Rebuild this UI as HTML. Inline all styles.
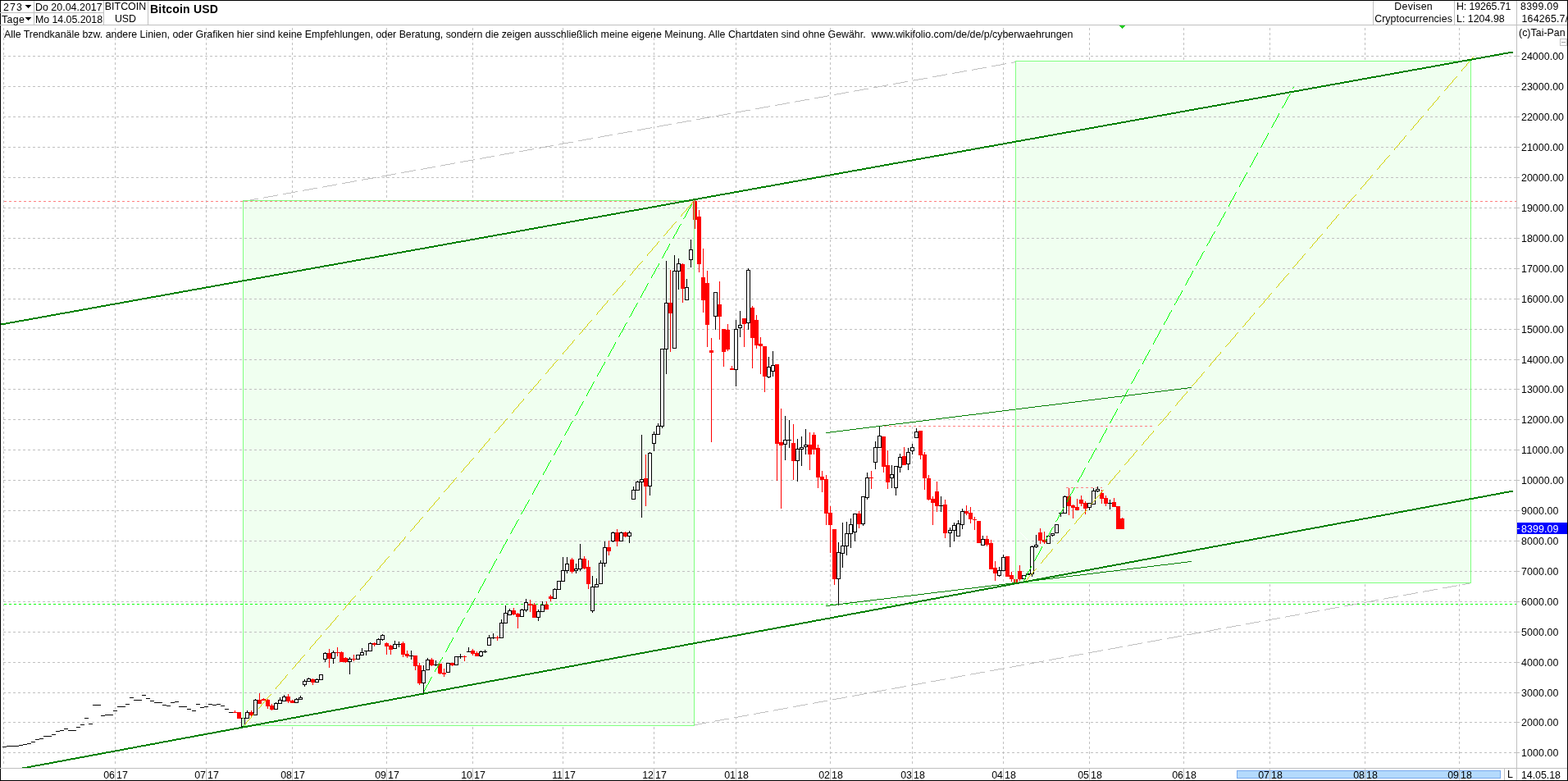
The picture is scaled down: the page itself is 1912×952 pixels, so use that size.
<!DOCTYPE html>
<html><head><meta charset="utf-8"><title>Bitcoin USD</title>
<style>html,body{margin:0;padding:0;background:#fff;overflow:hidden}svg{display:block}
text{white-space:pre}</style></head>
<body>
<svg width="1912" height="952" viewBox="0 0 1912 952" shape-rendering="crispEdges">
<rect x="0" y="0" width="1912" height="952" fill="#ffffff"/>
<defs><clipPath id="ch"><rect x="1" y="31" width="1848" height="905"/></clipPath></defs>
<g clip-path="url(#ch)">
<path d="M4 34h1v3h-1zM4 40h1v3h-1zM4 46h1v3h-1zM4 52h1v3h-1zM4 58h1v3h-1zM4 64h1v3h-1zM4 70h1v3h-1zM4 76h1v3h-1zM4 82h1v3h-1zM4 88h1v3h-1zM4 94h1v3h-1zM4 100h1v3h-1zM4 106h1v3h-1zM4 112h1v3h-1zM4 118h1v3h-1zM4 124h1v3h-1zM4 130h1v3h-1zM4 136h1v3h-1zM4 142h1v3h-1zM4 148h1v3h-1zM4 154h1v3h-1zM4 160h1v3h-1zM4 166h1v3h-1zM4 172h1v3h-1zM4 178h1v3h-1zM4 184h1v3h-1zM4 190h1v3h-1zM4 196h1v3h-1zM4 202h1v3h-1zM4 208h1v3h-1zM4 214h1v3h-1zM4 220h1v3h-1zM4 226h1v3h-1zM4 232h1v3h-1zM4 238h1v3h-1zM4 244h1v3h-1zM4 250h1v3h-1zM4 256h1v3h-1zM4 262h1v3h-1zM4 268h1v3h-1zM4 274h1v3h-1zM4 280h1v3h-1zM4 286h1v3h-1zM4 292h1v3h-1zM4 298h1v3h-1zM4 304h1v3h-1zM4 310h1v3h-1zM4 316h1v3h-1zM4 322h1v3h-1zM4 328h1v3h-1zM4 334h1v3h-1zM4 340h1v3h-1zM4 346h1v3h-1zM4 352h1v3h-1zM4 358h1v3h-1zM4 364h1v3h-1zM4 370h1v3h-1zM4 376h1v3h-1zM4 382h1v3h-1zM4 388h1v3h-1zM4 394h1v3h-1zM4 400h1v3h-1zM4 406h1v3h-1zM4 412h1v3h-1zM4 418h1v3h-1zM4 424h1v3h-1zM4 430h1v3h-1zM4 436h1v3h-1zM4 442h1v3h-1zM4 448h1v3h-1zM4 454h1v3h-1zM4 460h1v3h-1zM4 466h1v3h-1zM4 472h1v3h-1zM4 478h1v3h-1zM4 484h1v3h-1zM4 490h1v3h-1zM4 496h1v3h-1zM4 502h1v3h-1zM4 508h1v3h-1zM4 514h1v3h-1zM4 520h1v3h-1zM4 526h1v3h-1zM4 532h1v3h-1zM4 538h1v3h-1zM4 544h1v3h-1zM4 550h1v3h-1zM4 556h1v3h-1zM4 562h1v3h-1zM4 568h1v3h-1zM4 574h1v3h-1zM4 580h1v3h-1zM4 586h1v3h-1zM4 592h1v3h-1zM4 598h1v3h-1zM4 604h1v3h-1zM4 610h1v3h-1zM4 616h1v3h-1zM4 622h1v3h-1zM4 628h1v3h-1zM4 634h1v3h-1zM4 640h1v3h-1zM4 646h1v3h-1zM4 652h1v3h-1zM4 658h1v3h-1zM4 664h1v3h-1zM4 670h1v3h-1zM4 676h1v3h-1zM4 682h1v3h-1zM4 688h1v3h-1zM4 694h1v3h-1zM4 700h1v3h-1zM4 706h1v3h-1zM4 712h1v3h-1zM4 718h1v3h-1zM4 724h1v3h-1zM4 730h1v3h-1zM4 736h1v3h-1zM4 742h1v3h-1zM4 748h1v3h-1zM4 754h1v3h-1zM4 760h1v3h-1zM4 766h1v3h-1zM4 772h1v3h-1zM4 778h1v3h-1zM4 784h1v3h-1zM4 790h1v3h-1zM4 796h1v3h-1zM4 802h1v3h-1zM4 808h1v3h-1zM4 814h1v3h-1zM4 820h1v3h-1zM4 826h1v3h-1zM4 832h1v3h-1zM4 838h1v3h-1zM4 844h1v3h-1zM4 850h1v3h-1zM4 856h1v3h-1zM4 862h1v3h-1zM4 868h1v3h-1zM4 874h1v3h-1zM4 880h1v3h-1zM4 886h1v3h-1zM4 892h1v3h-1zM4 898h1v3h-1zM4 904h1v3h-1zM4 910h1v3h-1zM4 916h1v3h-1zM4 922h1v3h-1zM4 928h1v3h-1zM140 34h1v3h-1zM140 40h1v3h-1zM140 46h1v3h-1zM140 52h1v3h-1zM140 58h1v3h-1zM140 64h1v3h-1zM140 70h1v3h-1zM140 76h1v3h-1zM140 82h1v3h-1zM140 88h1v3h-1zM140 94h1v3h-1zM140 100h1v3h-1zM140 106h1v3h-1zM140 112h1v3h-1zM140 118h1v3h-1zM140 124h1v3h-1zM140 130h1v3h-1zM140 136h1v3h-1zM140 142h1v3h-1zM140 148h1v3h-1zM140 154h1v3h-1zM140 160h1v3h-1zM140 166h1v3h-1zM140 172h1v3h-1zM140 178h1v3h-1zM140 184h1v3h-1zM140 190h1v3h-1zM140 196h1v3h-1zM140 202h1v3h-1zM140 208h1v3h-1zM140 214h1v3h-1zM140 220h1v3h-1zM140 226h1v3h-1zM140 232h1v3h-1zM140 238h1v3h-1zM140 244h1v3h-1zM140 250h1v3h-1zM140 256h1v3h-1zM140 262h1v3h-1zM140 268h1v3h-1zM140 274h1v3h-1zM140 280h1v3h-1zM140 286h1v3h-1zM140 292h1v3h-1zM140 298h1v3h-1zM140 304h1v3h-1zM140 310h1v3h-1zM140 316h1v3h-1zM140 322h1v3h-1zM140 328h1v3h-1zM140 334h1v3h-1zM140 340h1v3h-1zM140 346h1v3h-1zM140 352h1v3h-1zM140 358h1v3h-1zM140 364h1v3h-1zM140 370h1v3h-1zM140 376h1v3h-1zM140 382h1v3h-1zM140 388h1v3h-1zM140 394h1v3h-1zM140 400h1v3h-1zM140 406h1v3h-1zM140 412h1v3h-1zM140 418h1v3h-1zM140 424h1v3h-1zM140 430h1v3h-1zM140 436h1v3h-1zM140 442h1v3h-1zM140 448h1v3h-1zM140 454h1v3h-1zM140 460h1v3h-1zM140 466h1v3h-1zM140 472h1v3h-1zM140 478h1v3h-1zM140 484h1v3h-1zM140 490h1v3h-1zM140 496h1v3h-1zM140 502h1v3h-1zM140 508h1v3h-1zM140 514h1v3h-1zM140 520h1v3h-1zM140 526h1v3h-1zM140 532h1v3h-1zM140 538h1v3h-1zM140 544h1v3h-1zM140 550h1v3h-1zM140 556h1v3h-1zM140 562h1v3h-1zM140 568h1v3h-1zM140 574h1v3h-1zM140 580h1v3h-1zM140 586h1v3h-1zM140 592h1v3h-1zM140 598h1v3h-1zM140 604h1v3h-1zM140 610h1v3h-1zM140 616h1v3h-1zM140 622h1v3h-1zM140 628h1v3h-1zM140 634h1v3h-1zM140 640h1v3h-1zM140 646h1v3h-1zM140 652h1v3h-1zM140 658h1v3h-1zM140 664h1v3h-1zM140 670h1v3h-1zM140 676h1v3h-1zM140 682h1v3h-1zM140 688h1v3h-1zM140 694h1v3h-1zM140 700h1v3h-1zM140 706h1v3h-1zM140 712h1v3h-1zM140 718h1v3h-1zM140 724h1v3h-1zM140 730h1v3h-1zM140 736h1v3h-1zM140 742h1v3h-1zM140 748h1v3h-1zM140 754h1v3h-1zM140 760h1v3h-1zM140 766h1v3h-1zM140 772h1v3h-1zM140 778h1v3h-1zM140 784h1v3h-1zM140 790h1v3h-1zM140 796h1v3h-1zM140 802h1v3h-1zM140 808h1v3h-1zM140 814h1v3h-1zM140 820h1v3h-1zM140 826h1v3h-1zM140 832h1v3h-1zM140 838h1v3h-1zM140 844h1v3h-1zM140 850h1v3h-1zM140 856h1v3h-1zM140 862h1v3h-1zM140 868h1v3h-1zM140 874h1v3h-1zM140 880h1v3h-1zM140 886h1v3h-1zM140 892h1v3h-1zM140 898h1v3h-1zM140 904h1v3h-1zM140 910h1v3h-1zM140 916h1v3h-1zM140 922h1v3h-1zM140 928h1v3h-1zM251 34h1v3h-1zM251 40h1v3h-1zM251 46h1v3h-1zM251 52h1v3h-1zM251 58h1v3h-1zM251 64h1v3h-1zM251 70h1v3h-1zM251 76h1v3h-1zM251 82h1v3h-1zM251 88h1v3h-1zM251 94h1v3h-1zM251 100h1v3h-1zM251 106h1v3h-1zM251 112h1v3h-1zM251 118h1v3h-1zM251 124h1v3h-1zM251 130h1v3h-1zM251 136h1v3h-1zM251 142h1v3h-1zM251 148h1v3h-1zM251 154h1v3h-1zM251 160h1v3h-1zM251 166h1v3h-1zM251 172h1v3h-1zM251 178h1v3h-1zM251 184h1v3h-1zM251 190h1v3h-1zM251 196h1v3h-1zM251 202h1v3h-1zM251 208h1v3h-1zM251 214h1v3h-1zM251 220h1v3h-1zM251 226h1v3h-1zM251 232h1v3h-1zM251 238h1v3h-1zM251 244h1v3h-1zM251 250h1v3h-1zM251 256h1v3h-1zM251 262h1v3h-1zM251 268h1v3h-1zM251 274h1v3h-1zM251 280h1v3h-1zM251 286h1v3h-1zM251 292h1v3h-1zM251 298h1v3h-1zM251 304h1v3h-1zM251 310h1v3h-1zM251 316h1v3h-1zM251 322h1v3h-1zM251 328h1v3h-1zM251 334h1v3h-1zM251 340h1v3h-1zM251 346h1v3h-1zM251 352h1v3h-1zM251 358h1v3h-1zM251 364h1v3h-1zM251 370h1v3h-1zM251 376h1v3h-1zM251 382h1v3h-1zM251 388h1v3h-1zM251 394h1v3h-1zM251 400h1v3h-1zM251 406h1v3h-1zM251 412h1v3h-1zM251 418h1v3h-1zM251 424h1v3h-1zM251 430h1v3h-1zM251 436h1v3h-1zM251 442h1v3h-1zM251 448h1v3h-1zM251 454h1v3h-1zM251 460h1v3h-1zM251 466h1v3h-1zM251 472h1v3h-1zM251 478h1v3h-1zM251 484h1v3h-1zM251 490h1v3h-1zM251 496h1v3h-1zM251 502h1v3h-1zM251 508h1v3h-1zM251 514h1v3h-1zM251 520h1v3h-1zM251 526h1v3h-1zM251 532h1v3h-1zM251 538h1v3h-1zM251 544h1v3h-1zM251 550h1v3h-1zM251 556h1v3h-1zM251 562h1v3h-1zM251 568h1v3h-1zM251 574h1v3h-1zM251 580h1v3h-1zM251 586h1v3h-1zM251 592h1v3h-1zM251 598h1v3h-1zM251 604h1v3h-1zM251 610h1v3h-1zM251 616h1v3h-1zM251 622h1v3h-1zM251 628h1v3h-1zM251 634h1v3h-1zM251 640h1v3h-1zM251 646h1v3h-1zM251 652h1v3h-1zM251 658h1v3h-1zM251 664h1v3h-1zM251 670h1v3h-1zM251 676h1v3h-1zM251 682h1v3h-1zM251 688h1v3h-1zM251 694h1v3h-1zM251 700h1v3h-1zM251 706h1v3h-1zM251 712h1v3h-1zM251 718h1v3h-1zM251 724h1v3h-1zM251 730h1v3h-1zM251 736h1v3h-1zM251 742h1v3h-1zM251 748h1v3h-1zM251 754h1v3h-1zM251 760h1v3h-1zM251 766h1v3h-1zM251 772h1v3h-1zM251 778h1v3h-1zM251 784h1v3h-1zM251 790h1v3h-1zM251 796h1v3h-1zM251 802h1v3h-1zM251 808h1v3h-1zM251 814h1v3h-1zM251 820h1v3h-1zM251 826h1v3h-1zM251 832h1v3h-1zM251 838h1v3h-1zM251 844h1v3h-1zM251 850h1v3h-1zM251 856h1v3h-1zM251 862h1v3h-1zM251 868h1v3h-1zM251 874h1v3h-1zM251 880h1v3h-1zM251 886h1v3h-1zM251 892h1v3h-1zM251 898h1v3h-1zM251 904h1v3h-1zM251 910h1v3h-1zM251 916h1v3h-1zM251 922h1v3h-1zM251 928h1v3h-1zM356 34h1v3h-1zM356 40h1v3h-1zM356 46h1v3h-1zM356 52h1v3h-1zM356 58h1v3h-1zM356 64h1v3h-1zM356 70h1v3h-1zM356 76h1v3h-1zM356 82h1v3h-1zM356 88h1v3h-1zM356 94h1v3h-1zM356 100h1v3h-1zM356 106h1v3h-1zM356 112h1v3h-1zM356 118h1v3h-1zM356 124h1v3h-1zM356 130h1v3h-1zM356 136h1v3h-1zM356 142h1v3h-1zM356 148h1v3h-1zM356 154h1v3h-1zM356 160h1v3h-1zM356 166h1v3h-1zM356 172h1v3h-1zM356 178h1v3h-1zM356 184h1v3h-1zM356 190h1v3h-1zM356 196h1v3h-1zM356 202h1v3h-1zM356 208h1v3h-1zM356 214h1v3h-1zM356 220h1v3h-1zM356 226h1v3h-1zM356 232h1v3h-1zM356 238h1v3h-1zM356 244h1v3h-1zM356 250h1v3h-1zM356 256h1v3h-1zM356 262h1v3h-1zM356 268h1v3h-1zM356 274h1v3h-1zM356 280h1v3h-1zM356 286h1v3h-1zM356 292h1v3h-1zM356 298h1v3h-1zM356 304h1v3h-1zM356 310h1v3h-1zM356 316h1v3h-1zM356 322h1v3h-1zM356 328h1v3h-1zM356 334h1v3h-1zM356 340h1v3h-1zM356 346h1v3h-1zM356 352h1v3h-1zM356 358h1v3h-1zM356 364h1v3h-1zM356 370h1v3h-1zM356 376h1v3h-1zM356 382h1v3h-1zM356 388h1v3h-1zM356 394h1v3h-1zM356 400h1v3h-1zM356 406h1v3h-1zM356 412h1v3h-1zM356 418h1v3h-1zM356 424h1v3h-1zM356 430h1v3h-1zM356 436h1v3h-1zM356 442h1v3h-1zM356 448h1v3h-1zM356 454h1v3h-1zM356 460h1v3h-1zM356 466h1v3h-1zM356 472h1v3h-1zM356 478h1v3h-1zM356 484h1v3h-1zM356 490h1v3h-1zM356 496h1v3h-1zM356 502h1v3h-1zM356 508h1v3h-1zM356 514h1v3h-1zM356 520h1v3h-1zM356 526h1v3h-1zM356 532h1v3h-1zM356 538h1v3h-1zM356 544h1v3h-1zM356 550h1v3h-1zM356 556h1v3h-1zM356 562h1v3h-1zM356 568h1v3h-1zM356 574h1v3h-1zM356 580h1v3h-1zM356 586h1v3h-1zM356 592h1v3h-1zM356 598h1v3h-1zM356 604h1v3h-1zM356 610h1v3h-1zM356 616h1v3h-1zM356 622h1v3h-1zM356 628h1v3h-1zM356 634h1v3h-1zM356 640h1v3h-1zM356 646h1v3h-1zM356 652h1v3h-1zM356 658h1v3h-1zM356 664h1v3h-1zM356 670h1v3h-1zM356 676h1v3h-1zM356 682h1v3h-1zM356 688h1v3h-1zM356 694h1v3h-1zM356 700h1v3h-1zM356 706h1v3h-1zM356 712h1v3h-1zM356 718h1v3h-1zM356 724h1v3h-1zM356 730h1v3h-1zM356 736h1v3h-1zM356 742h1v3h-1zM356 748h1v3h-1zM356 754h1v3h-1zM356 760h1v3h-1zM356 766h1v3h-1zM356 772h1v3h-1zM356 778h1v3h-1zM356 784h1v3h-1zM356 790h1v3h-1zM356 796h1v3h-1zM356 802h1v3h-1zM356 808h1v3h-1zM356 814h1v3h-1zM356 820h1v3h-1zM356 826h1v3h-1zM356 832h1v3h-1zM356 838h1v3h-1zM356 844h1v3h-1zM356 850h1v3h-1zM356 856h1v3h-1zM356 862h1v3h-1zM356 868h1v3h-1zM356 874h1v3h-1zM356 880h1v3h-1zM356 886h1v3h-1zM356 892h1v3h-1zM356 898h1v3h-1zM356 904h1v3h-1zM356 910h1v3h-1zM356 916h1v3h-1zM356 922h1v3h-1zM356 928h1v3h-1zM471 34h1v3h-1zM471 40h1v3h-1zM471 46h1v3h-1zM471 52h1v3h-1zM471 58h1v3h-1zM471 64h1v3h-1zM471 70h1v3h-1zM471 76h1v3h-1zM471 82h1v3h-1zM471 88h1v3h-1zM471 94h1v3h-1zM471 100h1v3h-1zM471 106h1v3h-1zM471 112h1v3h-1zM471 118h1v3h-1zM471 124h1v3h-1zM471 130h1v3h-1zM471 136h1v3h-1zM471 142h1v3h-1zM471 148h1v3h-1zM471 154h1v3h-1zM471 160h1v3h-1zM471 166h1v3h-1zM471 172h1v3h-1zM471 178h1v3h-1zM471 184h1v3h-1zM471 190h1v3h-1zM471 196h1v3h-1zM471 202h1v3h-1zM471 208h1v3h-1zM471 214h1v3h-1zM471 220h1v3h-1zM471 226h1v3h-1zM471 232h1v3h-1zM471 238h1v3h-1zM471 244h1v3h-1zM471 250h1v3h-1zM471 256h1v3h-1zM471 262h1v3h-1zM471 268h1v3h-1zM471 274h1v3h-1zM471 280h1v3h-1zM471 286h1v3h-1zM471 292h1v3h-1zM471 298h1v3h-1zM471 304h1v3h-1zM471 310h1v3h-1zM471 316h1v3h-1zM471 322h1v3h-1zM471 328h1v3h-1zM471 334h1v3h-1zM471 340h1v3h-1zM471 346h1v3h-1zM471 352h1v3h-1zM471 358h1v3h-1zM471 364h1v3h-1zM471 370h1v3h-1zM471 376h1v3h-1zM471 382h1v3h-1zM471 388h1v3h-1zM471 394h1v3h-1zM471 400h1v3h-1zM471 406h1v3h-1zM471 412h1v3h-1zM471 418h1v3h-1zM471 424h1v3h-1zM471 430h1v3h-1zM471 436h1v3h-1zM471 442h1v3h-1zM471 448h1v3h-1zM471 454h1v3h-1zM471 460h1v3h-1zM471 466h1v3h-1zM471 472h1v3h-1zM471 478h1v3h-1zM471 484h1v3h-1zM471 490h1v3h-1zM471 496h1v3h-1zM471 502h1v3h-1zM471 508h1v3h-1zM471 514h1v3h-1zM471 520h1v3h-1zM471 526h1v3h-1zM471 532h1v3h-1zM471 538h1v3h-1zM471 544h1v3h-1zM471 550h1v3h-1zM471 556h1v3h-1zM471 562h1v3h-1zM471 568h1v3h-1zM471 574h1v3h-1zM471 580h1v3h-1zM471 586h1v3h-1zM471 592h1v3h-1zM471 598h1v3h-1zM471 604h1v3h-1zM471 610h1v3h-1zM471 616h1v3h-1zM471 622h1v3h-1zM471 628h1v3h-1zM471 634h1v3h-1zM471 640h1v3h-1zM471 646h1v3h-1zM471 652h1v3h-1zM471 658h1v3h-1zM471 664h1v3h-1zM471 670h1v3h-1zM471 676h1v3h-1zM471 682h1v3h-1zM471 688h1v3h-1zM471 694h1v3h-1zM471 700h1v3h-1zM471 706h1v3h-1zM471 712h1v3h-1zM471 718h1v3h-1zM471 724h1v3h-1zM471 730h1v3h-1zM471 736h1v3h-1zM471 742h1v3h-1zM471 748h1v3h-1zM471 754h1v3h-1zM471 760h1v3h-1zM471 766h1v3h-1zM471 772h1v3h-1zM471 778h1v3h-1zM471 784h1v3h-1zM471 790h1v3h-1zM471 796h1v3h-1zM471 802h1v3h-1zM471 808h1v3h-1zM471 814h1v3h-1zM471 820h1v3h-1zM471 826h1v3h-1zM471 832h1v3h-1zM471 838h1v3h-1zM471 844h1v3h-1zM471 850h1v3h-1zM471 856h1v3h-1zM471 862h1v3h-1zM471 868h1v3h-1zM471 874h1v3h-1zM471 880h1v3h-1zM471 886h1v3h-1zM471 892h1v3h-1zM471 898h1v3h-1zM471 904h1v3h-1zM471 910h1v3h-1zM471 916h1v3h-1zM471 922h1v3h-1zM471 928h1v3h-1zM576 34h1v3h-1zM576 40h1v3h-1zM576 46h1v3h-1zM576 52h1v3h-1zM576 58h1v3h-1zM576 64h1v3h-1zM576 70h1v3h-1zM576 76h1v3h-1zM576 82h1v3h-1zM576 88h1v3h-1zM576 94h1v3h-1zM576 100h1v3h-1zM576 106h1v3h-1zM576 112h1v3h-1zM576 118h1v3h-1zM576 124h1v3h-1zM576 130h1v3h-1zM576 136h1v3h-1zM576 142h1v3h-1zM576 148h1v3h-1zM576 154h1v3h-1zM576 160h1v3h-1zM576 166h1v3h-1zM576 172h1v3h-1zM576 178h1v3h-1zM576 184h1v3h-1zM576 190h1v3h-1zM576 196h1v3h-1zM576 202h1v3h-1zM576 208h1v3h-1zM576 214h1v3h-1zM576 220h1v3h-1zM576 226h1v3h-1zM576 232h1v3h-1zM576 238h1v3h-1zM576 244h1v3h-1zM576 250h1v3h-1zM576 256h1v3h-1zM576 262h1v3h-1zM576 268h1v3h-1zM576 274h1v3h-1zM576 280h1v3h-1zM576 286h1v3h-1zM576 292h1v3h-1zM576 298h1v3h-1zM576 304h1v3h-1zM576 310h1v3h-1zM576 316h1v3h-1zM576 322h1v3h-1zM576 328h1v3h-1zM576 334h1v3h-1zM576 340h1v3h-1zM576 346h1v3h-1zM576 352h1v3h-1zM576 358h1v3h-1zM576 364h1v3h-1zM576 370h1v3h-1zM576 376h1v3h-1zM576 382h1v3h-1zM576 388h1v3h-1zM576 394h1v3h-1zM576 400h1v3h-1zM576 406h1v3h-1zM576 412h1v3h-1zM576 418h1v3h-1zM576 424h1v3h-1zM576 430h1v3h-1zM576 436h1v3h-1zM576 442h1v3h-1zM576 448h1v3h-1zM576 454h1v3h-1zM576 460h1v3h-1zM576 466h1v3h-1zM576 472h1v3h-1zM576 478h1v3h-1zM576 484h1v3h-1zM576 490h1v3h-1zM576 496h1v3h-1zM576 502h1v3h-1zM576 508h1v3h-1zM576 514h1v3h-1zM576 520h1v3h-1zM576 526h1v3h-1zM576 532h1v3h-1zM576 538h1v3h-1zM576 544h1v3h-1zM576 550h1v3h-1zM576 556h1v3h-1zM576 562h1v3h-1zM576 568h1v3h-1zM576 574h1v3h-1zM576 580h1v3h-1zM576 586h1v3h-1zM576 592h1v3h-1zM576 598h1v3h-1zM576 604h1v3h-1zM576 610h1v3h-1zM576 616h1v3h-1zM576 622h1v3h-1zM576 628h1v3h-1zM576 634h1v3h-1zM576 640h1v3h-1zM576 646h1v3h-1zM576 652h1v3h-1zM576 658h1v3h-1zM576 664h1v3h-1zM576 670h1v3h-1zM576 676h1v3h-1zM576 682h1v3h-1zM576 688h1v3h-1zM576 694h1v3h-1zM576 700h1v3h-1zM576 706h1v3h-1zM576 712h1v3h-1zM576 718h1v3h-1zM576 724h1v3h-1zM576 730h1v3h-1zM576 736h1v3h-1zM576 742h1v3h-1zM576 748h1v3h-1zM576 754h1v3h-1zM576 760h1v3h-1zM576 766h1v3h-1zM576 772h1v3h-1zM576 778h1v3h-1zM576 784h1v3h-1zM576 790h1v3h-1zM576 796h1v3h-1zM576 802h1v3h-1zM576 808h1v3h-1zM576 814h1v3h-1zM576 820h1v3h-1zM576 826h1v3h-1zM576 832h1v3h-1zM576 838h1v3h-1zM576 844h1v3h-1zM576 850h1v3h-1zM576 856h1v3h-1zM576 862h1v3h-1zM576 868h1v3h-1zM576 874h1v3h-1zM576 880h1v3h-1zM576 886h1v3h-1zM576 892h1v3h-1zM576 898h1v3h-1zM576 904h1v3h-1zM576 910h1v3h-1zM576 916h1v3h-1zM576 922h1v3h-1zM576 928h1v3h-1zM686 34h1v3h-1zM686 40h1v3h-1zM686 46h1v3h-1zM686 52h1v3h-1zM686 58h1v3h-1zM686 64h1v3h-1zM686 70h1v3h-1zM686 76h1v3h-1zM686 82h1v3h-1zM686 88h1v3h-1zM686 94h1v3h-1zM686 100h1v3h-1zM686 106h1v3h-1zM686 112h1v3h-1zM686 118h1v3h-1zM686 124h1v3h-1zM686 130h1v3h-1zM686 136h1v3h-1zM686 142h1v3h-1zM686 148h1v3h-1zM686 154h1v3h-1zM686 160h1v3h-1zM686 166h1v3h-1zM686 172h1v3h-1zM686 178h1v3h-1zM686 184h1v3h-1zM686 190h1v3h-1zM686 196h1v3h-1zM686 202h1v3h-1zM686 208h1v3h-1zM686 214h1v3h-1zM686 220h1v3h-1zM686 226h1v3h-1zM686 232h1v3h-1zM686 238h1v3h-1zM686 244h1v3h-1zM686 250h1v3h-1zM686 256h1v3h-1zM686 262h1v3h-1zM686 268h1v3h-1zM686 274h1v3h-1zM686 280h1v3h-1zM686 286h1v3h-1zM686 292h1v3h-1zM686 298h1v3h-1zM686 304h1v3h-1zM686 310h1v3h-1zM686 316h1v3h-1zM686 322h1v3h-1zM686 328h1v3h-1zM686 334h1v3h-1zM686 340h1v3h-1zM686 346h1v3h-1zM686 352h1v3h-1zM686 358h1v3h-1zM686 364h1v3h-1zM686 370h1v3h-1zM686 376h1v3h-1zM686 382h1v3h-1zM686 388h1v3h-1zM686 394h1v3h-1zM686 400h1v3h-1zM686 406h1v3h-1zM686 412h1v3h-1zM686 418h1v3h-1zM686 424h1v3h-1zM686 430h1v3h-1zM686 436h1v3h-1zM686 442h1v3h-1zM686 448h1v3h-1zM686 454h1v3h-1zM686 460h1v3h-1zM686 466h1v3h-1zM686 472h1v3h-1zM686 478h1v3h-1zM686 484h1v3h-1zM686 490h1v3h-1zM686 496h1v3h-1zM686 502h1v3h-1zM686 508h1v3h-1zM686 514h1v3h-1zM686 520h1v3h-1zM686 526h1v3h-1zM686 532h1v3h-1zM686 538h1v3h-1zM686 544h1v3h-1zM686 550h1v3h-1zM686 556h1v3h-1zM686 562h1v3h-1zM686 568h1v3h-1zM686 574h1v3h-1zM686 580h1v3h-1zM686 586h1v3h-1zM686 592h1v3h-1zM686 598h1v3h-1zM686 604h1v3h-1zM686 610h1v3h-1zM686 616h1v3h-1zM686 622h1v3h-1zM686 628h1v3h-1zM686 634h1v3h-1zM686 640h1v3h-1zM686 646h1v3h-1zM686 652h1v3h-1zM686 658h1v3h-1zM686 664h1v3h-1zM686 670h1v3h-1zM686 676h1v3h-1zM686 682h1v3h-1zM686 688h1v3h-1zM686 694h1v3h-1zM686 700h1v3h-1zM686 706h1v3h-1zM686 712h1v3h-1zM686 718h1v3h-1zM686 724h1v3h-1zM686 730h1v3h-1zM686 736h1v3h-1zM686 742h1v3h-1zM686 748h1v3h-1zM686 754h1v3h-1zM686 760h1v3h-1zM686 766h1v3h-1zM686 772h1v3h-1zM686 778h1v3h-1zM686 784h1v3h-1zM686 790h1v3h-1zM686 796h1v3h-1zM686 802h1v3h-1zM686 808h1v3h-1zM686 814h1v3h-1zM686 820h1v3h-1zM686 826h1v3h-1zM686 832h1v3h-1zM686 838h1v3h-1zM686 844h1v3h-1zM686 850h1v3h-1zM686 856h1v3h-1zM686 862h1v3h-1zM686 868h1v3h-1zM686 874h1v3h-1zM686 880h1v3h-1zM686 886h1v3h-1zM686 892h1v3h-1zM686 898h1v3h-1zM686 904h1v3h-1zM686 910h1v3h-1zM686 916h1v3h-1zM686 922h1v3h-1zM686 928h1v3h-1zM797 34h1v3h-1zM797 40h1v3h-1zM797 46h1v3h-1zM797 52h1v3h-1zM797 58h1v3h-1zM797 64h1v3h-1zM797 70h1v3h-1zM797 76h1v3h-1zM797 82h1v3h-1zM797 88h1v3h-1zM797 94h1v3h-1zM797 100h1v3h-1zM797 106h1v3h-1zM797 112h1v3h-1zM797 118h1v3h-1zM797 124h1v3h-1zM797 130h1v3h-1zM797 136h1v3h-1zM797 142h1v3h-1zM797 148h1v3h-1zM797 154h1v3h-1zM797 160h1v3h-1zM797 166h1v3h-1zM797 172h1v3h-1zM797 178h1v3h-1zM797 184h1v3h-1zM797 190h1v3h-1zM797 196h1v3h-1zM797 202h1v3h-1zM797 208h1v3h-1zM797 214h1v3h-1zM797 220h1v3h-1zM797 226h1v3h-1zM797 232h1v3h-1zM797 238h1v3h-1zM797 244h1v3h-1zM797 250h1v3h-1zM797 256h1v3h-1zM797 262h1v3h-1zM797 268h1v3h-1zM797 274h1v3h-1zM797 280h1v3h-1zM797 286h1v3h-1zM797 292h1v3h-1zM797 298h1v3h-1zM797 304h1v3h-1zM797 310h1v3h-1zM797 316h1v3h-1zM797 322h1v3h-1zM797 328h1v3h-1zM797 334h1v3h-1zM797 340h1v3h-1zM797 346h1v3h-1zM797 352h1v3h-1zM797 358h1v3h-1zM797 364h1v3h-1zM797 370h1v3h-1zM797 376h1v3h-1zM797 382h1v3h-1zM797 388h1v3h-1zM797 394h1v3h-1zM797 400h1v3h-1zM797 406h1v3h-1zM797 412h1v3h-1zM797 418h1v3h-1zM797 424h1v3h-1zM797 430h1v3h-1zM797 436h1v3h-1zM797 442h1v3h-1zM797 448h1v3h-1zM797 454h1v3h-1zM797 460h1v3h-1zM797 466h1v3h-1zM797 472h1v3h-1zM797 478h1v3h-1zM797 484h1v3h-1zM797 490h1v3h-1zM797 496h1v3h-1zM797 502h1v3h-1zM797 508h1v3h-1zM797 514h1v3h-1zM797 520h1v3h-1zM797 526h1v3h-1zM797 532h1v3h-1zM797 538h1v3h-1zM797 544h1v3h-1zM797 550h1v3h-1zM797 556h1v3h-1zM797 562h1v3h-1zM797 568h1v3h-1zM797 574h1v3h-1zM797 580h1v3h-1zM797 586h1v3h-1zM797 592h1v3h-1zM797 598h1v3h-1zM797 604h1v3h-1zM797 610h1v3h-1zM797 616h1v3h-1zM797 622h1v3h-1zM797 628h1v3h-1zM797 634h1v3h-1zM797 640h1v3h-1zM797 646h1v3h-1zM797 652h1v3h-1zM797 658h1v3h-1zM797 664h1v3h-1zM797 670h1v3h-1zM797 676h1v3h-1zM797 682h1v3h-1zM797 688h1v3h-1zM797 694h1v3h-1zM797 700h1v3h-1zM797 706h1v3h-1zM797 712h1v3h-1zM797 718h1v3h-1zM797 724h1v3h-1zM797 730h1v3h-1zM797 736h1v3h-1zM797 742h1v3h-1zM797 748h1v3h-1zM797 754h1v3h-1zM797 760h1v3h-1zM797 766h1v3h-1zM797 772h1v3h-1zM797 778h1v3h-1zM797 784h1v3h-1zM797 790h1v3h-1zM797 796h1v3h-1zM797 802h1v3h-1zM797 808h1v3h-1zM797 814h1v3h-1zM797 820h1v3h-1zM797 826h1v3h-1zM797 832h1v3h-1zM797 838h1v3h-1zM797 844h1v3h-1zM797 850h1v3h-1zM797 856h1v3h-1zM797 862h1v3h-1zM797 868h1v3h-1zM797 874h1v3h-1zM797 880h1v3h-1zM797 886h1v3h-1zM797 892h1v3h-1zM797 898h1v3h-1zM797 904h1v3h-1zM797 910h1v3h-1zM797 916h1v3h-1zM797 922h1v3h-1zM797 928h1v3h-1zM897 34h1v3h-1zM897 40h1v3h-1zM897 46h1v3h-1zM897 52h1v3h-1zM897 58h1v3h-1zM897 64h1v3h-1zM897 70h1v3h-1zM897 76h1v3h-1zM897 82h1v3h-1zM897 88h1v3h-1zM897 94h1v3h-1zM897 100h1v3h-1zM897 106h1v3h-1zM897 112h1v3h-1zM897 118h1v3h-1zM897 124h1v3h-1zM897 130h1v3h-1zM897 136h1v3h-1zM897 142h1v3h-1zM897 148h1v3h-1zM897 154h1v3h-1zM897 160h1v3h-1zM897 166h1v3h-1zM897 172h1v3h-1zM897 178h1v3h-1zM897 184h1v3h-1zM897 190h1v3h-1zM897 196h1v3h-1zM897 202h1v3h-1zM897 208h1v3h-1zM897 214h1v3h-1zM897 220h1v3h-1zM897 226h1v3h-1zM897 232h1v3h-1zM897 238h1v3h-1zM897 244h1v3h-1zM897 250h1v3h-1zM897 256h1v3h-1zM897 262h1v3h-1zM897 268h1v3h-1zM897 274h1v3h-1zM897 280h1v3h-1zM897 286h1v3h-1zM897 292h1v3h-1zM897 298h1v3h-1zM897 304h1v3h-1zM897 310h1v3h-1zM897 316h1v3h-1zM897 322h1v3h-1zM897 328h1v3h-1zM897 334h1v3h-1zM897 340h1v3h-1zM897 346h1v3h-1zM897 352h1v3h-1zM897 358h1v3h-1zM897 364h1v3h-1zM897 370h1v3h-1zM897 376h1v3h-1zM897 382h1v3h-1zM897 388h1v3h-1zM897 394h1v3h-1zM897 400h1v3h-1zM897 406h1v3h-1zM897 412h1v3h-1zM897 418h1v3h-1zM897 424h1v3h-1zM897 430h1v3h-1zM897 436h1v3h-1zM897 442h1v3h-1zM897 448h1v3h-1zM897 454h1v3h-1zM897 460h1v3h-1zM897 466h1v3h-1zM897 472h1v3h-1zM897 478h1v3h-1zM897 484h1v3h-1zM897 490h1v3h-1zM897 496h1v3h-1zM897 502h1v3h-1zM897 508h1v3h-1zM897 514h1v3h-1zM897 520h1v3h-1zM897 526h1v3h-1zM897 532h1v3h-1zM897 538h1v3h-1zM897 544h1v3h-1zM897 550h1v3h-1zM897 556h1v3h-1zM897 562h1v3h-1zM897 568h1v3h-1zM897 574h1v3h-1zM897 580h1v3h-1zM897 586h1v3h-1zM897 592h1v3h-1zM897 598h1v3h-1zM897 604h1v3h-1zM897 610h1v3h-1zM897 616h1v3h-1zM897 622h1v3h-1zM897 628h1v3h-1zM897 634h1v3h-1zM897 640h1v3h-1zM897 646h1v3h-1zM897 652h1v3h-1zM897 658h1v3h-1zM897 664h1v3h-1zM897 670h1v3h-1zM897 676h1v3h-1zM897 682h1v3h-1zM897 688h1v3h-1zM897 694h1v3h-1zM897 700h1v3h-1zM897 706h1v3h-1zM897 712h1v3h-1zM897 718h1v3h-1zM897 724h1v3h-1zM897 730h1v3h-1zM897 736h1v3h-1zM897 742h1v3h-1zM897 748h1v3h-1zM897 754h1v3h-1zM897 760h1v3h-1zM897 766h1v3h-1zM897 772h1v3h-1zM897 778h1v3h-1zM897 784h1v3h-1zM897 790h1v3h-1zM897 796h1v3h-1zM897 802h1v3h-1zM897 808h1v3h-1zM897 814h1v3h-1zM897 820h1v3h-1zM897 826h1v3h-1zM897 832h1v3h-1zM897 838h1v3h-1zM897 844h1v3h-1zM897 850h1v3h-1zM897 856h1v3h-1zM897 862h1v3h-1zM897 868h1v3h-1zM897 874h1v3h-1zM897 880h1v3h-1zM897 886h1v3h-1zM897 892h1v3h-1zM897 898h1v3h-1zM897 904h1v3h-1zM897 910h1v3h-1zM897 916h1v3h-1zM897 922h1v3h-1zM897 928h1v3h-1zM1012 34h1v3h-1zM1012 40h1v3h-1zM1012 46h1v3h-1zM1012 52h1v3h-1zM1012 58h1v3h-1zM1012 64h1v3h-1zM1012 70h1v3h-1zM1012 76h1v3h-1zM1012 82h1v3h-1zM1012 88h1v3h-1zM1012 94h1v3h-1zM1012 100h1v3h-1zM1012 106h1v3h-1zM1012 112h1v3h-1zM1012 118h1v3h-1zM1012 124h1v3h-1zM1012 130h1v3h-1zM1012 136h1v3h-1zM1012 142h1v3h-1zM1012 148h1v3h-1zM1012 154h1v3h-1zM1012 160h1v3h-1zM1012 166h1v3h-1zM1012 172h1v3h-1zM1012 178h1v3h-1zM1012 184h1v3h-1zM1012 190h1v3h-1zM1012 196h1v3h-1zM1012 202h1v3h-1zM1012 208h1v3h-1zM1012 214h1v3h-1zM1012 220h1v3h-1zM1012 226h1v3h-1zM1012 232h1v3h-1zM1012 238h1v3h-1zM1012 244h1v3h-1zM1012 250h1v3h-1zM1012 256h1v3h-1zM1012 262h1v3h-1zM1012 268h1v3h-1zM1012 274h1v3h-1zM1012 280h1v3h-1zM1012 286h1v3h-1zM1012 292h1v3h-1zM1012 298h1v3h-1zM1012 304h1v3h-1zM1012 310h1v3h-1zM1012 316h1v3h-1zM1012 322h1v3h-1zM1012 328h1v3h-1zM1012 334h1v3h-1zM1012 340h1v3h-1zM1012 346h1v3h-1zM1012 352h1v3h-1zM1012 358h1v3h-1zM1012 364h1v3h-1zM1012 370h1v3h-1zM1012 376h1v3h-1zM1012 382h1v3h-1zM1012 388h1v3h-1zM1012 394h1v3h-1zM1012 400h1v3h-1zM1012 406h1v3h-1zM1012 412h1v3h-1zM1012 418h1v3h-1zM1012 424h1v3h-1zM1012 430h1v3h-1zM1012 436h1v3h-1zM1012 442h1v3h-1zM1012 448h1v3h-1zM1012 454h1v3h-1zM1012 460h1v3h-1zM1012 466h1v3h-1zM1012 472h1v3h-1zM1012 478h1v3h-1zM1012 484h1v3h-1zM1012 490h1v3h-1zM1012 496h1v3h-1zM1012 502h1v3h-1zM1012 508h1v3h-1zM1012 514h1v3h-1zM1012 520h1v3h-1zM1012 526h1v3h-1zM1012 532h1v3h-1zM1012 538h1v3h-1zM1012 544h1v3h-1zM1012 550h1v3h-1zM1012 556h1v3h-1zM1012 562h1v3h-1zM1012 568h1v3h-1zM1012 574h1v3h-1zM1012 580h1v3h-1zM1012 586h1v3h-1zM1012 592h1v3h-1zM1012 598h1v3h-1zM1012 604h1v3h-1zM1012 610h1v3h-1zM1012 616h1v3h-1zM1012 622h1v3h-1zM1012 628h1v3h-1zM1012 634h1v3h-1zM1012 640h1v3h-1zM1012 646h1v3h-1zM1012 652h1v3h-1zM1012 658h1v3h-1zM1012 664h1v3h-1zM1012 670h1v3h-1zM1012 676h1v3h-1zM1012 682h1v3h-1zM1012 688h1v3h-1zM1012 694h1v3h-1zM1012 700h1v3h-1zM1012 706h1v3h-1zM1012 712h1v3h-1zM1012 718h1v3h-1zM1012 724h1v3h-1zM1012 730h1v3h-1zM1012 736h1v3h-1zM1012 742h1v3h-1zM1012 748h1v3h-1zM1012 754h1v3h-1zM1012 760h1v3h-1zM1012 766h1v3h-1zM1012 772h1v3h-1zM1012 778h1v3h-1zM1012 784h1v3h-1zM1012 790h1v3h-1zM1012 796h1v3h-1zM1012 802h1v3h-1zM1012 808h1v3h-1zM1012 814h1v3h-1zM1012 820h1v3h-1zM1012 826h1v3h-1zM1012 832h1v3h-1zM1012 838h1v3h-1zM1012 844h1v3h-1zM1012 850h1v3h-1zM1012 856h1v3h-1zM1012 862h1v3h-1zM1012 868h1v3h-1zM1012 874h1v3h-1zM1012 880h1v3h-1zM1012 886h1v3h-1zM1012 892h1v3h-1zM1012 898h1v3h-1zM1012 904h1v3h-1zM1012 910h1v3h-1zM1012 916h1v3h-1zM1012 922h1v3h-1zM1012 928h1v3h-1zM1112 34h1v3h-1zM1112 40h1v3h-1zM1112 46h1v3h-1zM1112 52h1v3h-1zM1112 58h1v3h-1zM1112 64h1v3h-1zM1112 70h1v3h-1zM1112 76h1v3h-1zM1112 82h1v3h-1zM1112 88h1v3h-1zM1112 94h1v3h-1zM1112 100h1v3h-1zM1112 106h1v3h-1zM1112 112h1v3h-1zM1112 118h1v3h-1zM1112 124h1v3h-1zM1112 130h1v3h-1zM1112 136h1v3h-1zM1112 142h1v3h-1zM1112 148h1v3h-1zM1112 154h1v3h-1zM1112 160h1v3h-1zM1112 166h1v3h-1zM1112 172h1v3h-1zM1112 178h1v3h-1zM1112 184h1v3h-1zM1112 190h1v3h-1zM1112 196h1v3h-1zM1112 202h1v3h-1zM1112 208h1v3h-1zM1112 214h1v3h-1zM1112 220h1v3h-1zM1112 226h1v3h-1zM1112 232h1v3h-1zM1112 238h1v3h-1zM1112 244h1v3h-1zM1112 250h1v3h-1zM1112 256h1v3h-1zM1112 262h1v3h-1zM1112 268h1v3h-1zM1112 274h1v3h-1zM1112 280h1v3h-1zM1112 286h1v3h-1zM1112 292h1v3h-1zM1112 298h1v3h-1zM1112 304h1v3h-1zM1112 310h1v3h-1zM1112 316h1v3h-1zM1112 322h1v3h-1zM1112 328h1v3h-1zM1112 334h1v3h-1zM1112 340h1v3h-1zM1112 346h1v3h-1zM1112 352h1v3h-1zM1112 358h1v3h-1zM1112 364h1v3h-1zM1112 370h1v3h-1zM1112 376h1v3h-1zM1112 382h1v3h-1zM1112 388h1v3h-1zM1112 394h1v3h-1zM1112 400h1v3h-1zM1112 406h1v3h-1zM1112 412h1v3h-1zM1112 418h1v3h-1zM1112 424h1v3h-1zM1112 430h1v3h-1zM1112 436h1v3h-1zM1112 442h1v3h-1zM1112 448h1v3h-1zM1112 454h1v3h-1zM1112 460h1v3h-1zM1112 466h1v3h-1zM1112 472h1v3h-1zM1112 478h1v3h-1zM1112 484h1v3h-1zM1112 490h1v3h-1zM1112 496h1v3h-1zM1112 502h1v3h-1zM1112 508h1v3h-1zM1112 514h1v3h-1zM1112 520h1v3h-1zM1112 526h1v3h-1zM1112 532h1v3h-1zM1112 538h1v3h-1zM1112 544h1v3h-1zM1112 550h1v3h-1zM1112 556h1v3h-1zM1112 562h1v3h-1zM1112 568h1v3h-1zM1112 574h1v3h-1zM1112 580h1v3h-1zM1112 586h1v3h-1zM1112 592h1v3h-1zM1112 598h1v3h-1zM1112 604h1v3h-1zM1112 610h1v3h-1zM1112 616h1v3h-1zM1112 622h1v3h-1zM1112 628h1v3h-1zM1112 634h1v3h-1zM1112 640h1v3h-1zM1112 646h1v3h-1zM1112 652h1v3h-1zM1112 658h1v3h-1zM1112 664h1v3h-1zM1112 670h1v3h-1zM1112 676h1v3h-1zM1112 682h1v3h-1zM1112 688h1v3h-1zM1112 694h1v3h-1zM1112 700h1v3h-1zM1112 706h1v3h-1zM1112 712h1v3h-1zM1112 718h1v3h-1zM1112 724h1v3h-1zM1112 730h1v3h-1zM1112 736h1v3h-1zM1112 742h1v3h-1zM1112 748h1v3h-1zM1112 754h1v3h-1zM1112 760h1v3h-1zM1112 766h1v3h-1zM1112 772h1v3h-1zM1112 778h1v3h-1zM1112 784h1v3h-1zM1112 790h1v3h-1zM1112 796h1v3h-1zM1112 802h1v3h-1zM1112 808h1v3h-1zM1112 814h1v3h-1zM1112 820h1v3h-1zM1112 826h1v3h-1zM1112 832h1v3h-1zM1112 838h1v3h-1zM1112 844h1v3h-1zM1112 850h1v3h-1zM1112 856h1v3h-1zM1112 862h1v3h-1zM1112 868h1v3h-1zM1112 874h1v3h-1zM1112 880h1v3h-1zM1112 886h1v3h-1zM1112 892h1v3h-1zM1112 898h1v3h-1zM1112 904h1v3h-1zM1112 910h1v3h-1zM1112 916h1v3h-1zM1112 922h1v3h-1zM1112 928h1v3h-1zM1223 34h1v3h-1zM1223 40h1v3h-1zM1223 46h1v3h-1zM1223 52h1v3h-1zM1223 58h1v3h-1zM1223 64h1v3h-1zM1223 70h1v3h-1zM1223 76h1v3h-1zM1223 82h1v3h-1zM1223 88h1v3h-1zM1223 94h1v3h-1zM1223 100h1v3h-1zM1223 106h1v3h-1zM1223 112h1v3h-1zM1223 118h1v3h-1zM1223 124h1v3h-1zM1223 130h1v3h-1zM1223 136h1v3h-1zM1223 142h1v3h-1zM1223 148h1v3h-1zM1223 154h1v3h-1zM1223 160h1v3h-1zM1223 166h1v3h-1zM1223 172h1v3h-1zM1223 178h1v3h-1zM1223 184h1v3h-1zM1223 190h1v3h-1zM1223 196h1v3h-1zM1223 202h1v3h-1zM1223 208h1v3h-1zM1223 214h1v3h-1zM1223 220h1v3h-1zM1223 226h1v3h-1zM1223 232h1v3h-1zM1223 238h1v3h-1zM1223 244h1v3h-1zM1223 250h1v3h-1zM1223 256h1v3h-1zM1223 262h1v3h-1zM1223 268h1v3h-1zM1223 274h1v3h-1zM1223 280h1v3h-1zM1223 286h1v3h-1zM1223 292h1v3h-1zM1223 298h1v3h-1zM1223 304h1v3h-1zM1223 310h1v3h-1zM1223 316h1v3h-1zM1223 322h1v3h-1zM1223 328h1v3h-1zM1223 334h1v3h-1zM1223 340h1v3h-1zM1223 346h1v3h-1zM1223 352h1v3h-1zM1223 358h1v3h-1zM1223 364h1v3h-1zM1223 370h1v3h-1zM1223 376h1v3h-1zM1223 382h1v3h-1zM1223 388h1v3h-1zM1223 394h1v3h-1zM1223 400h1v3h-1zM1223 406h1v3h-1zM1223 412h1v3h-1zM1223 418h1v3h-1zM1223 424h1v3h-1zM1223 430h1v3h-1zM1223 436h1v3h-1zM1223 442h1v3h-1zM1223 448h1v3h-1zM1223 454h1v3h-1zM1223 460h1v3h-1zM1223 466h1v3h-1zM1223 472h1v3h-1zM1223 478h1v3h-1zM1223 484h1v3h-1zM1223 490h1v3h-1zM1223 496h1v3h-1zM1223 502h1v3h-1zM1223 508h1v3h-1zM1223 514h1v3h-1zM1223 520h1v3h-1zM1223 526h1v3h-1zM1223 532h1v3h-1zM1223 538h1v3h-1zM1223 544h1v3h-1zM1223 550h1v3h-1zM1223 556h1v3h-1zM1223 562h1v3h-1zM1223 568h1v3h-1zM1223 574h1v3h-1zM1223 580h1v3h-1zM1223 586h1v3h-1zM1223 592h1v3h-1zM1223 598h1v3h-1zM1223 604h1v3h-1zM1223 610h1v3h-1zM1223 616h1v3h-1zM1223 622h1v3h-1zM1223 628h1v3h-1zM1223 634h1v3h-1zM1223 640h1v3h-1zM1223 646h1v3h-1zM1223 652h1v3h-1zM1223 658h1v3h-1zM1223 664h1v3h-1zM1223 670h1v3h-1zM1223 676h1v3h-1zM1223 682h1v3h-1zM1223 688h1v3h-1zM1223 694h1v3h-1zM1223 700h1v3h-1zM1223 706h1v3h-1zM1223 712h1v3h-1zM1223 718h1v3h-1zM1223 724h1v3h-1zM1223 730h1v3h-1zM1223 736h1v3h-1zM1223 742h1v3h-1zM1223 748h1v3h-1zM1223 754h1v3h-1zM1223 760h1v3h-1zM1223 766h1v3h-1zM1223 772h1v3h-1zM1223 778h1v3h-1zM1223 784h1v3h-1zM1223 790h1v3h-1zM1223 796h1v3h-1zM1223 802h1v3h-1zM1223 808h1v3h-1zM1223 814h1v3h-1zM1223 820h1v3h-1zM1223 826h1v3h-1zM1223 832h1v3h-1zM1223 838h1v3h-1zM1223 844h1v3h-1zM1223 850h1v3h-1zM1223 856h1v3h-1zM1223 862h1v3h-1zM1223 868h1v3h-1zM1223 874h1v3h-1zM1223 880h1v3h-1zM1223 886h1v3h-1zM1223 892h1v3h-1zM1223 898h1v3h-1zM1223 904h1v3h-1zM1223 910h1v3h-1zM1223 916h1v3h-1zM1223 922h1v3h-1zM1223 928h1v3h-1zM1328 34h1v3h-1zM1328 40h1v3h-1zM1328 46h1v3h-1zM1328 52h1v3h-1zM1328 58h1v3h-1zM1328 64h1v3h-1zM1328 70h1v3h-1zM1328 76h1v3h-1zM1328 82h1v3h-1zM1328 88h1v3h-1zM1328 94h1v3h-1zM1328 100h1v3h-1zM1328 106h1v3h-1zM1328 112h1v3h-1zM1328 118h1v3h-1zM1328 124h1v3h-1zM1328 130h1v3h-1zM1328 136h1v3h-1zM1328 142h1v3h-1zM1328 148h1v3h-1zM1328 154h1v3h-1zM1328 160h1v3h-1zM1328 166h1v3h-1zM1328 172h1v3h-1zM1328 178h1v3h-1zM1328 184h1v3h-1zM1328 190h1v3h-1zM1328 196h1v3h-1zM1328 202h1v3h-1zM1328 208h1v3h-1zM1328 214h1v3h-1zM1328 220h1v3h-1zM1328 226h1v3h-1zM1328 232h1v3h-1zM1328 238h1v3h-1zM1328 244h1v3h-1zM1328 250h1v3h-1zM1328 256h1v3h-1zM1328 262h1v3h-1zM1328 268h1v3h-1zM1328 274h1v3h-1zM1328 280h1v3h-1zM1328 286h1v3h-1zM1328 292h1v3h-1zM1328 298h1v3h-1zM1328 304h1v3h-1zM1328 310h1v3h-1zM1328 316h1v3h-1zM1328 322h1v3h-1zM1328 328h1v3h-1zM1328 334h1v3h-1zM1328 340h1v3h-1zM1328 346h1v3h-1zM1328 352h1v3h-1zM1328 358h1v3h-1zM1328 364h1v3h-1zM1328 370h1v3h-1zM1328 376h1v3h-1zM1328 382h1v3h-1zM1328 388h1v3h-1zM1328 394h1v3h-1zM1328 400h1v3h-1zM1328 406h1v3h-1zM1328 412h1v3h-1zM1328 418h1v3h-1zM1328 424h1v3h-1zM1328 430h1v3h-1zM1328 436h1v3h-1zM1328 442h1v3h-1zM1328 448h1v3h-1zM1328 454h1v3h-1zM1328 460h1v3h-1zM1328 466h1v3h-1zM1328 472h1v3h-1zM1328 478h1v3h-1zM1328 484h1v3h-1zM1328 490h1v3h-1zM1328 496h1v3h-1zM1328 502h1v3h-1zM1328 508h1v3h-1zM1328 514h1v3h-1zM1328 520h1v3h-1zM1328 526h1v3h-1zM1328 532h1v3h-1zM1328 538h1v3h-1zM1328 544h1v3h-1zM1328 550h1v3h-1zM1328 556h1v3h-1zM1328 562h1v3h-1zM1328 568h1v3h-1zM1328 574h1v3h-1zM1328 580h1v3h-1zM1328 586h1v3h-1zM1328 592h1v3h-1zM1328 598h1v3h-1zM1328 604h1v3h-1zM1328 610h1v3h-1zM1328 616h1v3h-1zM1328 622h1v3h-1zM1328 628h1v3h-1zM1328 634h1v3h-1zM1328 640h1v3h-1zM1328 646h1v3h-1zM1328 652h1v3h-1zM1328 658h1v3h-1zM1328 664h1v3h-1zM1328 670h1v3h-1zM1328 676h1v3h-1zM1328 682h1v3h-1zM1328 688h1v3h-1zM1328 694h1v3h-1zM1328 700h1v3h-1zM1328 706h1v3h-1zM1328 712h1v3h-1zM1328 718h1v3h-1zM1328 724h1v3h-1zM1328 730h1v3h-1zM1328 736h1v3h-1zM1328 742h1v3h-1zM1328 748h1v3h-1zM1328 754h1v3h-1zM1328 760h1v3h-1zM1328 766h1v3h-1zM1328 772h1v3h-1zM1328 778h1v3h-1zM1328 784h1v3h-1zM1328 790h1v3h-1zM1328 796h1v3h-1zM1328 802h1v3h-1zM1328 808h1v3h-1zM1328 814h1v3h-1zM1328 820h1v3h-1zM1328 826h1v3h-1zM1328 832h1v3h-1zM1328 838h1v3h-1zM1328 844h1v3h-1zM1328 850h1v3h-1zM1328 856h1v3h-1zM1328 862h1v3h-1zM1328 868h1v3h-1zM1328 874h1v3h-1zM1328 880h1v3h-1zM1328 886h1v3h-1zM1328 892h1v3h-1zM1328 898h1v3h-1zM1328 904h1v3h-1zM1328 910h1v3h-1zM1328 916h1v3h-1zM1328 922h1v3h-1zM1328 928h1v3h-1zM1443 34h1v3h-1zM1443 40h1v3h-1zM1443 46h1v3h-1zM1443 52h1v3h-1zM1443 58h1v3h-1zM1443 64h1v3h-1zM1443 70h1v3h-1zM1443 76h1v3h-1zM1443 82h1v3h-1zM1443 88h1v3h-1zM1443 94h1v3h-1zM1443 100h1v3h-1zM1443 106h1v3h-1zM1443 112h1v3h-1zM1443 118h1v3h-1zM1443 124h1v3h-1zM1443 130h1v3h-1zM1443 136h1v3h-1zM1443 142h1v3h-1zM1443 148h1v3h-1zM1443 154h1v3h-1zM1443 160h1v3h-1zM1443 166h1v3h-1zM1443 172h1v3h-1zM1443 178h1v3h-1zM1443 184h1v3h-1zM1443 190h1v3h-1zM1443 196h1v3h-1zM1443 202h1v3h-1zM1443 208h1v3h-1zM1443 214h1v3h-1zM1443 220h1v3h-1zM1443 226h1v3h-1zM1443 232h1v3h-1zM1443 238h1v3h-1zM1443 244h1v3h-1zM1443 250h1v3h-1zM1443 256h1v3h-1zM1443 262h1v3h-1zM1443 268h1v3h-1zM1443 274h1v3h-1zM1443 280h1v3h-1zM1443 286h1v3h-1zM1443 292h1v3h-1zM1443 298h1v3h-1zM1443 304h1v3h-1zM1443 310h1v3h-1zM1443 316h1v3h-1zM1443 322h1v3h-1zM1443 328h1v3h-1zM1443 334h1v3h-1zM1443 340h1v3h-1zM1443 346h1v3h-1zM1443 352h1v3h-1zM1443 358h1v3h-1zM1443 364h1v3h-1zM1443 370h1v3h-1zM1443 376h1v3h-1zM1443 382h1v3h-1zM1443 388h1v3h-1zM1443 394h1v3h-1zM1443 400h1v3h-1zM1443 406h1v3h-1zM1443 412h1v3h-1zM1443 418h1v3h-1zM1443 424h1v3h-1zM1443 430h1v3h-1zM1443 436h1v3h-1zM1443 442h1v3h-1zM1443 448h1v3h-1zM1443 454h1v3h-1zM1443 460h1v3h-1zM1443 466h1v3h-1zM1443 472h1v3h-1zM1443 478h1v3h-1zM1443 484h1v3h-1zM1443 490h1v3h-1zM1443 496h1v3h-1zM1443 502h1v3h-1zM1443 508h1v3h-1zM1443 514h1v3h-1zM1443 520h1v3h-1zM1443 526h1v3h-1zM1443 532h1v3h-1zM1443 538h1v3h-1zM1443 544h1v3h-1zM1443 550h1v3h-1zM1443 556h1v3h-1zM1443 562h1v3h-1zM1443 568h1v3h-1zM1443 574h1v3h-1zM1443 580h1v3h-1zM1443 586h1v3h-1zM1443 592h1v3h-1zM1443 598h1v3h-1zM1443 604h1v3h-1zM1443 610h1v3h-1zM1443 616h1v3h-1zM1443 622h1v3h-1zM1443 628h1v3h-1zM1443 634h1v3h-1zM1443 640h1v3h-1zM1443 646h1v3h-1zM1443 652h1v3h-1zM1443 658h1v3h-1zM1443 664h1v3h-1zM1443 670h1v3h-1zM1443 676h1v3h-1zM1443 682h1v3h-1zM1443 688h1v3h-1zM1443 694h1v3h-1zM1443 700h1v3h-1zM1443 706h1v3h-1zM1443 712h1v3h-1zM1443 718h1v3h-1zM1443 724h1v3h-1zM1443 730h1v3h-1zM1443 736h1v3h-1zM1443 742h1v3h-1zM1443 748h1v3h-1zM1443 754h1v3h-1zM1443 760h1v3h-1zM1443 766h1v3h-1zM1443 772h1v3h-1zM1443 778h1v3h-1zM1443 784h1v3h-1zM1443 790h1v3h-1zM1443 796h1v3h-1zM1443 802h1v3h-1zM1443 808h1v3h-1zM1443 814h1v3h-1zM1443 820h1v3h-1zM1443 826h1v3h-1zM1443 832h1v3h-1zM1443 838h1v3h-1zM1443 844h1v3h-1zM1443 850h1v3h-1zM1443 856h1v3h-1zM1443 862h1v3h-1zM1443 868h1v3h-1zM1443 874h1v3h-1zM1443 880h1v3h-1zM1443 886h1v3h-1zM1443 892h1v3h-1zM1443 898h1v3h-1zM1443 904h1v3h-1zM1443 910h1v3h-1zM1443 916h1v3h-1zM1443 922h1v3h-1zM1443 928h1v3h-1zM1548 34h1v3h-1zM1548 40h1v3h-1zM1548 46h1v3h-1zM1548 52h1v3h-1zM1548 58h1v3h-1zM1548 64h1v3h-1zM1548 70h1v3h-1zM1548 76h1v3h-1zM1548 82h1v3h-1zM1548 88h1v3h-1zM1548 94h1v3h-1zM1548 100h1v3h-1zM1548 106h1v3h-1zM1548 112h1v3h-1zM1548 118h1v3h-1zM1548 124h1v3h-1zM1548 130h1v3h-1zM1548 136h1v3h-1zM1548 142h1v3h-1zM1548 148h1v3h-1zM1548 154h1v3h-1zM1548 160h1v3h-1zM1548 166h1v3h-1zM1548 172h1v3h-1zM1548 178h1v3h-1zM1548 184h1v3h-1zM1548 190h1v3h-1zM1548 196h1v3h-1zM1548 202h1v3h-1zM1548 208h1v3h-1zM1548 214h1v3h-1zM1548 220h1v3h-1zM1548 226h1v3h-1zM1548 232h1v3h-1zM1548 238h1v3h-1zM1548 244h1v3h-1zM1548 250h1v3h-1zM1548 256h1v3h-1zM1548 262h1v3h-1zM1548 268h1v3h-1zM1548 274h1v3h-1zM1548 280h1v3h-1zM1548 286h1v3h-1zM1548 292h1v3h-1zM1548 298h1v3h-1zM1548 304h1v3h-1zM1548 310h1v3h-1zM1548 316h1v3h-1zM1548 322h1v3h-1zM1548 328h1v3h-1zM1548 334h1v3h-1zM1548 340h1v3h-1zM1548 346h1v3h-1zM1548 352h1v3h-1zM1548 358h1v3h-1zM1548 364h1v3h-1zM1548 370h1v3h-1zM1548 376h1v3h-1zM1548 382h1v3h-1zM1548 388h1v3h-1zM1548 394h1v3h-1zM1548 400h1v3h-1zM1548 406h1v3h-1zM1548 412h1v3h-1zM1548 418h1v3h-1zM1548 424h1v3h-1zM1548 430h1v3h-1zM1548 436h1v3h-1zM1548 442h1v3h-1zM1548 448h1v3h-1zM1548 454h1v3h-1zM1548 460h1v3h-1zM1548 466h1v3h-1zM1548 472h1v3h-1zM1548 478h1v3h-1zM1548 484h1v3h-1zM1548 490h1v3h-1zM1548 496h1v3h-1zM1548 502h1v3h-1zM1548 508h1v3h-1zM1548 514h1v3h-1zM1548 520h1v3h-1zM1548 526h1v3h-1zM1548 532h1v3h-1zM1548 538h1v3h-1zM1548 544h1v3h-1zM1548 550h1v3h-1zM1548 556h1v3h-1zM1548 562h1v3h-1zM1548 568h1v3h-1zM1548 574h1v3h-1zM1548 580h1v3h-1zM1548 586h1v3h-1zM1548 592h1v3h-1zM1548 598h1v3h-1zM1548 604h1v3h-1zM1548 610h1v3h-1zM1548 616h1v3h-1zM1548 622h1v3h-1zM1548 628h1v3h-1zM1548 634h1v3h-1zM1548 640h1v3h-1zM1548 646h1v3h-1zM1548 652h1v3h-1zM1548 658h1v3h-1zM1548 664h1v3h-1zM1548 670h1v3h-1zM1548 676h1v3h-1zM1548 682h1v3h-1zM1548 688h1v3h-1zM1548 694h1v3h-1zM1548 700h1v3h-1zM1548 706h1v3h-1zM1548 712h1v3h-1zM1548 718h1v3h-1zM1548 724h1v3h-1zM1548 730h1v3h-1zM1548 736h1v3h-1zM1548 742h1v3h-1zM1548 748h1v3h-1zM1548 754h1v3h-1zM1548 760h1v3h-1zM1548 766h1v3h-1zM1548 772h1v3h-1zM1548 778h1v3h-1zM1548 784h1v3h-1zM1548 790h1v3h-1zM1548 796h1v3h-1zM1548 802h1v3h-1zM1548 808h1v3h-1zM1548 814h1v3h-1zM1548 820h1v3h-1zM1548 826h1v3h-1zM1548 832h1v3h-1zM1548 838h1v3h-1zM1548 844h1v3h-1zM1548 850h1v3h-1zM1548 856h1v3h-1zM1548 862h1v3h-1zM1548 868h1v3h-1zM1548 874h1v3h-1zM1548 880h1v3h-1zM1548 886h1v3h-1zM1548 892h1v3h-1zM1548 898h1v3h-1zM1548 904h1v3h-1zM1548 910h1v3h-1zM1548 916h1v3h-1zM1548 922h1v3h-1zM1548 928h1v3h-1zM1664 34h1v3h-1zM1664 40h1v3h-1zM1664 46h1v3h-1zM1664 52h1v3h-1zM1664 58h1v3h-1zM1664 64h1v3h-1zM1664 70h1v3h-1zM1664 76h1v3h-1zM1664 82h1v3h-1zM1664 88h1v3h-1zM1664 94h1v3h-1zM1664 100h1v3h-1zM1664 106h1v3h-1zM1664 112h1v3h-1zM1664 118h1v3h-1zM1664 124h1v3h-1zM1664 130h1v3h-1zM1664 136h1v3h-1zM1664 142h1v3h-1zM1664 148h1v3h-1zM1664 154h1v3h-1zM1664 160h1v3h-1zM1664 166h1v3h-1zM1664 172h1v3h-1zM1664 178h1v3h-1zM1664 184h1v3h-1zM1664 190h1v3h-1zM1664 196h1v3h-1zM1664 202h1v3h-1zM1664 208h1v3h-1zM1664 214h1v3h-1zM1664 220h1v3h-1zM1664 226h1v3h-1zM1664 232h1v3h-1zM1664 238h1v3h-1zM1664 244h1v3h-1zM1664 250h1v3h-1zM1664 256h1v3h-1zM1664 262h1v3h-1zM1664 268h1v3h-1zM1664 274h1v3h-1zM1664 280h1v3h-1zM1664 286h1v3h-1zM1664 292h1v3h-1zM1664 298h1v3h-1zM1664 304h1v3h-1zM1664 310h1v3h-1zM1664 316h1v3h-1zM1664 322h1v3h-1zM1664 328h1v3h-1zM1664 334h1v3h-1zM1664 340h1v3h-1zM1664 346h1v3h-1zM1664 352h1v3h-1zM1664 358h1v3h-1zM1664 364h1v3h-1zM1664 370h1v3h-1zM1664 376h1v3h-1zM1664 382h1v3h-1zM1664 388h1v3h-1zM1664 394h1v3h-1zM1664 400h1v3h-1zM1664 406h1v3h-1zM1664 412h1v3h-1zM1664 418h1v3h-1zM1664 424h1v3h-1zM1664 430h1v3h-1zM1664 436h1v3h-1zM1664 442h1v3h-1zM1664 448h1v3h-1zM1664 454h1v3h-1zM1664 460h1v3h-1zM1664 466h1v3h-1zM1664 472h1v3h-1zM1664 478h1v3h-1zM1664 484h1v3h-1zM1664 490h1v3h-1zM1664 496h1v3h-1zM1664 502h1v3h-1zM1664 508h1v3h-1zM1664 514h1v3h-1zM1664 520h1v3h-1zM1664 526h1v3h-1zM1664 532h1v3h-1zM1664 538h1v3h-1zM1664 544h1v3h-1zM1664 550h1v3h-1zM1664 556h1v3h-1zM1664 562h1v3h-1zM1664 568h1v3h-1zM1664 574h1v3h-1zM1664 580h1v3h-1zM1664 586h1v3h-1zM1664 592h1v3h-1zM1664 598h1v3h-1zM1664 604h1v3h-1zM1664 610h1v3h-1zM1664 616h1v3h-1zM1664 622h1v3h-1zM1664 628h1v3h-1zM1664 634h1v3h-1zM1664 640h1v3h-1zM1664 646h1v3h-1zM1664 652h1v3h-1zM1664 658h1v3h-1zM1664 664h1v3h-1zM1664 670h1v3h-1zM1664 676h1v3h-1zM1664 682h1v3h-1zM1664 688h1v3h-1zM1664 694h1v3h-1zM1664 700h1v3h-1zM1664 706h1v3h-1zM1664 712h1v3h-1zM1664 718h1v3h-1zM1664 724h1v3h-1zM1664 730h1v3h-1zM1664 736h1v3h-1zM1664 742h1v3h-1zM1664 748h1v3h-1zM1664 754h1v3h-1zM1664 760h1v3h-1zM1664 766h1v3h-1zM1664 772h1v3h-1zM1664 778h1v3h-1zM1664 784h1v3h-1zM1664 790h1v3h-1zM1664 796h1v3h-1zM1664 802h1v3h-1zM1664 808h1v3h-1zM1664 814h1v3h-1zM1664 820h1v3h-1zM1664 826h1v3h-1zM1664 832h1v3h-1zM1664 838h1v3h-1zM1664 844h1v3h-1zM1664 850h1v3h-1zM1664 856h1v3h-1zM1664 862h1v3h-1zM1664 868h1v3h-1zM1664 874h1v3h-1zM1664 880h1v3h-1zM1664 886h1v3h-1zM1664 892h1v3h-1zM1664 898h1v3h-1zM1664 904h1v3h-1zM1664 910h1v3h-1zM1664 916h1v3h-1zM1664 922h1v3h-1zM1664 928h1v3h-1zM1779 34h1v3h-1zM1779 40h1v3h-1zM1779 46h1v3h-1zM1779 52h1v3h-1zM1779 58h1v3h-1zM1779 64h1v3h-1zM1779 70h1v3h-1zM1779 76h1v3h-1zM1779 82h1v3h-1zM1779 88h1v3h-1zM1779 94h1v3h-1zM1779 100h1v3h-1zM1779 106h1v3h-1zM1779 112h1v3h-1zM1779 118h1v3h-1zM1779 124h1v3h-1zM1779 130h1v3h-1zM1779 136h1v3h-1zM1779 142h1v3h-1zM1779 148h1v3h-1zM1779 154h1v3h-1zM1779 160h1v3h-1zM1779 166h1v3h-1zM1779 172h1v3h-1zM1779 178h1v3h-1zM1779 184h1v3h-1zM1779 190h1v3h-1zM1779 196h1v3h-1zM1779 202h1v3h-1zM1779 208h1v3h-1zM1779 214h1v3h-1zM1779 220h1v3h-1zM1779 226h1v3h-1zM1779 232h1v3h-1zM1779 238h1v3h-1zM1779 244h1v3h-1zM1779 250h1v3h-1zM1779 256h1v3h-1zM1779 262h1v3h-1zM1779 268h1v3h-1zM1779 274h1v3h-1zM1779 280h1v3h-1zM1779 286h1v3h-1zM1779 292h1v3h-1zM1779 298h1v3h-1zM1779 304h1v3h-1zM1779 310h1v3h-1zM1779 316h1v3h-1zM1779 322h1v3h-1zM1779 328h1v3h-1zM1779 334h1v3h-1zM1779 340h1v3h-1zM1779 346h1v3h-1zM1779 352h1v3h-1zM1779 358h1v3h-1zM1779 364h1v3h-1zM1779 370h1v3h-1zM1779 376h1v3h-1zM1779 382h1v3h-1zM1779 388h1v3h-1zM1779 394h1v3h-1zM1779 400h1v3h-1zM1779 406h1v3h-1zM1779 412h1v3h-1zM1779 418h1v3h-1zM1779 424h1v3h-1zM1779 430h1v3h-1zM1779 436h1v3h-1zM1779 442h1v3h-1zM1779 448h1v3h-1zM1779 454h1v3h-1zM1779 460h1v3h-1zM1779 466h1v3h-1zM1779 472h1v3h-1zM1779 478h1v3h-1zM1779 484h1v3h-1zM1779 490h1v3h-1zM1779 496h1v3h-1zM1779 502h1v3h-1zM1779 508h1v3h-1zM1779 514h1v3h-1zM1779 520h1v3h-1zM1779 526h1v3h-1zM1779 532h1v3h-1zM1779 538h1v3h-1zM1779 544h1v3h-1zM1779 550h1v3h-1zM1779 556h1v3h-1zM1779 562h1v3h-1zM1779 568h1v3h-1zM1779 574h1v3h-1zM1779 580h1v3h-1zM1779 586h1v3h-1zM1779 592h1v3h-1zM1779 598h1v3h-1zM1779 604h1v3h-1zM1779 610h1v3h-1zM1779 616h1v3h-1zM1779 622h1v3h-1zM1779 628h1v3h-1zM1779 634h1v3h-1zM1779 640h1v3h-1zM1779 646h1v3h-1zM1779 652h1v3h-1zM1779 658h1v3h-1zM1779 664h1v3h-1zM1779 670h1v3h-1zM1779 676h1v3h-1zM1779 682h1v3h-1zM1779 688h1v3h-1zM1779 694h1v3h-1zM1779 700h1v3h-1zM1779 706h1v3h-1zM1779 712h1v3h-1zM1779 718h1v3h-1zM1779 724h1v3h-1zM1779 730h1v3h-1zM1779 736h1v3h-1zM1779 742h1v3h-1zM1779 748h1v3h-1zM1779 754h1v3h-1zM1779 760h1v3h-1zM1779 766h1v3h-1zM1779 772h1v3h-1zM1779 778h1v3h-1zM1779 784h1v3h-1zM1779 790h1v3h-1zM1779 796h1v3h-1zM1779 802h1v3h-1zM1779 808h1v3h-1zM1779 814h1v3h-1zM1779 820h1v3h-1zM1779 826h1v3h-1zM1779 832h1v3h-1zM1779 838h1v3h-1zM1779 844h1v3h-1zM1779 850h1v3h-1zM1779 856h1v3h-1zM1779 862h1v3h-1zM1779 868h1v3h-1zM1779 874h1v3h-1zM1779 880h1v3h-1zM1779 886h1v3h-1zM1779 892h1v3h-1zM1779 898h1v3h-1zM1779 904h1v3h-1zM1779 910h1v3h-1zM1779 916h1v3h-1zM1779 922h1v3h-1zM1779 928h1v3h-1z" fill="#c0c0c0"/>
<rect x="297" y="245" width="549" height="639" fill="#f0fff0"/>
<rect x="1239" y="75" width="554" height="635" fill="#f0fff0"/>
<path d="M4 917h3v1h-3zM10 917h3v1h-3zM16 917h3v1h-3zM22 917h3v1h-3zM28 917h3v1h-3zM34 917h3v1h-3zM40 917h3v1h-3zM46 917h3v1h-3zM52 917h3v1h-3zM58 917h3v1h-3zM64 917h3v1h-3zM70 917h3v1h-3zM76 917h3v1h-3zM82 917h3v1h-3zM88 917h3v1h-3zM94 917h3v1h-3zM100 917h3v1h-3zM106 917h3v1h-3zM112 917h3v1h-3zM118 917h3v1h-3zM124 917h3v1h-3zM130 917h3v1h-3zM136 917h3v1h-3zM142 917h3v1h-3zM148 917h3v1h-3zM154 917h3v1h-3zM160 917h3v1h-3zM166 917h3v1h-3zM172 917h3v1h-3zM178 917h3v1h-3zM184 917h3v1h-3zM190 917h3v1h-3zM196 917h3v1h-3zM202 917h3v1h-3zM208 917h3v1h-3zM214 917h3v1h-3zM220 917h3v1h-3zM226 917h3v1h-3zM232 917h3v1h-3zM238 917h3v1h-3zM244 917h3v1h-3zM250 917h3v1h-3zM256 917h3v1h-3zM262 917h3v1h-3zM268 917h3v1h-3zM274 917h3v1h-3zM280 917h3v1h-3zM286 917h3v1h-3zM292 917h3v1h-3zM298 917h3v1h-3zM304 917h3v1h-3zM310 917h3v1h-3zM316 917h3v1h-3zM322 917h3v1h-3zM328 917h3v1h-3zM334 917h3v1h-3zM340 917h3v1h-3zM346 917h3v1h-3zM352 917h3v1h-3zM358 917h3v1h-3zM364 917h3v1h-3zM370 917h3v1h-3zM376 917h3v1h-3zM382 917h3v1h-3zM388 917h3v1h-3zM394 917h3v1h-3zM400 917h3v1h-3zM406 917h3v1h-3zM412 917h3v1h-3zM418 917h3v1h-3zM424 917h3v1h-3zM430 917h3v1h-3zM436 917h3v1h-3zM442 917h3v1h-3zM448 917h3v1h-3zM454 917h3v1h-3zM460 917h3v1h-3zM466 917h3v1h-3zM472 917h3v1h-3zM478 917h3v1h-3zM484 917h3v1h-3zM490 917h3v1h-3zM496 917h3v1h-3zM502 917h3v1h-3zM508 917h3v1h-3zM514 917h3v1h-3zM520 917h3v1h-3zM526 917h3v1h-3zM532 917h3v1h-3zM538 917h3v1h-3zM544 917h3v1h-3zM550 917h3v1h-3zM556 917h3v1h-3zM562 917h3v1h-3zM568 917h3v1h-3zM574 917h3v1h-3zM580 917h3v1h-3zM586 917h3v1h-3zM592 917h3v1h-3zM598 917h3v1h-3zM604 917h3v1h-3zM610 917h3v1h-3zM616 917h3v1h-3zM622 917h3v1h-3zM628 917h3v1h-3zM634 917h3v1h-3zM640 917h3v1h-3zM646 917h3v1h-3zM652 917h3v1h-3zM658 917h3v1h-3zM664 917h3v1h-3zM670 917h3v1h-3zM676 917h3v1h-3zM682 917h3v1h-3zM688 917h3v1h-3zM694 917h3v1h-3zM700 917h3v1h-3zM706 917h3v1h-3zM712 917h3v1h-3zM718 917h3v1h-3zM724 917h3v1h-3zM730 917h3v1h-3zM736 917h3v1h-3zM742 917h3v1h-3zM748 917h3v1h-3zM754 917h3v1h-3zM760 917h3v1h-3zM766 917h3v1h-3zM772 917h3v1h-3zM778 917h3v1h-3zM784 917h3v1h-3zM790 917h3v1h-3zM796 917h3v1h-3zM802 917h3v1h-3zM808 917h3v1h-3zM814 917h3v1h-3zM820 917h3v1h-3zM826 917h3v1h-3zM832 917h3v1h-3zM838 917h3v1h-3zM844 917h3v1h-3zM850 917h3v1h-3zM856 917h3v1h-3zM862 917h3v1h-3zM868 917h3v1h-3zM874 917h3v1h-3zM880 917h3v1h-3zM886 917h3v1h-3zM892 917h3v1h-3zM898 917h3v1h-3zM904 917h3v1h-3zM910 917h3v1h-3zM916 917h3v1h-3zM922 917h3v1h-3zM928 917h3v1h-3zM934 917h3v1h-3zM940 917h3v1h-3zM946 917h3v1h-3zM952 917h3v1h-3zM958 917h3v1h-3zM964 917h3v1h-3zM970 917h3v1h-3zM976 917h3v1h-3zM982 917h3v1h-3zM988 917h3v1h-3zM994 917h3v1h-3zM1000 917h3v1h-3zM1006 917h3v1h-3zM1012 917h3v1h-3zM1018 917h3v1h-3zM1024 917h3v1h-3zM1030 917h3v1h-3zM1036 917h3v1h-3zM1042 917h3v1h-3zM1048 917h3v1h-3zM1054 917h3v1h-3zM1060 917h3v1h-3zM1066 917h3v1h-3zM1072 917h3v1h-3zM1078 917h3v1h-3zM1084 917h3v1h-3zM1090 917h3v1h-3zM1096 917h3v1h-3zM1102 917h3v1h-3zM1108 917h3v1h-3zM1114 917h3v1h-3zM1120 917h3v1h-3zM1126 917h3v1h-3zM1132 917h3v1h-3zM1138 917h3v1h-3zM1144 917h3v1h-3zM1150 917h3v1h-3zM1156 917h3v1h-3zM1162 917h3v1h-3zM1168 917h3v1h-3zM1174 917h3v1h-3zM1180 917h3v1h-3zM1186 917h3v1h-3zM1192 917h3v1h-3zM1198 917h3v1h-3zM1204 917h3v1h-3zM1210 917h3v1h-3zM1216 917h3v1h-3zM1222 917h3v1h-3zM1228 917h3v1h-3zM1234 917h3v1h-3zM1240 917h3v1h-3zM1246 917h3v1h-3zM1252 917h3v1h-3zM1258 917h3v1h-3zM1264 917h3v1h-3zM1270 917h3v1h-3zM1276 917h3v1h-3zM1282 917h3v1h-3zM1288 917h3v1h-3zM1294 917h3v1h-3zM1300 917h3v1h-3zM1306 917h3v1h-3zM1312 917h3v1h-3zM1318 917h3v1h-3zM1324 917h3v1h-3zM1330 917h3v1h-3zM1336 917h3v1h-3zM1342 917h3v1h-3zM1348 917h3v1h-3zM1354 917h3v1h-3zM1360 917h3v1h-3zM1366 917h3v1h-3zM1372 917h3v1h-3zM1378 917h3v1h-3zM1384 917h3v1h-3zM1390 917h3v1h-3zM1396 917h3v1h-3zM1402 917h3v1h-3zM1408 917h3v1h-3zM1414 917h3v1h-3zM1420 917h3v1h-3zM1426 917h3v1h-3zM1432 917h3v1h-3zM1438 917h3v1h-3zM1444 917h3v1h-3zM1450 917h3v1h-3zM1456 917h3v1h-3zM1462 917h3v1h-3zM1468 917h3v1h-3zM1474 917h3v1h-3zM1480 917h3v1h-3zM1486 917h3v1h-3zM1492 917h3v1h-3zM1498 917h3v1h-3zM1504 917h3v1h-3zM1510 917h3v1h-3zM1516 917h3v1h-3zM1522 917h3v1h-3zM1528 917h3v1h-3zM1534 917h3v1h-3zM1540 917h3v1h-3zM1546 917h3v1h-3zM1552 917h3v1h-3zM1558 917h3v1h-3zM1564 917h3v1h-3zM1570 917h3v1h-3zM1576 917h3v1h-3zM1582 917h3v1h-3zM1588 917h3v1h-3zM1594 917h3v1h-3zM1600 917h3v1h-3zM1606 917h3v1h-3zM1612 917h3v1h-3zM1618 917h3v1h-3zM1624 917h3v1h-3zM1630 917h3v1h-3zM1636 917h3v1h-3zM1642 917h3v1h-3zM1648 917h3v1h-3zM1654 917h3v1h-3zM1660 917h3v1h-3zM1666 917h3v1h-3zM1672 917h3v1h-3zM1678 917h3v1h-3zM1684 917h3v1h-3zM1690 917h3v1h-3zM1696 917h3v1h-3zM1702 917h3v1h-3zM1708 917h3v1h-3zM1714 917h3v1h-3zM1720 917h3v1h-3zM1726 917h3v1h-3zM1732 917h3v1h-3zM1738 917h3v1h-3zM1744 917h3v1h-3zM1750 917h3v1h-3zM1756 917h3v1h-3zM1762 917h3v1h-3zM1768 917h3v1h-3zM1774 917h3v1h-3zM1780 917h3v1h-3zM1786 917h3v1h-3zM1792 917h3v1h-3zM1798 917h3v1h-3zM1804 917h3v1h-3zM1810 917h3v1h-3zM1816 917h3v1h-3zM1822 917h3v1h-3zM1828 917h3v1h-3zM1834 917h3v1h-3zM1840 917h3v1h-3zM4 880h3v1h-3zM10 880h3v1h-3zM16 880h3v1h-3zM22 880h3v1h-3zM28 880h3v1h-3zM34 880h3v1h-3zM40 880h3v1h-3zM46 880h3v1h-3zM52 880h3v1h-3zM58 880h3v1h-3zM64 880h3v1h-3zM70 880h3v1h-3zM76 880h3v1h-3zM82 880h3v1h-3zM88 880h3v1h-3zM94 880h3v1h-3zM100 880h3v1h-3zM106 880h3v1h-3zM112 880h3v1h-3zM118 880h3v1h-3zM124 880h3v1h-3zM130 880h3v1h-3zM136 880h3v1h-3zM142 880h3v1h-3zM148 880h3v1h-3zM154 880h3v1h-3zM160 880h3v1h-3zM166 880h3v1h-3zM172 880h3v1h-3zM178 880h3v1h-3zM184 880h3v1h-3zM190 880h3v1h-3zM196 880h3v1h-3zM202 880h3v1h-3zM208 880h3v1h-3zM214 880h3v1h-3zM220 880h3v1h-3zM226 880h3v1h-3zM232 880h3v1h-3zM238 880h3v1h-3zM244 880h3v1h-3zM250 880h3v1h-3zM256 880h3v1h-3zM262 880h3v1h-3zM268 880h3v1h-3zM274 880h3v1h-3zM280 880h3v1h-3zM286 880h3v1h-3zM292 880h3v1h-3zM298 880h3v1h-3zM304 880h3v1h-3zM310 880h3v1h-3zM316 880h3v1h-3zM322 880h3v1h-3zM328 880h3v1h-3zM334 880h3v1h-3zM340 880h3v1h-3zM346 880h3v1h-3zM352 880h3v1h-3zM358 880h3v1h-3zM364 880h3v1h-3zM370 880h3v1h-3zM376 880h3v1h-3zM382 880h3v1h-3zM388 880h3v1h-3zM394 880h3v1h-3zM400 880h3v1h-3zM406 880h3v1h-3zM412 880h3v1h-3zM418 880h3v1h-3zM424 880h3v1h-3zM430 880h3v1h-3zM436 880h3v1h-3zM442 880h3v1h-3zM448 880h3v1h-3zM454 880h3v1h-3zM460 880h3v1h-3zM466 880h3v1h-3zM472 880h3v1h-3zM478 880h3v1h-3zM484 880h3v1h-3zM490 880h3v1h-3zM496 880h3v1h-3zM502 880h3v1h-3zM508 880h3v1h-3zM514 880h3v1h-3zM520 880h3v1h-3zM526 880h3v1h-3zM532 880h3v1h-3zM538 880h3v1h-3zM544 880h3v1h-3zM550 880h3v1h-3zM556 880h3v1h-3zM562 880h3v1h-3zM568 880h3v1h-3zM574 880h3v1h-3zM580 880h3v1h-3zM586 880h3v1h-3zM592 880h3v1h-3zM598 880h3v1h-3zM604 880h3v1h-3zM610 880h3v1h-3zM616 880h3v1h-3zM622 880h3v1h-3zM628 880h3v1h-3zM634 880h3v1h-3zM640 880h3v1h-3zM646 880h3v1h-3zM652 880h3v1h-3zM658 880h3v1h-3zM664 880h3v1h-3zM670 880h3v1h-3zM676 880h3v1h-3zM682 880h3v1h-3zM688 880h3v1h-3zM694 880h3v1h-3zM700 880h3v1h-3zM706 880h3v1h-3zM712 880h3v1h-3zM718 880h3v1h-3zM724 880h3v1h-3zM730 880h3v1h-3zM736 880h3v1h-3zM742 880h3v1h-3zM748 880h3v1h-3zM754 880h3v1h-3zM760 880h3v1h-3zM766 880h3v1h-3zM772 880h3v1h-3zM778 880h3v1h-3zM784 880h3v1h-3zM790 880h3v1h-3zM796 880h3v1h-3zM802 880h3v1h-3zM808 880h3v1h-3zM814 880h3v1h-3zM820 880h3v1h-3zM826 880h3v1h-3zM832 880h3v1h-3zM838 880h3v1h-3zM844 880h3v1h-3zM850 880h3v1h-3zM856 880h3v1h-3zM862 880h3v1h-3zM868 880h3v1h-3zM874 880h3v1h-3zM880 880h3v1h-3zM886 880h3v1h-3zM892 880h3v1h-3zM898 880h3v1h-3zM904 880h3v1h-3zM910 880h3v1h-3zM916 880h3v1h-3zM922 880h3v1h-3zM928 880h3v1h-3zM934 880h3v1h-3zM940 880h3v1h-3zM946 880h3v1h-3zM952 880h3v1h-3zM958 880h3v1h-3zM964 880h3v1h-3zM970 880h3v1h-3zM976 880h3v1h-3zM982 880h3v1h-3zM988 880h3v1h-3zM994 880h3v1h-3zM1000 880h3v1h-3zM1006 880h3v1h-3zM1012 880h3v1h-3zM1018 880h3v1h-3zM1024 880h3v1h-3zM1030 880h3v1h-3zM1036 880h3v1h-3zM1042 880h3v1h-3zM1048 880h3v1h-3zM1054 880h3v1h-3zM1060 880h3v1h-3zM1066 880h3v1h-3zM1072 880h3v1h-3zM1078 880h3v1h-3zM1084 880h3v1h-3zM1090 880h3v1h-3zM1096 880h3v1h-3zM1102 880h3v1h-3zM1108 880h3v1h-3zM1114 880h3v1h-3zM1120 880h3v1h-3zM1126 880h3v1h-3zM1132 880h3v1h-3zM1138 880h3v1h-3zM1144 880h3v1h-3zM1150 880h3v1h-3zM1156 880h3v1h-3zM1162 880h3v1h-3zM1168 880h3v1h-3zM1174 880h3v1h-3zM1180 880h3v1h-3zM1186 880h3v1h-3zM1192 880h3v1h-3zM1198 880h3v1h-3zM1204 880h3v1h-3zM1210 880h3v1h-3zM1216 880h3v1h-3zM1222 880h3v1h-3zM1228 880h3v1h-3zM1234 880h3v1h-3zM1240 880h3v1h-3zM1246 880h3v1h-3zM1252 880h3v1h-3zM1258 880h3v1h-3zM1264 880h3v1h-3zM1270 880h3v1h-3zM1276 880h3v1h-3zM1282 880h3v1h-3zM1288 880h3v1h-3zM1294 880h3v1h-3zM1300 880h3v1h-3zM1306 880h3v1h-3zM1312 880h3v1h-3zM1318 880h3v1h-3zM1324 880h3v1h-3zM1330 880h3v1h-3zM1336 880h3v1h-3zM1342 880h3v1h-3zM1348 880h3v1h-3zM1354 880h3v1h-3zM1360 880h3v1h-3zM1366 880h3v1h-3zM1372 880h3v1h-3zM1378 880h3v1h-3zM1384 880h3v1h-3zM1390 880h3v1h-3zM1396 880h3v1h-3zM1402 880h3v1h-3zM1408 880h3v1h-3zM1414 880h3v1h-3zM1420 880h3v1h-3zM1426 880h3v1h-3zM1432 880h3v1h-3zM1438 880h3v1h-3zM1444 880h3v1h-3zM1450 880h3v1h-3zM1456 880h3v1h-3zM1462 880h3v1h-3zM1468 880h3v1h-3zM1474 880h3v1h-3zM1480 880h3v1h-3zM1486 880h3v1h-3zM1492 880h3v1h-3zM1498 880h3v1h-3zM1504 880h3v1h-3zM1510 880h3v1h-3zM1516 880h3v1h-3zM1522 880h3v1h-3zM1528 880h3v1h-3zM1534 880h3v1h-3zM1540 880h3v1h-3zM1546 880h3v1h-3zM1552 880h3v1h-3zM1558 880h3v1h-3zM1564 880h3v1h-3zM1570 880h3v1h-3zM1576 880h3v1h-3zM1582 880h3v1h-3zM1588 880h3v1h-3zM1594 880h3v1h-3zM1600 880h3v1h-3zM1606 880h3v1h-3zM1612 880h3v1h-3zM1618 880h3v1h-3zM1624 880h3v1h-3zM1630 880h3v1h-3zM1636 880h3v1h-3zM1642 880h3v1h-3zM1648 880h3v1h-3zM1654 880h3v1h-3zM1660 880h3v1h-3zM1666 880h3v1h-3zM1672 880h3v1h-3zM1678 880h3v1h-3zM1684 880h3v1h-3zM1690 880h3v1h-3zM1696 880h3v1h-3zM1702 880h3v1h-3zM1708 880h3v1h-3zM1714 880h3v1h-3zM1720 880h3v1h-3zM1726 880h3v1h-3zM1732 880h3v1h-3zM1738 880h3v1h-3zM1744 880h3v1h-3zM1750 880h3v1h-3zM1756 880h3v1h-3zM1762 880h3v1h-3zM1768 880h3v1h-3zM1774 880h3v1h-3zM1780 880h3v1h-3zM1786 880h3v1h-3zM1792 880h3v1h-3zM1798 880h3v1h-3zM1804 880h3v1h-3zM1810 880h3v1h-3zM1816 880h3v1h-3zM1822 880h3v1h-3zM1828 880h3v1h-3zM1834 880h3v1h-3zM1840 880h3v1h-3zM4 844h3v1h-3zM10 844h3v1h-3zM16 844h3v1h-3zM22 844h3v1h-3zM28 844h3v1h-3zM34 844h3v1h-3zM40 844h3v1h-3zM46 844h3v1h-3zM52 844h3v1h-3zM58 844h3v1h-3zM64 844h3v1h-3zM70 844h3v1h-3zM76 844h3v1h-3zM82 844h3v1h-3zM88 844h3v1h-3zM94 844h3v1h-3zM100 844h3v1h-3zM106 844h3v1h-3zM112 844h3v1h-3zM118 844h3v1h-3zM124 844h3v1h-3zM130 844h3v1h-3zM136 844h3v1h-3zM142 844h3v1h-3zM148 844h3v1h-3zM154 844h3v1h-3zM160 844h3v1h-3zM166 844h3v1h-3zM172 844h3v1h-3zM178 844h3v1h-3zM184 844h3v1h-3zM190 844h3v1h-3zM196 844h3v1h-3zM202 844h3v1h-3zM208 844h3v1h-3zM214 844h3v1h-3zM220 844h3v1h-3zM226 844h3v1h-3zM232 844h3v1h-3zM238 844h3v1h-3zM244 844h3v1h-3zM250 844h3v1h-3zM256 844h3v1h-3zM262 844h3v1h-3zM268 844h3v1h-3zM274 844h3v1h-3zM280 844h3v1h-3zM286 844h3v1h-3zM292 844h3v1h-3zM298 844h3v1h-3zM304 844h3v1h-3zM310 844h3v1h-3zM316 844h3v1h-3zM322 844h3v1h-3zM328 844h3v1h-3zM334 844h3v1h-3zM340 844h3v1h-3zM346 844h3v1h-3zM352 844h3v1h-3zM358 844h3v1h-3zM364 844h3v1h-3zM370 844h3v1h-3zM376 844h3v1h-3zM382 844h3v1h-3zM388 844h3v1h-3zM394 844h3v1h-3zM400 844h3v1h-3zM406 844h3v1h-3zM412 844h3v1h-3zM418 844h3v1h-3zM424 844h3v1h-3zM430 844h3v1h-3zM436 844h3v1h-3zM442 844h3v1h-3zM448 844h3v1h-3zM454 844h3v1h-3zM460 844h3v1h-3zM466 844h3v1h-3zM472 844h3v1h-3zM478 844h3v1h-3zM484 844h3v1h-3zM490 844h3v1h-3zM496 844h3v1h-3zM502 844h3v1h-3zM508 844h3v1h-3zM514 844h3v1h-3zM520 844h3v1h-3zM526 844h3v1h-3zM532 844h3v1h-3zM538 844h3v1h-3zM544 844h3v1h-3zM550 844h3v1h-3zM556 844h3v1h-3zM562 844h3v1h-3zM568 844h3v1h-3zM574 844h3v1h-3zM580 844h3v1h-3zM586 844h3v1h-3zM592 844h3v1h-3zM598 844h3v1h-3zM604 844h3v1h-3zM610 844h3v1h-3zM616 844h3v1h-3zM622 844h3v1h-3zM628 844h3v1h-3zM634 844h3v1h-3zM640 844h3v1h-3zM646 844h3v1h-3zM652 844h3v1h-3zM658 844h3v1h-3zM664 844h3v1h-3zM670 844h3v1h-3zM676 844h3v1h-3zM682 844h3v1h-3zM688 844h3v1h-3zM694 844h3v1h-3zM700 844h3v1h-3zM706 844h3v1h-3zM712 844h3v1h-3zM718 844h3v1h-3zM724 844h3v1h-3zM730 844h3v1h-3zM736 844h3v1h-3zM742 844h3v1h-3zM748 844h3v1h-3zM754 844h3v1h-3zM760 844h3v1h-3zM766 844h3v1h-3zM772 844h3v1h-3zM778 844h3v1h-3zM784 844h3v1h-3zM790 844h3v1h-3zM796 844h3v1h-3zM802 844h3v1h-3zM808 844h3v1h-3zM814 844h3v1h-3zM820 844h3v1h-3zM826 844h3v1h-3zM832 844h3v1h-3zM838 844h3v1h-3zM844 844h3v1h-3zM850 844h3v1h-3zM856 844h3v1h-3zM862 844h3v1h-3zM868 844h3v1h-3zM874 844h3v1h-3zM880 844h3v1h-3zM886 844h3v1h-3zM892 844h3v1h-3zM898 844h3v1h-3zM904 844h3v1h-3zM910 844h3v1h-3zM916 844h3v1h-3zM922 844h3v1h-3zM928 844h3v1h-3zM934 844h3v1h-3zM940 844h3v1h-3zM946 844h3v1h-3zM952 844h3v1h-3zM958 844h3v1h-3zM964 844h3v1h-3zM970 844h3v1h-3zM976 844h3v1h-3zM982 844h3v1h-3zM988 844h3v1h-3zM994 844h3v1h-3zM1000 844h3v1h-3zM1006 844h3v1h-3zM1012 844h3v1h-3zM1018 844h3v1h-3zM1024 844h3v1h-3zM1030 844h3v1h-3zM1036 844h3v1h-3zM1042 844h3v1h-3zM1048 844h3v1h-3zM1054 844h3v1h-3zM1060 844h3v1h-3zM1066 844h3v1h-3zM1072 844h3v1h-3zM1078 844h3v1h-3zM1084 844h3v1h-3zM1090 844h3v1h-3zM1096 844h3v1h-3zM1102 844h3v1h-3zM1108 844h3v1h-3zM1114 844h3v1h-3zM1120 844h3v1h-3zM1126 844h3v1h-3zM1132 844h3v1h-3zM1138 844h3v1h-3zM1144 844h3v1h-3zM1150 844h3v1h-3zM1156 844h3v1h-3zM1162 844h3v1h-3zM1168 844h3v1h-3zM1174 844h3v1h-3zM1180 844h3v1h-3zM1186 844h3v1h-3zM1192 844h3v1h-3zM1198 844h3v1h-3zM1204 844h3v1h-3zM1210 844h3v1h-3zM1216 844h3v1h-3zM1222 844h3v1h-3zM1228 844h3v1h-3zM1234 844h3v1h-3zM1240 844h3v1h-3zM1246 844h3v1h-3zM1252 844h3v1h-3zM1258 844h3v1h-3zM1264 844h3v1h-3zM1270 844h3v1h-3zM1276 844h3v1h-3zM1282 844h3v1h-3zM1288 844h3v1h-3zM1294 844h3v1h-3zM1300 844h3v1h-3zM1306 844h3v1h-3zM1312 844h3v1h-3zM1318 844h3v1h-3zM1324 844h3v1h-3zM1330 844h3v1h-3zM1336 844h3v1h-3zM1342 844h3v1h-3zM1348 844h3v1h-3zM1354 844h3v1h-3zM1360 844h3v1h-3zM1366 844h3v1h-3zM1372 844h3v1h-3zM1378 844h3v1h-3zM1384 844h3v1h-3zM1390 844h3v1h-3zM1396 844h3v1h-3zM1402 844h3v1h-3zM1408 844h3v1h-3zM1414 844h3v1h-3zM1420 844h3v1h-3zM1426 844h3v1h-3zM1432 844h3v1h-3zM1438 844h3v1h-3zM1444 844h3v1h-3zM1450 844h3v1h-3zM1456 844h3v1h-3zM1462 844h3v1h-3zM1468 844h3v1h-3zM1474 844h3v1h-3zM1480 844h3v1h-3zM1486 844h3v1h-3zM1492 844h3v1h-3zM1498 844h3v1h-3zM1504 844h3v1h-3zM1510 844h3v1h-3zM1516 844h3v1h-3zM1522 844h3v1h-3zM1528 844h3v1h-3zM1534 844h3v1h-3zM1540 844h3v1h-3zM1546 844h3v1h-3zM1552 844h3v1h-3zM1558 844h3v1h-3zM1564 844h3v1h-3zM1570 844h3v1h-3zM1576 844h3v1h-3zM1582 844h3v1h-3zM1588 844h3v1h-3zM1594 844h3v1h-3zM1600 844h3v1h-3zM1606 844h3v1h-3zM1612 844h3v1h-3zM1618 844h3v1h-3zM1624 844h3v1h-3zM1630 844h3v1h-3zM1636 844h3v1h-3zM1642 844h3v1h-3zM1648 844h3v1h-3zM1654 844h3v1h-3zM1660 844h3v1h-3zM1666 844h3v1h-3zM1672 844h3v1h-3zM1678 844h3v1h-3zM1684 844h3v1h-3zM1690 844h3v1h-3zM1696 844h3v1h-3zM1702 844h3v1h-3zM1708 844h3v1h-3zM1714 844h3v1h-3zM1720 844h3v1h-3zM1726 844h3v1h-3zM1732 844h3v1h-3zM1738 844h3v1h-3zM1744 844h3v1h-3zM1750 844h3v1h-3zM1756 844h3v1h-3zM1762 844h3v1h-3zM1768 844h3v1h-3zM1774 844h3v1h-3zM1780 844h3v1h-3zM1786 844h3v1h-3zM1792 844h3v1h-3zM1798 844h3v1h-3zM1804 844h3v1h-3zM1810 844h3v1h-3zM1816 844h3v1h-3zM1822 844h3v1h-3zM1828 844h3v1h-3zM1834 844h3v1h-3zM1840 844h3v1h-3zM4 807h3v1h-3zM10 807h3v1h-3zM16 807h3v1h-3zM22 807h3v1h-3zM28 807h3v1h-3zM34 807h3v1h-3zM40 807h3v1h-3zM46 807h3v1h-3zM52 807h3v1h-3zM58 807h3v1h-3zM64 807h3v1h-3zM70 807h3v1h-3zM76 807h3v1h-3zM82 807h3v1h-3zM88 807h3v1h-3zM94 807h3v1h-3zM100 807h3v1h-3zM106 807h3v1h-3zM112 807h3v1h-3zM118 807h3v1h-3zM124 807h3v1h-3zM130 807h3v1h-3zM136 807h3v1h-3zM142 807h3v1h-3zM148 807h3v1h-3zM154 807h3v1h-3zM160 807h3v1h-3zM166 807h3v1h-3zM172 807h3v1h-3zM178 807h3v1h-3zM184 807h3v1h-3zM190 807h3v1h-3zM196 807h3v1h-3zM202 807h3v1h-3zM208 807h3v1h-3zM214 807h3v1h-3zM220 807h3v1h-3zM226 807h3v1h-3zM232 807h3v1h-3zM238 807h3v1h-3zM244 807h3v1h-3zM250 807h3v1h-3zM256 807h3v1h-3zM262 807h3v1h-3zM268 807h3v1h-3zM274 807h3v1h-3zM280 807h3v1h-3zM286 807h3v1h-3zM292 807h3v1h-3zM298 807h3v1h-3zM304 807h3v1h-3zM310 807h3v1h-3zM316 807h3v1h-3zM322 807h3v1h-3zM328 807h3v1h-3zM334 807h3v1h-3zM340 807h3v1h-3zM346 807h3v1h-3zM352 807h3v1h-3zM358 807h3v1h-3zM364 807h3v1h-3zM370 807h3v1h-3zM376 807h3v1h-3zM382 807h3v1h-3zM388 807h3v1h-3zM394 807h3v1h-3zM400 807h3v1h-3zM406 807h3v1h-3zM412 807h3v1h-3zM418 807h3v1h-3zM424 807h3v1h-3zM430 807h3v1h-3zM436 807h3v1h-3zM442 807h3v1h-3zM448 807h3v1h-3zM454 807h3v1h-3zM460 807h3v1h-3zM466 807h3v1h-3zM472 807h3v1h-3zM478 807h3v1h-3zM484 807h3v1h-3zM490 807h3v1h-3zM496 807h3v1h-3zM502 807h3v1h-3zM508 807h3v1h-3zM514 807h3v1h-3zM520 807h3v1h-3zM526 807h3v1h-3zM532 807h3v1h-3zM538 807h3v1h-3zM544 807h3v1h-3zM550 807h3v1h-3zM556 807h3v1h-3zM562 807h3v1h-3zM568 807h3v1h-3zM574 807h3v1h-3zM580 807h3v1h-3zM586 807h3v1h-3zM592 807h3v1h-3zM598 807h3v1h-3zM604 807h3v1h-3zM610 807h3v1h-3zM616 807h3v1h-3zM622 807h3v1h-3zM628 807h3v1h-3zM634 807h3v1h-3zM640 807h3v1h-3zM646 807h3v1h-3zM652 807h3v1h-3zM658 807h3v1h-3zM664 807h3v1h-3zM670 807h3v1h-3zM676 807h3v1h-3zM682 807h3v1h-3zM688 807h3v1h-3zM694 807h3v1h-3zM700 807h3v1h-3zM706 807h3v1h-3zM712 807h3v1h-3zM718 807h3v1h-3zM724 807h3v1h-3zM730 807h3v1h-3zM736 807h3v1h-3zM742 807h3v1h-3zM748 807h3v1h-3zM754 807h3v1h-3zM760 807h3v1h-3zM766 807h3v1h-3zM772 807h3v1h-3zM778 807h3v1h-3zM784 807h3v1h-3zM790 807h3v1h-3zM796 807h3v1h-3zM802 807h3v1h-3zM808 807h3v1h-3zM814 807h3v1h-3zM820 807h3v1h-3zM826 807h3v1h-3zM832 807h3v1h-3zM838 807h3v1h-3zM844 807h3v1h-3zM850 807h3v1h-3zM856 807h3v1h-3zM862 807h3v1h-3zM868 807h3v1h-3zM874 807h3v1h-3zM880 807h3v1h-3zM886 807h3v1h-3zM892 807h3v1h-3zM898 807h3v1h-3zM904 807h3v1h-3zM910 807h3v1h-3zM916 807h3v1h-3zM922 807h3v1h-3zM928 807h3v1h-3zM934 807h3v1h-3zM940 807h3v1h-3zM946 807h3v1h-3zM952 807h3v1h-3zM958 807h3v1h-3zM964 807h3v1h-3zM970 807h3v1h-3zM976 807h3v1h-3zM982 807h3v1h-3zM988 807h3v1h-3zM994 807h3v1h-3zM1000 807h3v1h-3zM1006 807h3v1h-3zM1012 807h3v1h-3zM1018 807h3v1h-3zM1024 807h3v1h-3zM1030 807h3v1h-3zM1036 807h3v1h-3zM1042 807h3v1h-3zM1048 807h3v1h-3zM1054 807h3v1h-3zM1060 807h3v1h-3zM1066 807h3v1h-3zM1072 807h3v1h-3zM1078 807h3v1h-3zM1084 807h3v1h-3zM1090 807h3v1h-3zM1096 807h3v1h-3zM1102 807h3v1h-3zM1108 807h3v1h-3zM1114 807h3v1h-3zM1120 807h3v1h-3zM1126 807h3v1h-3zM1132 807h3v1h-3zM1138 807h3v1h-3zM1144 807h3v1h-3zM1150 807h3v1h-3zM1156 807h3v1h-3zM1162 807h3v1h-3zM1168 807h3v1h-3zM1174 807h3v1h-3zM1180 807h3v1h-3zM1186 807h3v1h-3zM1192 807h3v1h-3zM1198 807h3v1h-3zM1204 807h3v1h-3zM1210 807h3v1h-3zM1216 807h3v1h-3zM1222 807h3v1h-3zM1228 807h3v1h-3zM1234 807h3v1h-3zM1240 807h3v1h-3zM1246 807h3v1h-3zM1252 807h3v1h-3zM1258 807h3v1h-3zM1264 807h3v1h-3zM1270 807h3v1h-3zM1276 807h3v1h-3zM1282 807h3v1h-3zM1288 807h3v1h-3zM1294 807h3v1h-3zM1300 807h3v1h-3zM1306 807h3v1h-3zM1312 807h3v1h-3zM1318 807h3v1h-3zM1324 807h3v1h-3zM1330 807h3v1h-3zM1336 807h3v1h-3zM1342 807h3v1h-3zM1348 807h3v1h-3zM1354 807h3v1h-3zM1360 807h3v1h-3zM1366 807h3v1h-3zM1372 807h3v1h-3zM1378 807h3v1h-3zM1384 807h3v1h-3zM1390 807h3v1h-3zM1396 807h3v1h-3zM1402 807h3v1h-3zM1408 807h3v1h-3zM1414 807h3v1h-3zM1420 807h3v1h-3zM1426 807h3v1h-3zM1432 807h3v1h-3zM1438 807h3v1h-3zM1444 807h3v1h-3zM1450 807h3v1h-3zM1456 807h3v1h-3zM1462 807h3v1h-3zM1468 807h3v1h-3zM1474 807h3v1h-3zM1480 807h3v1h-3zM1486 807h3v1h-3zM1492 807h3v1h-3zM1498 807h3v1h-3zM1504 807h3v1h-3zM1510 807h3v1h-3zM1516 807h3v1h-3zM1522 807h3v1h-3zM1528 807h3v1h-3zM1534 807h3v1h-3zM1540 807h3v1h-3zM1546 807h3v1h-3zM1552 807h3v1h-3zM1558 807h3v1h-3zM1564 807h3v1h-3zM1570 807h3v1h-3zM1576 807h3v1h-3zM1582 807h3v1h-3zM1588 807h3v1h-3zM1594 807h3v1h-3zM1600 807h3v1h-3zM1606 807h3v1h-3zM1612 807h3v1h-3zM1618 807h3v1h-3zM1624 807h3v1h-3zM1630 807h3v1h-3zM1636 807h3v1h-3zM1642 807h3v1h-3zM1648 807h3v1h-3zM1654 807h3v1h-3zM1660 807h3v1h-3zM1666 807h3v1h-3zM1672 807h3v1h-3zM1678 807h3v1h-3zM1684 807h3v1h-3zM1690 807h3v1h-3zM1696 807h3v1h-3zM1702 807h3v1h-3zM1708 807h3v1h-3zM1714 807h3v1h-3zM1720 807h3v1h-3zM1726 807h3v1h-3zM1732 807h3v1h-3zM1738 807h3v1h-3zM1744 807h3v1h-3zM1750 807h3v1h-3zM1756 807h3v1h-3zM1762 807h3v1h-3zM1768 807h3v1h-3zM1774 807h3v1h-3zM1780 807h3v1h-3zM1786 807h3v1h-3zM1792 807h3v1h-3zM1798 807h3v1h-3zM1804 807h3v1h-3zM1810 807h3v1h-3zM1816 807h3v1h-3zM1822 807h3v1h-3zM1828 807h3v1h-3zM1834 807h3v1h-3zM1840 807h3v1h-3zM4 770h3v1h-3zM10 770h3v1h-3zM16 770h3v1h-3zM22 770h3v1h-3zM28 770h3v1h-3zM34 770h3v1h-3zM40 770h3v1h-3zM46 770h3v1h-3zM52 770h3v1h-3zM58 770h3v1h-3zM64 770h3v1h-3zM70 770h3v1h-3zM76 770h3v1h-3zM82 770h3v1h-3zM88 770h3v1h-3zM94 770h3v1h-3zM100 770h3v1h-3zM106 770h3v1h-3zM112 770h3v1h-3zM118 770h3v1h-3zM124 770h3v1h-3zM130 770h3v1h-3zM136 770h3v1h-3zM142 770h3v1h-3zM148 770h3v1h-3zM154 770h3v1h-3zM160 770h3v1h-3zM166 770h3v1h-3zM172 770h3v1h-3zM178 770h3v1h-3zM184 770h3v1h-3zM190 770h3v1h-3zM196 770h3v1h-3zM202 770h3v1h-3zM208 770h3v1h-3zM214 770h3v1h-3zM220 770h3v1h-3zM226 770h3v1h-3zM232 770h3v1h-3zM238 770h3v1h-3zM244 770h3v1h-3zM250 770h3v1h-3zM256 770h3v1h-3zM262 770h3v1h-3zM268 770h3v1h-3zM274 770h3v1h-3zM280 770h3v1h-3zM286 770h3v1h-3zM292 770h3v1h-3zM298 770h3v1h-3zM304 770h3v1h-3zM310 770h3v1h-3zM316 770h3v1h-3zM322 770h3v1h-3zM328 770h3v1h-3zM334 770h3v1h-3zM340 770h3v1h-3zM346 770h3v1h-3zM352 770h3v1h-3zM358 770h3v1h-3zM364 770h3v1h-3zM370 770h3v1h-3zM376 770h3v1h-3zM382 770h3v1h-3zM388 770h3v1h-3zM394 770h3v1h-3zM400 770h3v1h-3zM406 770h3v1h-3zM412 770h3v1h-3zM418 770h3v1h-3zM424 770h3v1h-3zM430 770h3v1h-3zM436 770h3v1h-3zM442 770h3v1h-3zM448 770h3v1h-3zM454 770h3v1h-3zM460 770h3v1h-3zM466 770h3v1h-3zM472 770h3v1h-3zM478 770h3v1h-3zM484 770h3v1h-3zM490 770h3v1h-3zM496 770h3v1h-3zM502 770h3v1h-3zM508 770h3v1h-3zM514 770h3v1h-3zM520 770h3v1h-3zM526 770h3v1h-3zM532 770h3v1h-3zM538 770h3v1h-3zM544 770h3v1h-3zM550 770h3v1h-3zM556 770h3v1h-3zM562 770h3v1h-3zM568 770h3v1h-3zM574 770h3v1h-3zM580 770h3v1h-3zM586 770h3v1h-3zM592 770h3v1h-3zM598 770h3v1h-3zM604 770h3v1h-3zM610 770h3v1h-3zM616 770h3v1h-3zM622 770h3v1h-3zM628 770h3v1h-3zM634 770h3v1h-3zM640 770h3v1h-3zM646 770h3v1h-3zM652 770h3v1h-3zM658 770h3v1h-3zM664 770h3v1h-3zM670 770h3v1h-3zM676 770h3v1h-3zM682 770h3v1h-3zM688 770h3v1h-3zM694 770h3v1h-3zM700 770h3v1h-3zM706 770h3v1h-3zM712 770h3v1h-3zM718 770h3v1h-3zM724 770h3v1h-3zM730 770h3v1h-3zM736 770h3v1h-3zM742 770h3v1h-3zM748 770h3v1h-3zM754 770h3v1h-3zM760 770h3v1h-3zM766 770h3v1h-3zM772 770h3v1h-3zM778 770h3v1h-3zM784 770h3v1h-3zM790 770h3v1h-3zM796 770h3v1h-3zM802 770h3v1h-3zM808 770h3v1h-3zM814 770h3v1h-3zM820 770h3v1h-3zM826 770h3v1h-3zM832 770h3v1h-3zM838 770h3v1h-3zM844 770h3v1h-3zM850 770h3v1h-3zM856 770h3v1h-3zM862 770h3v1h-3zM868 770h3v1h-3zM874 770h3v1h-3zM880 770h3v1h-3zM886 770h3v1h-3zM892 770h3v1h-3zM898 770h3v1h-3zM904 770h3v1h-3zM910 770h3v1h-3zM916 770h3v1h-3zM922 770h3v1h-3zM928 770h3v1h-3zM934 770h3v1h-3zM940 770h3v1h-3zM946 770h3v1h-3zM952 770h3v1h-3zM958 770h3v1h-3zM964 770h3v1h-3zM970 770h3v1h-3zM976 770h3v1h-3zM982 770h3v1h-3zM988 770h3v1h-3zM994 770h3v1h-3zM1000 770h3v1h-3zM1006 770h3v1h-3zM1012 770h3v1h-3zM1018 770h3v1h-3zM1024 770h3v1h-3zM1030 770h3v1h-3zM1036 770h3v1h-3zM1042 770h3v1h-3zM1048 770h3v1h-3zM1054 770h3v1h-3zM1060 770h3v1h-3zM1066 770h3v1h-3zM1072 770h3v1h-3zM1078 770h3v1h-3zM1084 770h3v1h-3zM1090 770h3v1h-3zM1096 770h3v1h-3zM1102 770h3v1h-3zM1108 770h3v1h-3zM1114 770h3v1h-3zM1120 770h3v1h-3zM1126 770h3v1h-3zM1132 770h3v1h-3zM1138 770h3v1h-3zM1144 770h3v1h-3zM1150 770h3v1h-3zM1156 770h3v1h-3zM1162 770h3v1h-3zM1168 770h3v1h-3zM1174 770h3v1h-3zM1180 770h3v1h-3zM1186 770h3v1h-3zM1192 770h3v1h-3zM1198 770h3v1h-3zM1204 770h3v1h-3zM1210 770h3v1h-3zM1216 770h3v1h-3zM1222 770h3v1h-3zM1228 770h3v1h-3zM1234 770h3v1h-3zM1240 770h3v1h-3zM1246 770h3v1h-3zM1252 770h3v1h-3zM1258 770h3v1h-3zM1264 770h3v1h-3zM1270 770h3v1h-3zM1276 770h3v1h-3zM1282 770h3v1h-3zM1288 770h3v1h-3zM1294 770h3v1h-3zM1300 770h3v1h-3zM1306 770h3v1h-3zM1312 770h3v1h-3zM1318 770h3v1h-3zM1324 770h3v1h-3zM1330 770h3v1h-3zM1336 770h3v1h-3zM1342 770h3v1h-3zM1348 770h3v1h-3zM1354 770h3v1h-3zM1360 770h3v1h-3zM1366 770h3v1h-3zM1372 770h3v1h-3zM1378 770h3v1h-3zM1384 770h3v1h-3zM1390 770h3v1h-3zM1396 770h3v1h-3zM1402 770h3v1h-3zM1408 770h3v1h-3zM1414 770h3v1h-3zM1420 770h3v1h-3zM1426 770h3v1h-3zM1432 770h3v1h-3zM1438 770h3v1h-3zM1444 770h3v1h-3zM1450 770h3v1h-3zM1456 770h3v1h-3zM1462 770h3v1h-3zM1468 770h3v1h-3zM1474 770h3v1h-3zM1480 770h3v1h-3zM1486 770h3v1h-3zM1492 770h3v1h-3zM1498 770h3v1h-3zM1504 770h3v1h-3zM1510 770h3v1h-3zM1516 770h3v1h-3zM1522 770h3v1h-3zM1528 770h3v1h-3zM1534 770h3v1h-3zM1540 770h3v1h-3zM1546 770h3v1h-3zM1552 770h3v1h-3zM1558 770h3v1h-3zM1564 770h3v1h-3zM1570 770h3v1h-3zM1576 770h3v1h-3zM1582 770h3v1h-3zM1588 770h3v1h-3zM1594 770h3v1h-3zM1600 770h3v1h-3zM1606 770h3v1h-3zM1612 770h3v1h-3zM1618 770h3v1h-3zM1624 770h3v1h-3zM1630 770h3v1h-3zM1636 770h3v1h-3zM1642 770h3v1h-3zM1648 770h3v1h-3zM1654 770h3v1h-3zM1660 770h3v1h-3zM1666 770h3v1h-3zM1672 770h3v1h-3zM1678 770h3v1h-3zM1684 770h3v1h-3zM1690 770h3v1h-3zM1696 770h3v1h-3zM1702 770h3v1h-3zM1708 770h3v1h-3zM1714 770h3v1h-3zM1720 770h3v1h-3zM1726 770h3v1h-3zM1732 770h3v1h-3zM1738 770h3v1h-3zM1744 770h3v1h-3zM1750 770h3v1h-3zM1756 770h3v1h-3zM1762 770h3v1h-3zM1768 770h3v1h-3zM1774 770h3v1h-3zM1780 770h3v1h-3zM1786 770h3v1h-3zM1792 770h3v1h-3zM1798 770h3v1h-3zM1804 770h3v1h-3zM1810 770h3v1h-3zM1816 770h3v1h-3zM1822 770h3v1h-3zM1828 770h3v1h-3zM1834 770h3v1h-3zM1840 770h3v1h-3zM4 733h3v1h-3zM10 733h3v1h-3zM16 733h3v1h-3zM22 733h3v1h-3zM28 733h3v1h-3zM34 733h3v1h-3zM40 733h3v1h-3zM46 733h3v1h-3zM52 733h3v1h-3zM58 733h3v1h-3zM64 733h3v1h-3zM70 733h3v1h-3zM76 733h3v1h-3zM82 733h3v1h-3zM88 733h3v1h-3zM94 733h3v1h-3zM100 733h3v1h-3zM106 733h3v1h-3zM112 733h3v1h-3zM118 733h3v1h-3zM124 733h3v1h-3zM130 733h3v1h-3zM136 733h3v1h-3zM142 733h3v1h-3zM148 733h3v1h-3zM154 733h3v1h-3zM160 733h3v1h-3zM166 733h3v1h-3zM172 733h3v1h-3zM178 733h3v1h-3zM184 733h3v1h-3zM190 733h3v1h-3zM196 733h3v1h-3zM202 733h3v1h-3zM208 733h3v1h-3zM214 733h3v1h-3zM220 733h3v1h-3zM226 733h3v1h-3zM232 733h3v1h-3zM238 733h3v1h-3zM244 733h3v1h-3zM250 733h3v1h-3zM256 733h3v1h-3zM262 733h3v1h-3zM268 733h3v1h-3zM274 733h3v1h-3zM280 733h3v1h-3zM286 733h3v1h-3zM292 733h3v1h-3zM298 733h3v1h-3zM304 733h3v1h-3zM310 733h3v1h-3zM316 733h3v1h-3zM322 733h3v1h-3zM328 733h3v1h-3zM334 733h3v1h-3zM340 733h3v1h-3zM346 733h3v1h-3zM352 733h3v1h-3zM358 733h3v1h-3zM364 733h3v1h-3zM370 733h3v1h-3zM376 733h3v1h-3zM382 733h3v1h-3zM388 733h3v1h-3zM394 733h3v1h-3zM400 733h3v1h-3zM406 733h3v1h-3zM412 733h3v1h-3zM418 733h3v1h-3zM424 733h3v1h-3zM430 733h3v1h-3zM436 733h3v1h-3zM442 733h3v1h-3zM448 733h3v1h-3zM454 733h3v1h-3zM460 733h3v1h-3zM466 733h3v1h-3zM472 733h3v1h-3zM478 733h3v1h-3zM484 733h3v1h-3zM490 733h3v1h-3zM496 733h3v1h-3zM502 733h3v1h-3zM508 733h3v1h-3zM514 733h3v1h-3zM520 733h3v1h-3zM526 733h3v1h-3zM532 733h3v1h-3zM538 733h3v1h-3zM544 733h3v1h-3zM550 733h3v1h-3zM556 733h3v1h-3zM562 733h3v1h-3zM568 733h3v1h-3zM574 733h3v1h-3zM580 733h3v1h-3zM586 733h3v1h-3zM592 733h3v1h-3zM598 733h3v1h-3zM604 733h3v1h-3zM610 733h3v1h-3zM616 733h3v1h-3zM622 733h3v1h-3zM628 733h3v1h-3zM634 733h3v1h-3zM640 733h3v1h-3zM646 733h3v1h-3zM652 733h3v1h-3zM658 733h3v1h-3zM664 733h3v1h-3zM670 733h3v1h-3zM676 733h3v1h-3zM682 733h3v1h-3zM688 733h3v1h-3zM694 733h3v1h-3zM700 733h3v1h-3zM706 733h3v1h-3zM712 733h3v1h-3zM718 733h3v1h-3zM724 733h3v1h-3zM730 733h3v1h-3zM736 733h3v1h-3zM742 733h3v1h-3zM748 733h3v1h-3zM754 733h3v1h-3zM760 733h3v1h-3zM766 733h3v1h-3zM772 733h3v1h-3zM778 733h3v1h-3zM784 733h3v1h-3zM790 733h3v1h-3zM796 733h3v1h-3zM802 733h3v1h-3zM808 733h3v1h-3zM814 733h3v1h-3zM820 733h3v1h-3zM826 733h3v1h-3zM832 733h3v1h-3zM838 733h3v1h-3zM844 733h3v1h-3zM850 733h3v1h-3zM856 733h3v1h-3zM862 733h3v1h-3zM868 733h3v1h-3zM874 733h3v1h-3zM880 733h3v1h-3zM886 733h3v1h-3zM892 733h3v1h-3zM898 733h3v1h-3zM904 733h3v1h-3zM910 733h3v1h-3zM916 733h3v1h-3zM922 733h3v1h-3zM928 733h3v1h-3zM934 733h3v1h-3zM940 733h3v1h-3zM946 733h3v1h-3zM952 733h3v1h-3zM958 733h3v1h-3zM964 733h3v1h-3zM970 733h3v1h-3zM976 733h3v1h-3zM982 733h3v1h-3zM988 733h3v1h-3zM994 733h3v1h-3zM1000 733h3v1h-3zM1006 733h3v1h-3zM1012 733h3v1h-3zM1018 733h3v1h-3zM1024 733h3v1h-3zM1030 733h3v1h-3zM1036 733h3v1h-3zM1042 733h3v1h-3zM1048 733h3v1h-3zM1054 733h3v1h-3zM1060 733h3v1h-3zM1066 733h3v1h-3zM1072 733h3v1h-3zM1078 733h3v1h-3zM1084 733h3v1h-3zM1090 733h3v1h-3zM1096 733h3v1h-3zM1102 733h3v1h-3zM1108 733h3v1h-3zM1114 733h3v1h-3zM1120 733h3v1h-3zM1126 733h3v1h-3zM1132 733h3v1h-3zM1138 733h3v1h-3zM1144 733h3v1h-3zM1150 733h3v1h-3zM1156 733h3v1h-3zM1162 733h3v1h-3zM1168 733h3v1h-3zM1174 733h3v1h-3zM1180 733h3v1h-3zM1186 733h3v1h-3zM1192 733h3v1h-3zM1198 733h3v1h-3zM1204 733h3v1h-3zM1210 733h3v1h-3zM1216 733h3v1h-3zM1222 733h3v1h-3zM1228 733h3v1h-3zM1234 733h3v1h-3zM1240 733h3v1h-3zM1246 733h3v1h-3zM1252 733h3v1h-3zM1258 733h3v1h-3zM1264 733h3v1h-3zM1270 733h3v1h-3zM1276 733h3v1h-3zM1282 733h3v1h-3zM1288 733h3v1h-3zM1294 733h3v1h-3zM1300 733h3v1h-3zM1306 733h3v1h-3zM1312 733h3v1h-3zM1318 733h3v1h-3zM1324 733h3v1h-3zM1330 733h3v1h-3zM1336 733h3v1h-3zM1342 733h3v1h-3zM1348 733h3v1h-3zM1354 733h3v1h-3zM1360 733h3v1h-3zM1366 733h3v1h-3zM1372 733h3v1h-3zM1378 733h3v1h-3zM1384 733h3v1h-3zM1390 733h3v1h-3zM1396 733h3v1h-3zM1402 733h3v1h-3zM1408 733h3v1h-3zM1414 733h3v1h-3zM1420 733h3v1h-3zM1426 733h3v1h-3zM1432 733h3v1h-3zM1438 733h3v1h-3zM1444 733h3v1h-3zM1450 733h3v1h-3zM1456 733h3v1h-3zM1462 733h3v1h-3zM1468 733h3v1h-3zM1474 733h3v1h-3zM1480 733h3v1h-3zM1486 733h3v1h-3zM1492 733h3v1h-3zM1498 733h3v1h-3zM1504 733h3v1h-3zM1510 733h3v1h-3zM1516 733h3v1h-3zM1522 733h3v1h-3zM1528 733h3v1h-3zM1534 733h3v1h-3zM1540 733h3v1h-3zM1546 733h3v1h-3zM1552 733h3v1h-3zM1558 733h3v1h-3zM1564 733h3v1h-3zM1570 733h3v1h-3zM1576 733h3v1h-3zM1582 733h3v1h-3zM1588 733h3v1h-3zM1594 733h3v1h-3zM1600 733h3v1h-3zM1606 733h3v1h-3zM1612 733h3v1h-3zM1618 733h3v1h-3zM1624 733h3v1h-3zM1630 733h3v1h-3zM1636 733h3v1h-3zM1642 733h3v1h-3zM1648 733h3v1h-3zM1654 733h3v1h-3zM1660 733h3v1h-3zM1666 733h3v1h-3zM1672 733h3v1h-3zM1678 733h3v1h-3zM1684 733h3v1h-3zM1690 733h3v1h-3zM1696 733h3v1h-3zM1702 733h3v1h-3zM1708 733h3v1h-3zM1714 733h3v1h-3zM1720 733h3v1h-3zM1726 733h3v1h-3zM1732 733h3v1h-3zM1738 733h3v1h-3zM1744 733h3v1h-3zM1750 733h3v1h-3zM1756 733h3v1h-3zM1762 733h3v1h-3zM1768 733h3v1h-3zM1774 733h3v1h-3zM1780 733h3v1h-3zM1786 733h3v1h-3zM1792 733h3v1h-3zM1798 733h3v1h-3zM1804 733h3v1h-3zM1810 733h3v1h-3zM1816 733h3v1h-3zM1822 733h3v1h-3zM1828 733h3v1h-3zM1834 733h3v1h-3zM1840 733h3v1h-3zM4 696h3v1h-3zM10 696h3v1h-3zM16 696h3v1h-3zM22 696h3v1h-3zM28 696h3v1h-3zM34 696h3v1h-3zM40 696h3v1h-3zM46 696h3v1h-3zM52 696h3v1h-3zM58 696h3v1h-3zM64 696h3v1h-3zM70 696h3v1h-3zM76 696h3v1h-3zM82 696h3v1h-3zM88 696h3v1h-3zM94 696h3v1h-3zM100 696h3v1h-3zM106 696h3v1h-3zM112 696h3v1h-3zM118 696h3v1h-3zM124 696h3v1h-3zM130 696h3v1h-3zM136 696h3v1h-3zM142 696h3v1h-3zM148 696h3v1h-3zM154 696h3v1h-3zM160 696h3v1h-3zM166 696h3v1h-3zM172 696h3v1h-3zM178 696h3v1h-3zM184 696h3v1h-3zM190 696h3v1h-3zM196 696h3v1h-3zM202 696h3v1h-3zM208 696h3v1h-3zM214 696h3v1h-3zM220 696h3v1h-3zM226 696h3v1h-3zM232 696h3v1h-3zM238 696h3v1h-3zM244 696h3v1h-3zM250 696h3v1h-3zM256 696h3v1h-3zM262 696h3v1h-3zM268 696h3v1h-3zM274 696h3v1h-3zM280 696h3v1h-3zM286 696h3v1h-3zM292 696h3v1h-3zM298 696h3v1h-3zM304 696h3v1h-3zM310 696h3v1h-3zM316 696h3v1h-3zM322 696h3v1h-3zM328 696h3v1h-3zM334 696h3v1h-3zM340 696h3v1h-3zM346 696h3v1h-3zM352 696h3v1h-3zM358 696h3v1h-3zM364 696h3v1h-3zM370 696h3v1h-3zM376 696h3v1h-3zM382 696h3v1h-3zM388 696h3v1h-3zM394 696h3v1h-3zM400 696h3v1h-3zM406 696h3v1h-3zM412 696h3v1h-3zM418 696h3v1h-3zM424 696h3v1h-3zM430 696h3v1h-3zM436 696h3v1h-3zM442 696h3v1h-3zM448 696h3v1h-3zM454 696h3v1h-3zM460 696h3v1h-3zM466 696h3v1h-3zM472 696h3v1h-3zM478 696h3v1h-3zM484 696h3v1h-3zM490 696h3v1h-3zM496 696h3v1h-3zM502 696h3v1h-3zM508 696h3v1h-3zM514 696h3v1h-3zM520 696h3v1h-3zM526 696h3v1h-3zM532 696h3v1h-3zM538 696h3v1h-3zM544 696h3v1h-3zM550 696h3v1h-3zM556 696h3v1h-3zM562 696h3v1h-3zM568 696h3v1h-3zM574 696h3v1h-3zM580 696h3v1h-3zM586 696h3v1h-3zM592 696h3v1h-3zM598 696h3v1h-3zM604 696h3v1h-3zM610 696h3v1h-3zM616 696h3v1h-3zM622 696h3v1h-3zM628 696h3v1h-3zM634 696h3v1h-3zM640 696h3v1h-3zM646 696h3v1h-3zM652 696h3v1h-3zM658 696h3v1h-3zM664 696h3v1h-3zM670 696h3v1h-3zM676 696h3v1h-3zM682 696h3v1h-3zM688 696h3v1h-3zM694 696h3v1h-3zM700 696h3v1h-3zM706 696h3v1h-3zM712 696h3v1h-3zM718 696h3v1h-3zM724 696h3v1h-3zM730 696h3v1h-3zM736 696h3v1h-3zM742 696h3v1h-3zM748 696h3v1h-3zM754 696h3v1h-3zM760 696h3v1h-3zM766 696h3v1h-3zM772 696h3v1h-3zM778 696h3v1h-3zM784 696h3v1h-3zM790 696h3v1h-3zM796 696h3v1h-3zM802 696h3v1h-3zM808 696h3v1h-3zM814 696h3v1h-3zM820 696h3v1h-3zM826 696h3v1h-3zM832 696h3v1h-3zM838 696h3v1h-3zM844 696h3v1h-3zM850 696h3v1h-3zM856 696h3v1h-3zM862 696h3v1h-3zM868 696h3v1h-3zM874 696h3v1h-3zM880 696h3v1h-3zM886 696h3v1h-3zM892 696h3v1h-3zM898 696h3v1h-3zM904 696h3v1h-3zM910 696h3v1h-3zM916 696h3v1h-3zM922 696h3v1h-3zM928 696h3v1h-3zM934 696h3v1h-3zM940 696h3v1h-3zM946 696h3v1h-3zM952 696h3v1h-3zM958 696h3v1h-3zM964 696h3v1h-3zM970 696h3v1h-3zM976 696h3v1h-3zM982 696h3v1h-3zM988 696h3v1h-3zM994 696h3v1h-3zM1000 696h3v1h-3zM1006 696h3v1h-3zM1012 696h3v1h-3zM1018 696h3v1h-3zM1024 696h3v1h-3zM1030 696h3v1h-3zM1036 696h3v1h-3zM1042 696h3v1h-3zM1048 696h3v1h-3zM1054 696h3v1h-3zM1060 696h3v1h-3zM1066 696h3v1h-3zM1072 696h3v1h-3zM1078 696h3v1h-3zM1084 696h3v1h-3zM1090 696h3v1h-3zM1096 696h3v1h-3zM1102 696h3v1h-3zM1108 696h3v1h-3zM1114 696h3v1h-3zM1120 696h3v1h-3zM1126 696h3v1h-3zM1132 696h3v1h-3zM1138 696h3v1h-3zM1144 696h3v1h-3zM1150 696h3v1h-3zM1156 696h3v1h-3zM1162 696h3v1h-3zM1168 696h3v1h-3zM1174 696h3v1h-3zM1180 696h3v1h-3zM1186 696h3v1h-3zM1192 696h3v1h-3zM1198 696h3v1h-3zM1204 696h3v1h-3zM1210 696h3v1h-3zM1216 696h3v1h-3zM1222 696h3v1h-3zM1228 696h3v1h-3zM1234 696h3v1h-3zM1240 696h3v1h-3zM1246 696h3v1h-3zM1252 696h3v1h-3zM1258 696h3v1h-3zM1264 696h3v1h-3zM1270 696h3v1h-3zM1276 696h3v1h-3zM1282 696h3v1h-3zM1288 696h3v1h-3zM1294 696h3v1h-3zM1300 696h3v1h-3zM1306 696h3v1h-3zM1312 696h3v1h-3zM1318 696h3v1h-3zM1324 696h3v1h-3zM1330 696h3v1h-3zM1336 696h3v1h-3zM1342 696h3v1h-3zM1348 696h3v1h-3zM1354 696h3v1h-3zM1360 696h3v1h-3zM1366 696h3v1h-3zM1372 696h3v1h-3zM1378 696h3v1h-3zM1384 696h3v1h-3zM1390 696h3v1h-3zM1396 696h3v1h-3zM1402 696h3v1h-3zM1408 696h3v1h-3zM1414 696h3v1h-3zM1420 696h3v1h-3zM1426 696h3v1h-3zM1432 696h3v1h-3zM1438 696h3v1h-3zM1444 696h3v1h-3zM1450 696h3v1h-3zM1456 696h3v1h-3zM1462 696h3v1h-3zM1468 696h3v1h-3zM1474 696h3v1h-3zM1480 696h3v1h-3zM1486 696h3v1h-3zM1492 696h3v1h-3zM1498 696h3v1h-3zM1504 696h3v1h-3zM1510 696h3v1h-3zM1516 696h3v1h-3zM1522 696h3v1h-3zM1528 696h3v1h-3zM1534 696h3v1h-3zM1540 696h3v1h-3zM1546 696h3v1h-3zM1552 696h3v1h-3zM1558 696h3v1h-3zM1564 696h3v1h-3zM1570 696h3v1h-3zM1576 696h3v1h-3zM1582 696h3v1h-3zM1588 696h3v1h-3zM1594 696h3v1h-3zM1600 696h3v1h-3zM1606 696h3v1h-3zM1612 696h3v1h-3zM1618 696h3v1h-3zM1624 696h3v1h-3zM1630 696h3v1h-3zM1636 696h3v1h-3zM1642 696h3v1h-3zM1648 696h3v1h-3zM1654 696h3v1h-3zM1660 696h3v1h-3zM1666 696h3v1h-3zM1672 696h3v1h-3zM1678 696h3v1h-3zM1684 696h3v1h-3zM1690 696h3v1h-3zM1696 696h3v1h-3zM1702 696h3v1h-3zM1708 696h3v1h-3zM1714 696h3v1h-3zM1720 696h3v1h-3zM1726 696h3v1h-3zM1732 696h3v1h-3zM1738 696h3v1h-3zM1744 696h3v1h-3zM1750 696h3v1h-3zM1756 696h3v1h-3zM1762 696h3v1h-3zM1768 696h3v1h-3zM1774 696h3v1h-3zM1780 696h3v1h-3zM1786 696h3v1h-3zM1792 696h3v1h-3zM1798 696h3v1h-3zM1804 696h3v1h-3zM1810 696h3v1h-3zM1816 696h3v1h-3zM1822 696h3v1h-3zM1828 696h3v1h-3zM1834 696h3v1h-3zM1840 696h3v1h-3zM4 659h3v1h-3zM10 659h3v1h-3zM16 659h3v1h-3zM22 659h3v1h-3zM28 659h3v1h-3zM34 659h3v1h-3zM40 659h3v1h-3zM46 659h3v1h-3zM52 659h3v1h-3zM58 659h3v1h-3zM64 659h3v1h-3zM70 659h3v1h-3zM76 659h3v1h-3zM82 659h3v1h-3zM88 659h3v1h-3zM94 659h3v1h-3zM100 659h3v1h-3zM106 659h3v1h-3zM112 659h3v1h-3zM118 659h3v1h-3zM124 659h3v1h-3zM130 659h3v1h-3zM136 659h3v1h-3zM142 659h3v1h-3zM148 659h3v1h-3zM154 659h3v1h-3zM160 659h3v1h-3zM166 659h3v1h-3zM172 659h3v1h-3zM178 659h3v1h-3zM184 659h3v1h-3zM190 659h3v1h-3zM196 659h3v1h-3zM202 659h3v1h-3zM208 659h3v1h-3zM214 659h3v1h-3zM220 659h3v1h-3zM226 659h3v1h-3zM232 659h3v1h-3zM238 659h3v1h-3zM244 659h3v1h-3zM250 659h3v1h-3zM256 659h3v1h-3zM262 659h3v1h-3zM268 659h3v1h-3zM274 659h3v1h-3zM280 659h3v1h-3zM286 659h3v1h-3zM292 659h3v1h-3zM298 659h3v1h-3zM304 659h3v1h-3zM310 659h3v1h-3zM316 659h3v1h-3zM322 659h3v1h-3zM328 659h3v1h-3zM334 659h3v1h-3zM340 659h3v1h-3zM346 659h3v1h-3zM352 659h3v1h-3zM358 659h3v1h-3zM364 659h3v1h-3zM370 659h3v1h-3zM376 659h3v1h-3zM382 659h3v1h-3zM388 659h3v1h-3zM394 659h3v1h-3zM400 659h3v1h-3zM406 659h3v1h-3zM412 659h3v1h-3zM418 659h3v1h-3zM424 659h3v1h-3zM430 659h3v1h-3zM436 659h3v1h-3zM442 659h3v1h-3zM448 659h3v1h-3zM454 659h3v1h-3zM460 659h3v1h-3zM466 659h3v1h-3zM472 659h3v1h-3zM478 659h3v1h-3zM484 659h3v1h-3zM490 659h3v1h-3zM496 659h3v1h-3zM502 659h3v1h-3zM508 659h3v1h-3zM514 659h3v1h-3zM520 659h3v1h-3zM526 659h3v1h-3zM532 659h3v1h-3zM538 659h3v1h-3zM544 659h3v1h-3zM550 659h3v1h-3zM556 659h3v1h-3zM562 659h3v1h-3zM568 659h3v1h-3zM574 659h3v1h-3zM580 659h3v1h-3zM586 659h3v1h-3zM592 659h3v1h-3zM598 659h3v1h-3zM604 659h3v1h-3zM610 659h3v1h-3zM616 659h3v1h-3zM622 659h3v1h-3zM628 659h3v1h-3zM634 659h3v1h-3zM640 659h3v1h-3zM646 659h3v1h-3zM652 659h3v1h-3zM658 659h3v1h-3zM664 659h3v1h-3zM670 659h3v1h-3zM676 659h3v1h-3zM682 659h3v1h-3zM688 659h3v1h-3zM694 659h3v1h-3zM700 659h3v1h-3zM706 659h3v1h-3zM712 659h3v1h-3zM718 659h3v1h-3zM724 659h3v1h-3zM730 659h3v1h-3zM736 659h3v1h-3zM742 659h3v1h-3zM748 659h3v1h-3zM754 659h3v1h-3zM760 659h3v1h-3zM766 659h3v1h-3zM772 659h3v1h-3zM778 659h3v1h-3zM784 659h3v1h-3zM790 659h3v1h-3zM796 659h3v1h-3zM802 659h3v1h-3zM808 659h3v1h-3zM814 659h3v1h-3zM820 659h3v1h-3zM826 659h3v1h-3zM832 659h3v1h-3zM838 659h3v1h-3zM844 659h3v1h-3zM850 659h3v1h-3zM856 659h3v1h-3zM862 659h3v1h-3zM868 659h3v1h-3zM874 659h3v1h-3zM880 659h3v1h-3zM886 659h3v1h-3zM892 659h3v1h-3zM898 659h3v1h-3zM904 659h3v1h-3zM910 659h3v1h-3zM916 659h3v1h-3zM922 659h3v1h-3zM928 659h3v1h-3zM934 659h3v1h-3zM940 659h3v1h-3zM946 659h3v1h-3zM952 659h3v1h-3zM958 659h3v1h-3zM964 659h3v1h-3zM970 659h3v1h-3zM976 659h3v1h-3zM982 659h3v1h-3zM988 659h3v1h-3zM994 659h3v1h-3zM1000 659h3v1h-3zM1006 659h3v1h-3zM1012 659h3v1h-3zM1018 659h3v1h-3zM1024 659h3v1h-3zM1030 659h3v1h-3zM1036 659h3v1h-3zM1042 659h3v1h-3zM1048 659h3v1h-3zM1054 659h3v1h-3zM1060 659h3v1h-3zM1066 659h3v1h-3zM1072 659h3v1h-3zM1078 659h3v1h-3zM1084 659h3v1h-3zM1090 659h3v1h-3zM1096 659h3v1h-3zM1102 659h3v1h-3zM1108 659h3v1h-3zM1114 659h3v1h-3zM1120 659h3v1h-3zM1126 659h3v1h-3zM1132 659h3v1h-3zM1138 659h3v1h-3zM1144 659h3v1h-3zM1150 659h3v1h-3zM1156 659h3v1h-3zM1162 659h3v1h-3zM1168 659h3v1h-3zM1174 659h3v1h-3zM1180 659h3v1h-3zM1186 659h3v1h-3zM1192 659h3v1h-3zM1198 659h3v1h-3zM1204 659h3v1h-3zM1210 659h3v1h-3zM1216 659h3v1h-3zM1222 659h3v1h-3zM1228 659h3v1h-3zM1234 659h3v1h-3zM1240 659h3v1h-3zM1246 659h3v1h-3zM1252 659h3v1h-3zM1258 659h3v1h-3zM1264 659h3v1h-3zM1270 659h3v1h-3zM1276 659h3v1h-3zM1282 659h3v1h-3zM1288 659h3v1h-3zM1294 659h3v1h-3zM1300 659h3v1h-3zM1306 659h3v1h-3zM1312 659h3v1h-3zM1318 659h3v1h-3zM1324 659h3v1h-3zM1330 659h3v1h-3zM1336 659h3v1h-3zM1342 659h3v1h-3zM1348 659h3v1h-3zM1354 659h3v1h-3zM1360 659h3v1h-3zM1366 659h3v1h-3zM1372 659h3v1h-3zM1378 659h3v1h-3zM1384 659h3v1h-3zM1390 659h3v1h-3zM1396 659h3v1h-3zM1402 659h3v1h-3zM1408 659h3v1h-3zM1414 659h3v1h-3zM1420 659h3v1h-3zM1426 659h3v1h-3zM1432 659h3v1h-3zM1438 659h3v1h-3zM1444 659h3v1h-3zM1450 659h3v1h-3zM1456 659h3v1h-3zM1462 659h3v1h-3zM1468 659h3v1h-3zM1474 659h3v1h-3zM1480 659h3v1h-3zM1486 659h3v1h-3zM1492 659h3v1h-3zM1498 659h3v1h-3zM1504 659h3v1h-3zM1510 659h3v1h-3zM1516 659h3v1h-3zM1522 659h3v1h-3zM1528 659h3v1h-3zM1534 659h3v1h-3zM1540 659h3v1h-3zM1546 659h3v1h-3zM1552 659h3v1h-3zM1558 659h3v1h-3zM1564 659h3v1h-3zM1570 659h3v1h-3zM1576 659h3v1h-3zM1582 659h3v1h-3zM1588 659h3v1h-3zM1594 659h3v1h-3zM1600 659h3v1h-3zM1606 659h3v1h-3zM1612 659h3v1h-3zM1618 659h3v1h-3zM1624 659h3v1h-3zM1630 659h3v1h-3zM1636 659h3v1h-3zM1642 659h3v1h-3zM1648 659h3v1h-3zM1654 659h3v1h-3zM1660 659h3v1h-3zM1666 659h3v1h-3zM1672 659h3v1h-3zM1678 659h3v1h-3zM1684 659h3v1h-3zM1690 659h3v1h-3zM1696 659h3v1h-3zM1702 659h3v1h-3zM1708 659h3v1h-3zM1714 659h3v1h-3zM1720 659h3v1h-3zM1726 659h3v1h-3zM1732 659h3v1h-3zM1738 659h3v1h-3zM1744 659h3v1h-3zM1750 659h3v1h-3zM1756 659h3v1h-3zM1762 659h3v1h-3zM1768 659h3v1h-3zM1774 659h3v1h-3zM1780 659h3v1h-3zM1786 659h3v1h-3zM1792 659h3v1h-3zM1798 659h3v1h-3zM1804 659h3v1h-3zM1810 659h3v1h-3zM1816 659h3v1h-3zM1822 659h3v1h-3zM1828 659h3v1h-3zM1834 659h3v1h-3zM1840 659h3v1h-3zM4 622h3v1h-3zM10 622h3v1h-3zM16 622h3v1h-3zM22 622h3v1h-3zM28 622h3v1h-3zM34 622h3v1h-3zM40 622h3v1h-3zM46 622h3v1h-3zM52 622h3v1h-3zM58 622h3v1h-3zM64 622h3v1h-3zM70 622h3v1h-3zM76 622h3v1h-3zM82 622h3v1h-3zM88 622h3v1h-3zM94 622h3v1h-3zM100 622h3v1h-3zM106 622h3v1h-3zM112 622h3v1h-3zM118 622h3v1h-3zM124 622h3v1h-3zM130 622h3v1h-3zM136 622h3v1h-3zM142 622h3v1h-3zM148 622h3v1h-3zM154 622h3v1h-3zM160 622h3v1h-3zM166 622h3v1h-3zM172 622h3v1h-3zM178 622h3v1h-3zM184 622h3v1h-3zM190 622h3v1h-3zM196 622h3v1h-3zM202 622h3v1h-3zM208 622h3v1h-3zM214 622h3v1h-3zM220 622h3v1h-3zM226 622h3v1h-3zM232 622h3v1h-3zM238 622h3v1h-3zM244 622h3v1h-3zM250 622h3v1h-3zM256 622h3v1h-3zM262 622h3v1h-3zM268 622h3v1h-3zM274 622h3v1h-3zM280 622h3v1h-3zM286 622h3v1h-3zM292 622h3v1h-3zM298 622h3v1h-3zM304 622h3v1h-3zM310 622h3v1h-3zM316 622h3v1h-3zM322 622h3v1h-3zM328 622h3v1h-3zM334 622h3v1h-3zM340 622h3v1h-3zM346 622h3v1h-3zM352 622h3v1h-3zM358 622h3v1h-3zM364 622h3v1h-3zM370 622h3v1h-3zM376 622h3v1h-3zM382 622h3v1h-3zM388 622h3v1h-3zM394 622h3v1h-3zM400 622h3v1h-3zM406 622h3v1h-3zM412 622h3v1h-3zM418 622h3v1h-3zM424 622h3v1h-3zM430 622h3v1h-3zM436 622h3v1h-3zM442 622h3v1h-3zM448 622h3v1h-3zM454 622h3v1h-3zM460 622h3v1h-3zM466 622h3v1h-3zM472 622h3v1h-3zM478 622h3v1h-3zM484 622h3v1h-3zM490 622h3v1h-3zM496 622h3v1h-3zM502 622h3v1h-3zM508 622h3v1h-3zM514 622h3v1h-3zM520 622h3v1h-3zM526 622h3v1h-3zM532 622h3v1h-3zM538 622h3v1h-3zM544 622h3v1h-3zM550 622h3v1h-3zM556 622h3v1h-3zM562 622h3v1h-3zM568 622h3v1h-3zM574 622h3v1h-3zM580 622h3v1h-3zM586 622h3v1h-3zM592 622h3v1h-3zM598 622h3v1h-3zM604 622h3v1h-3zM610 622h3v1h-3zM616 622h3v1h-3zM622 622h3v1h-3zM628 622h3v1h-3zM634 622h3v1h-3zM640 622h3v1h-3zM646 622h3v1h-3zM652 622h3v1h-3zM658 622h3v1h-3zM664 622h3v1h-3zM670 622h3v1h-3zM676 622h3v1h-3zM682 622h3v1h-3zM688 622h3v1h-3zM694 622h3v1h-3zM700 622h3v1h-3zM706 622h3v1h-3zM712 622h3v1h-3zM718 622h3v1h-3zM724 622h3v1h-3zM730 622h3v1h-3zM736 622h3v1h-3zM742 622h3v1h-3zM748 622h3v1h-3zM754 622h3v1h-3zM760 622h3v1h-3zM766 622h3v1h-3zM772 622h3v1h-3zM778 622h3v1h-3zM784 622h3v1h-3zM790 622h3v1h-3zM796 622h3v1h-3zM802 622h3v1h-3zM808 622h3v1h-3zM814 622h3v1h-3zM820 622h3v1h-3zM826 622h3v1h-3zM832 622h3v1h-3zM838 622h3v1h-3zM844 622h3v1h-3zM850 622h3v1h-3zM856 622h3v1h-3zM862 622h3v1h-3zM868 622h3v1h-3zM874 622h3v1h-3zM880 622h3v1h-3zM886 622h3v1h-3zM892 622h3v1h-3zM898 622h3v1h-3zM904 622h3v1h-3zM910 622h3v1h-3zM916 622h3v1h-3zM922 622h3v1h-3zM928 622h3v1h-3zM934 622h3v1h-3zM940 622h3v1h-3zM946 622h3v1h-3zM952 622h3v1h-3zM958 622h3v1h-3zM964 622h3v1h-3zM970 622h3v1h-3zM976 622h3v1h-3zM982 622h3v1h-3zM988 622h3v1h-3zM994 622h3v1h-3zM1000 622h3v1h-3zM1006 622h3v1h-3zM1012 622h3v1h-3zM1018 622h3v1h-3zM1024 622h3v1h-3zM1030 622h3v1h-3zM1036 622h3v1h-3zM1042 622h3v1h-3zM1048 622h3v1h-3zM1054 622h3v1h-3zM1060 622h3v1h-3zM1066 622h3v1h-3zM1072 622h3v1h-3zM1078 622h3v1h-3zM1084 622h3v1h-3zM1090 622h3v1h-3zM1096 622h3v1h-3zM1102 622h3v1h-3zM1108 622h3v1h-3zM1114 622h3v1h-3zM1120 622h3v1h-3zM1126 622h3v1h-3zM1132 622h3v1h-3zM1138 622h3v1h-3zM1144 622h3v1h-3zM1150 622h3v1h-3zM1156 622h3v1h-3zM1162 622h3v1h-3zM1168 622h3v1h-3zM1174 622h3v1h-3zM1180 622h3v1h-3zM1186 622h3v1h-3zM1192 622h3v1h-3zM1198 622h3v1h-3zM1204 622h3v1h-3zM1210 622h3v1h-3zM1216 622h3v1h-3zM1222 622h3v1h-3zM1228 622h3v1h-3zM1234 622h3v1h-3zM1240 622h3v1h-3zM1246 622h3v1h-3zM1252 622h3v1h-3zM1258 622h3v1h-3zM1264 622h3v1h-3zM1270 622h3v1h-3zM1276 622h3v1h-3zM1282 622h3v1h-3zM1288 622h3v1h-3zM1294 622h3v1h-3zM1300 622h3v1h-3zM1306 622h3v1h-3zM1312 622h3v1h-3zM1318 622h3v1h-3zM1324 622h3v1h-3zM1330 622h3v1h-3zM1336 622h3v1h-3zM1342 622h3v1h-3zM1348 622h3v1h-3zM1354 622h3v1h-3zM1360 622h3v1h-3zM1366 622h3v1h-3zM1372 622h3v1h-3zM1378 622h3v1h-3zM1384 622h3v1h-3zM1390 622h3v1h-3zM1396 622h3v1h-3zM1402 622h3v1h-3zM1408 622h3v1h-3zM1414 622h3v1h-3zM1420 622h3v1h-3zM1426 622h3v1h-3zM1432 622h3v1h-3zM1438 622h3v1h-3zM1444 622h3v1h-3zM1450 622h3v1h-3zM1456 622h3v1h-3zM1462 622h3v1h-3zM1468 622h3v1h-3zM1474 622h3v1h-3zM1480 622h3v1h-3zM1486 622h3v1h-3zM1492 622h3v1h-3zM1498 622h3v1h-3zM1504 622h3v1h-3zM1510 622h3v1h-3zM1516 622h3v1h-3zM1522 622h3v1h-3zM1528 622h3v1h-3zM1534 622h3v1h-3zM1540 622h3v1h-3zM1546 622h3v1h-3zM1552 622h3v1h-3zM1558 622h3v1h-3zM1564 622h3v1h-3zM1570 622h3v1h-3zM1576 622h3v1h-3zM1582 622h3v1h-3zM1588 622h3v1h-3zM1594 622h3v1h-3zM1600 622h3v1h-3zM1606 622h3v1h-3zM1612 622h3v1h-3zM1618 622h3v1h-3zM1624 622h3v1h-3zM1630 622h3v1h-3zM1636 622h3v1h-3zM1642 622h3v1h-3zM1648 622h3v1h-3zM1654 622h3v1h-3zM1660 622h3v1h-3zM1666 622h3v1h-3zM1672 622h3v1h-3zM1678 622h3v1h-3zM1684 622h3v1h-3zM1690 622h3v1h-3zM1696 622h3v1h-3zM1702 622h3v1h-3zM1708 622h3v1h-3zM1714 622h3v1h-3zM1720 622h3v1h-3zM1726 622h3v1h-3zM1732 622h3v1h-3zM1738 622h3v1h-3zM1744 622h3v1h-3zM1750 622h3v1h-3zM1756 622h3v1h-3zM1762 622h3v1h-3zM1768 622h3v1h-3zM1774 622h3v1h-3zM1780 622h3v1h-3zM1786 622h3v1h-3zM1792 622h3v1h-3zM1798 622h3v1h-3zM1804 622h3v1h-3zM1810 622h3v1h-3zM1816 622h3v1h-3zM1822 622h3v1h-3zM1828 622h3v1h-3zM1834 622h3v1h-3zM1840 622h3v1h-3zM4 585h3v1h-3zM10 585h3v1h-3zM16 585h3v1h-3zM22 585h3v1h-3zM28 585h3v1h-3zM34 585h3v1h-3zM40 585h3v1h-3zM46 585h3v1h-3zM52 585h3v1h-3zM58 585h3v1h-3zM64 585h3v1h-3zM70 585h3v1h-3zM76 585h3v1h-3zM82 585h3v1h-3zM88 585h3v1h-3zM94 585h3v1h-3zM100 585h3v1h-3zM106 585h3v1h-3zM112 585h3v1h-3zM118 585h3v1h-3zM124 585h3v1h-3zM130 585h3v1h-3zM136 585h3v1h-3zM142 585h3v1h-3zM148 585h3v1h-3zM154 585h3v1h-3zM160 585h3v1h-3zM166 585h3v1h-3zM172 585h3v1h-3zM178 585h3v1h-3zM184 585h3v1h-3zM190 585h3v1h-3zM196 585h3v1h-3zM202 585h3v1h-3zM208 585h3v1h-3zM214 585h3v1h-3zM220 585h3v1h-3zM226 585h3v1h-3zM232 585h3v1h-3zM238 585h3v1h-3zM244 585h3v1h-3zM250 585h3v1h-3zM256 585h3v1h-3zM262 585h3v1h-3zM268 585h3v1h-3zM274 585h3v1h-3zM280 585h3v1h-3zM286 585h3v1h-3zM292 585h3v1h-3zM298 585h3v1h-3zM304 585h3v1h-3zM310 585h3v1h-3zM316 585h3v1h-3zM322 585h3v1h-3zM328 585h3v1h-3zM334 585h3v1h-3zM340 585h3v1h-3zM346 585h3v1h-3zM352 585h3v1h-3zM358 585h3v1h-3zM364 585h3v1h-3zM370 585h3v1h-3zM376 585h3v1h-3zM382 585h3v1h-3zM388 585h3v1h-3zM394 585h3v1h-3zM400 585h3v1h-3zM406 585h3v1h-3zM412 585h3v1h-3zM418 585h3v1h-3zM424 585h3v1h-3zM430 585h3v1h-3zM436 585h3v1h-3zM442 585h3v1h-3zM448 585h3v1h-3zM454 585h3v1h-3zM460 585h3v1h-3zM466 585h3v1h-3zM472 585h3v1h-3zM478 585h3v1h-3zM484 585h3v1h-3zM490 585h3v1h-3zM496 585h3v1h-3zM502 585h3v1h-3zM508 585h3v1h-3zM514 585h3v1h-3zM520 585h3v1h-3zM526 585h3v1h-3zM532 585h3v1h-3zM538 585h3v1h-3zM544 585h3v1h-3zM550 585h3v1h-3zM556 585h3v1h-3zM562 585h3v1h-3zM568 585h3v1h-3zM574 585h3v1h-3zM580 585h3v1h-3zM586 585h3v1h-3zM592 585h3v1h-3zM598 585h3v1h-3zM604 585h3v1h-3zM610 585h3v1h-3zM616 585h3v1h-3zM622 585h3v1h-3zM628 585h3v1h-3zM634 585h3v1h-3zM640 585h3v1h-3zM646 585h3v1h-3zM652 585h3v1h-3zM658 585h3v1h-3zM664 585h3v1h-3zM670 585h3v1h-3zM676 585h3v1h-3zM682 585h3v1h-3zM688 585h3v1h-3zM694 585h3v1h-3zM700 585h3v1h-3zM706 585h3v1h-3zM712 585h3v1h-3zM718 585h3v1h-3zM724 585h3v1h-3zM730 585h3v1h-3zM736 585h3v1h-3zM742 585h3v1h-3zM748 585h3v1h-3zM754 585h3v1h-3zM760 585h3v1h-3zM766 585h3v1h-3zM772 585h3v1h-3zM778 585h3v1h-3zM784 585h3v1h-3zM790 585h3v1h-3zM796 585h3v1h-3zM802 585h3v1h-3zM808 585h3v1h-3zM814 585h3v1h-3zM820 585h3v1h-3zM826 585h3v1h-3zM832 585h3v1h-3zM838 585h3v1h-3zM844 585h3v1h-3zM850 585h3v1h-3zM856 585h3v1h-3zM862 585h3v1h-3zM868 585h3v1h-3zM874 585h3v1h-3zM880 585h3v1h-3zM886 585h3v1h-3zM892 585h3v1h-3zM898 585h3v1h-3zM904 585h3v1h-3zM910 585h3v1h-3zM916 585h3v1h-3zM922 585h3v1h-3zM928 585h3v1h-3zM934 585h3v1h-3zM940 585h3v1h-3zM946 585h3v1h-3zM952 585h3v1h-3zM958 585h3v1h-3zM964 585h3v1h-3zM970 585h3v1h-3zM976 585h3v1h-3zM982 585h3v1h-3zM988 585h3v1h-3zM994 585h3v1h-3zM1000 585h3v1h-3zM1006 585h3v1h-3zM1012 585h3v1h-3zM1018 585h3v1h-3zM1024 585h3v1h-3zM1030 585h3v1h-3zM1036 585h3v1h-3zM1042 585h3v1h-3zM1048 585h3v1h-3zM1054 585h3v1h-3zM1060 585h3v1h-3zM1066 585h3v1h-3zM1072 585h3v1h-3zM1078 585h3v1h-3zM1084 585h3v1h-3zM1090 585h3v1h-3zM1096 585h3v1h-3zM1102 585h3v1h-3zM1108 585h3v1h-3zM1114 585h3v1h-3zM1120 585h3v1h-3zM1126 585h3v1h-3zM1132 585h3v1h-3zM1138 585h3v1h-3zM1144 585h3v1h-3zM1150 585h3v1h-3zM1156 585h3v1h-3zM1162 585h3v1h-3zM1168 585h3v1h-3zM1174 585h3v1h-3zM1180 585h3v1h-3zM1186 585h3v1h-3zM1192 585h3v1h-3zM1198 585h3v1h-3zM1204 585h3v1h-3zM1210 585h3v1h-3zM1216 585h3v1h-3zM1222 585h3v1h-3zM1228 585h3v1h-3zM1234 585h3v1h-3zM1240 585h3v1h-3zM1246 585h3v1h-3zM1252 585h3v1h-3zM1258 585h3v1h-3zM1264 585h3v1h-3zM1270 585h3v1h-3zM1276 585h3v1h-3zM1282 585h3v1h-3zM1288 585h3v1h-3zM1294 585h3v1h-3zM1300 585h3v1h-3zM1306 585h3v1h-3zM1312 585h3v1h-3zM1318 585h3v1h-3zM1324 585h3v1h-3zM1330 585h3v1h-3zM1336 585h3v1h-3zM1342 585h3v1h-3zM1348 585h3v1h-3zM1354 585h3v1h-3zM1360 585h3v1h-3zM1366 585h3v1h-3zM1372 585h3v1h-3zM1378 585h3v1h-3zM1384 585h3v1h-3zM1390 585h3v1h-3zM1396 585h3v1h-3zM1402 585h3v1h-3zM1408 585h3v1h-3zM1414 585h3v1h-3zM1420 585h3v1h-3zM1426 585h3v1h-3zM1432 585h3v1h-3zM1438 585h3v1h-3zM1444 585h3v1h-3zM1450 585h3v1h-3zM1456 585h3v1h-3zM1462 585h3v1h-3zM1468 585h3v1h-3zM1474 585h3v1h-3zM1480 585h3v1h-3zM1486 585h3v1h-3zM1492 585h3v1h-3zM1498 585h3v1h-3zM1504 585h3v1h-3zM1510 585h3v1h-3zM1516 585h3v1h-3zM1522 585h3v1h-3zM1528 585h3v1h-3zM1534 585h3v1h-3zM1540 585h3v1h-3zM1546 585h3v1h-3zM1552 585h3v1h-3zM1558 585h3v1h-3zM1564 585h3v1h-3zM1570 585h3v1h-3zM1576 585h3v1h-3zM1582 585h3v1h-3zM1588 585h3v1h-3zM1594 585h3v1h-3zM1600 585h3v1h-3zM1606 585h3v1h-3zM1612 585h3v1h-3zM1618 585h3v1h-3zM1624 585h3v1h-3zM1630 585h3v1h-3zM1636 585h3v1h-3zM1642 585h3v1h-3zM1648 585h3v1h-3zM1654 585h3v1h-3zM1660 585h3v1h-3zM1666 585h3v1h-3zM1672 585h3v1h-3zM1678 585h3v1h-3zM1684 585h3v1h-3zM1690 585h3v1h-3zM1696 585h3v1h-3zM1702 585h3v1h-3zM1708 585h3v1h-3zM1714 585h3v1h-3zM1720 585h3v1h-3zM1726 585h3v1h-3zM1732 585h3v1h-3zM1738 585h3v1h-3zM1744 585h3v1h-3zM1750 585h3v1h-3zM1756 585h3v1h-3zM1762 585h3v1h-3zM1768 585h3v1h-3zM1774 585h3v1h-3zM1780 585h3v1h-3zM1786 585h3v1h-3zM1792 585h3v1h-3zM1798 585h3v1h-3zM1804 585h3v1h-3zM1810 585h3v1h-3zM1816 585h3v1h-3zM1822 585h3v1h-3zM1828 585h3v1h-3zM1834 585h3v1h-3zM1840 585h3v1h-3zM4 548h3v1h-3zM10 548h3v1h-3zM16 548h3v1h-3zM22 548h3v1h-3zM28 548h3v1h-3zM34 548h3v1h-3zM40 548h3v1h-3zM46 548h3v1h-3zM52 548h3v1h-3zM58 548h3v1h-3zM64 548h3v1h-3zM70 548h3v1h-3zM76 548h3v1h-3zM82 548h3v1h-3zM88 548h3v1h-3zM94 548h3v1h-3zM100 548h3v1h-3zM106 548h3v1h-3zM112 548h3v1h-3zM118 548h3v1h-3zM124 548h3v1h-3zM130 548h3v1h-3zM136 548h3v1h-3zM142 548h3v1h-3zM148 548h3v1h-3zM154 548h3v1h-3zM160 548h3v1h-3zM166 548h3v1h-3zM172 548h3v1h-3zM178 548h3v1h-3zM184 548h3v1h-3zM190 548h3v1h-3zM196 548h3v1h-3zM202 548h3v1h-3zM208 548h3v1h-3zM214 548h3v1h-3zM220 548h3v1h-3zM226 548h3v1h-3zM232 548h3v1h-3zM238 548h3v1h-3zM244 548h3v1h-3zM250 548h3v1h-3zM256 548h3v1h-3zM262 548h3v1h-3zM268 548h3v1h-3zM274 548h3v1h-3zM280 548h3v1h-3zM286 548h3v1h-3zM292 548h3v1h-3zM298 548h3v1h-3zM304 548h3v1h-3zM310 548h3v1h-3zM316 548h3v1h-3zM322 548h3v1h-3zM328 548h3v1h-3zM334 548h3v1h-3zM340 548h3v1h-3zM346 548h3v1h-3zM352 548h3v1h-3zM358 548h3v1h-3zM364 548h3v1h-3zM370 548h3v1h-3zM376 548h3v1h-3zM382 548h3v1h-3zM388 548h3v1h-3zM394 548h3v1h-3zM400 548h3v1h-3zM406 548h3v1h-3zM412 548h3v1h-3zM418 548h3v1h-3zM424 548h3v1h-3zM430 548h3v1h-3zM436 548h3v1h-3zM442 548h3v1h-3zM448 548h3v1h-3zM454 548h3v1h-3zM460 548h3v1h-3zM466 548h3v1h-3zM472 548h3v1h-3zM478 548h3v1h-3zM484 548h3v1h-3zM490 548h3v1h-3zM496 548h3v1h-3zM502 548h3v1h-3zM508 548h3v1h-3zM514 548h3v1h-3zM520 548h3v1h-3zM526 548h3v1h-3zM532 548h3v1h-3zM538 548h3v1h-3zM544 548h3v1h-3zM550 548h3v1h-3zM556 548h3v1h-3zM562 548h3v1h-3zM568 548h3v1h-3zM574 548h3v1h-3zM580 548h3v1h-3zM586 548h3v1h-3zM592 548h3v1h-3zM598 548h3v1h-3zM604 548h3v1h-3zM610 548h3v1h-3zM616 548h3v1h-3zM622 548h3v1h-3zM628 548h3v1h-3zM634 548h3v1h-3zM640 548h3v1h-3zM646 548h3v1h-3zM652 548h3v1h-3zM658 548h3v1h-3zM664 548h3v1h-3zM670 548h3v1h-3zM676 548h3v1h-3zM682 548h3v1h-3zM688 548h3v1h-3zM694 548h3v1h-3zM700 548h3v1h-3zM706 548h3v1h-3zM712 548h3v1h-3zM718 548h3v1h-3zM724 548h3v1h-3zM730 548h3v1h-3zM736 548h3v1h-3zM742 548h3v1h-3zM748 548h3v1h-3zM754 548h3v1h-3zM760 548h3v1h-3zM766 548h3v1h-3zM772 548h3v1h-3zM778 548h3v1h-3zM784 548h3v1h-3zM790 548h3v1h-3zM796 548h3v1h-3zM802 548h3v1h-3zM808 548h3v1h-3zM814 548h3v1h-3zM820 548h3v1h-3zM826 548h3v1h-3zM832 548h3v1h-3zM838 548h3v1h-3zM844 548h3v1h-3zM850 548h3v1h-3zM856 548h3v1h-3zM862 548h3v1h-3zM868 548h3v1h-3zM874 548h3v1h-3zM880 548h3v1h-3zM886 548h3v1h-3zM892 548h3v1h-3zM898 548h3v1h-3zM904 548h3v1h-3zM910 548h3v1h-3zM916 548h3v1h-3zM922 548h3v1h-3zM928 548h3v1h-3zM934 548h3v1h-3zM940 548h3v1h-3zM946 548h3v1h-3zM952 548h3v1h-3zM958 548h3v1h-3zM964 548h3v1h-3zM970 548h3v1h-3zM976 548h3v1h-3zM982 548h3v1h-3zM988 548h3v1h-3zM994 548h3v1h-3zM1000 548h3v1h-3zM1006 548h3v1h-3zM1012 548h3v1h-3zM1018 548h3v1h-3zM1024 548h3v1h-3zM1030 548h3v1h-3zM1036 548h3v1h-3zM1042 548h3v1h-3zM1048 548h3v1h-3zM1054 548h3v1h-3zM1060 548h3v1h-3zM1066 548h3v1h-3zM1072 548h3v1h-3zM1078 548h3v1h-3zM1084 548h3v1h-3zM1090 548h3v1h-3zM1096 548h3v1h-3zM1102 548h3v1h-3zM1108 548h3v1h-3zM1114 548h3v1h-3zM1120 548h3v1h-3zM1126 548h3v1h-3zM1132 548h3v1h-3zM1138 548h3v1h-3zM1144 548h3v1h-3zM1150 548h3v1h-3zM1156 548h3v1h-3zM1162 548h3v1h-3zM1168 548h3v1h-3zM1174 548h3v1h-3zM1180 548h3v1h-3zM1186 548h3v1h-3zM1192 548h3v1h-3zM1198 548h3v1h-3zM1204 548h3v1h-3zM1210 548h3v1h-3zM1216 548h3v1h-3zM1222 548h3v1h-3zM1228 548h3v1h-3zM1234 548h3v1h-3zM1240 548h3v1h-3zM1246 548h3v1h-3zM1252 548h3v1h-3zM1258 548h3v1h-3zM1264 548h3v1h-3zM1270 548h3v1h-3zM1276 548h3v1h-3zM1282 548h3v1h-3zM1288 548h3v1h-3zM1294 548h3v1h-3zM1300 548h3v1h-3zM1306 548h3v1h-3zM1312 548h3v1h-3zM1318 548h3v1h-3zM1324 548h3v1h-3zM1330 548h3v1h-3zM1336 548h3v1h-3zM1342 548h3v1h-3zM1348 548h3v1h-3zM1354 548h3v1h-3zM1360 548h3v1h-3zM1366 548h3v1h-3zM1372 548h3v1h-3zM1378 548h3v1h-3zM1384 548h3v1h-3zM1390 548h3v1h-3zM1396 548h3v1h-3zM1402 548h3v1h-3zM1408 548h3v1h-3zM1414 548h3v1h-3zM1420 548h3v1h-3zM1426 548h3v1h-3zM1432 548h3v1h-3zM1438 548h3v1h-3zM1444 548h3v1h-3zM1450 548h3v1h-3zM1456 548h3v1h-3zM1462 548h3v1h-3zM1468 548h3v1h-3zM1474 548h3v1h-3zM1480 548h3v1h-3zM1486 548h3v1h-3zM1492 548h3v1h-3zM1498 548h3v1h-3zM1504 548h3v1h-3zM1510 548h3v1h-3zM1516 548h3v1h-3zM1522 548h3v1h-3zM1528 548h3v1h-3zM1534 548h3v1h-3zM1540 548h3v1h-3zM1546 548h3v1h-3zM1552 548h3v1h-3zM1558 548h3v1h-3zM1564 548h3v1h-3zM1570 548h3v1h-3zM1576 548h3v1h-3zM1582 548h3v1h-3zM1588 548h3v1h-3zM1594 548h3v1h-3zM1600 548h3v1h-3zM1606 548h3v1h-3zM1612 548h3v1h-3zM1618 548h3v1h-3zM1624 548h3v1h-3zM1630 548h3v1h-3zM1636 548h3v1h-3zM1642 548h3v1h-3zM1648 548h3v1h-3zM1654 548h3v1h-3zM1660 548h3v1h-3zM1666 548h3v1h-3zM1672 548h3v1h-3zM1678 548h3v1h-3zM1684 548h3v1h-3zM1690 548h3v1h-3zM1696 548h3v1h-3zM1702 548h3v1h-3zM1708 548h3v1h-3zM1714 548h3v1h-3zM1720 548h3v1h-3zM1726 548h3v1h-3zM1732 548h3v1h-3zM1738 548h3v1h-3zM1744 548h3v1h-3zM1750 548h3v1h-3zM1756 548h3v1h-3zM1762 548h3v1h-3zM1768 548h3v1h-3zM1774 548h3v1h-3zM1780 548h3v1h-3zM1786 548h3v1h-3zM1792 548h3v1h-3zM1798 548h3v1h-3zM1804 548h3v1h-3zM1810 548h3v1h-3zM1816 548h3v1h-3zM1822 548h3v1h-3zM1828 548h3v1h-3zM1834 548h3v1h-3zM1840 548h3v1h-3zM4 511h3v1h-3zM10 511h3v1h-3zM16 511h3v1h-3zM22 511h3v1h-3zM28 511h3v1h-3zM34 511h3v1h-3zM40 511h3v1h-3zM46 511h3v1h-3zM52 511h3v1h-3zM58 511h3v1h-3zM64 511h3v1h-3zM70 511h3v1h-3zM76 511h3v1h-3zM82 511h3v1h-3zM88 511h3v1h-3zM94 511h3v1h-3zM100 511h3v1h-3zM106 511h3v1h-3zM112 511h3v1h-3zM118 511h3v1h-3zM124 511h3v1h-3zM130 511h3v1h-3zM136 511h3v1h-3zM142 511h3v1h-3zM148 511h3v1h-3zM154 511h3v1h-3zM160 511h3v1h-3zM166 511h3v1h-3zM172 511h3v1h-3zM178 511h3v1h-3zM184 511h3v1h-3zM190 511h3v1h-3zM196 511h3v1h-3zM202 511h3v1h-3zM208 511h3v1h-3zM214 511h3v1h-3zM220 511h3v1h-3zM226 511h3v1h-3zM232 511h3v1h-3zM238 511h3v1h-3zM244 511h3v1h-3zM250 511h3v1h-3zM256 511h3v1h-3zM262 511h3v1h-3zM268 511h3v1h-3zM274 511h3v1h-3zM280 511h3v1h-3zM286 511h3v1h-3zM292 511h3v1h-3zM298 511h3v1h-3zM304 511h3v1h-3zM310 511h3v1h-3zM316 511h3v1h-3zM322 511h3v1h-3zM328 511h3v1h-3zM334 511h3v1h-3zM340 511h3v1h-3zM346 511h3v1h-3zM352 511h3v1h-3zM358 511h3v1h-3zM364 511h3v1h-3zM370 511h3v1h-3zM376 511h3v1h-3zM382 511h3v1h-3zM388 511h3v1h-3zM394 511h3v1h-3zM400 511h3v1h-3zM406 511h3v1h-3zM412 511h3v1h-3zM418 511h3v1h-3zM424 511h3v1h-3zM430 511h3v1h-3zM436 511h3v1h-3zM442 511h3v1h-3zM448 511h3v1h-3zM454 511h3v1h-3zM460 511h3v1h-3zM466 511h3v1h-3zM472 511h3v1h-3zM478 511h3v1h-3zM484 511h3v1h-3zM490 511h3v1h-3zM496 511h3v1h-3zM502 511h3v1h-3zM508 511h3v1h-3zM514 511h3v1h-3zM520 511h3v1h-3zM526 511h3v1h-3zM532 511h3v1h-3zM538 511h3v1h-3zM544 511h3v1h-3zM550 511h3v1h-3zM556 511h3v1h-3zM562 511h3v1h-3zM568 511h3v1h-3zM574 511h3v1h-3zM580 511h3v1h-3zM586 511h3v1h-3zM592 511h3v1h-3zM598 511h3v1h-3zM604 511h3v1h-3zM610 511h3v1h-3zM616 511h3v1h-3zM622 511h3v1h-3zM628 511h3v1h-3zM634 511h3v1h-3zM640 511h3v1h-3zM646 511h3v1h-3zM652 511h3v1h-3zM658 511h3v1h-3zM664 511h3v1h-3zM670 511h3v1h-3zM676 511h3v1h-3zM682 511h3v1h-3zM688 511h3v1h-3zM694 511h3v1h-3zM700 511h3v1h-3zM706 511h3v1h-3zM712 511h3v1h-3zM718 511h3v1h-3zM724 511h3v1h-3zM730 511h3v1h-3zM736 511h3v1h-3zM742 511h3v1h-3zM748 511h3v1h-3zM754 511h3v1h-3zM760 511h3v1h-3zM766 511h3v1h-3zM772 511h3v1h-3zM778 511h3v1h-3zM784 511h3v1h-3zM790 511h3v1h-3zM796 511h3v1h-3zM802 511h3v1h-3zM808 511h3v1h-3zM814 511h3v1h-3zM820 511h3v1h-3zM826 511h3v1h-3zM832 511h3v1h-3zM838 511h3v1h-3zM844 511h3v1h-3zM850 511h3v1h-3zM856 511h3v1h-3zM862 511h3v1h-3zM868 511h3v1h-3zM874 511h3v1h-3zM880 511h3v1h-3zM886 511h3v1h-3zM892 511h3v1h-3zM898 511h3v1h-3zM904 511h3v1h-3zM910 511h3v1h-3zM916 511h3v1h-3zM922 511h3v1h-3zM928 511h3v1h-3zM934 511h3v1h-3zM940 511h3v1h-3zM946 511h3v1h-3zM952 511h3v1h-3zM958 511h3v1h-3zM964 511h3v1h-3zM970 511h3v1h-3zM976 511h3v1h-3zM982 511h3v1h-3zM988 511h3v1h-3zM994 511h3v1h-3zM1000 511h3v1h-3zM1006 511h3v1h-3zM1012 511h3v1h-3zM1018 511h3v1h-3zM1024 511h3v1h-3zM1030 511h3v1h-3zM1036 511h3v1h-3zM1042 511h3v1h-3zM1048 511h3v1h-3zM1054 511h3v1h-3zM1060 511h3v1h-3zM1066 511h3v1h-3zM1072 511h3v1h-3zM1078 511h3v1h-3zM1084 511h3v1h-3zM1090 511h3v1h-3zM1096 511h3v1h-3zM1102 511h3v1h-3zM1108 511h3v1h-3zM1114 511h3v1h-3zM1120 511h3v1h-3zM1126 511h3v1h-3zM1132 511h3v1h-3zM1138 511h3v1h-3zM1144 511h3v1h-3zM1150 511h3v1h-3zM1156 511h3v1h-3zM1162 511h3v1h-3zM1168 511h3v1h-3zM1174 511h3v1h-3zM1180 511h3v1h-3zM1186 511h3v1h-3zM1192 511h3v1h-3zM1198 511h3v1h-3zM1204 511h3v1h-3zM1210 511h3v1h-3zM1216 511h3v1h-3zM1222 511h3v1h-3zM1228 511h3v1h-3zM1234 511h3v1h-3zM1240 511h3v1h-3zM1246 511h3v1h-3zM1252 511h3v1h-3zM1258 511h3v1h-3zM1264 511h3v1h-3zM1270 511h3v1h-3zM1276 511h3v1h-3zM1282 511h3v1h-3zM1288 511h3v1h-3zM1294 511h3v1h-3zM1300 511h3v1h-3zM1306 511h3v1h-3zM1312 511h3v1h-3zM1318 511h3v1h-3zM1324 511h3v1h-3zM1330 511h3v1h-3zM1336 511h3v1h-3zM1342 511h3v1h-3zM1348 511h3v1h-3zM1354 511h3v1h-3zM1360 511h3v1h-3zM1366 511h3v1h-3zM1372 511h3v1h-3zM1378 511h3v1h-3zM1384 511h3v1h-3zM1390 511h3v1h-3zM1396 511h3v1h-3zM1402 511h3v1h-3zM1408 511h3v1h-3zM1414 511h3v1h-3zM1420 511h3v1h-3zM1426 511h3v1h-3zM1432 511h3v1h-3zM1438 511h3v1h-3zM1444 511h3v1h-3zM1450 511h3v1h-3zM1456 511h3v1h-3zM1462 511h3v1h-3zM1468 511h3v1h-3zM1474 511h3v1h-3zM1480 511h3v1h-3zM1486 511h3v1h-3zM1492 511h3v1h-3zM1498 511h3v1h-3zM1504 511h3v1h-3zM1510 511h3v1h-3zM1516 511h3v1h-3zM1522 511h3v1h-3zM1528 511h3v1h-3zM1534 511h3v1h-3zM1540 511h3v1h-3zM1546 511h3v1h-3zM1552 511h3v1h-3zM1558 511h3v1h-3zM1564 511h3v1h-3zM1570 511h3v1h-3zM1576 511h3v1h-3zM1582 511h3v1h-3zM1588 511h3v1h-3zM1594 511h3v1h-3zM1600 511h3v1h-3zM1606 511h3v1h-3zM1612 511h3v1h-3zM1618 511h3v1h-3zM1624 511h3v1h-3zM1630 511h3v1h-3zM1636 511h3v1h-3zM1642 511h3v1h-3zM1648 511h3v1h-3zM1654 511h3v1h-3zM1660 511h3v1h-3zM1666 511h3v1h-3zM1672 511h3v1h-3zM1678 511h3v1h-3zM1684 511h3v1h-3zM1690 511h3v1h-3zM1696 511h3v1h-3zM1702 511h3v1h-3zM1708 511h3v1h-3zM1714 511h3v1h-3zM1720 511h3v1h-3zM1726 511h3v1h-3zM1732 511h3v1h-3zM1738 511h3v1h-3zM1744 511h3v1h-3zM1750 511h3v1h-3zM1756 511h3v1h-3zM1762 511h3v1h-3zM1768 511h3v1h-3zM1774 511h3v1h-3zM1780 511h3v1h-3zM1786 511h3v1h-3zM1792 511h3v1h-3zM1798 511h3v1h-3zM1804 511h3v1h-3zM1810 511h3v1h-3zM1816 511h3v1h-3zM1822 511h3v1h-3zM1828 511h3v1h-3zM1834 511h3v1h-3zM1840 511h3v1h-3zM4 474h3v1h-3zM10 474h3v1h-3zM16 474h3v1h-3zM22 474h3v1h-3zM28 474h3v1h-3zM34 474h3v1h-3zM40 474h3v1h-3zM46 474h3v1h-3zM52 474h3v1h-3zM58 474h3v1h-3zM64 474h3v1h-3zM70 474h3v1h-3zM76 474h3v1h-3zM82 474h3v1h-3zM88 474h3v1h-3zM94 474h3v1h-3zM100 474h3v1h-3zM106 474h3v1h-3zM112 474h3v1h-3zM118 474h3v1h-3zM124 474h3v1h-3zM130 474h3v1h-3zM136 474h3v1h-3zM142 474h3v1h-3zM148 474h3v1h-3zM154 474h3v1h-3zM160 474h3v1h-3zM166 474h3v1h-3zM172 474h3v1h-3zM178 474h3v1h-3zM184 474h3v1h-3zM190 474h3v1h-3zM196 474h3v1h-3zM202 474h3v1h-3zM208 474h3v1h-3zM214 474h3v1h-3zM220 474h3v1h-3zM226 474h3v1h-3zM232 474h3v1h-3zM238 474h3v1h-3zM244 474h3v1h-3zM250 474h3v1h-3zM256 474h3v1h-3zM262 474h3v1h-3zM268 474h3v1h-3zM274 474h3v1h-3zM280 474h3v1h-3zM286 474h3v1h-3zM292 474h3v1h-3zM298 474h3v1h-3zM304 474h3v1h-3zM310 474h3v1h-3zM316 474h3v1h-3zM322 474h3v1h-3zM328 474h3v1h-3zM334 474h3v1h-3zM340 474h3v1h-3zM346 474h3v1h-3zM352 474h3v1h-3zM358 474h3v1h-3zM364 474h3v1h-3zM370 474h3v1h-3zM376 474h3v1h-3zM382 474h3v1h-3zM388 474h3v1h-3zM394 474h3v1h-3zM400 474h3v1h-3zM406 474h3v1h-3zM412 474h3v1h-3zM418 474h3v1h-3zM424 474h3v1h-3zM430 474h3v1h-3zM436 474h3v1h-3zM442 474h3v1h-3zM448 474h3v1h-3zM454 474h3v1h-3zM460 474h3v1h-3zM466 474h3v1h-3zM472 474h3v1h-3zM478 474h3v1h-3zM484 474h3v1h-3zM490 474h3v1h-3zM496 474h3v1h-3zM502 474h3v1h-3zM508 474h3v1h-3zM514 474h3v1h-3zM520 474h3v1h-3zM526 474h3v1h-3zM532 474h3v1h-3zM538 474h3v1h-3zM544 474h3v1h-3zM550 474h3v1h-3zM556 474h3v1h-3zM562 474h3v1h-3zM568 474h3v1h-3zM574 474h3v1h-3zM580 474h3v1h-3zM586 474h3v1h-3zM592 474h3v1h-3zM598 474h3v1h-3zM604 474h3v1h-3zM610 474h3v1h-3zM616 474h3v1h-3zM622 474h3v1h-3zM628 474h3v1h-3zM634 474h3v1h-3zM640 474h3v1h-3zM646 474h3v1h-3zM652 474h3v1h-3zM658 474h3v1h-3zM664 474h3v1h-3zM670 474h3v1h-3zM676 474h3v1h-3zM682 474h3v1h-3zM688 474h3v1h-3zM694 474h3v1h-3zM700 474h3v1h-3zM706 474h3v1h-3zM712 474h3v1h-3zM718 474h3v1h-3zM724 474h3v1h-3zM730 474h3v1h-3zM736 474h3v1h-3zM742 474h3v1h-3zM748 474h3v1h-3zM754 474h3v1h-3zM760 474h3v1h-3zM766 474h3v1h-3zM772 474h3v1h-3zM778 474h3v1h-3zM784 474h3v1h-3zM790 474h3v1h-3zM796 474h3v1h-3zM802 474h3v1h-3zM808 474h3v1h-3zM814 474h3v1h-3zM820 474h3v1h-3zM826 474h3v1h-3zM832 474h3v1h-3zM838 474h3v1h-3zM844 474h3v1h-3zM850 474h3v1h-3zM856 474h3v1h-3zM862 474h3v1h-3zM868 474h3v1h-3zM874 474h3v1h-3zM880 474h3v1h-3zM886 474h3v1h-3zM892 474h3v1h-3zM898 474h3v1h-3zM904 474h3v1h-3zM910 474h3v1h-3zM916 474h3v1h-3zM922 474h3v1h-3zM928 474h3v1h-3zM934 474h3v1h-3zM940 474h3v1h-3zM946 474h3v1h-3zM952 474h3v1h-3zM958 474h3v1h-3zM964 474h3v1h-3zM970 474h3v1h-3zM976 474h3v1h-3zM982 474h3v1h-3zM988 474h3v1h-3zM994 474h3v1h-3zM1000 474h3v1h-3zM1006 474h3v1h-3zM1012 474h3v1h-3zM1018 474h3v1h-3zM1024 474h3v1h-3zM1030 474h3v1h-3zM1036 474h3v1h-3zM1042 474h3v1h-3zM1048 474h3v1h-3zM1054 474h3v1h-3zM1060 474h3v1h-3zM1066 474h3v1h-3zM1072 474h3v1h-3zM1078 474h3v1h-3zM1084 474h3v1h-3zM1090 474h3v1h-3zM1096 474h3v1h-3zM1102 474h3v1h-3zM1108 474h3v1h-3zM1114 474h3v1h-3zM1120 474h3v1h-3zM1126 474h3v1h-3zM1132 474h3v1h-3zM1138 474h3v1h-3zM1144 474h3v1h-3zM1150 474h3v1h-3zM1156 474h3v1h-3zM1162 474h3v1h-3zM1168 474h3v1h-3zM1174 474h3v1h-3zM1180 474h3v1h-3zM1186 474h3v1h-3zM1192 474h3v1h-3zM1198 474h3v1h-3zM1204 474h3v1h-3zM1210 474h3v1h-3zM1216 474h3v1h-3zM1222 474h3v1h-3zM1228 474h3v1h-3zM1234 474h3v1h-3zM1240 474h3v1h-3zM1246 474h3v1h-3zM1252 474h3v1h-3zM1258 474h3v1h-3zM1264 474h3v1h-3zM1270 474h3v1h-3zM1276 474h3v1h-3zM1282 474h3v1h-3zM1288 474h3v1h-3zM1294 474h3v1h-3zM1300 474h3v1h-3zM1306 474h3v1h-3zM1312 474h3v1h-3zM1318 474h3v1h-3zM1324 474h3v1h-3zM1330 474h3v1h-3zM1336 474h3v1h-3zM1342 474h3v1h-3zM1348 474h3v1h-3zM1354 474h3v1h-3zM1360 474h3v1h-3zM1366 474h3v1h-3zM1372 474h3v1h-3zM1378 474h3v1h-3zM1384 474h3v1h-3zM1390 474h3v1h-3zM1396 474h3v1h-3zM1402 474h3v1h-3zM1408 474h3v1h-3zM1414 474h3v1h-3zM1420 474h3v1h-3zM1426 474h3v1h-3zM1432 474h3v1h-3zM1438 474h3v1h-3zM1444 474h3v1h-3zM1450 474h3v1h-3zM1456 474h3v1h-3zM1462 474h3v1h-3zM1468 474h3v1h-3zM1474 474h3v1h-3zM1480 474h3v1h-3zM1486 474h3v1h-3zM1492 474h3v1h-3zM1498 474h3v1h-3zM1504 474h3v1h-3zM1510 474h3v1h-3zM1516 474h3v1h-3zM1522 474h3v1h-3zM1528 474h3v1h-3zM1534 474h3v1h-3zM1540 474h3v1h-3zM1546 474h3v1h-3zM1552 474h3v1h-3zM1558 474h3v1h-3zM1564 474h3v1h-3zM1570 474h3v1h-3zM1576 474h3v1h-3zM1582 474h3v1h-3zM1588 474h3v1h-3zM1594 474h3v1h-3zM1600 474h3v1h-3zM1606 474h3v1h-3zM1612 474h3v1h-3zM1618 474h3v1h-3zM1624 474h3v1h-3zM1630 474h3v1h-3zM1636 474h3v1h-3zM1642 474h3v1h-3zM1648 474h3v1h-3zM1654 474h3v1h-3zM1660 474h3v1h-3zM1666 474h3v1h-3zM1672 474h3v1h-3zM1678 474h3v1h-3zM1684 474h3v1h-3zM1690 474h3v1h-3zM1696 474h3v1h-3zM1702 474h3v1h-3zM1708 474h3v1h-3zM1714 474h3v1h-3zM1720 474h3v1h-3zM1726 474h3v1h-3zM1732 474h3v1h-3zM1738 474h3v1h-3zM1744 474h3v1h-3zM1750 474h3v1h-3zM1756 474h3v1h-3zM1762 474h3v1h-3zM1768 474h3v1h-3zM1774 474h3v1h-3zM1780 474h3v1h-3zM1786 474h3v1h-3zM1792 474h3v1h-3zM1798 474h3v1h-3zM1804 474h3v1h-3zM1810 474h3v1h-3zM1816 474h3v1h-3zM1822 474h3v1h-3zM1828 474h3v1h-3zM1834 474h3v1h-3zM1840 474h3v1h-3zM4 438h3v1h-3zM10 438h3v1h-3zM16 438h3v1h-3zM22 438h3v1h-3zM28 438h3v1h-3zM34 438h3v1h-3zM40 438h3v1h-3zM46 438h3v1h-3zM52 438h3v1h-3zM58 438h3v1h-3zM64 438h3v1h-3zM70 438h3v1h-3zM76 438h3v1h-3zM82 438h3v1h-3zM88 438h3v1h-3zM94 438h3v1h-3zM100 438h3v1h-3zM106 438h3v1h-3zM112 438h3v1h-3zM118 438h3v1h-3zM124 438h3v1h-3zM130 438h3v1h-3zM136 438h3v1h-3zM142 438h3v1h-3zM148 438h3v1h-3zM154 438h3v1h-3zM160 438h3v1h-3zM166 438h3v1h-3zM172 438h3v1h-3zM178 438h3v1h-3zM184 438h3v1h-3zM190 438h3v1h-3zM196 438h3v1h-3zM202 438h3v1h-3zM208 438h3v1h-3zM214 438h3v1h-3zM220 438h3v1h-3zM226 438h3v1h-3zM232 438h3v1h-3zM238 438h3v1h-3zM244 438h3v1h-3zM250 438h3v1h-3zM256 438h3v1h-3zM262 438h3v1h-3zM268 438h3v1h-3zM274 438h3v1h-3zM280 438h3v1h-3zM286 438h3v1h-3zM292 438h3v1h-3zM298 438h3v1h-3zM304 438h3v1h-3zM310 438h3v1h-3zM316 438h3v1h-3zM322 438h3v1h-3zM328 438h3v1h-3zM334 438h3v1h-3zM340 438h3v1h-3zM346 438h3v1h-3zM352 438h3v1h-3zM358 438h3v1h-3zM364 438h3v1h-3zM370 438h3v1h-3zM376 438h3v1h-3zM382 438h3v1h-3zM388 438h3v1h-3zM394 438h3v1h-3zM400 438h3v1h-3zM406 438h3v1h-3zM412 438h3v1h-3zM418 438h3v1h-3zM424 438h3v1h-3zM430 438h3v1h-3zM436 438h3v1h-3zM442 438h3v1h-3zM448 438h3v1h-3zM454 438h3v1h-3zM460 438h3v1h-3zM466 438h3v1h-3zM472 438h3v1h-3zM478 438h3v1h-3zM484 438h3v1h-3zM490 438h3v1h-3zM496 438h3v1h-3zM502 438h3v1h-3zM508 438h3v1h-3zM514 438h3v1h-3zM520 438h3v1h-3zM526 438h3v1h-3zM532 438h3v1h-3zM538 438h3v1h-3zM544 438h3v1h-3zM550 438h3v1h-3zM556 438h3v1h-3zM562 438h3v1h-3zM568 438h3v1h-3zM574 438h3v1h-3zM580 438h3v1h-3zM586 438h3v1h-3zM592 438h3v1h-3zM598 438h3v1h-3zM604 438h3v1h-3zM610 438h3v1h-3zM616 438h3v1h-3zM622 438h3v1h-3zM628 438h3v1h-3zM634 438h3v1h-3zM640 438h3v1h-3zM646 438h3v1h-3zM652 438h3v1h-3zM658 438h3v1h-3zM664 438h3v1h-3zM670 438h3v1h-3zM676 438h3v1h-3zM682 438h3v1h-3zM688 438h3v1h-3zM694 438h3v1h-3zM700 438h3v1h-3zM706 438h3v1h-3zM712 438h3v1h-3zM718 438h3v1h-3zM724 438h3v1h-3zM730 438h3v1h-3zM736 438h3v1h-3zM742 438h3v1h-3zM748 438h3v1h-3zM754 438h3v1h-3zM760 438h3v1h-3zM766 438h3v1h-3zM772 438h3v1h-3zM778 438h3v1h-3zM784 438h3v1h-3zM790 438h3v1h-3zM796 438h3v1h-3zM802 438h3v1h-3zM808 438h3v1h-3zM814 438h3v1h-3zM820 438h3v1h-3zM826 438h3v1h-3zM832 438h3v1h-3zM838 438h3v1h-3zM844 438h3v1h-3zM850 438h3v1h-3zM856 438h3v1h-3zM862 438h3v1h-3zM868 438h3v1h-3zM874 438h3v1h-3zM880 438h3v1h-3zM886 438h3v1h-3zM892 438h3v1h-3zM898 438h3v1h-3zM904 438h3v1h-3zM910 438h3v1h-3zM916 438h3v1h-3zM922 438h3v1h-3zM928 438h3v1h-3zM934 438h3v1h-3zM940 438h3v1h-3zM946 438h3v1h-3zM952 438h3v1h-3zM958 438h3v1h-3zM964 438h3v1h-3zM970 438h3v1h-3zM976 438h3v1h-3zM982 438h3v1h-3zM988 438h3v1h-3zM994 438h3v1h-3zM1000 438h3v1h-3zM1006 438h3v1h-3zM1012 438h3v1h-3zM1018 438h3v1h-3zM1024 438h3v1h-3zM1030 438h3v1h-3zM1036 438h3v1h-3zM1042 438h3v1h-3zM1048 438h3v1h-3zM1054 438h3v1h-3zM1060 438h3v1h-3zM1066 438h3v1h-3zM1072 438h3v1h-3zM1078 438h3v1h-3zM1084 438h3v1h-3zM1090 438h3v1h-3zM1096 438h3v1h-3zM1102 438h3v1h-3zM1108 438h3v1h-3zM1114 438h3v1h-3zM1120 438h3v1h-3zM1126 438h3v1h-3zM1132 438h3v1h-3zM1138 438h3v1h-3zM1144 438h3v1h-3zM1150 438h3v1h-3zM1156 438h3v1h-3zM1162 438h3v1h-3zM1168 438h3v1h-3zM1174 438h3v1h-3zM1180 438h3v1h-3zM1186 438h3v1h-3zM1192 438h3v1h-3zM1198 438h3v1h-3zM1204 438h3v1h-3zM1210 438h3v1h-3zM1216 438h3v1h-3zM1222 438h3v1h-3zM1228 438h3v1h-3zM1234 438h3v1h-3zM1240 438h3v1h-3zM1246 438h3v1h-3zM1252 438h3v1h-3zM1258 438h3v1h-3zM1264 438h3v1h-3zM1270 438h3v1h-3zM1276 438h3v1h-3zM1282 438h3v1h-3zM1288 438h3v1h-3zM1294 438h3v1h-3zM1300 438h3v1h-3zM1306 438h3v1h-3zM1312 438h3v1h-3zM1318 438h3v1h-3zM1324 438h3v1h-3zM1330 438h3v1h-3zM1336 438h3v1h-3zM1342 438h3v1h-3zM1348 438h3v1h-3zM1354 438h3v1h-3zM1360 438h3v1h-3zM1366 438h3v1h-3zM1372 438h3v1h-3zM1378 438h3v1h-3zM1384 438h3v1h-3zM1390 438h3v1h-3zM1396 438h3v1h-3zM1402 438h3v1h-3zM1408 438h3v1h-3zM1414 438h3v1h-3zM1420 438h3v1h-3zM1426 438h3v1h-3zM1432 438h3v1h-3zM1438 438h3v1h-3zM1444 438h3v1h-3zM1450 438h3v1h-3zM1456 438h3v1h-3zM1462 438h3v1h-3zM1468 438h3v1h-3zM1474 438h3v1h-3zM1480 438h3v1h-3zM1486 438h3v1h-3zM1492 438h3v1h-3zM1498 438h3v1h-3zM1504 438h3v1h-3zM1510 438h3v1h-3zM1516 438h3v1h-3zM1522 438h3v1h-3zM1528 438h3v1h-3zM1534 438h3v1h-3zM1540 438h3v1h-3zM1546 438h3v1h-3zM1552 438h3v1h-3zM1558 438h3v1h-3zM1564 438h3v1h-3zM1570 438h3v1h-3zM1576 438h3v1h-3zM1582 438h3v1h-3zM1588 438h3v1h-3zM1594 438h3v1h-3zM1600 438h3v1h-3zM1606 438h3v1h-3zM1612 438h3v1h-3zM1618 438h3v1h-3zM1624 438h3v1h-3zM1630 438h3v1h-3zM1636 438h3v1h-3zM1642 438h3v1h-3zM1648 438h3v1h-3zM1654 438h3v1h-3zM1660 438h3v1h-3zM1666 438h3v1h-3zM1672 438h3v1h-3zM1678 438h3v1h-3zM1684 438h3v1h-3zM1690 438h3v1h-3zM1696 438h3v1h-3zM1702 438h3v1h-3zM1708 438h3v1h-3zM1714 438h3v1h-3zM1720 438h3v1h-3zM1726 438h3v1h-3zM1732 438h3v1h-3zM1738 438h3v1h-3zM1744 438h3v1h-3zM1750 438h3v1h-3zM1756 438h3v1h-3zM1762 438h3v1h-3zM1768 438h3v1h-3zM1774 438h3v1h-3zM1780 438h3v1h-3zM1786 438h3v1h-3zM1792 438h3v1h-3zM1798 438h3v1h-3zM1804 438h3v1h-3zM1810 438h3v1h-3zM1816 438h3v1h-3zM1822 438h3v1h-3zM1828 438h3v1h-3zM1834 438h3v1h-3zM1840 438h3v1h-3zM4 401h3v1h-3zM10 401h3v1h-3zM16 401h3v1h-3zM22 401h3v1h-3zM28 401h3v1h-3zM34 401h3v1h-3zM40 401h3v1h-3zM46 401h3v1h-3zM52 401h3v1h-3zM58 401h3v1h-3zM64 401h3v1h-3zM70 401h3v1h-3zM76 401h3v1h-3zM82 401h3v1h-3zM88 401h3v1h-3zM94 401h3v1h-3zM100 401h3v1h-3zM106 401h3v1h-3zM112 401h3v1h-3zM118 401h3v1h-3zM124 401h3v1h-3zM130 401h3v1h-3zM136 401h3v1h-3zM142 401h3v1h-3zM148 401h3v1h-3zM154 401h3v1h-3zM160 401h3v1h-3zM166 401h3v1h-3zM172 401h3v1h-3zM178 401h3v1h-3zM184 401h3v1h-3zM190 401h3v1h-3zM196 401h3v1h-3zM202 401h3v1h-3zM208 401h3v1h-3zM214 401h3v1h-3zM220 401h3v1h-3zM226 401h3v1h-3zM232 401h3v1h-3zM238 401h3v1h-3zM244 401h3v1h-3zM250 401h3v1h-3zM256 401h3v1h-3zM262 401h3v1h-3zM268 401h3v1h-3zM274 401h3v1h-3zM280 401h3v1h-3zM286 401h3v1h-3zM292 401h3v1h-3zM298 401h3v1h-3zM304 401h3v1h-3zM310 401h3v1h-3zM316 401h3v1h-3zM322 401h3v1h-3zM328 401h3v1h-3zM334 401h3v1h-3zM340 401h3v1h-3zM346 401h3v1h-3zM352 401h3v1h-3zM358 401h3v1h-3zM364 401h3v1h-3zM370 401h3v1h-3zM376 401h3v1h-3zM382 401h3v1h-3zM388 401h3v1h-3zM394 401h3v1h-3zM400 401h3v1h-3zM406 401h3v1h-3zM412 401h3v1h-3zM418 401h3v1h-3zM424 401h3v1h-3zM430 401h3v1h-3zM436 401h3v1h-3zM442 401h3v1h-3zM448 401h3v1h-3zM454 401h3v1h-3zM460 401h3v1h-3zM466 401h3v1h-3zM472 401h3v1h-3zM478 401h3v1h-3zM484 401h3v1h-3zM490 401h3v1h-3zM496 401h3v1h-3zM502 401h3v1h-3zM508 401h3v1h-3zM514 401h3v1h-3zM520 401h3v1h-3zM526 401h3v1h-3zM532 401h3v1h-3zM538 401h3v1h-3zM544 401h3v1h-3zM550 401h3v1h-3zM556 401h3v1h-3zM562 401h3v1h-3zM568 401h3v1h-3zM574 401h3v1h-3zM580 401h3v1h-3zM586 401h3v1h-3zM592 401h3v1h-3zM598 401h3v1h-3zM604 401h3v1h-3zM610 401h3v1h-3zM616 401h3v1h-3zM622 401h3v1h-3zM628 401h3v1h-3zM634 401h3v1h-3zM640 401h3v1h-3zM646 401h3v1h-3zM652 401h3v1h-3zM658 401h3v1h-3zM664 401h3v1h-3zM670 401h3v1h-3zM676 401h3v1h-3zM682 401h3v1h-3zM688 401h3v1h-3zM694 401h3v1h-3zM700 401h3v1h-3zM706 401h3v1h-3zM712 401h3v1h-3zM718 401h3v1h-3zM724 401h3v1h-3zM730 401h3v1h-3zM736 401h3v1h-3zM742 401h3v1h-3zM748 401h3v1h-3zM754 401h3v1h-3zM760 401h3v1h-3zM766 401h3v1h-3zM772 401h3v1h-3zM778 401h3v1h-3zM784 401h3v1h-3zM790 401h3v1h-3zM796 401h3v1h-3zM802 401h3v1h-3zM808 401h3v1h-3zM814 401h3v1h-3zM820 401h3v1h-3zM826 401h3v1h-3zM832 401h3v1h-3zM838 401h3v1h-3zM844 401h3v1h-3zM850 401h3v1h-3zM856 401h3v1h-3zM862 401h3v1h-3zM868 401h3v1h-3zM874 401h3v1h-3zM880 401h3v1h-3zM886 401h3v1h-3zM892 401h3v1h-3zM898 401h3v1h-3zM904 401h3v1h-3zM910 401h3v1h-3zM916 401h3v1h-3zM922 401h3v1h-3zM928 401h3v1h-3zM934 401h3v1h-3zM940 401h3v1h-3zM946 401h3v1h-3zM952 401h3v1h-3zM958 401h3v1h-3zM964 401h3v1h-3zM970 401h3v1h-3zM976 401h3v1h-3zM982 401h3v1h-3zM988 401h3v1h-3zM994 401h3v1h-3zM1000 401h3v1h-3zM1006 401h3v1h-3zM1012 401h3v1h-3zM1018 401h3v1h-3zM1024 401h3v1h-3zM1030 401h3v1h-3zM1036 401h3v1h-3zM1042 401h3v1h-3zM1048 401h3v1h-3zM1054 401h3v1h-3zM1060 401h3v1h-3zM1066 401h3v1h-3zM1072 401h3v1h-3zM1078 401h3v1h-3zM1084 401h3v1h-3zM1090 401h3v1h-3zM1096 401h3v1h-3zM1102 401h3v1h-3zM1108 401h3v1h-3zM1114 401h3v1h-3zM1120 401h3v1h-3zM1126 401h3v1h-3zM1132 401h3v1h-3zM1138 401h3v1h-3zM1144 401h3v1h-3zM1150 401h3v1h-3zM1156 401h3v1h-3zM1162 401h3v1h-3zM1168 401h3v1h-3zM1174 401h3v1h-3zM1180 401h3v1h-3zM1186 401h3v1h-3zM1192 401h3v1h-3zM1198 401h3v1h-3zM1204 401h3v1h-3zM1210 401h3v1h-3zM1216 401h3v1h-3zM1222 401h3v1h-3zM1228 401h3v1h-3zM1234 401h3v1h-3zM1240 401h3v1h-3zM1246 401h3v1h-3zM1252 401h3v1h-3zM1258 401h3v1h-3zM1264 401h3v1h-3zM1270 401h3v1h-3zM1276 401h3v1h-3zM1282 401h3v1h-3zM1288 401h3v1h-3zM1294 401h3v1h-3zM1300 401h3v1h-3zM1306 401h3v1h-3zM1312 401h3v1h-3zM1318 401h3v1h-3zM1324 401h3v1h-3zM1330 401h3v1h-3zM1336 401h3v1h-3zM1342 401h3v1h-3zM1348 401h3v1h-3zM1354 401h3v1h-3zM1360 401h3v1h-3zM1366 401h3v1h-3zM1372 401h3v1h-3zM1378 401h3v1h-3zM1384 401h3v1h-3zM1390 401h3v1h-3zM1396 401h3v1h-3zM1402 401h3v1h-3zM1408 401h3v1h-3zM1414 401h3v1h-3zM1420 401h3v1h-3zM1426 401h3v1h-3zM1432 401h3v1h-3zM1438 401h3v1h-3zM1444 401h3v1h-3zM1450 401h3v1h-3zM1456 401h3v1h-3zM1462 401h3v1h-3zM1468 401h3v1h-3zM1474 401h3v1h-3zM1480 401h3v1h-3zM1486 401h3v1h-3zM1492 401h3v1h-3zM1498 401h3v1h-3zM1504 401h3v1h-3zM1510 401h3v1h-3zM1516 401h3v1h-3zM1522 401h3v1h-3zM1528 401h3v1h-3zM1534 401h3v1h-3zM1540 401h3v1h-3zM1546 401h3v1h-3zM1552 401h3v1h-3zM1558 401h3v1h-3zM1564 401h3v1h-3zM1570 401h3v1h-3zM1576 401h3v1h-3zM1582 401h3v1h-3zM1588 401h3v1h-3zM1594 401h3v1h-3zM1600 401h3v1h-3zM1606 401h3v1h-3zM1612 401h3v1h-3zM1618 401h3v1h-3zM1624 401h3v1h-3zM1630 401h3v1h-3zM1636 401h3v1h-3zM1642 401h3v1h-3zM1648 401h3v1h-3zM1654 401h3v1h-3zM1660 401h3v1h-3zM1666 401h3v1h-3zM1672 401h3v1h-3zM1678 401h3v1h-3zM1684 401h3v1h-3zM1690 401h3v1h-3zM1696 401h3v1h-3zM1702 401h3v1h-3zM1708 401h3v1h-3zM1714 401h3v1h-3zM1720 401h3v1h-3zM1726 401h3v1h-3zM1732 401h3v1h-3zM1738 401h3v1h-3zM1744 401h3v1h-3zM1750 401h3v1h-3zM1756 401h3v1h-3zM1762 401h3v1h-3zM1768 401h3v1h-3zM1774 401h3v1h-3zM1780 401h3v1h-3zM1786 401h3v1h-3zM1792 401h3v1h-3zM1798 401h3v1h-3zM1804 401h3v1h-3zM1810 401h3v1h-3zM1816 401h3v1h-3zM1822 401h3v1h-3zM1828 401h3v1h-3zM1834 401h3v1h-3zM1840 401h3v1h-3zM4 364h3v1h-3zM10 364h3v1h-3zM16 364h3v1h-3zM22 364h3v1h-3zM28 364h3v1h-3zM34 364h3v1h-3zM40 364h3v1h-3zM46 364h3v1h-3zM52 364h3v1h-3zM58 364h3v1h-3zM64 364h3v1h-3zM70 364h3v1h-3zM76 364h3v1h-3zM82 364h3v1h-3zM88 364h3v1h-3zM94 364h3v1h-3zM100 364h3v1h-3zM106 364h3v1h-3zM112 364h3v1h-3zM118 364h3v1h-3zM124 364h3v1h-3zM130 364h3v1h-3zM136 364h3v1h-3zM142 364h3v1h-3zM148 364h3v1h-3zM154 364h3v1h-3zM160 364h3v1h-3zM166 364h3v1h-3zM172 364h3v1h-3zM178 364h3v1h-3zM184 364h3v1h-3zM190 364h3v1h-3zM196 364h3v1h-3zM202 364h3v1h-3zM208 364h3v1h-3zM214 364h3v1h-3zM220 364h3v1h-3zM226 364h3v1h-3zM232 364h3v1h-3zM238 364h3v1h-3zM244 364h3v1h-3zM250 364h3v1h-3zM256 364h3v1h-3zM262 364h3v1h-3zM268 364h3v1h-3zM274 364h3v1h-3zM280 364h3v1h-3zM286 364h3v1h-3zM292 364h3v1h-3zM298 364h3v1h-3zM304 364h3v1h-3zM310 364h3v1h-3zM316 364h3v1h-3zM322 364h3v1h-3zM328 364h3v1h-3zM334 364h3v1h-3zM340 364h3v1h-3zM346 364h3v1h-3zM352 364h3v1h-3zM358 364h3v1h-3zM364 364h3v1h-3zM370 364h3v1h-3zM376 364h3v1h-3zM382 364h3v1h-3zM388 364h3v1h-3zM394 364h3v1h-3zM400 364h3v1h-3zM406 364h3v1h-3zM412 364h3v1h-3zM418 364h3v1h-3zM424 364h3v1h-3zM430 364h3v1h-3zM436 364h3v1h-3zM442 364h3v1h-3zM448 364h3v1h-3zM454 364h3v1h-3zM460 364h3v1h-3zM466 364h3v1h-3zM472 364h3v1h-3zM478 364h3v1h-3zM484 364h3v1h-3zM490 364h3v1h-3zM496 364h3v1h-3zM502 364h3v1h-3zM508 364h3v1h-3zM514 364h3v1h-3zM520 364h3v1h-3zM526 364h3v1h-3zM532 364h3v1h-3zM538 364h3v1h-3zM544 364h3v1h-3zM550 364h3v1h-3zM556 364h3v1h-3zM562 364h3v1h-3zM568 364h3v1h-3zM574 364h3v1h-3zM580 364h3v1h-3zM586 364h3v1h-3zM592 364h3v1h-3zM598 364h3v1h-3zM604 364h3v1h-3zM610 364h3v1h-3zM616 364h3v1h-3zM622 364h3v1h-3zM628 364h3v1h-3zM634 364h3v1h-3zM640 364h3v1h-3zM646 364h3v1h-3zM652 364h3v1h-3zM658 364h3v1h-3zM664 364h3v1h-3zM670 364h3v1h-3zM676 364h3v1h-3zM682 364h3v1h-3zM688 364h3v1h-3zM694 364h3v1h-3zM700 364h3v1h-3zM706 364h3v1h-3zM712 364h3v1h-3zM718 364h3v1h-3zM724 364h3v1h-3zM730 364h3v1h-3zM736 364h3v1h-3zM742 364h3v1h-3zM748 364h3v1h-3zM754 364h3v1h-3zM760 364h3v1h-3zM766 364h3v1h-3zM772 364h3v1h-3zM778 364h3v1h-3zM784 364h3v1h-3zM790 364h3v1h-3zM796 364h3v1h-3zM802 364h3v1h-3zM808 364h3v1h-3zM814 364h3v1h-3zM820 364h3v1h-3zM826 364h3v1h-3zM832 364h3v1h-3zM838 364h3v1h-3zM844 364h3v1h-3zM850 364h3v1h-3zM856 364h3v1h-3zM862 364h3v1h-3zM868 364h3v1h-3zM874 364h3v1h-3zM880 364h3v1h-3zM886 364h3v1h-3zM892 364h3v1h-3zM898 364h3v1h-3zM904 364h3v1h-3zM910 364h3v1h-3zM916 364h3v1h-3zM922 364h3v1h-3zM928 364h3v1h-3zM934 364h3v1h-3zM940 364h3v1h-3zM946 364h3v1h-3zM952 364h3v1h-3zM958 364h3v1h-3zM964 364h3v1h-3zM970 364h3v1h-3zM976 364h3v1h-3zM982 364h3v1h-3zM988 364h3v1h-3zM994 364h3v1h-3zM1000 364h3v1h-3zM1006 364h3v1h-3zM1012 364h3v1h-3zM1018 364h3v1h-3zM1024 364h3v1h-3zM1030 364h3v1h-3zM1036 364h3v1h-3zM1042 364h3v1h-3zM1048 364h3v1h-3zM1054 364h3v1h-3zM1060 364h3v1h-3zM1066 364h3v1h-3zM1072 364h3v1h-3zM1078 364h3v1h-3zM1084 364h3v1h-3zM1090 364h3v1h-3zM1096 364h3v1h-3zM1102 364h3v1h-3zM1108 364h3v1h-3zM1114 364h3v1h-3zM1120 364h3v1h-3zM1126 364h3v1h-3zM1132 364h3v1h-3zM1138 364h3v1h-3zM1144 364h3v1h-3zM1150 364h3v1h-3zM1156 364h3v1h-3zM1162 364h3v1h-3zM1168 364h3v1h-3zM1174 364h3v1h-3zM1180 364h3v1h-3zM1186 364h3v1h-3zM1192 364h3v1h-3zM1198 364h3v1h-3zM1204 364h3v1h-3zM1210 364h3v1h-3zM1216 364h3v1h-3zM1222 364h3v1h-3zM1228 364h3v1h-3zM1234 364h3v1h-3zM1240 364h3v1h-3zM1246 364h3v1h-3zM1252 364h3v1h-3zM1258 364h3v1h-3zM1264 364h3v1h-3zM1270 364h3v1h-3zM1276 364h3v1h-3zM1282 364h3v1h-3zM1288 364h3v1h-3zM1294 364h3v1h-3zM1300 364h3v1h-3zM1306 364h3v1h-3zM1312 364h3v1h-3zM1318 364h3v1h-3zM1324 364h3v1h-3zM1330 364h3v1h-3zM1336 364h3v1h-3zM1342 364h3v1h-3zM1348 364h3v1h-3zM1354 364h3v1h-3zM1360 364h3v1h-3zM1366 364h3v1h-3zM1372 364h3v1h-3zM1378 364h3v1h-3zM1384 364h3v1h-3zM1390 364h3v1h-3zM1396 364h3v1h-3zM1402 364h3v1h-3zM1408 364h3v1h-3zM1414 364h3v1h-3zM1420 364h3v1h-3zM1426 364h3v1h-3zM1432 364h3v1h-3zM1438 364h3v1h-3zM1444 364h3v1h-3zM1450 364h3v1h-3zM1456 364h3v1h-3zM1462 364h3v1h-3zM1468 364h3v1h-3zM1474 364h3v1h-3zM1480 364h3v1h-3zM1486 364h3v1h-3zM1492 364h3v1h-3zM1498 364h3v1h-3zM1504 364h3v1h-3zM1510 364h3v1h-3zM1516 364h3v1h-3zM1522 364h3v1h-3zM1528 364h3v1h-3zM1534 364h3v1h-3zM1540 364h3v1h-3zM1546 364h3v1h-3zM1552 364h3v1h-3zM1558 364h3v1h-3zM1564 364h3v1h-3zM1570 364h3v1h-3zM1576 364h3v1h-3zM1582 364h3v1h-3zM1588 364h3v1h-3zM1594 364h3v1h-3zM1600 364h3v1h-3zM1606 364h3v1h-3zM1612 364h3v1h-3zM1618 364h3v1h-3zM1624 364h3v1h-3zM1630 364h3v1h-3zM1636 364h3v1h-3zM1642 364h3v1h-3zM1648 364h3v1h-3zM1654 364h3v1h-3zM1660 364h3v1h-3zM1666 364h3v1h-3zM1672 364h3v1h-3zM1678 364h3v1h-3zM1684 364h3v1h-3zM1690 364h3v1h-3zM1696 364h3v1h-3zM1702 364h3v1h-3zM1708 364h3v1h-3zM1714 364h3v1h-3zM1720 364h3v1h-3zM1726 364h3v1h-3zM1732 364h3v1h-3zM1738 364h3v1h-3zM1744 364h3v1h-3zM1750 364h3v1h-3zM1756 364h3v1h-3zM1762 364h3v1h-3zM1768 364h3v1h-3zM1774 364h3v1h-3zM1780 364h3v1h-3zM1786 364h3v1h-3zM1792 364h3v1h-3zM1798 364h3v1h-3zM1804 364h3v1h-3zM1810 364h3v1h-3zM1816 364h3v1h-3zM1822 364h3v1h-3zM1828 364h3v1h-3zM1834 364h3v1h-3zM1840 364h3v1h-3zM4 327h3v1h-3zM10 327h3v1h-3zM16 327h3v1h-3zM22 327h3v1h-3zM28 327h3v1h-3zM34 327h3v1h-3zM40 327h3v1h-3zM46 327h3v1h-3zM52 327h3v1h-3zM58 327h3v1h-3zM64 327h3v1h-3zM70 327h3v1h-3zM76 327h3v1h-3zM82 327h3v1h-3zM88 327h3v1h-3zM94 327h3v1h-3zM100 327h3v1h-3zM106 327h3v1h-3zM112 327h3v1h-3zM118 327h3v1h-3zM124 327h3v1h-3zM130 327h3v1h-3zM136 327h3v1h-3zM142 327h3v1h-3zM148 327h3v1h-3zM154 327h3v1h-3zM160 327h3v1h-3zM166 327h3v1h-3zM172 327h3v1h-3zM178 327h3v1h-3zM184 327h3v1h-3zM190 327h3v1h-3zM196 327h3v1h-3zM202 327h3v1h-3zM208 327h3v1h-3zM214 327h3v1h-3zM220 327h3v1h-3zM226 327h3v1h-3zM232 327h3v1h-3zM238 327h3v1h-3zM244 327h3v1h-3zM250 327h3v1h-3zM256 327h3v1h-3zM262 327h3v1h-3zM268 327h3v1h-3zM274 327h3v1h-3zM280 327h3v1h-3zM286 327h3v1h-3zM292 327h3v1h-3zM298 327h3v1h-3zM304 327h3v1h-3zM310 327h3v1h-3zM316 327h3v1h-3zM322 327h3v1h-3zM328 327h3v1h-3zM334 327h3v1h-3zM340 327h3v1h-3zM346 327h3v1h-3zM352 327h3v1h-3zM358 327h3v1h-3zM364 327h3v1h-3zM370 327h3v1h-3zM376 327h3v1h-3zM382 327h3v1h-3zM388 327h3v1h-3zM394 327h3v1h-3zM400 327h3v1h-3zM406 327h3v1h-3zM412 327h3v1h-3zM418 327h3v1h-3zM424 327h3v1h-3zM430 327h3v1h-3zM436 327h3v1h-3zM442 327h3v1h-3zM448 327h3v1h-3zM454 327h3v1h-3zM460 327h3v1h-3zM466 327h3v1h-3zM472 327h3v1h-3zM478 327h3v1h-3zM484 327h3v1h-3zM490 327h3v1h-3zM496 327h3v1h-3zM502 327h3v1h-3zM508 327h3v1h-3zM514 327h3v1h-3zM520 327h3v1h-3zM526 327h3v1h-3zM532 327h3v1h-3zM538 327h3v1h-3zM544 327h3v1h-3zM550 327h3v1h-3zM556 327h3v1h-3zM562 327h3v1h-3zM568 327h3v1h-3zM574 327h3v1h-3zM580 327h3v1h-3zM586 327h3v1h-3zM592 327h3v1h-3zM598 327h3v1h-3zM604 327h3v1h-3zM610 327h3v1h-3zM616 327h3v1h-3zM622 327h3v1h-3zM628 327h3v1h-3zM634 327h3v1h-3zM640 327h3v1h-3zM646 327h3v1h-3zM652 327h3v1h-3zM658 327h3v1h-3zM664 327h3v1h-3zM670 327h3v1h-3zM676 327h3v1h-3zM682 327h3v1h-3zM688 327h3v1h-3zM694 327h3v1h-3zM700 327h3v1h-3zM706 327h3v1h-3zM712 327h3v1h-3zM718 327h3v1h-3zM724 327h3v1h-3zM730 327h3v1h-3zM736 327h3v1h-3zM742 327h3v1h-3zM748 327h3v1h-3zM754 327h3v1h-3zM760 327h3v1h-3zM766 327h3v1h-3zM772 327h3v1h-3zM778 327h3v1h-3zM784 327h3v1h-3zM790 327h3v1h-3zM796 327h3v1h-3zM802 327h3v1h-3zM808 327h3v1h-3zM814 327h3v1h-3zM820 327h3v1h-3zM826 327h3v1h-3zM832 327h3v1h-3zM838 327h3v1h-3zM844 327h3v1h-3zM850 327h3v1h-3zM856 327h3v1h-3zM862 327h3v1h-3zM868 327h3v1h-3zM874 327h3v1h-3zM880 327h3v1h-3zM886 327h3v1h-3zM892 327h3v1h-3zM898 327h3v1h-3zM904 327h3v1h-3zM910 327h3v1h-3zM916 327h3v1h-3zM922 327h3v1h-3zM928 327h3v1h-3zM934 327h3v1h-3zM940 327h3v1h-3zM946 327h3v1h-3zM952 327h3v1h-3zM958 327h3v1h-3zM964 327h3v1h-3zM970 327h3v1h-3zM976 327h3v1h-3zM982 327h3v1h-3zM988 327h3v1h-3zM994 327h3v1h-3zM1000 327h3v1h-3zM1006 327h3v1h-3zM1012 327h3v1h-3zM1018 327h3v1h-3zM1024 327h3v1h-3zM1030 327h3v1h-3zM1036 327h3v1h-3zM1042 327h3v1h-3zM1048 327h3v1h-3zM1054 327h3v1h-3zM1060 327h3v1h-3zM1066 327h3v1h-3zM1072 327h3v1h-3zM1078 327h3v1h-3zM1084 327h3v1h-3zM1090 327h3v1h-3zM1096 327h3v1h-3zM1102 327h3v1h-3zM1108 327h3v1h-3zM1114 327h3v1h-3zM1120 327h3v1h-3zM1126 327h3v1h-3zM1132 327h3v1h-3zM1138 327h3v1h-3zM1144 327h3v1h-3zM1150 327h3v1h-3zM1156 327h3v1h-3zM1162 327h3v1h-3zM1168 327h3v1h-3zM1174 327h3v1h-3zM1180 327h3v1h-3zM1186 327h3v1h-3zM1192 327h3v1h-3zM1198 327h3v1h-3zM1204 327h3v1h-3zM1210 327h3v1h-3zM1216 327h3v1h-3zM1222 327h3v1h-3zM1228 327h3v1h-3zM1234 327h3v1h-3zM1240 327h3v1h-3zM1246 327h3v1h-3zM1252 327h3v1h-3zM1258 327h3v1h-3zM1264 327h3v1h-3zM1270 327h3v1h-3zM1276 327h3v1h-3zM1282 327h3v1h-3zM1288 327h3v1h-3zM1294 327h3v1h-3zM1300 327h3v1h-3zM1306 327h3v1h-3zM1312 327h3v1h-3zM1318 327h3v1h-3zM1324 327h3v1h-3zM1330 327h3v1h-3zM1336 327h3v1h-3zM1342 327h3v1h-3zM1348 327h3v1h-3zM1354 327h3v1h-3zM1360 327h3v1h-3zM1366 327h3v1h-3zM1372 327h3v1h-3zM1378 327h3v1h-3zM1384 327h3v1h-3zM1390 327h3v1h-3zM1396 327h3v1h-3zM1402 327h3v1h-3zM1408 327h3v1h-3zM1414 327h3v1h-3zM1420 327h3v1h-3zM1426 327h3v1h-3zM1432 327h3v1h-3zM1438 327h3v1h-3zM1444 327h3v1h-3zM1450 327h3v1h-3zM1456 327h3v1h-3zM1462 327h3v1h-3zM1468 327h3v1h-3zM1474 327h3v1h-3zM1480 327h3v1h-3zM1486 327h3v1h-3zM1492 327h3v1h-3zM1498 327h3v1h-3zM1504 327h3v1h-3zM1510 327h3v1h-3zM1516 327h3v1h-3zM1522 327h3v1h-3zM1528 327h3v1h-3zM1534 327h3v1h-3zM1540 327h3v1h-3zM1546 327h3v1h-3zM1552 327h3v1h-3zM1558 327h3v1h-3zM1564 327h3v1h-3zM1570 327h3v1h-3zM1576 327h3v1h-3zM1582 327h3v1h-3zM1588 327h3v1h-3zM1594 327h3v1h-3zM1600 327h3v1h-3zM1606 327h3v1h-3zM1612 327h3v1h-3zM1618 327h3v1h-3zM1624 327h3v1h-3zM1630 327h3v1h-3zM1636 327h3v1h-3zM1642 327h3v1h-3zM1648 327h3v1h-3zM1654 327h3v1h-3zM1660 327h3v1h-3zM1666 327h3v1h-3zM1672 327h3v1h-3zM1678 327h3v1h-3zM1684 327h3v1h-3zM1690 327h3v1h-3zM1696 327h3v1h-3zM1702 327h3v1h-3zM1708 327h3v1h-3zM1714 327h3v1h-3zM1720 327h3v1h-3zM1726 327h3v1h-3zM1732 327h3v1h-3zM1738 327h3v1h-3zM1744 327h3v1h-3zM1750 327h3v1h-3zM1756 327h3v1h-3zM1762 327h3v1h-3zM1768 327h3v1h-3zM1774 327h3v1h-3zM1780 327h3v1h-3zM1786 327h3v1h-3zM1792 327h3v1h-3zM1798 327h3v1h-3zM1804 327h3v1h-3zM1810 327h3v1h-3zM1816 327h3v1h-3zM1822 327h3v1h-3zM1828 327h3v1h-3zM1834 327h3v1h-3zM1840 327h3v1h-3zM4 290h3v1h-3zM10 290h3v1h-3zM16 290h3v1h-3zM22 290h3v1h-3zM28 290h3v1h-3zM34 290h3v1h-3zM40 290h3v1h-3zM46 290h3v1h-3zM52 290h3v1h-3zM58 290h3v1h-3zM64 290h3v1h-3zM70 290h3v1h-3zM76 290h3v1h-3zM82 290h3v1h-3zM88 290h3v1h-3zM94 290h3v1h-3zM100 290h3v1h-3zM106 290h3v1h-3zM112 290h3v1h-3zM118 290h3v1h-3zM124 290h3v1h-3zM130 290h3v1h-3zM136 290h3v1h-3zM142 290h3v1h-3zM148 290h3v1h-3zM154 290h3v1h-3zM160 290h3v1h-3zM166 290h3v1h-3zM172 290h3v1h-3zM178 290h3v1h-3zM184 290h3v1h-3zM190 290h3v1h-3zM196 290h3v1h-3zM202 290h3v1h-3zM208 290h3v1h-3zM214 290h3v1h-3zM220 290h3v1h-3zM226 290h3v1h-3zM232 290h3v1h-3zM238 290h3v1h-3zM244 290h3v1h-3zM250 290h3v1h-3zM256 290h3v1h-3zM262 290h3v1h-3zM268 290h3v1h-3zM274 290h3v1h-3zM280 290h3v1h-3zM286 290h3v1h-3zM292 290h3v1h-3zM298 290h3v1h-3zM304 290h3v1h-3zM310 290h3v1h-3zM316 290h3v1h-3zM322 290h3v1h-3zM328 290h3v1h-3zM334 290h3v1h-3zM340 290h3v1h-3zM346 290h3v1h-3zM352 290h3v1h-3zM358 290h3v1h-3zM364 290h3v1h-3zM370 290h3v1h-3zM376 290h3v1h-3zM382 290h3v1h-3zM388 290h3v1h-3zM394 290h3v1h-3zM400 290h3v1h-3zM406 290h3v1h-3zM412 290h3v1h-3zM418 290h3v1h-3zM424 290h3v1h-3zM430 290h3v1h-3zM436 290h3v1h-3zM442 290h3v1h-3zM448 290h3v1h-3zM454 290h3v1h-3zM460 290h3v1h-3zM466 290h3v1h-3zM472 290h3v1h-3zM478 290h3v1h-3zM484 290h3v1h-3zM490 290h3v1h-3zM496 290h3v1h-3zM502 290h3v1h-3zM508 290h3v1h-3zM514 290h3v1h-3zM520 290h3v1h-3zM526 290h3v1h-3zM532 290h3v1h-3zM538 290h3v1h-3zM544 290h3v1h-3zM550 290h3v1h-3zM556 290h3v1h-3zM562 290h3v1h-3zM568 290h3v1h-3zM574 290h3v1h-3zM580 290h3v1h-3zM586 290h3v1h-3zM592 290h3v1h-3zM598 290h3v1h-3zM604 290h3v1h-3zM610 290h3v1h-3zM616 290h3v1h-3zM622 290h3v1h-3zM628 290h3v1h-3zM634 290h3v1h-3zM640 290h3v1h-3zM646 290h3v1h-3zM652 290h3v1h-3zM658 290h3v1h-3zM664 290h3v1h-3zM670 290h3v1h-3zM676 290h3v1h-3zM682 290h3v1h-3zM688 290h3v1h-3zM694 290h3v1h-3zM700 290h3v1h-3zM706 290h3v1h-3zM712 290h3v1h-3zM718 290h3v1h-3zM724 290h3v1h-3zM730 290h3v1h-3zM736 290h3v1h-3zM742 290h3v1h-3zM748 290h3v1h-3zM754 290h3v1h-3zM760 290h3v1h-3zM766 290h3v1h-3zM772 290h3v1h-3zM778 290h3v1h-3zM784 290h3v1h-3zM790 290h3v1h-3zM796 290h3v1h-3zM802 290h3v1h-3zM808 290h3v1h-3zM814 290h3v1h-3zM820 290h3v1h-3zM826 290h3v1h-3zM832 290h3v1h-3zM838 290h3v1h-3zM844 290h3v1h-3zM850 290h3v1h-3zM856 290h3v1h-3zM862 290h3v1h-3zM868 290h3v1h-3zM874 290h3v1h-3zM880 290h3v1h-3zM886 290h3v1h-3zM892 290h3v1h-3zM898 290h3v1h-3zM904 290h3v1h-3zM910 290h3v1h-3zM916 290h3v1h-3zM922 290h3v1h-3zM928 290h3v1h-3zM934 290h3v1h-3zM940 290h3v1h-3zM946 290h3v1h-3zM952 290h3v1h-3zM958 290h3v1h-3zM964 290h3v1h-3zM970 290h3v1h-3zM976 290h3v1h-3zM982 290h3v1h-3zM988 290h3v1h-3zM994 290h3v1h-3zM1000 290h3v1h-3zM1006 290h3v1h-3zM1012 290h3v1h-3zM1018 290h3v1h-3zM1024 290h3v1h-3zM1030 290h3v1h-3zM1036 290h3v1h-3zM1042 290h3v1h-3zM1048 290h3v1h-3zM1054 290h3v1h-3zM1060 290h3v1h-3zM1066 290h3v1h-3zM1072 290h3v1h-3zM1078 290h3v1h-3zM1084 290h3v1h-3zM1090 290h3v1h-3zM1096 290h3v1h-3zM1102 290h3v1h-3zM1108 290h3v1h-3zM1114 290h3v1h-3zM1120 290h3v1h-3zM1126 290h3v1h-3zM1132 290h3v1h-3zM1138 290h3v1h-3zM1144 290h3v1h-3zM1150 290h3v1h-3zM1156 290h3v1h-3zM1162 290h3v1h-3zM1168 290h3v1h-3zM1174 290h3v1h-3zM1180 290h3v1h-3zM1186 290h3v1h-3zM1192 290h3v1h-3zM1198 290h3v1h-3zM1204 290h3v1h-3zM1210 290h3v1h-3zM1216 290h3v1h-3zM1222 290h3v1h-3zM1228 290h3v1h-3zM1234 290h3v1h-3zM1240 290h3v1h-3zM1246 290h3v1h-3zM1252 290h3v1h-3zM1258 290h3v1h-3zM1264 290h3v1h-3zM1270 290h3v1h-3zM1276 290h3v1h-3zM1282 290h3v1h-3zM1288 290h3v1h-3zM1294 290h3v1h-3zM1300 290h3v1h-3zM1306 290h3v1h-3zM1312 290h3v1h-3zM1318 290h3v1h-3zM1324 290h3v1h-3zM1330 290h3v1h-3zM1336 290h3v1h-3zM1342 290h3v1h-3zM1348 290h3v1h-3zM1354 290h3v1h-3zM1360 290h3v1h-3zM1366 290h3v1h-3zM1372 290h3v1h-3zM1378 290h3v1h-3zM1384 290h3v1h-3zM1390 290h3v1h-3zM1396 290h3v1h-3zM1402 290h3v1h-3zM1408 290h3v1h-3zM1414 290h3v1h-3zM1420 290h3v1h-3zM1426 290h3v1h-3zM1432 290h3v1h-3zM1438 290h3v1h-3zM1444 290h3v1h-3zM1450 290h3v1h-3zM1456 290h3v1h-3zM1462 290h3v1h-3zM1468 290h3v1h-3zM1474 290h3v1h-3zM1480 290h3v1h-3zM1486 290h3v1h-3zM1492 290h3v1h-3zM1498 290h3v1h-3zM1504 290h3v1h-3zM1510 290h3v1h-3zM1516 290h3v1h-3zM1522 290h3v1h-3zM1528 290h3v1h-3zM1534 290h3v1h-3zM1540 290h3v1h-3zM1546 290h3v1h-3zM1552 290h3v1h-3zM1558 290h3v1h-3zM1564 290h3v1h-3zM1570 290h3v1h-3zM1576 290h3v1h-3zM1582 290h3v1h-3zM1588 290h3v1h-3zM1594 290h3v1h-3zM1600 290h3v1h-3zM1606 290h3v1h-3zM1612 290h3v1h-3zM1618 290h3v1h-3zM1624 290h3v1h-3zM1630 290h3v1h-3zM1636 290h3v1h-3zM1642 290h3v1h-3zM1648 290h3v1h-3zM1654 290h3v1h-3zM1660 290h3v1h-3zM1666 290h3v1h-3zM1672 290h3v1h-3zM1678 290h3v1h-3zM1684 290h3v1h-3zM1690 290h3v1h-3zM1696 290h3v1h-3zM1702 290h3v1h-3zM1708 290h3v1h-3zM1714 290h3v1h-3zM1720 290h3v1h-3zM1726 290h3v1h-3zM1732 290h3v1h-3zM1738 290h3v1h-3zM1744 290h3v1h-3zM1750 290h3v1h-3zM1756 290h3v1h-3zM1762 290h3v1h-3zM1768 290h3v1h-3zM1774 290h3v1h-3zM1780 290h3v1h-3zM1786 290h3v1h-3zM1792 290h3v1h-3zM1798 290h3v1h-3zM1804 290h3v1h-3zM1810 290h3v1h-3zM1816 290h3v1h-3zM1822 290h3v1h-3zM1828 290h3v1h-3zM1834 290h3v1h-3zM1840 290h3v1h-3zM4 253h3v1h-3zM10 253h3v1h-3zM16 253h3v1h-3zM22 253h3v1h-3zM28 253h3v1h-3zM34 253h3v1h-3zM40 253h3v1h-3zM46 253h3v1h-3zM52 253h3v1h-3zM58 253h3v1h-3zM64 253h3v1h-3zM70 253h3v1h-3zM76 253h3v1h-3zM82 253h3v1h-3zM88 253h3v1h-3zM94 253h3v1h-3zM100 253h3v1h-3zM106 253h3v1h-3zM112 253h3v1h-3zM118 253h3v1h-3zM124 253h3v1h-3zM130 253h3v1h-3zM136 253h3v1h-3zM142 253h3v1h-3zM148 253h3v1h-3zM154 253h3v1h-3zM160 253h3v1h-3zM166 253h3v1h-3zM172 253h3v1h-3zM178 253h3v1h-3zM184 253h3v1h-3zM190 253h3v1h-3zM196 253h3v1h-3zM202 253h3v1h-3zM208 253h3v1h-3zM214 253h3v1h-3zM220 253h3v1h-3zM226 253h3v1h-3zM232 253h3v1h-3zM238 253h3v1h-3zM244 253h3v1h-3zM250 253h3v1h-3zM256 253h3v1h-3zM262 253h3v1h-3zM268 253h3v1h-3zM274 253h3v1h-3zM280 253h3v1h-3zM286 253h3v1h-3zM292 253h3v1h-3zM298 253h3v1h-3zM304 253h3v1h-3zM310 253h3v1h-3zM316 253h3v1h-3zM322 253h3v1h-3zM328 253h3v1h-3zM334 253h3v1h-3zM340 253h3v1h-3zM346 253h3v1h-3zM352 253h3v1h-3zM358 253h3v1h-3zM364 253h3v1h-3zM370 253h3v1h-3zM376 253h3v1h-3zM382 253h3v1h-3zM388 253h3v1h-3zM394 253h3v1h-3zM400 253h3v1h-3zM406 253h3v1h-3zM412 253h3v1h-3zM418 253h3v1h-3zM424 253h3v1h-3zM430 253h3v1h-3zM436 253h3v1h-3zM442 253h3v1h-3zM448 253h3v1h-3zM454 253h3v1h-3zM460 253h3v1h-3zM466 253h3v1h-3zM472 253h3v1h-3zM478 253h3v1h-3zM484 253h3v1h-3zM490 253h3v1h-3zM496 253h3v1h-3zM502 253h3v1h-3zM508 253h3v1h-3zM514 253h3v1h-3zM520 253h3v1h-3zM526 253h3v1h-3zM532 253h3v1h-3zM538 253h3v1h-3zM544 253h3v1h-3zM550 253h3v1h-3zM556 253h3v1h-3zM562 253h3v1h-3zM568 253h3v1h-3zM574 253h3v1h-3zM580 253h3v1h-3zM586 253h3v1h-3zM592 253h3v1h-3zM598 253h3v1h-3zM604 253h3v1h-3zM610 253h3v1h-3zM616 253h3v1h-3zM622 253h3v1h-3zM628 253h3v1h-3zM634 253h3v1h-3zM640 253h3v1h-3zM646 253h3v1h-3zM652 253h3v1h-3zM658 253h3v1h-3zM664 253h3v1h-3zM670 253h3v1h-3zM676 253h3v1h-3zM682 253h3v1h-3zM688 253h3v1h-3zM694 253h3v1h-3zM700 253h3v1h-3zM706 253h3v1h-3zM712 253h3v1h-3zM718 253h3v1h-3zM724 253h3v1h-3zM730 253h3v1h-3zM736 253h3v1h-3zM742 253h3v1h-3zM748 253h3v1h-3zM754 253h3v1h-3zM760 253h3v1h-3zM766 253h3v1h-3zM772 253h3v1h-3zM778 253h3v1h-3zM784 253h3v1h-3zM790 253h3v1h-3zM796 253h3v1h-3zM802 253h3v1h-3zM808 253h3v1h-3zM814 253h3v1h-3zM820 253h3v1h-3zM826 253h3v1h-3zM832 253h3v1h-3zM838 253h3v1h-3zM844 253h3v1h-3zM850 253h3v1h-3zM856 253h3v1h-3zM862 253h3v1h-3zM868 253h3v1h-3zM874 253h3v1h-3zM880 253h3v1h-3zM886 253h3v1h-3zM892 253h3v1h-3zM898 253h3v1h-3zM904 253h3v1h-3zM910 253h3v1h-3zM916 253h3v1h-3zM922 253h3v1h-3zM928 253h3v1h-3zM934 253h3v1h-3zM940 253h3v1h-3zM946 253h3v1h-3zM952 253h3v1h-3zM958 253h3v1h-3zM964 253h3v1h-3zM970 253h3v1h-3zM976 253h3v1h-3zM982 253h3v1h-3zM988 253h3v1h-3zM994 253h3v1h-3zM1000 253h3v1h-3zM1006 253h3v1h-3zM1012 253h3v1h-3zM1018 253h3v1h-3zM1024 253h3v1h-3zM1030 253h3v1h-3zM1036 253h3v1h-3zM1042 253h3v1h-3zM1048 253h3v1h-3zM1054 253h3v1h-3zM1060 253h3v1h-3zM1066 253h3v1h-3zM1072 253h3v1h-3zM1078 253h3v1h-3zM1084 253h3v1h-3zM1090 253h3v1h-3zM1096 253h3v1h-3zM1102 253h3v1h-3zM1108 253h3v1h-3zM1114 253h3v1h-3zM1120 253h3v1h-3zM1126 253h3v1h-3zM1132 253h3v1h-3zM1138 253h3v1h-3zM1144 253h3v1h-3zM1150 253h3v1h-3zM1156 253h3v1h-3zM1162 253h3v1h-3zM1168 253h3v1h-3zM1174 253h3v1h-3zM1180 253h3v1h-3zM1186 253h3v1h-3zM1192 253h3v1h-3zM1198 253h3v1h-3zM1204 253h3v1h-3zM1210 253h3v1h-3zM1216 253h3v1h-3zM1222 253h3v1h-3zM1228 253h3v1h-3zM1234 253h3v1h-3zM1240 253h3v1h-3zM1246 253h3v1h-3zM1252 253h3v1h-3zM1258 253h3v1h-3zM1264 253h3v1h-3zM1270 253h3v1h-3zM1276 253h3v1h-3zM1282 253h3v1h-3zM1288 253h3v1h-3zM1294 253h3v1h-3zM1300 253h3v1h-3zM1306 253h3v1h-3zM1312 253h3v1h-3zM1318 253h3v1h-3zM1324 253h3v1h-3zM1330 253h3v1h-3zM1336 253h3v1h-3zM1342 253h3v1h-3zM1348 253h3v1h-3zM1354 253h3v1h-3zM1360 253h3v1h-3zM1366 253h3v1h-3zM1372 253h3v1h-3zM1378 253h3v1h-3zM1384 253h3v1h-3zM1390 253h3v1h-3zM1396 253h3v1h-3zM1402 253h3v1h-3zM1408 253h3v1h-3zM1414 253h3v1h-3zM1420 253h3v1h-3zM1426 253h3v1h-3zM1432 253h3v1h-3zM1438 253h3v1h-3zM1444 253h3v1h-3zM1450 253h3v1h-3zM1456 253h3v1h-3zM1462 253h3v1h-3zM1468 253h3v1h-3zM1474 253h3v1h-3zM1480 253h3v1h-3zM1486 253h3v1h-3zM1492 253h3v1h-3zM1498 253h3v1h-3zM1504 253h3v1h-3zM1510 253h3v1h-3zM1516 253h3v1h-3zM1522 253h3v1h-3zM1528 253h3v1h-3zM1534 253h3v1h-3zM1540 253h3v1h-3zM1546 253h3v1h-3zM1552 253h3v1h-3zM1558 253h3v1h-3zM1564 253h3v1h-3zM1570 253h3v1h-3zM1576 253h3v1h-3zM1582 253h3v1h-3zM1588 253h3v1h-3zM1594 253h3v1h-3zM1600 253h3v1h-3zM1606 253h3v1h-3zM1612 253h3v1h-3zM1618 253h3v1h-3zM1624 253h3v1h-3zM1630 253h3v1h-3zM1636 253h3v1h-3zM1642 253h3v1h-3zM1648 253h3v1h-3zM1654 253h3v1h-3zM1660 253h3v1h-3zM1666 253h3v1h-3zM1672 253h3v1h-3zM1678 253h3v1h-3zM1684 253h3v1h-3zM1690 253h3v1h-3zM1696 253h3v1h-3zM1702 253h3v1h-3zM1708 253h3v1h-3zM1714 253h3v1h-3zM1720 253h3v1h-3zM1726 253h3v1h-3zM1732 253h3v1h-3zM1738 253h3v1h-3zM1744 253h3v1h-3zM1750 253h3v1h-3zM1756 253h3v1h-3zM1762 253h3v1h-3zM1768 253h3v1h-3zM1774 253h3v1h-3zM1780 253h3v1h-3zM1786 253h3v1h-3zM1792 253h3v1h-3zM1798 253h3v1h-3zM1804 253h3v1h-3zM1810 253h3v1h-3zM1816 253h3v1h-3zM1822 253h3v1h-3zM1828 253h3v1h-3zM1834 253h3v1h-3zM1840 253h3v1h-3zM4 216h3v1h-3zM10 216h3v1h-3zM16 216h3v1h-3zM22 216h3v1h-3zM28 216h3v1h-3zM34 216h3v1h-3zM40 216h3v1h-3zM46 216h3v1h-3zM52 216h3v1h-3zM58 216h3v1h-3zM64 216h3v1h-3zM70 216h3v1h-3zM76 216h3v1h-3zM82 216h3v1h-3zM88 216h3v1h-3zM94 216h3v1h-3zM100 216h3v1h-3zM106 216h3v1h-3zM112 216h3v1h-3zM118 216h3v1h-3zM124 216h3v1h-3zM130 216h3v1h-3zM136 216h3v1h-3zM142 216h3v1h-3zM148 216h3v1h-3zM154 216h3v1h-3zM160 216h3v1h-3zM166 216h3v1h-3zM172 216h3v1h-3zM178 216h3v1h-3zM184 216h3v1h-3zM190 216h3v1h-3zM196 216h3v1h-3zM202 216h3v1h-3zM208 216h3v1h-3zM214 216h3v1h-3zM220 216h3v1h-3zM226 216h3v1h-3zM232 216h3v1h-3zM238 216h3v1h-3zM244 216h3v1h-3zM250 216h3v1h-3zM256 216h3v1h-3zM262 216h3v1h-3zM268 216h3v1h-3zM274 216h3v1h-3zM280 216h3v1h-3zM286 216h3v1h-3zM292 216h3v1h-3zM298 216h3v1h-3zM304 216h3v1h-3zM310 216h3v1h-3zM316 216h3v1h-3zM322 216h3v1h-3zM328 216h3v1h-3zM334 216h3v1h-3zM340 216h3v1h-3zM346 216h3v1h-3zM352 216h3v1h-3zM358 216h3v1h-3zM364 216h3v1h-3zM370 216h3v1h-3zM376 216h3v1h-3zM382 216h3v1h-3zM388 216h3v1h-3zM394 216h3v1h-3zM400 216h3v1h-3zM406 216h3v1h-3zM412 216h3v1h-3zM418 216h3v1h-3zM424 216h3v1h-3zM430 216h3v1h-3zM436 216h3v1h-3zM442 216h3v1h-3zM448 216h3v1h-3zM454 216h3v1h-3zM460 216h3v1h-3zM466 216h3v1h-3zM472 216h3v1h-3zM478 216h3v1h-3zM484 216h3v1h-3zM490 216h3v1h-3zM496 216h3v1h-3zM502 216h3v1h-3zM508 216h3v1h-3zM514 216h3v1h-3zM520 216h3v1h-3zM526 216h3v1h-3zM532 216h3v1h-3zM538 216h3v1h-3zM544 216h3v1h-3zM550 216h3v1h-3zM556 216h3v1h-3zM562 216h3v1h-3zM568 216h3v1h-3zM574 216h3v1h-3zM580 216h3v1h-3zM586 216h3v1h-3zM592 216h3v1h-3zM598 216h3v1h-3zM604 216h3v1h-3zM610 216h3v1h-3zM616 216h3v1h-3zM622 216h3v1h-3zM628 216h3v1h-3zM634 216h3v1h-3zM640 216h3v1h-3zM646 216h3v1h-3zM652 216h3v1h-3zM658 216h3v1h-3zM664 216h3v1h-3zM670 216h3v1h-3zM676 216h3v1h-3zM682 216h3v1h-3zM688 216h3v1h-3zM694 216h3v1h-3zM700 216h3v1h-3zM706 216h3v1h-3zM712 216h3v1h-3zM718 216h3v1h-3zM724 216h3v1h-3zM730 216h3v1h-3zM736 216h3v1h-3zM742 216h3v1h-3zM748 216h3v1h-3zM754 216h3v1h-3zM760 216h3v1h-3zM766 216h3v1h-3zM772 216h3v1h-3zM778 216h3v1h-3zM784 216h3v1h-3zM790 216h3v1h-3zM796 216h3v1h-3zM802 216h3v1h-3zM808 216h3v1h-3zM814 216h3v1h-3zM820 216h3v1h-3zM826 216h3v1h-3zM832 216h3v1h-3zM838 216h3v1h-3zM844 216h3v1h-3zM850 216h3v1h-3zM856 216h3v1h-3zM862 216h3v1h-3zM868 216h3v1h-3zM874 216h3v1h-3zM880 216h3v1h-3zM886 216h3v1h-3zM892 216h3v1h-3zM898 216h3v1h-3zM904 216h3v1h-3zM910 216h3v1h-3zM916 216h3v1h-3zM922 216h3v1h-3zM928 216h3v1h-3zM934 216h3v1h-3zM940 216h3v1h-3zM946 216h3v1h-3zM952 216h3v1h-3zM958 216h3v1h-3zM964 216h3v1h-3zM970 216h3v1h-3zM976 216h3v1h-3zM982 216h3v1h-3zM988 216h3v1h-3zM994 216h3v1h-3zM1000 216h3v1h-3zM1006 216h3v1h-3zM1012 216h3v1h-3zM1018 216h3v1h-3zM1024 216h3v1h-3zM1030 216h3v1h-3zM1036 216h3v1h-3zM1042 216h3v1h-3zM1048 216h3v1h-3zM1054 216h3v1h-3zM1060 216h3v1h-3zM1066 216h3v1h-3zM1072 216h3v1h-3zM1078 216h3v1h-3zM1084 216h3v1h-3zM1090 216h3v1h-3zM1096 216h3v1h-3zM1102 216h3v1h-3zM1108 216h3v1h-3zM1114 216h3v1h-3zM1120 216h3v1h-3zM1126 216h3v1h-3zM1132 216h3v1h-3zM1138 216h3v1h-3zM1144 216h3v1h-3zM1150 216h3v1h-3zM1156 216h3v1h-3zM1162 216h3v1h-3zM1168 216h3v1h-3zM1174 216h3v1h-3zM1180 216h3v1h-3zM1186 216h3v1h-3zM1192 216h3v1h-3zM1198 216h3v1h-3zM1204 216h3v1h-3zM1210 216h3v1h-3zM1216 216h3v1h-3zM1222 216h3v1h-3zM1228 216h3v1h-3zM1234 216h3v1h-3zM1240 216h3v1h-3zM1246 216h3v1h-3zM1252 216h3v1h-3zM1258 216h3v1h-3zM1264 216h3v1h-3zM1270 216h3v1h-3zM1276 216h3v1h-3zM1282 216h3v1h-3zM1288 216h3v1h-3zM1294 216h3v1h-3zM1300 216h3v1h-3zM1306 216h3v1h-3zM1312 216h3v1h-3zM1318 216h3v1h-3zM1324 216h3v1h-3zM1330 216h3v1h-3zM1336 216h3v1h-3zM1342 216h3v1h-3zM1348 216h3v1h-3zM1354 216h3v1h-3zM1360 216h3v1h-3zM1366 216h3v1h-3zM1372 216h3v1h-3zM1378 216h3v1h-3zM1384 216h3v1h-3zM1390 216h3v1h-3zM1396 216h3v1h-3zM1402 216h3v1h-3zM1408 216h3v1h-3zM1414 216h3v1h-3zM1420 216h3v1h-3zM1426 216h3v1h-3zM1432 216h3v1h-3zM1438 216h3v1h-3zM1444 216h3v1h-3zM1450 216h3v1h-3zM1456 216h3v1h-3zM1462 216h3v1h-3zM1468 216h3v1h-3zM1474 216h3v1h-3zM1480 216h3v1h-3zM1486 216h3v1h-3zM1492 216h3v1h-3zM1498 216h3v1h-3zM1504 216h3v1h-3zM1510 216h3v1h-3zM1516 216h3v1h-3zM1522 216h3v1h-3zM1528 216h3v1h-3zM1534 216h3v1h-3zM1540 216h3v1h-3zM1546 216h3v1h-3zM1552 216h3v1h-3zM1558 216h3v1h-3zM1564 216h3v1h-3zM1570 216h3v1h-3zM1576 216h3v1h-3zM1582 216h3v1h-3zM1588 216h3v1h-3zM1594 216h3v1h-3zM1600 216h3v1h-3zM1606 216h3v1h-3zM1612 216h3v1h-3zM1618 216h3v1h-3zM1624 216h3v1h-3zM1630 216h3v1h-3zM1636 216h3v1h-3zM1642 216h3v1h-3zM1648 216h3v1h-3zM1654 216h3v1h-3zM1660 216h3v1h-3zM1666 216h3v1h-3zM1672 216h3v1h-3zM1678 216h3v1h-3zM1684 216h3v1h-3zM1690 216h3v1h-3zM1696 216h3v1h-3zM1702 216h3v1h-3zM1708 216h3v1h-3zM1714 216h3v1h-3zM1720 216h3v1h-3zM1726 216h3v1h-3zM1732 216h3v1h-3zM1738 216h3v1h-3zM1744 216h3v1h-3zM1750 216h3v1h-3zM1756 216h3v1h-3zM1762 216h3v1h-3zM1768 216h3v1h-3zM1774 216h3v1h-3zM1780 216h3v1h-3zM1786 216h3v1h-3zM1792 216h3v1h-3zM1798 216h3v1h-3zM1804 216h3v1h-3zM1810 216h3v1h-3zM1816 216h3v1h-3zM1822 216h3v1h-3zM1828 216h3v1h-3zM1834 216h3v1h-3zM1840 216h3v1h-3zM4 179h3v1h-3zM10 179h3v1h-3zM16 179h3v1h-3zM22 179h3v1h-3zM28 179h3v1h-3zM34 179h3v1h-3zM40 179h3v1h-3zM46 179h3v1h-3zM52 179h3v1h-3zM58 179h3v1h-3zM64 179h3v1h-3zM70 179h3v1h-3zM76 179h3v1h-3zM82 179h3v1h-3zM88 179h3v1h-3zM94 179h3v1h-3zM100 179h3v1h-3zM106 179h3v1h-3zM112 179h3v1h-3zM118 179h3v1h-3zM124 179h3v1h-3zM130 179h3v1h-3zM136 179h3v1h-3zM142 179h3v1h-3zM148 179h3v1h-3zM154 179h3v1h-3zM160 179h3v1h-3zM166 179h3v1h-3zM172 179h3v1h-3zM178 179h3v1h-3zM184 179h3v1h-3zM190 179h3v1h-3zM196 179h3v1h-3zM202 179h3v1h-3zM208 179h3v1h-3zM214 179h3v1h-3zM220 179h3v1h-3zM226 179h3v1h-3zM232 179h3v1h-3zM238 179h3v1h-3zM244 179h3v1h-3zM250 179h3v1h-3zM256 179h3v1h-3zM262 179h3v1h-3zM268 179h3v1h-3zM274 179h3v1h-3zM280 179h3v1h-3zM286 179h3v1h-3zM292 179h3v1h-3zM298 179h3v1h-3zM304 179h3v1h-3zM310 179h3v1h-3zM316 179h3v1h-3zM322 179h3v1h-3zM328 179h3v1h-3zM334 179h3v1h-3zM340 179h3v1h-3zM346 179h3v1h-3zM352 179h3v1h-3zM358 179h3v1h-3zM364 179h3v1h-3zM370 179h3v1h-3zM376 179h3v1h-3zM382 179h3v1h-3zM388 179h3v1h-3zM394 179h3v1h-3zM400 179h3v1h-3zM406 179h3v1h-3zM412 179h3v1h-3zM418 179h3v1h-3zM424 179h3v1h-3zM430 179h3v1h-3zM436 179h3v1h-3zM442 179h3v1h-3zM448 179h3v1h-3zM454 179h3v1h-3zM460 179h3v1h-3zM466 179h3v1h-3zM472 179h3v1h-3zM478 179h3v1h-3zM484 179h3v1h-3zM490 179h3v1h-3zM496 179h3v1h-3zM502 179h3v1h-3zM508 179h3v1h-3zM514 179h3v1h-3zM520 179h3v1h-3zM526 179h3v1h-3zM532 179h3v1h-3zM538 179h3v1h-3zM544 179h3v1h-3zM550 179h3v1h-3zM556 179h3v1h-3zM562 179h3v1h-3zM568 179h3v1h-3zM574 179h3v1h-3zM580 179h3v1h-3zM586 179h3v1h-3zM592 179h3v1h-3zM598 179h3v1h-3zM604 179h3v1h-3zM610 179h3v1h-3zM616 179h3v1h-3zM622 179h3v1h-3zM628 179h3v1h-3zM634 179h3v1h-3zM640 179h3v1h-3zM646 179h3v1h-3zM652 179h3v1h-3zM658 179h3v1h-3zM664 179h3v1h-3zM670 179h3v1h-3zM676 179h3v1h-3zM682 179h3v1h-3zM688 179h3v1h-3zM694 179h3v1h-3zM700 179h3v1h-3zM706 179h3v1h-3zM712 179h3v1h-3zM718 179h3v1h-3zM724 179h3v1h-3zM730 179h3v1h-3zM736 179h3v1h-3zM742 179h3v1h-3zM748 179h3v1h-3zM754 179h3v1h-3zM760 179h3v1h-3zM766 179h3v1h-3zM772 179h3v1h-3zM778 179h3v1h-3zM784 179h3v1h-3zM790 179h3v1h-3zM796 179h3v1h-3zM802 179h3v1h-3zM808 179h3v1h-3zM814 179h3v1h-3zM820 179h3v1h-3zM826 179h3v1h-3zM832 179h3v1h-3zM838 179h3v1h-3zM844 179h3v1h-3zM850 179h3v1h-3zM856 179h3v1h-3zM862 179h3v1h-3zM868 179h3v1h-3zM874 179h3v1h-3zM880 179h3v1h-3zM886 179h3v1h-3zM892 179h3v1h-3zM898 179h3v1h-3zM904 179h3v1h-3zM910 179h3v1h-3zM916 179h3v1h-3zM922 179h3v1h-3zM928 179h3v1h-3zM934 179h3v1h-3zM940 179h3v1h-3zM946 179h3v1h-3zM952 179h3v1h-3zM958 179h3v1h-3zM964 179h3v1h-3zM970 179h3v1h-3zM976 179h3v1h-3zM982 179h3v1h-3zM988 179h3v1h-3zM994 179h3v1h-3zM1000 179h3v1h-3zM1006 179h3v1h-3zM1012 179h3v1h-3zM1018 179h3v1h-3zM1024 179h3v1h-3zM1030 179h3v1h-3zM1036 179h3v1h-3zM1042 179h3v1h-3zM1048 179h3v1h-3zM1054 179h3v1h-3zM1060 179h3v1h-3zM1066 179h3v1h-3zM1072 179h3v1h-3zM1078 179h3v1h-3zM1084 179h3v1h-3zM1090 179h3v1h-3zM1096 179h3v1h-3zM1102 179h3v1h-3zM1108 179h3v1h-3zM1114 179h3v1h-3zM1120 179h3v1h-3zM1126 179h3v1h-3zM1132 179h3v1h-3zM1138 179h3v1h-3zM1144 179h3v1h-3zM1150 179h3v1h-3zM1156 179h3v1h-3zM1162 179h3v1h-3zM1168 179h3v1h-3zM1174 179h3v1h-3zM1180 179h3v1h-3zM1186 179h3v1h-3zM1192 179h3v1h-3zM1198 179h3v1h-3zM1204 179h3v1h-3zM1210 179h3v1h-3zM1216 179h3v1h-3zM1222 179h3v1h-3zM1228 179h3v1h-3zM1234 179h3v1h-3zM1240 179h3v1h-3zM1246 179h3v1h-3zM1252 179h3v1h-3zM1258 179h3v1h-3zM1264 179h3v1h-3zM1270 179h3v1h-3zM1276 179h3v1h-3zM1282 179h3v1h-3zM1288 179h3v1h-3zM1294 179h3v1h-3zM1300 179h3v1h-3zM1306 179h3v1h-3zM1312 179h3v1h-3zM1318 179h3v1h-3zM1324 179h3v1h-3zM1330 179h3v1h-3zM1336 179h3v1h-3zM1342 179h3v1h-3zM1348 179h3v1h-3zM1354 179h3v1h-3zM1360 179h3v1h-3zM1366 179h3v1h-3zM1372 179h3v1h-3zM1378 179h3v1h-3zM1384 179h3v1h-3zM1390 179h3v1h-3zM1396 179h3v1h-3zM1402 179h3v1h-3zM1408 179h3v1h-3zM1414 179h3v1h-3zM1420 179h3v1h-3zM1426 179h3v1h-3zM1432 179h3v1h-3zM1438 179h3v1h-3zM1444 179h3v1h-3zM1450 179h3v1h-3zM1456 179h3v1h-3zM1462 179h3v1h-3zM1468 179h3v1h-3zM1474 179h3v1h-3zM1480 179h3v1h-3zM1486 179h3v1h-3zM1492 179h3v1h-3zM1498 179h3v1h-3zM1504 179h3v1h-3zM1510 179h3v1h-3zM1516 179h3v1h-3zM1522 179h3v1h-3zM1528 179h3v1h-3zM1534 179h3v1h-3zM1540 179h3v1h-3zM1546 179h3v1h-3zM1552 179h3v1h-3zM1558 179h3v1h-3zM1564 179h3v1h-3zM1570 179h3v1h-3zM1576 179h3v1h-3zM1582 179h3v1h-3zM1588 179h3v1h-3zM1594 179h3v1h-3zM1600 179h3v1h-3zM1606 179h3v1h-3zM1612 179h3v1h-3zM1618 179h3v1h-3zM1624 179h3v1h-3zM1630 179h3v1h-3zM1636 179h3v1h-3zM1642 179h3v1h-3zM1648 179h3v1h-3zM1654 179h3v1h-3zM1660 179h3v1h-3zM1666 179h3v1h-3zM1672 179h3v1h-3zM1678 179h3v1h-3zM1684 179h3v1h-3zM1690 179h3v1h-3zM1696 179h3v1h-3zM1702 179h3v1h-3zM1708 179h3v1h-3zM1714 179h3v1h-3zM1720 179h3v1h-3zM1726 179h3v1h-3zM1732 179h3v1h-3zM1738 179h3v1h-3zM1744 179h3v1h-3zM1750 179h3v1h-3zM1756 179h3v1h-3zM1762 179h3v1h-3zM1768 179h3v1h-3zM1774 179h3v1h-3zM1780 179h3v1h-3zM1786 179h3v1h-3zM1792 179h3v1h-3zM1798 179h3v1h-3zM1804 179h3v1h-3zM1810 179h3v1h-3zM1816 179h3v1h-3zM1822 179h3v1h-3zM1828 179h3v1h-3zM1834 179h3v1h-3zM1840 179h3v1h-3zM4 142h3v1h-3zM10 142h3v1h-3zM16 142h3v1h-3zM22 142h3v1h-3zM28 142h3v1h-3zM34 142h3v1h-3zM40 142h3v1h-3zM46 142h3v1h-3zM52 142h3v1h-3zM58 142h3v1h-3zM64 142h3v1h-3zM70 142h3v1h-3zM76 142h3v1h-3zM82 142h3v1h-3zM88 142h3v1h-3zM94 142h3v1h-3zM100 142h3v1h-3zM106 142h3v1h-3zM112 142h3v1h-3zM118 142h3v1h-3zM124 142h3v1h-3zM130 142h3v1h-3zM136 142h3v1h-3zM142 142h3v1h-3zM148 142h3v1h-3zM154 142h3v1h-3zM160 142h3v1h-3zM166 142h3v1h-3zM172 142h3v1h-3zM178 142h3v1h-3zM184 142h3v1h-3zM190 142h3v1h-3zM196 142h3v1h-3zM202 142h3v1h-3zM208 142h3v1h-3zM214 142h3v1h-3zM220 142h3v1h-3zM226 142h3v1h-3zM232 142h3v1h-3zM238 142h3v1h-3zM244 142h3v1h-3zM250 142h3v1h-3zM256 142h3v1h-3zM262 142h3v1h-3zM268 142h3v1h-3zM274 142h3v1h-3zM280 142h3v1h-3zM286 142h3v1h-3zM292 142h3v1h-3zM298 142h3v1h-3zM304 142h3v1h-3zM310 142h3v1h-3zM316 142h3v1h-3zM322 142h3v1h-3zM328 142h3v1h-3zM334 142h3v1h-3zM340 142h3v1h-3zM346 142h3v1h-3zM352 142h3v1h-3zM358 142h3v1h-3zM364 142h3v1h-3zM370 142h3v1h-3zM376 142h3v1h-3zM382 142h3v1h-3zM388 142h3v1h-3zM394 142h3v1h-3zM400 142h3v1h-3zM406 142h3v1h-3zM412 142h3v1h-3zM418 142h3v1h-3zM424 142h3v1h-3zM430 142h3v1h-3zM436 142h3v1h-3zM442 142h3v1h-3zM448 142h3v1h-3zM454 142h3v1h-3zM460 142h3v1h-3zM466 142h3v1h-3zM472 142h3v1h-3zM478 142h3v1h-3zM484 142h3v1h-3zM490 142h3v1h-3zM496 142h3v1h-3zM502 142h3v1h-3zM508 142h3v1h-3zM514 142h3v1h-3zM520 142h3v1h-3zM526 142h3v1h-3zM532 142h3v1h-3zM538 142h3v1h-3zM544 142h3v1h-3zM550 142h3v1h-3zM556 142h3v1h-3zM562 142h3v1h-3zM568 142h3v1h-3zM574 142h3v1h-3zM580 142h3v1h-3zM586 142h3v1h-3zM592 142h3v1h-3zM598 142h3v1h-3zM604 142h3v1h-3zM610 142h3v1h-3zM616 142h3v1h-3zM622 142h3v1h-3zM628 142h3v1h-3zM634 142h3v1h-3zM640 142h3v1h-3zM646 142h3v1h-3zM652 142h3v1h-3zM658 142h3v1h-3zM664 142h3v1h-3zM670 142h3v1h-3zM676 142h3v1h-3zM682 142h3v1h-3zM688 142h3v1h-3zM694 142h3v1h-3zM700 142h3v1h-3zM706 142h3v1h-3zM712 142h3v1h-3zM718 142h3v1h-3zM724 142h3v1h-3zM730 142h3v1h-3zM736 142h3v1h-3zM742 142h3v1h-3zM748 142h3v1h-3zM754 142h3v1h-3zM760 142h3v1h-3zM766 142h3v1h-3zM772 142h3v1h-3zM778 142h3v1h-3zM784 142h3v1h-3zM790 142h3v1h-3zM796 142h3v1h-3zM802 142h3v1h-3zM808 142h3v1h-3zM814 142h3v1h-3zM820 142h3v1h-3zM826 142h3v1h-3zM832 142h3v1h-3zM838 142h3v1h-3zM844 142h3v1h-3zM850 142h3v1h-3zM856 142h3v1h-3zM862 142h3v1h-3zM868 142h3v1h-3zM874 142h3v1h-3zM880 142h3v1h-3zM886 142h3v1h-3zM892 142h3v1h-3zM898 142h3v1h-3zM904 142h3v1h-3zM910 142h3v1h-3zM916 142h3v1h-3zM922 142h3v1h-3zM928 142h3v1h-3zM934 142h3v1h-3zM940 142h3v1h-3zM946 142h3v1h-3zM952 142h3v1h-3zM958 142h3v1h-3zM964 142h3v1h-3zM970 142h3v1h-3zM976 142h3v1h-3zM982 142h3v1h-3zM988 142h3v1h-3zM994 142h3v1h-3zM1000 142h3v1h-3zM1006 142h3v1h-3zM1012 142h3v1h-3zM1018 142h3v1h-3zM1024 142h3v1h-3zM1030 142h3v1h-3zM1036 142h3v1h-3zM1042 142h3v1h-3zM1048 142h3v1h-3zM1054 142h3v1h-3zM1060 142h3v1h-3zM1066 142h3v1h-3zM1072 142h3v1h-3zM1078 142h3v1h-3zM1084 142h3v1h-3zM1090 142h3v1h-3zM1096 142h3v1h-3zM1102 142h3v1h-3zM1108 142h3v1h-3zM1114 142h3v1h-3zM1120 142h3v1h-3zM1126 142h3v1h-3zM1132 142h3v1h-3zM1138 142h3v1h-3zM1144 142h3v1h-3zM1150 142h3v1h-3zM1156 142h3v1h-3zM1162 142h3v1h-3zM1168 142h3v1h-3zM1174 142h3v1h-3zM1180 142h3v1h-3zM1186 142h3v1h-3zM1192 142h3v1h-3zM1198 142h3v1h-3zM1204 142h3v1h-3zM1210 142h3v1h-3zM1216 142h3v1h-3zM1222 142h3v1h-3zM1228 142h3v1h-3zM1234 142h3v1h-3zM1240 142h3v1h-3zM1246 142h3v1h-3zM1252 142h3v1h-3zM1258 142h3v1h-3zM1264 142h3v1h-3zM1270 142h3v1h-3zM1276 142h3v1h-3zM1282 142h3v1h-3zM1288 142h3v1h-3zM1294 142h3v1h-3zM1300 142h3v1h-3zM1306 142h3v1h-3zM1312 142h3v1h-3zM1318 142h3v1h-3zM1324 142h3v1h-3zM1330 142h3v1h-3zM1336 142h3v1h-3zM1342 142h3v1h-3zM1348 142h3v1h-3zM1354 142h3v1h-3zM1360 142h3v1h-3zM1366 142h3v1h-3zM1372 142h3v1h-3zM1378 142h3v1h-3zM1384 142h3v1h-3zM1390 142h3v1h-3zM1396 142h3v1h-3zM1402 142h3v1h-3zM1408 142h3v1h-3zM1414 142h3v1h-3zM1420 142h3v1h-3zM1426 142h3v1h-3zM1432 142h3v1h-3zM1438 142h3v1h-3zM1444 142h3v1h-3zM1450 142h3v1h-3zM1456 142h3v1h-3zM1462 142h3v1h-3zM1468 142h3v1h-3zM1474 142h3v1h-3zM1480 142h3v1h-3zM1486 142h3v1h-3zM1492 142h3v1h-3zM1498 142h3v1h-3zM1504 142h3v1h-3zM1510 142h3v1h-3zM1516 142h3v1h-3zM1522 142h3v1h-3zM1528 142h3v1h-3zM1534 142h3v1h-3zM1540 142h3v1h-3zM1546 142h3v1h-3zM1552 142h3v1h-3zM1558 142h3v1h-3zM1564 142h3v1h-3zM1570 142h3v1h-3zM1576 142h3v1h-3zM1582 142h3v1h-3zM1588 142h3v1h-3zM1594 142h3v1h-3zM1600 142h3v1h-3zM1606 142h3v1h-3zM1612 142h3v1h-3zM1618 142h3v1h-3zM1624 142h3v1h-3zM1630 142h3v1h-3zM1636 142h3v1h-3zM1642 142h3v1h-3zM1648 142h3v1h-3zM1654 142h3v1h-3zM1660 142h3v1h-3zM1666 142h3v1h-3zM1672 142h3v1h-3zM1678 142h3v1h-3zM1684 142h3v1h-3zM1690 142h3v1h-3zM1696 142h3v1h-3zM1702 142h3v1h-3zM1708 142h3v1h-3zM1714 142h3v1h-3zM1720 142h3v1h-3zM1726 142h3v1h-3zM1732 142h3v1h-3zM1738 142h3v1h-3zM1744 142h3v1h-3zM1750 142h3v1h-3zM1756 142h3v1h-3zM1762 142h3v1h-3zM1768 142h3v1h-3zM1774 142h3v1h-3zM1780 142h3v1h-3zM1786 142h3v1h-3zM1792 142h3v1h-3zM1798 142h3v1h-3zM1804 142h3v1h-3zM1810 142h3v1h-3zM1816 142h3v1h-3zM1822 142h3v1h-3zM1828 142h3v1h-3zM1834 142h3v1h-3zM1840 142h3v1h-3zM4 105h3v1h-3zM10 105h3v1h-3zM16 105h3v1h-3zM22 105h3v1h-3zM28 105h3v1h-3zM34 105h3v1h-3zM40 105h3v1h-3zM46 105h3v1h-3zM52 105h3v1h-3zM58 105h3v1h-3zM64 105h3v1h-3zM70 105h3v1h-3zM76 105h3v1h-3zM82 105h3v1h-3zM88 105h3v1h-3zM94 105h3v1h-3zM100 105h3v1h-3zM106 105h3v1h-3zM112 105h3v1h-3zM118 105h3v1h-3zM124 105h3v1h-3zM130 105h3v1h-3zM136 105h3v1h-3zM142 105h3v1h-3zM148 105h3v1h-3zM154 105h3v1h-3zM160 105h3v1h-3zM166 105h3v1h-3zM172 105h3v1h-3zM178 105h3v1h-3zM184 105h3v1h-3zM190 105h3v1h-3zM196 105h3v1h-3zM202 105h3v1h-3zM208 105h3v1h-3zM214 105h3v1h-3zM220 105h3v1h-3zM226 105h3v1h-3zM232 105h3v1h-3zM238 105h3v1h-3zM244 105h3v1h-3zM250 105h3v1h-3zM256 105h3v1h-3zM262 105h3v1h-3zM268 105h3v1h-3zM274 105h3v1h-3zM280 105h3v1h-3zM286 105h3v1h-3zM292 105h3v1h-3zM298 105h3v1h-3zM304 105h3v1h-3zM310 105h3v1h-3zM316 105h3v1h-3zM322 105h3v1h-3zM328 105h3v1h-3zM334 105h3v1h-3zM340 105h3v1h-3zM346 105h3v1h-3zM352 105h3v1h-3zM358 105h3v1h-3zM364 105h3v1h-3zM370 105h3v1h-3zM376 105h3v1h-3zM382 105h3v1h-3zM388 105h3v1h-3zM394 105h3v1h-3zM400 105h3v1h-3zM406 105h3v1h-3zM412 105h3v1h-3zM418 105h3v1h-3zM424 105h3v1h-3zM430 105h3v1h-3zM436 105h3v1h-3zM442 105h3v1h-3zM448 105h3v1h-3zM454 105h3v1h-3zM460 105h3v1h-3zM466 105h3v1h-3zM472 105h3v1h-3zM478 105h3v1h-3zM484 105h3v1h-3zM490 105h3v1h-3zM496 105h3v1h-3zM502 105h3v1h-3zM508 105h3v1h-3zM514 105h3v1h-3zM520 105h3v1h-3zM526 105h3v1h-3zM532 105h3v1h-3zM538 105h3v1h-3zM544 105h3v1h-3zM550 105h3v1h-3zM556 105h3v1h-3zM562 105h3v1h-3zM568 105h3v1h-3zM574 105h3v1h-3zM580 105h3v1h-3zM586 105h3v1h-3zM592 105h3v1h-3zM598 105h3v1h-3zM604 105h3v1h-3zM610 105h3v1h-3zM616 105h3v1h-3zM622 105h3v1h-3zM628 105h3v1h-3zM634 105h3v1h-3zM640 105h3v1h-3zM646 105h3v1h-3zM652 105h3v1h-3zM658 105h3v1h-3zM664 105h3v1h-3zM670 105h3v1h-3zM676 105h3v1h-3zM682 105h3v1h-3zM688 105h3v1h-3zM694 105h3v1h-3zM700 105h3v1h-3zM706 105h3v1h-3zM712 105h3v1h-3zM718 105h3v1h-3zM724 105h3v1h-3zM730 105h3v1h-3zM736 105h3v1h-3zM742 105h3v1h-3zM748 105h3v1h-3zM754 105h3v1h-3zM760 105h3v1h-3zM766 105h3v1h-3zM772 105h3v1h-3zM778 105h3v1h-3zM784 105h3v1h-3zM790 105h3v1h-3zM796 105h3v1h-3zM802 105h3v1h-3zM808 105h3v1h-3zM814 105h3v1h-3zM820 105h3v1h-3zM826 105h3v1h-3zM832 105h3v1h-3zM838 105h3v1h-3zM844 105h3v1h-3zM850 105h3v1h-3zM856 105h3v1h-3zM862 105h3v1h-3zM868 105h3v1h-3zM874 105h3v1h-3zM880 105h3v1h-3zM886 105h3v1h-3zM892 105h3v1h-3zM898 105h3v1h-3zM904 105h3v1h-3zM910 105h3v1h-3zM916 105h3v1h-3zM922 105h3v1h-3zM928 105h3v1h-3zM934 105h3v1h-3zM940 105h3v1h-3zM946 105h3v1h-3zM952 105h3v1h-3zM958 105h3v1h-3zM964 105h3v1h-3zM970 105h3v1h-3zM976 105h3v1h-3zM982 105h3v1h-3zM988 105h3v1h-3zM994 105h3v1h-3zM1000 105h3v1h-3zM1006 105h3v1h-3zM1012 105h3v1h-3zM1018 105h3v1h-3zM1024 105h3v1h-3zM1030 105h3v1h-3zM1036 105h3v1h-3zM1042 105h3v1h-3zM1048 105h3v1h-3zM1054 105h3v1h-3zM1060 105h3v1h-3zM1066 105h3v1h-3zM1072 105h3v1h-3zM1078 105h3v1h-3zM1084 105h3v1h-3zM1090 105h3v1h-3zM1096 105h3v1h-3zM1102 105h3v1h-3zM1108 105h3v1h-3zM1114 105h3v1h-3zM1120 105h3v1h-3zM1126 105h3v1h-3zM1132 105h3v1h-3zM1138 105h3v1h-3zM1144 105h3v1h-3zM1150 105h3v1h-3zM1156 105h3v1h-3zM1162 105h3v1h-3zM1168 105h3v1h-3zM1174 105h3v1h-3zM1180 105h3v1h-3zM1186 105h3v1h-3zM1192 105h3v1h-3zM1198 105h3v1h-3zM1204 105h3v1h-3zM1210 105h3v1h-3zM1216 105h3v1h-3zM1222 105h3v1h-3zM1228 105h3v1h-3zM1234 105h3v1h-3zM1240 105h3v1h-3zM1246 105h3v1h-3zM1252 105h3v1h-3zM1258 105h3v1h-3zM1264 105h3v1h-3zM1270 105h3v1h-3zM1276 105h3v1h-3zM1282 105h3v1h-3zM1288 105h3v1h-3zM1294 105h3v1h-3zM1300 105h3v1h-3zM1306 105h3v1h-3zM1312 105h3v1h-3zM1318 105h3v1h-3zM1324 105h3v1h-3zM1330 105h3v1h-3zM1336 105h3v1h-3zM1342 105h3v1h-3zM1348 105h3v1h-3zM1354 105h3v1h-3zM1360 105h3v1h-3zM1366 105h3v1h-3zM1372 105h3v1h-3zM1378 105h3v1h-3zM1384 105h3v1h-3zM1390 105h3v1h-3zM1396 105h3v1h-3zM1402 105h3v1h-3zM1408 105h3v1h-3zM1414 105h3v1h-3zM1420 105h3v1h-3zM1426 105h3v1h-3zM1432 105h3v1h-3zM1438 105h3v1h-3zM1444 105h3v1h-3zM1450 105h3v1h-3zM1456 105h3v1h-3zM1462 105h3v1h-3zM1468 105h3v1h-3zM1474 105h3v1h-3zM1480 105h3v1h-3zM1486 105h3v1h-3zM1492 105h3v1h-3zM1498 105h3v1h-3zM1504 105h3v1h-3zM1510 105h3v1h-3zM1516 105h3v1h-3zM1522 105h3v1h-3zM1528 105h3v1h-3zM1534 105h3v1h-3zM1540 105h3v1h-3zM1546 105h3v1h-3zM1552 105h3v1h-3zM1558 105h3v1h-3zM1564 105h3v1h-3zM1570 105h3v1h-3zM1576 105h3v1h-3zM1582 105h3v1h-3zM1588 105h3v1h-3zM1594 105h3v1h-3zM1600 105h3v1h-3zM1606 105h3v1h-3zM1612 105h3v1h-3zM1618 105h3v1h-3zM1624 105h3v1h-3zM1630 105h3v1h-3zM1636 105h3v1h-3zM1642 105h3v1h-3zM1648 105h3v1h-3zM1654 105h3v1h-3zM1660 105h3v1h-3zM1666 105h3v1h-3zM1672 105h3v1h-3zM1678 105h3v1h-3zM1684 105h3v1h-3zM1690 105h3v1h-3zM1696 105h3v1h-3zM1702 105h3v1h-3zM1708 105h3v1h-3zM1714 105h3v1h-3zM1720 105h3v1h-3zM1726 105h3v1h-3zM1732 105h3v1h-3zM1738 105h3v1h-3zM1744 105h3v1h-3zM1750 105h3v1h-3zM1756 105h3v1h-3zM1762 105h3v1h-3zM1768 105h3v1h-3zM1774 105h3v1h-3zM1780 105h3v1h-3zM1786 105h3v1h-3zM1792 105h3v1h-3zM1798 105h3v1h-3zM1804 105h3v1h-3zM1810 105h3v1h-3zM1816 105h3v1h-3zM1822 105h3v1h-3zM1828 105h3v1h-3zM1834 105h3v1h-3zM1840 105h3v1h-3zM4 68h3v1h-3zM10 68h3v1h-3zM16 68h3v1h-3zM22 68h3v1h-3zM28 68h3v1h-3zM34 68h3v1h-3zM40 68h3v1h-3zM46 68h3v1h-3zM52 68h3v1h-3zM58 68h3v1h-3zM64 68h3v1h-3zM70 68h3v1h-3zM76 68h3v1h-3zM82 68h3v1h-3zM88 68h3v1h-3zM94 68h3v1h-3zM100 68h3v1h-3zM106 68h3v1h-3zM112 68h3v1h-3zM118 68h3v1h-3zM124 68h3v1h-3zM130 68h3v1h-3zM136 68h3v1h-3zM142 68h3v1h-3zM148 68h3v1h-3zM154 68h3v1h-3zM160 68h3v1h-3zM166 68h3v1h-3zM172 68h3v1h-3zM178 68h3v1h-3zM184 68h3v1h-3zM190 68h3v1h-3zM196 68h3v1h-3zM202 68h3v1h-3zM208 68h3v1h-3zM214 68h3v1h-3zM220 68h3v1h-3zM226 68h3v1h-3zM232 68h3v1h-3zM238 68h3v1h-3zM244 68h3v1h-3zM250 68h3v1h-3zM256 68h3v1h-3zM262 68h3v1h-3zM268 68h3v1h-3zM274 68h3v1h-3zM280 68h3v1h-3zM286 68h3v1h-3zM292 68h3v1h-3zM298 68h3v1h-3zM304 68h3v1h-3zM310 68h3v1h-3zM316 68h3v1h-3zM322 68h3v1h-3zM328 68h3v1h-3zM334 68h3v1h-3zM340 68h3v1h-3zM346 68h3v1h-3zM352 68h3v1h-3zM358 68h3v1h-3zM364 68h3v1h-3zM370 68h3v1h-3zM376 68h3v1h-3zM382 68h3v1h-3zM388 68h3v1h-3zM394 68h3v1h-3zM400 68h3v1h-3zM406 68h3v1h-3zM412 68h3v1h-3zM418 68h3v1h-3zM424 68h3v1h-3zM430 68h3v1h-3zM436 68h3v1h-3zM442 68h3v1h-3zM448 68h3v1h-3zM454 68h3v1h-3zM460 68h3v1h-3zM466 68h3v1h-3zM472 68h3v1h-3zM478 68h3v1h-3zM484 68h3v1h-3zM490 68h3v1h-3zM496 68h3v1h-3zM502 68h3v1h-3zM508 68h3v1h-3zM514 68h3v1h-3zM520 68h3v1h-3zM526 68h3v1h-3zM532 68h3v1h-3zM538 68h3v1h-3zM544 68h3v1h-3zM550 68h3v1h-3zM556 68h3v1h-3zM562 68h3v1h-3zM568 68h3v1h-3zM574 68h3v1h-3zM580 68h3v1h-3zM586 68h3v1h-3zM592 68h3v1h-3zM598 68h3v1h-3zM604 68h3v1h-3zM610 68h3v1h-3zM616 68h3v1h-3zM622 68h3v1h-3zM628 68h3v1h-3zM634 68h3v1h-3zM640 68h3v1h-3zM646 68h3v1h-3zM652 68h3v1h-3zM658 68h3v1h-3zM664 68h3v1h-3zM670 68h3v1h-3zM676 68h3v1h-3zM682 68h3v1h-3zM688 68h3v1h-3zM694 68h3v1h-3zM700 68h3v1h-3zM706 68h3v1h-3zM712 68h3v1h-3zM718 68h3v1h-3zM724 68h3v1h-3zM730 68h3v1h-3zM736 68h3v1h-3zM742 68h3v1h-3zM748 68h3v1h-3zM754 68h3v1h-3zM760 68h3v1h-3zM766 68h3v1h-3zM772 68h3v1h-3zM778 68h3v1h-3zM784 68h3v1h-3zM790 68h3v1h-3zM796 68h3v1h-3zM802 68h3v1h-3zM808 68h3v1h-3zM814 68h3v1h-3zM820 68h3v1h-3zM826 68h3v1h-3zM832 68h3v1h-3zM838 68h3v1h-3zM844 68h3v1h-3zM850 68h3v1h-3zM856 68h3v1h-3zM862 68h3v1h-3zM868 68h3v1h-3zM874 68h3v1h-3zM880 68h3v1h-3zM886 68h3v1h-3zM892 68h3v1h-3zM898 68h3v1h-3zM904 68h3v1h-3zM910 68h3v1h-3zM916 68h3v1h-3zM922 68h3v1h-3zM928 68h3v1h-3zM934 68h3v1h-3zM940 68h3v1h-3zM946 68h3v1h-3zM952 68h3v1h-3zM958 68h3v1h-3zM964 68h3v1h-3zM970 68h3v1h-3zM976 68h3v1h-3zM982 68h3v1h-3zM988 68h3v1h-3zM994 68h3v1h-3zM1000 68h3v1h-3zM1006 68h3v1h-3zM1012 68h3v1h-3zM1018 68h3v1h-3zM1024 68h3v1h-3zM1030 68h3v1h-3zM1036 68h3v1h-3zM1042 68h3v1h-3zM1048 68h3v1h-3zM1054 68h3v1h-3zM1060 68h3v1h-3zM1066 68h3v1h-3zM1072 68h3v1h-3zM1078 68h3v1h-3zM1084 68h3v1h-3zM1090 68h3v1h-3zM1096 68h3v1h-3zM1102 68h3v1h-3zM1108 68h3v1h-3zM1114 68h3v1h-3zM1120 68h3v1h-3zM1126 68h3v1h-3zM1132 68h3v1h-3zM1138 68h3v1h-3zM1144 68h3v1h-3zM1150 68h3v1h-3zM1156 68h3v1h-3zM1162 68h3v1h-3zM1168 68h3v1h-3zM1174 68h3v1h-3zM1180 68h3v1h-3zM1186 68h3v1h-3zM1192 68h3v1h-3zM1198 68h3v1h-3zM1204 68h3v1h-3zM1210 68h3v1h-3zM1216 68h3v1h-3zM1222 68h3v1h-3zM1228 68h3v1h-3zM1234 68h3v1h-3zM1240 68h3v1h-3zM1246 68h3v1h-3zM1252 68h3v1h-3zM1258 68h3v1h-3zM1264 68h3v1h-3zM1270 68h3v1h-3zM1276 68h3v1h-3zM1282 68h3v1h-3zM1288 68h3v1h-3zM1294 68h3v1h-3zM1300 68h3v1h-3zM1306 68h3v1h-3zM1312 68h3v1h-3zM1318 68h3v1h-3zM1324 68h3v1h-3zM1330 68h3v1h-3zM1336 68h3v1h-3zM1342 68h3v1h-3zM1348 68h3v1h-3zM1354 68h3v1h-3zM1360 68h3v1h-3zM1366 68h3v1h-3zM1372 68h3v1h-3zM1378 68h3v1h-3zM1384 68h3v1h-3zM1390 68h3v1h-3zM1396 68h3v1h-3zM1402 68h3v1h-3zM1408 68h3v1h-3zM1414 68h3v1h-3zM1420 68h3v1h-3zM1426 68h3v1h-3zM1432 68h3v1h-3zM1438 68h3v1h-3zM1444 68h3v1h-3zM1450 68h3v1h-3zM1456 68h3v1h-3zM1462 68h3v1h-3zM1468 68h3v1h-3zM1474 68h3v1h-3zM1480 68h3v1h-3zM1486 68h3v1h-3zM1492 68h3v1h-3zM1498 68h3v1h-3zM1504 68h3v1h-3zM1510 68h3v1h-3zM1516 68h3v1h-3zM1522 68h3v1h-3zM1528 68h3v1h-3zM1534 68h3v1h-3zM1540 68h3v1h-3zM1546 68h3v1h-3zM1552 68h3v1h-3zM1558 68h3v1h-3zM1564 68h3v1h-3zM1570 68h3v1h-3zM1576 68h3v1h-3zM1582 68h3v1h-3zM1588 68h3v1h-3zM1594 68h3v1h-3zM1600 68h3v1h-3zM1606 68h3v1h-3zM1612 68h3v1h-3zM1618 68h3v1h-3zM1624 68h3v1h-3zM1630 68h3v1h-3zM1636 68h3v1h-3zM1642 68h3v1h-3zM1648 68h3v1h-3zM1654 68h3v1h-3zM1660 68h3v1h-3zM1666 68h3v1h-3zM1672 68h3v1h-3zM1678 68h3v1h-3zM1684 68h3v1h-3zM1690 68h3v1h-3zM1696 68h3v1h-3zM1702 68h3v1h-3zM1708 68h3v1h-3zM1714 68h3v1h-3zM1720 68h3v1h-3zM1726 68h3v1h-3zM1732 68h3v1h-3zM1738 68h3v1h-3zM1744 68h3v1h-3zM1750 68h3v1h-3zM1756 68h3v1h-3zM1762 68h3v1h-3zM1768 68h3v1h-3zM1774 68h3v1h-3zM1780 68h3v1h-3zM1786 68h3v1h-3zM1792 68h3v1h-3zM1798 68h3v1h-3zM1804 68h3v1h-3zM1810 68h3v1h-3zM1816 68h3v1h-3zM1822 68h3v1h-3zM1828 68h3v1h-3zM1834 68h3v1h-3zM1840 68h3v1h-3z" fill="#c0c0c0"/>
<path d="M5 245h3v1h-3zM11 245h3v1h-3zM17 245h3v1h-3zM23 245h3v1h-3zM29 245h3v1h-3zM35 245h3v1h-3zM41 245h3v1h-3zM47 245h3v1h-3zM53 245h3v1h-3zM59 245h3v1h-3zM65 245h3v1h-3zM71 245h3v1h-3zM77 245h3v1h-3zM83 245h3v1h-3zM89 245h3v1h-3zM95 245h3v1h-3zM101 245h3v1h-3zM107 245h3v1h-3zM113 245h3v1h-3zM119 245h3v1h-3zM125 245h3v1h-3zM131 245h3v1h-3zM137 245h3v1h-3zM143 245h3v1h-3zM149 245h3v1h-3zM155 245h3v1h-3zM161 245h3v1h-3zM167 245h3v1h-3zM173 245h3v1h-3zM179 245h3v1h-3zM185 245h3v1h-3zM191 245h3v1h-3zM197 245h3v1h-3zM203 245h3v1h-3zM209 245h3v1h-3zM215 245h3v1h-3zM221 245h3v1h-3zM227 245h3v1h-3zM233 245h3v1h-3zM239 245h3v1h-3zM245 245h3v1h-3zM251 245h3v1h-3zM257 245h3v1h-3zM263 245h3v1h-3zM269 245h3v1h-3zM275 245h3v1h-3zM281 245h3v1h-3zM287 245h3v1h-3zM293 245h3v1h-3zM299 245h3v1h-3zM305 245h3v1h-3zM311 245h3v1h-3zM317 245h3v1h-3zM323 245h3v1h-3zM329 245h3v1h-3zM335 245h3v1h-3zM341 245h3v1h-3zM347 245h3v1h-3zM353 245h3v1h-3zM359 245h3v1h-3zM365 245h3v1h-3zM371 245h3v1h-3zM377 245h3v1h-3zM383 245h3v1h-3zM389 245h3v1h-3zM395 245h3v1h-3zM401 245h3v1h-3zM407 245h3v1h-3zM413 245h3v1h-3zM419 245h3v1h-3zM425 245h3v1h-3zM431 245h3v1h-3zM437 245h3v1h-3zM443 245h3v1h-3zM449 245h3v1h-3zM455 245h3v1h-3zM461 245h3v1h-3zM467 245h3v1h-3zM473 245h3v1h-3zM479 245h3v1h-3zM485 245h3v1h-3zM491 245h3v1h-3zM497 245h3v1h-3zM503 245h3v1h-3zM509 245h3v1h-3zM515 245h3v1h-3zM521 245h3v1h-3zM527 245h3v1h-3zM533 245h3v1h-3zM539 245h3v1h-3zM545 245h3v1h-3zM551 245h3v1h-3zM557 245h3v1h-3zM563 245h3v1h-3zM569 245h3v1h-3zM575 245h3v1h-3zM581 245h3v1h-3zM587 245h3v1h-3zM593 245h3v1h-3zM599 245h3v1h-3zM605 245h3v1h-3zM611 245h3v1h-3zM617 245h3v1h-3zM623 245h3v1h-3zM629 245h3v1h-3zM635 245h3v1h-3zM641 245h3v1h-3zM647 245h3v1h-3zM653 245h3v1h-3zM659 245h3v1h-3zM665 245h3v1h-3zM671 245h3v1h-3zM677 245h3v1h-3zM683 245h3v1h-3zM689 245h3v1h-3zM695 245h3v1h-3zM701 245h3v1h-3zM707 245h3v1h-3zM713 245h3v1h-3zM719 245h3v1h-3zM725 245h3v1h-3zM731 245h3v1h-3zM737 245h3v1h-3zM743 245h3v1h-3zM749 245h3v1h-3zM755 245h3v1h-3zM761 245h3v1h-3zM767 245h3v1h-3zM773 245h3v1h-3zM779 245h3v1h-3zM785 245h3v1h-3zM791 245h3v1h-3zM797 245h3v1h-3zM803 245h3v1h-3zM809 245h3v1h-3zM815 245h3v1h-3zM821 245h3v1h-3zM827 245h3v1h-3zM833 245h3v1h-3zM839 245h3v1h-3zM845 245h3v1h-3zM851 245h3v1h-3zM857 245h3v1h-3zM863 245h3v1h-3zM869 245h3v1h-3zM875 245h3v1h-3zM881 245h3v1h-3zM887 245h3v1h-3zM893 245h3v1h-3zM899 245h3v1h-3zM905 245h3v1h-3zM911 245h3v1h-3zM917 245h3v1h-3zM923 245h3v1h-3zM929 245h3v1h-3zM935 245h3v1h-3zM941 245h3v1h-3zM947 245h3v1h-3zM953 245h3v1h-3zM959 245h3v1h-3zM965 245h3v1h-3zM971 245h3v1h-3zM977 245h3v1h-3zM983 245h3v1h-3zM989 245h3v1h-3zM995 245h3v1h-3zM1001 245h3v1h-3zM1007 245h3v1h-3zM1013 245h3v1h-3zM1019 245h3v1h-3zM1025 245h3v1h-3zM1031 245h3v1h-3zM1037 245h3v1h-3zM1043 245h3v1h-3zM1049 245h3v1h-3zM1055 245h3v1h-3zM1061 245h3v1h-3zM1067 245h3v1h-3zM1073 245h3v1h-3zM1079 245h3v1h-3zM1085 245h3v1h-3zM1091 245h3v1h-3zM1097 245h3v1h-3zM1103 245h3v1h-3zM1109 245h3v1h-3zM1115 245h3v1h-3zM1121 245h3v1h-3zM1127 245h3v1h-3zM1133 245h3v1h-3zM1139 245h3v1h-3zM1145 245h3v1h-3zM1151 245h3v1h-3zM1157 245h3v1h-3zM1163 245h3v1h-3zM1169 245h3v1h-3zM1175 245h3v1h-3zM1181 245h3v1h-3zM1187 245h3v1h-3zM1193 245h3v1h-3zM1199 245h3v1h-3zM1205 245h3v1h-3zM1211 245h3v1h-3zM1217 245h3v1h-3zM1223 245h3v1h-3zM1229 245h3v1h-3zM1235 245h3v1h-3zM1241 245h3v1h-3zM1247 245h3v1h-3zM1253 245h3v1h-3zM1259 245h3v1h-3zM1265 245h3v1h-3zM1271 245h3v1h-3zM1277 245h3v1h-3zM1283 245h3v1h-3zM1289 245h3v1h-3zM1295 245h3v1h-3zM1301 245h3v1h-3zM1307 245h3v1h-3zM1313 245h3v1h-3zM1319 245h3v1h-3zM1325 245h3v1h-3zM1331 245h3v1h-3zM1337 245h3v1h-3zM1343 245h3v1h-3zM1349 245h3v1h-3zM1355 245h3v1h-3zM1361 245h3v1h-3zM1367 245h3v1h-3zM1373 245h3v1h-3zM1379 245h3v1h-3zM1385 245h3v1h-3zM1391 245h3v1h-3zM1397 245h3v1h-3zM1403 245h3v1h-3zM1409 245h3v1h-3zM1415 245h3v1h-3zM1421 245h3v1h-3zM1427 245h3v1h-3zM1433 245h3v1h-3zM1439 245h3v1h-3zM1445 245h3v1h-3zM1451 245h3v1h-3zM1457 245h3v1h-3zM1463 245h3v1h-3zM1469 245h3v1h-3zM1475 245h3v1h-3zM1481 245h3v1h-3zM1487 245h3v1h-3zM1493 245h3v1h-3zM1499 245h3v1h-3zM1505 245h3v1h-3zM1511 245h3v1h-3zM1517 245h3v1h-3zM1523 245h3v1h-3zM1529 245h3v1h-3zM1535 245h3v1h-3zM1541 245h3v1h-3zM1547 245h3v1h-3zM1553 245h3v1h-3zM1559 245h3v1h-3zM1565 245h3v1h-3zM1571 245h3v1h-3zM1577 245h3v1h-3zM1583 245h3v1h-3zM1589 245h3v1h-3zM1595 245h3v1h-3zM1601 245h3v1h-3zM1607 245h3v1h-3zM1613 245h3v1h-3zM1619 245h3v1h-3zM1625 245h3v1h-3zM1631 245h3v1h-3zM1637 245h3v1h-3zM1643 245h3v1h-3zM1649 245h3v1h-3zM1655 245h3v1h-3zM1661 245h3v1h-3zM1667 245h3v1h-3zM1673 245h3v1h-3zM1679 245h3v1h-3zM1685 245h3v1h-3zM1691 245h3v1h-3zM1697 245h3v1h-3zM1703 245h3v1h-3zM1709 245h3v1h-3zM1715 245h3v1h-3zM1721 245h3v1h-3zM1727 245h3v1h-3zM1733 245h3v1h-3zM1739 245h3v1h-3zM1745 245h3v1h-3zM1751 245h3v1h-3zM1757 245h3v1h-3zM1763 245h3v1h-3zM1769 245h3v1h-3zM1775 245h3v1h-3zM1781 245h3v1h-3zM1787 245h3v1h-3zM1793 245h3v1h-3zM1799 245h3v1h-3zM1805 245h3v1h-3zM1811 245h3v1h-3zM1817 245h3v1h-3zM1823 245h3v1h-3zM1829 245h3v1h-3zM1835 245h3v1h-3zM1841 245h3v1h-3zM1847 245h2v1h-2z" fill="#ff8080"/>
<path d="M1078 519h3v1h-3zM1084 519h3v1h-3zM1090 519h3v1h-3zM1096 519h3v1h-3zM1102 519h3v1h-3zM1108 519h3v1h-3zM1114 519h3v1h-3zM1120 519h3v1h-3zM1126 519h3v1h-3zM1132 519h3v1h-3zM1138 519h3v1h-3zM1144 519h3v1h-3zM1150 519h3v1h-3zM1156 519h3v1h-3zM1162 519h3v1h-3zM1168 519h3v1h-3zM1174 519h3v1h-3zM1180 519h3v1h-3zM1186 519h3v1h-3zM1192 519h3v1h-3zM1198 519h3v1h-3zM1204 519h3v1h-3zM1210 519h3v1h-3zM1216 519h3v1h-3zM1222 519h3v1h-3zM1228 519h3v1h-3zM1234 519h3v1h-3zM1240 519h3v1h-3zM1246 519h3v1h-3zM1252 519h3v1h-3zM1258 519h3v1h-3zM1264 519h3v1h-3zM1270 519h3v1h-3zM1276 519h3v1h-3zM1282 519h3v1h-3zM1288 519h3v1h-3zM1294 519h3v1h-3zM1300 519h3v1h-3zM1306 519h3v1h-3zM1312 519h3v1h-3zM1318 519h3v1h-3zM1324 519h3v1h-3zM1330 519h3v1h-3zM1336 519h3v1h-3zM1342 519h3v1h-3zM1348 519h3v1h-3zM1354 519h3v1h-3zM1360 519h3v1h-3zM1366 519h3v1h-3zM1372 519h3v1h-3zM1378 519h3v1h-3zM1384 519h3v1h-3zM1390 519h3v1h-3zM1396 519h3v1h-3zM1402 519h3v1h-3z" fill="#ff8080"/>
<path d="M1300 594h3v1h-3zM1306 594h3v1h-3zM1312 594h3v1h-3zM1318 594h3v1h-3zM1324 594h3v1h-3zM1330 594h3v1h-3zM1336 594h3v1h-3zM1342 594h2v1h-2z" fill="#ff8080"/>
<path d="M5 736h3v1h-3zM11 736h3v1h-3zM17 736h3v1h-3zM23 736h3v1h-3zM29 736h3v1h-3zM35 736h3v1h-3zM41 736h3v1h-3zM47 736h3v1h-3zM53 736h3v1h-3zM59 736h3v1h-3zM65 736h3v1h-3zM71 736h3v1h-3zM77 736h3v1h-3zM83 736h3v1h-3zM89 736h3v1h-3zM95 736h3v1h-3zM101 736h3v1h-3zM107 736h3v1h-3zM113 736h3v1h-3zM119 736h3v1h-3zM125 736h3v1h-3zM131 736h3v1h-3zM137 736h3v1h-3zM143 736h3v1h-3zM149 736h3v1h-3zM155 736h3v1h-3zM161 736h3v1h-3zM167 736h3v1h-3zM173 736h3v1h-3zM179 736h3v1h-3zM185 736h3v1h-3zM191 736h3v1h-3zM197 736h3v1h-3zM203 736h3v1h-3zM209 736h3v1h-3zM215 736h3v1h-3zM221 736h3v1h-3zM227 736h3v1h-3zM233 736h3v1h-3zM239 736h3v1h-3zM245 736h3v1h-3zM251 736h3v1h-3zM257 736h3v1h-3zM263 736h3v1h-3zM269 736h3v1h-3zM275 736h3v1h-3zM281 736h3v1h-3zM287 736h3v1h-3zM293 736h3v1h-3zM299 736h3v1h-3zM305 736h3v1h-3zM311 736h3v1h-3zM317 736h3v1h-3zM323 736h3v1h-3zM329 736h3v1h-3zM335 736h3v1h-3zM341 736h3v1h-3zM347 736h3v1h-3zM353 736h3v1h-3zM359 736h3v1h-3zM365 736h3v1h-3zM371 736h3v1h-3zM377 736h3v1h-3zM383 736h3v1h-3zM389 736h3v1h-3zM395 736h3v1h-3zM401 736h3v1h-3zM407 736h3v1h-3zM413 736h3v1h-3zM419 736h3v1h-3zM425 736h3v1h-3zM431 736h3v1h-3zM437 736h3v1h-3zM443 736h3v1h-3zM449 736h3v1h-3zM455 736h3v1h-3zM461 736h3v1h-3zM467 736h3v1h-3zM473 736h3v1h-3zM479 736h3v1h-3zM485 736h3v1h-3zM491 736h3v1h-3zM497 736h3v1h-3zM503 736h3v1h-3zM509 736h3v1h-3zM515 736h3v1h-3zM521 736h3v1h-3zM527 736h3v1h-3zM533 736h3v1h-3zM539 736h3v1h-3zM545 736h3v1h-3zM551 736h3v1h-3zM557 736h3v1h-3zM563 736h3v1h-3zM569 736h3v1h-3zM575 736h3v1h-3zM581 736h3v1h-3zM587 736h3v1h-3zM593 736h3v1h-3zM599 736h3v1h-3zM605 736h3v1h-3zM611 736h3v1h-3zM617 736h3v1h-3zM623 736h3v1h-3zM629 736h3v1h-3zM635 736h3v1h-3zM641 736h3v1h-3zM647 736h3v1h-3zM653 736h3v1h-3zM659 736h3v1h-3zM665 736h3v1h-3zM671 736h3v1h-3zM677 736h3v1h-3zM683 736h3v1h-3zM689 736h3v1h-3zM695 736h3v1h-3zM701 736h3v1h-3zM707 736h3v1h-3zM713 736h3v1h-3zM719 736h3v1h-3zM725 736h3v1h-3zM731 736h3v1h-3zM737 736h3v1h-3zM743 736h3v1h-3zM749 736h3v1h-3zM755 736h3v1h-3zM761 736h3v1h-3zM767 736h3v1h-3zM773 736h3v1h-3zM779 736h3v1h-3zM785 736h3v1h-3zM791 736h3v1h-3zM797 736h3v1h-3zM803 736h3v1h-3zM809 736h3v1h-3zM815 736h3v1h-3zM821 736h3v1h-3zM827 736h3v1h-3zM833 736h3v1h-3zM839 736h3v1h-3zM845 736h3v1h-3zM851 736h3v1h-3zM857 736h3v1h-3zM863 736h3v1h-3zM869 736h3v1h-3zM875 736h3v1h-3zM881 736h3v1h-3zM887 736h3v1h-3zM893 736h3v1h-3zM899 736h3v1h-3zM905 736h3v1h-3zM911 736h3v1h-3zM917 736h3v1h-3zM923 736h3v1h-3zM929 736h3v1h-3zM935 736h3v1h-3zM941 736h3v1h-3zM947 736h3v1h-3zM953 736h3v1h-3zM959 736h3v1h-3zM965 736h3v1h-3zM971 736h3v1h-3zM977 736h3v1h-3zM983 736h3v1h-3zM989 736h3v1h-3zM995 736h3v1h-3zM1001 736h3v1h-3zM1007 736h3v1h-3zM1013 736h3v1h-3zM1019 736h3v1h-3zM1025 736h3v1h-3zM1031 736h3v1h-3zM1037 736h3v1h-3zM1043 736h3v1h-3zM1049 736h3v1h-3zM1055 736h3v1h-3zM1061 736h3v1h-3zM1067 736h3v1h-3zM1073 736h3v1h-3zM1079 736h3v1h-3zM1085 736h3v1h-3zM1091 736h3v1h-3zM1097 736h3v1h-3zM1103 736h3v1h-3zM1109 736h3v1h-3zM1115 736h3v1h-3zM1121 736h3v1h-3zM1127 736h3v1h-3zM1133 736h3v1h-3zM1139 736h3v1h-3zM1145 736h3v1h-3zM1151 736h3v1h-3zM1157 736h3v1h-3zM1163 736h3v1h-3zM1169 736h3v1h-3zM1175 736h3v1h-3zM1181 736h3v1h-3zM1187 736h3v1h-3zM1193 736h3v1h-3zM1199 736h3v1h-3zM1205 736h3v1h-3zM1211 736h3v1h-3zM1217 736h3v1h-3zM1223 736h3v1h-3zM1229 736h3v1h-3zM1235 736h3v1h-3zM1241 736h3v1h-3zM1247 736h3v1h-3zM1253 736h3v1h-3zM1259 736h3v1h-3zM1265 736h3v1h-3zM1271 736h3v1h-3zM1277 736h3v1h-3zM1283 736h3v1h-3zM1289 736h3v1h-3zM1295 736h3v1h-3zM1301 736h3v1h-3zM1307 736h3v1h-3zM1313 736h3v1h-3zM1319 736h3v1h-3zM1325 736h3v1h-3zM1331 736h3v1h-3zM1337 736h3v1h-3zM1343 736h3v1h-3zM1349 736h3v1h-3zM1355 736h3v1h-3zM1361 736h3v1h-3zM1367 736h3v1h-3zM1373 736h3v1h-3zM1379 736h3v1h-3zM1385 736h3v1h-3zM1391 736h3v1h-3zM1397 736h3v1h-3zM1403 736h3v1h-3zM1409 736h3v1h-3zM1415 736h3v1h-3zM1421 736h3v1h-3zM1427 736h3v1h-3zM1433 736h3v1h-3zM1439 736h3v1h-3zM1445 736h3v1h-3zM1451 736h3v1h-3zM1457 736h3v1h-3zM1463 736h3v1h-3zM1469 736h3v1h-3zM1475 736h3v1h-3zM1481 736h3v1h-3zM1487 736h3v1h-3zM1493 736h3v1h-3zM1499 736h3v1h-3zM1505 736h3v1h-3zM1511 736h3v1h-3zM1517 736h3v1h-3zM1523 736h3v1h-3zM1529 736h3v1h-3zM1535 736h3v1h-3zM1541 736h3v1h-3zM1547 736h3v1h-3zM1553 736h3v1h-3zM1559 736h3v1h-3zM1565 736h3v1h-3zM1571 736h3v1h-3zM1577 736h3v1h-3zM1583 736h3v1h-3zM1589 736h3v1h-3zM1595 736h3v1h-3zM1601 736h3v1h-3zM1607 736h3v1h-3zM1613 736h3v1h-3zM1619 736h3v1h-3zM1625 736h3v1h-3zM1631 736h3v1h-3zM1637 736h3v1h-3zM1643 736h3v1h-3zM1649 736h3v1h-3zM1655 736h3v1h-3zM1661 736h3v1h-3zM1667 736h3v1h-3zM1673 736h3v1h-3zM1679 736h3v1h-3zM1685 736h3v1h-3zM1691 736h3v1h-3zM1697 736h3v1h-3zM1703 736h3v1h-3zM1709 736h3v1h-3zM1715 736h3v1h-3zM1721 736h3v1h-3zM1727 736h3v1h-3zM1733 736h3v1h-3zM1739 736h3v1h-3zM1745 736h3v1h-3zM1751 736h3v1h-3zM1757 736h3v1h-3zM1763 736h3v1h-3zM1769 736h3v1h-3zM1775 736h3v1h-3zM1781 736h3v1h-3zM1787 736h3v1h-3zM1793 736h3v1h-3zM1799 736h3v1h-3zM1805 736h3v1h-3zM1811 736h3v1h-3zM1817 736h3v1h-3zM1823 736h3v1h-3zM1829 736h3v1h-3zM1835 736h3v1h-3zM1841 736h3v1h-3zM1847 736h2v1h-2z" fill="#00ff00"/>
<path d="M284 868h5v1h-5zM286 866h1v2h-1zM289 868h5v8h-5zM304 868h5v4h-5zM306 866h1v2h-1zM306 872h1v1h-1zM314 853h5v5h-5zM316 845h1v8h-1zM319 852h5v2h-5zM321 851h1v1h-1zM324 853h5v8h-5zM326 852h1v1h-1zM326 861h1v3h-1zM329 860h5v5h-5zM331 858h1v2h-1zM331 865h1v1h-1zM349 849h5v6h-5zM351 846h1v3h-1zM351 855h1v2h-1zM354 854h5v3h-5zM356 853h1v1h-1zM379 828h5v4h-5zM381 827h1v1h-1zM381 832h1v3h-1zM399 796h5v7h-5zM401 791h1v5h-1zM401 803h1v11h-1zM409 795h5v1h-5zM411 789h1v6h-1zM411 796h1v4h-1zM414 795h5v12h-5zM416 794h1v1h-1zM419 802h5v5h-5zM421 801h1v1h-1zM421 807h1v1h-1zM429 803h5v1h-5zM431 798h1v5h-1zM431 804h1v2h-1zM454 784h5v2h-5zM456 783h1v1h-1zM456 786h1v2h-1zM469 784h5v4h-5zM471 783h1v1h-1zM471 788h1v10h-1zM474 787h5v5h-5zM476 786h1v1h-1zM476 792h1v6h-1zM489 784h5v14h-5zM491 782h1v2h-1zM491 798h1v3h-1zM494 797h5v3h-5zM496 793h1v4h-1zM496 800h1v2h-1zM504 799h5v13h-5zM506 812h1v5h-1zM509 811h5v22h-5zM511 808h1v3h-1zM511 833h1v2h-1zM524 804h5v7h-5zM526 802h1v2h-1zM526 811h1v1h-1zM534 809h5v12h-5zM536 821h1v1h-1zM539 820h5v2h-5zM541 815h1v5h-1zM541 822h1v3h-1zM549 808h5v3h-5zM551 811h1v1h-1zM564 800h5v1h-5zM566 799h1v1h-1zM566 801h1v5h-1zM574 793h5v4h-5zM576 791h1v2h-1zM576 797h1v2h-1zM579 796h5v4h-5zM581 794h1v2h-1zM604 777h5v1h-5zM606 775h1v2h-1zM606 778h1v3h-1zM624 744h5v5h-5zM626 741h1v3h-1zM626 749h1v1h-1zM629 748h5v4h-5zM631 747h1v1h-1zM631 752h1v14h-1zM644 736h5v2h-5zM646 731h1v5h-1zM646 738h1v8h-1zM649 737h5v16h-5zM651 735h1v2h-1zM664 737h5v6h-5zM666 733h1v4h-1zM669 727h5v3h-5zM671 725h1v2h-1zM671 730h1v3h-1zM695 682h5v15h-5zM697 680h1v2h-1zM697 697h1v2h-1zM710 681h5v12h-5zM712 678h1v3h-1zM712 693h1v1h-1zM715 691h5v21h-5zM717 683h1v8h-1zM717 712h1v6h-1zM740 667h5v5h-5zM742 659h1v8h-1zM742 672h1v5h-1zM750 649h5v11h-5zM752 645h1v4h-1zM752 660h1v6h-1zM760 649h5v5h-5zM762 648h1v1h-1zM762 654h1v1h-1zM785 583h5v10h-5zM787 554h1v29h-1zM787 593h1v24h-1zM815 369h5v13h-5zM817 329h1v40h-1zM817 382h1v47h-1zM830 322h5v30h-5zM832 321h1v1h-1zM832 352h1v17h-1zM845 245h5v23h-5zM847 244h1v1h-1zM847 268h1v11h-1zM850 264h5v58h-5zM852 256h1v8h-1zM852 322h1v10h-1zM855 338h5v28h-5zM857 303h1v35h-1zM857 366h1v15h-1zM860 345h5v51h-5zM862 330h1v15h-1zM862 396h1v27h-1zM865 427h5v3h-5zM867 412h1v15h-1zM867 430h1v109h-1zM875 371h5v15h-5zM877 343h1v28h-1zM877 386h1v28h-1zM880 401h5v28h-5zM882 429h1v18h-1zM885 402h5v24h-5zM887 395h1v7h-1zM887 426h1v2h-1zM890 449h5v2h-5zM892 446h1v3h-1zM905 388h5v7h-5zM907 395h1v28h-1zM915 375h5v37h-5zM917 373h1v2h-1zM917 412h1v37h-1zM920 390h5v31h-5zM922 384h1v6h-1zM922 421h1v4h-1zM925 419h5v3h-5zM927 411h1v8h-1zM927 422h1v34h-1zM930 422h5v37h-5zM932 459h1v19h-1zM945 444h5v97h-5zM947 541h1v45h-1zM950 539h5v4h-5zM952 498h1v41h-1zM952 543h1v77h-1zM965 540h5v22h-5zM967 517h1v23h-1zM967 562h1v23h-1zM985 542h5v12h-5zM987 527h1v15h-1zM987 554h1v19h-1zM990 530h5v18h-5zM992 527h1v3h-1zM992 548h1v6h-1zM995 546h5v36h-5zM997 542h1v4h-1zM997 582h1v13h-1zM1000 581h5v4h-5zM1002 574h1v7h-1zM1002 585h1v15h-1zM1005 584h5v42h-5zM1007 579h1v5h-1zM1007 626h1v14h-1zM1010 625h5v15h-5zM1012 617h1v8h-1zM1012 640h1v34h-1zM1015 645h5v61h-5zM1017 706h1v7h-1zM1045 626h5v13h-5zM1047 623h1v3h-1zM1047 639h1v5h-1zM1060 582h5v1h-5zM1062 574h1v8h-1zM1062 583h1v13h-1zM1075 532h5v37h-5zM1077 569h1v7h-1zM1080 567h5v21h-5zM1082 549h1v18h-1zM1082 588h1v8h-1zM1100 556h5v11h-5zM1102 545h1v11h-1zM1120 525h5v30h-5zM1122 555h1v5h-1zM1125 554h5v29h-5zM1127 551h1v3h-1zM1127 583h1v14h-1zM1130 583h5v26h-5zM1132 579h1v4h-1zM1132 609h1v1h-1zM1135 608h5v5h-5zM1137 605h1v3h-1zM1137 613h1v27h-1zM1140 599h5v18h-5zM1142 587h1v12h-1zM1142 617h1v7h-1zM1150 615h5v35h-5zM1152 609h1v6h-1zM1152 650h1v6h-1zM1176 623h5v3h-5zM1178 616h1v7h-1zM1178 626h1v2h-1zM1181 625h5v8h-5zM1183 618h1v7h-1zM1183 633h1v5h-1zM1186 633h5v1h-5zM1188 630h1v3h-1zM1188 634h1v12h-1zM1191 635h5v27h-5zM1201 657h5v7h-5zM1203 653h1v4h-1zM1203 664h1v2h-1zM1206 662h5v32h-5zM1208 658h1v4h-1zM1211 692h5v7h-5zM1213 684h1v8h-1zM1213 699h1v9h-1zM1226 678h5v25h-5zM1231 701h5v5h-5zM1233 697h1v4h-1zM1233 706h1v3h-1zM1236 706h5v4h-5zM1241 696h5v10h-5zM1243 689h1v7h-1zM1243 706h1v2h-1zM1266 649h5v10h-5zM1268 644h1v5h-1zM1268 659h1v4h-1zM1271 658h5v3h-5zM1273 648h1v10h-1zM1273 661h1v2h-1zM1301 605h5v12h-5zM1303 595h1v10h-1zM1303 617h1v11h-1zM1306 616h5v3h-5zM1308 615h1v1h-1zM1308 619h1v13h-1zM1311 618h5v4h-5zM1313 608h1v10h-1zM1316 609h5v5h-5zM1318 604h1v5h-1zM1318 614h1v3h-1zM1321 613h5v7h-5zM1323 611h1v2h-1zM1323 620h1v7h-1zM1341 601h5v7h-5zM1343 597h1v4h-1zM1343 608h1v6h-1zM1346 607h5v7h-5zM1348 604h1v3h-1zM1348 614h1v3h-1zM1356 612h5v6h-5zM1358 607h1v5h-1zM1361 617h5v28h-5zM1366 632h5v13h-5zM1368 631h1v1h-1z" fill="#ff0000"/>
<path d="M3 910h5v1h-5zM8 909h5v1h-5zM13 909h5v1h-5zM18 909h5v1h-5zM23 908h5v1h-5zM28 907h5v1h-5zM33 906h5v1h-5zM38 904h5v1h-5zM43 901h5v1h-5zM48 900h5v1h-5zM53 897h5v1h-5zM58 897h5v1h-5zM63 895h5v1h-5zM68 891h5v1h-5zM73 890h5v1h-5zM78 888h5v1h-5zM83 890h5v1h-5zM88 890h5v1h-5zM93 886h5v1h-5zM98 883h5v1h-5zM103 875h5v1h-5zM108 882h5v1h-5zM113 859h5v1h-5zM118 859h5v1h-5zM123 872h5v1h-5zM128 871h5v1h-5zM133 871h5v1h-5zM138 866h5v1h-5zM143 861h5v1h-5zM148 861h5v1h-5zM153 858h5v1h-5zM158 850h5v1h-5zM163 853h5v1h-5zM168 853h5v1h-5zM173 847h5v1h-5zM178 851h5v1h-5zM183 854h5v1h-5zM188 856h5v1h-5zM193 856h5v1h-5zM198 859h5v1h-5zM203 860h5v1h-5zM208 856h5v1h-5zM213 855h5v1h-5zM218 861h5v1h-5zM223 861h5v1h-5zM228 864h5v1h-5zM234 866h5v1h-5zM239 858h5v1h-5zM244 862h5v1h-5zM249 861h5v1h-5zM254 858h5v1h-5zM259 859h5v1h-5zM264 858h5v1h-5zM269 860h5v1h-5zM274 864h5v1h-5zM279 868h5v1h-5zM294 875h5v11h-5zM299 868h5v8h-5zM301 866h1v2h-1zM309 853h5v19h-5zM311 852h1v1h-1zM334 857h5v8h-5zM336 856h1v1h-1zM339 853h5v5h-5zM341 850h1v3h-1zM344 849h5v6h-5zM346 847h1v2h-1zM359 852h5v5h-5zM361 851h1v1h-1zM364 850h5v3h-5zM366 848h1v2h-1zM369 830h5v5h-5zM371 828h1v2h-1zM371 835h1v2h-1zM374 827h5v4h-5zM376 826h1v1h-1zM384 828h5v4h-5zM386 827h1v1h-1zM389 822h5v7h-5zM394 796h5v8h-5zM396 795h1v1h-1zM396 804h1v3h-1zM404 795h5v8h-5zM406 793h1v2h-1zM406 803h1v6h-1zM424 803h5v4h-5zM426 801h1v2h-1zM426 807h1v15h-1zM434 798h5v6h-5zM439 795h5v4h-5zM441 790h1v5h-1zM444 793h5v1h-5zM446 794h1v5h-1zM449 784h5v10h-5zM451 783h1v1h-1zM459 779h5v7h-5zM461 778h1v1h-1zM464 774h5v6h-5zM466 773h1v1h-1zM466 780h1v1h-1zM479 785h5v6h-5zM481 781h1v4h-1zM484 785h5v1h-5zM486 782h1v3h-1zM486 786h1v3h-1zM499 799h5v1h-5zM501 793h1v6h-1zM501 800h1v4h-1zM514 817h5v16h-5zM516 811h1v6h-1zM516 833h1v12h-1zM519 804h5v13h-5zM521 802h1v2h-1zM529 810h5v1h-5zM531 805h1v5h-1zM531 811h1v1h-1zM544 808h5v12h-5zM554 800h5v11h-5zM559 800h5v1h-5zM561 797h1v3h-1zM561 801h1v2h-1zM569 794h5v1h-5zM571 789h1v5h-1zM584 794h5v6h-5zM586 793h1v1h-1zM586 800h1v1h-1zM589 794h5v1h-5zM591 792h1v2h-1zM591 795h1v1h-1zM594 777h5v10h-5zM596 774h1v3h-1zM599 777h5v1h-5zM601 772h1v5h-1zM601 778h1v1h-1zM609 759h5v19h-5zM611 755h1v4h-1zM614 747h5v13h-5zM616 738h1v9h-1zM619 744h5v6h-5zM621 742h1v2h-1zM634 743h5v9h-5zM636 742h1v1h-1zM639 734h5v10h-5zM641 730h1v4h-1zM641 744h1v2h-1zM654 745h5v8h-5zM656 743h1v2h-1zM656 753h1v4h-1zM659 737h5v9h-5zM661 733h1v4h-1zM674 718h5v12h-5zM676 717h1v1h-1zM679 708h5v11h-5zM684 695h5v14h-5zM686 679h1v16h-1zM689 687h5v9h-5zM691 679h1v8h-1zM691 696h1v3h-1zM700 693h5v3h-5zM702 687h1v6h-1zM702 696h1v3h-1zM705 681h5v13h-5zM707 663h1v18h-1zM707 694h1v2h-1zM720 715h5v30h-5zM722 702h1v13h-1zM722 745h1v2h-1zM725 712h5v4h-5zM727 705h1v7h-1zM730 686h5v26h-5zM732 683h1v3h-1zM735 667h5v20h-5zM737 660h1v7h-1zM737 687h1v4h-1zM745 649h5v11h-5zM747 648h1v1h-1zM747 660h1v1h-1zM755 649h5v11h-5zM757 648h1v1h-1zM765 649h5v5h-5zM767 647h1v2h-1zM767 654h1v8h-1zM770 597h5v12h-5zM772 593h1v4h-1zM775 587h5v11h-5zM777 586h1v1h-1zM780 584h5v4h-5zM782 530h1v54h-1zM782 588h1v43h-1zM790 552h5v41h-5zM792 551h1v1h-1zM792 593h1v11h-1zM795 529h5v12h-5zM797 526h1v3h-1zM797 541h1v9h-1zM800 519h5v11h-5zM802 516h1v3h-1zM805 425h5v95h-5zM807 520h1v2h-1zM810 369h5v57h-5zM812 318h1v51h-1zM812 426h1v30h-1zM820 330h5v95h-5zM822 311h1v19h-1zM825 321h5v10h-5zM827 315h1v6h-1zM827 331h1v22h-1zM835 350h5v16h-5zM837 340h1v10h-1zM840 304h5v13h-5zM842 292h1v12h-1zM842 317h1v9h-1zM870 356h5v30h-5zM872 386h1v16h-1zM895 401h5v50h-5zM897 390h1v11h-1zM897 451h1v20h-1zM900 396h5v4h-5zM902 379h1v17h-1zM902 400h1v11h-1zM910 329h5v65h-5zM912 327h1v2h-1zM912 394h1v8h-1zM935 447h5v13h-5zM937 435h1v12h-1zM937 460h1v1h-1zM940 445h5v8h-5zM942 428h1v17h-1zM942 453h1v6h-1zM955 536h5v6h-5zM957 507h1v29h-1zM957 542h1v19h-1zM960 536h5v1h-5zM962 512h1v24h-1zM962 537h1v9h-1zM970 547h5v15h-5zM972 535h1v12h-1zM972 562h1v25h-1zM975 545h5v3h-5zM977 532h1v13h-1zM977 548h1v20h-1zM980 542h5v3h-5zM982 523h1v19h-1zM982 545h1v9h-1zM1020 673h5v33h-5zM1022 661h1v12h-1zM1022 706h1v32h-1zM1025 665h5v10h-5zM1027 637h1v28h-1zM1027 675h1v17h-1zM1030 650h5v16h-5zM1032 636h1v14h-1zM1032 666h1v11h-1zM1035 639h5v12h-5zM1037 632h1v7h-1zM1037 651h1v17h-1zM1040 626h5v23h-5zM1042 649h1v11h-1zM1050 605h5v34h-5zM1052 639h1v2h-1zM1055 582h5v25h-5zM1057 576h1v6h-1zM1057 607h1v2h-1zM1065 545h5v19h-5zM1067 538h1v7h-1zM1067 564h1v8h-1zM1070 531h5v15h-5zM1072 519h1v12h-1zM1085 578h5v5h-5zM1087 567h1v11h-1zM1087 583h1v12h-1zM1090 568h5v27h-5zM1092 595h1v9h-1zM1095 557h5v13h-5zM1097 553h1v4h-1zM1097 570h1v6h-1zM1105 551h5v15h-5zM1107 546h1v5h-1zM1107 566h1v7h-1zM1110 545h5v5h-5zM1112 541h1v4h-1zM1112 550h1v4h-1zM1115 526h5v8h-5zM1117 522h1v4h-1zM1145 616h5v1h-5zM1147 605h1v11h-1zM1147 617h1v7h-1zM1156 646h5v4h-5zM1158 643h1v3h-1zM1158 650h1v17h-1zM1161 640h5v7h-5zM1163 637h1v3h-1zM1163 647h1v13h-1zM1166 638h5v16h-5zM1168 634h1v4h-1zM1171 623h5v17h-5zM1173 620h1v3h-1zM1173 640h1v5h-1zM1196 657h5v8h-5zM1198 653h1v4h-1zM1216 695h5v7h-5zM1218 691h1v4h-1zM1218 702h1v1h-1zM1221 679h5v17h-5zM1223 676h1v3h-1zM1246 701h5v5h-5zM1251 699h5v2h-5zM1256 666h5v34h-5zM1258 665h1v1h-1zM1258 700h1v3h-1zM1261 664h5v3h-5zM1263 652h1v12h-1zM1263 667h1v1h-1zM1276 653h5v10h-5zM1281 650h5v3h-5zM1283 653h1v1h-1zM1286 639h5v11h-5zM1291 625h5v1h-5zM1293 626h1v4h-1zM1296 605h5v21h-5zM1298 604h1v1h-1zM1326 613h5v6h-5zM1328 619h1v3h-1zM1331 598h5v17h-5zM1333 595h1v3h-1zM1336 596h5v3h-5zM1338 593h1v3h-1zM1338 599h1v1h-1zM1351 613h5v1h-5zM1353 609h1v4h-1zM1353 614h1v7h-1z" fill="#000000"/>
<path d="M295 876h3v9h-3zM300 869h3v6h-3zM310 854h3v17h-3zM335 858h3v6h-3zM340 854h3v3h-3zM345 850h3v4h-3zM360 853h3v3h-3zM365 851h3v1h-3zM370 831h3v3h-3zM375 828h3v2h-3zM385 829h3v2h-3zM390 823h3v5h-3zM395 797h3v6h-3zM405 796h3v6h-3zM425 804h3v2h-3zM435 799h3v4h-3zM440 796h3v2h-3zM450 785h3v8h-3zM460 780h3v5h-3zM465 775h3v4h-3zM480 786h3v4h-3zM515 818h3v14h-3zM520 805h3v11h-3zM545 809h3v10h-3zM555 801h3v9h-3zM585 795h3v4h-3zM595 778h3v8h-3zM610 760h3v17h-3zM615 748h3v11h-3zM620 745h3v4h-3zM635 744h3v7h-3zM640 735h3v8h-3zM655 746h3v6h-3zM660 738h3v7h-3zM675 719h3v10h-3zM680 709h3v9h-3zM685 696h3v12h-3zM690 688h3v7h-3zM701 694h3v1h-3zM706 682h3v11h-3zM721 716h3v28h-3zM726 713h3v2h-3zM731 687h3v24h-3zM736 668h3v18h-3zM746 650h3v9h-3zM756 650h3v9h-3zM766 650h3v3h-3zM771 598h3v10h-3zM776 588h3v9h-3zM781 585h3v2h-3zM791 553h3v39h-3zM796 530h3v10h-3zM801 520h3v9h-3zM806 426h3v93h-3zM811 370h3v55h-3zM821 331h3v93h-3zM826 322h3v8h-3zM836 351h3v14h-3zM841 305h3v11h-3zM871 357h3v28h-3zM896 402h3v48h-3zM901 397h3v2h-3zM911 330h3v63h-3zM936 448h3v11h-3zM941 446h3v6h-3zM956 537h3v4h-3zM971 548h3v13h-3zM976 546h3v1h-3zM981 543h3v1h-3zM1021 674h3v31h-3zM1026 666h3v8h-3zM1031 651h3v14h-3zM1036 640h3v10h-3zM1041 627h3v21h-3zM1051 606h3v32h-3zM1056 583h3v23h-3zM1066 546h3v17h-3zM1071 532h3v13h-3zM1086 579h3v3h-3zM1091 569h3v25h-3zM1096 558h3v11h-3zM1106 552h3v13h-3zM1111 546h3v3h-3zM1116 527h3v6h-3zM1157 647h3v2h-3zM1162 641h3v5h-3zM1167 639h3v14h-3zM1172 624h3v15h-3zM1197 658h3v6h-3zM1217 696h3v5h-3zM1222 680h3v15h-3zM1247 702h3v3h-3zM1257 667h3v32h-3zM1262 665h3v1h-3zM1277 654h3v8h-3zM1282 651h3v1h-3zM1287 640h3v9h-3zM1297 606h3v19h-3zM1327 614h3v4h-3zM1332 599h3v15h-3zM1337 597h3v1h-3z" fill="#ffffff"/>
<path d="M297 884h1v1h-1zM298 883h1v1h-1zM299 882h1v1h-1zM300 880h1v2h-1zM301 879h1v1h-1zM302 878h1v1h-1zM303 877h1v1h-1zM304 876h1v1h-1zM305 875h1v1h-1zM306 873h1v2h-1zM307 872h1v1h-1zM308 871h1v1h-1zM309 870h1v1h-1zM315 863h1v1h-1zM316 862h1v1h-1zM317 861h1v1h-1zM318 859h1v2h-1zM319 858h1v1h-1zM320 857h1v1h-1zM321 856h1v1h-1zM322 855h1v1h-1zM323 854h1v1h-1zM324 852h1v2h-1zM325 851h1v1h-1zM326 850h1v1h-1zM327 849h1v1h-1zM328 848h1v1h-1zM329 847h1v1h-1zM330 846h1v1h-1zM336 838h1v2h-1zM337 837h1v1h-1zM338 836h1v1h-1zM339 835h1v1h-1zM340 834h1v1h-1zM341 833h1v1h-1zM342 831h1v2h-1zM343 830h1v1h-1zM344 829h1v1h-1zM345 828h1v1h-1zM346 827h1v1h-1zM347 826h1v1h-1zM348 824h1v2h-1zM349 823h1v1h-1zM350 822h1v1h-1zM356 815h1v1h-1zM357 814h1v1h-1zM358 813h1v1h-1zM359 812h1v1h-1zM360 810h1v2h-1zM361 809h1v1h-1zM362 808h1v1h-1zM363 807h1v1h-1zM364 806h1v1h-1zM365 805h1v1h-1zM366 803h1v2h-1zM367 802h1v1h-1zM368 801h1v1h-1zM369 800h1v1h-1zM370 799h1v1h-1zM371 798h1v1h-1zM377 791h1v1h-1zM378 789h1v2h-1zM379 788h1v1h-1zM380 787h1v1h-1zM381 786h1v1h-1zM382 785h1v1h-1zM383 784h1v1h-1zM384 782h1v2h-1zM385 781h1v1h-1zM386 780h1v1h-1zM387 779h1v1h-1zM388 778h1v1h-1zM389 777h1v1h-1zM390 776h1v1h-1zM391 774h1v2h-1zM397 767h1v1h-1zM398 766h1v1h-1zM399 765h1v1h-1zM400 764h1v1h-1zM401 763h1v1h-1zM402 762h1v1h-1zM403 760h1v2h-1zM404 759h1v1h-1zM405 758h1v1h-1zM406 757h1v1h-1zM407 756h1v1h-1zM408 755h1v1h-1zM409 753h1v2h-1zM410 752h1v1h-1zM411 751h1v1h-1zM412 750h1v1h-1zM418 743h1v1h-1zM419 742h1v1h-1zM420 741h1v1h-1zM421 739h1v2h-1zM422 738h1v1h-1zM423 737h1v1h-1zM424 736h1v1h-1zM425 735h1v1h-1zM426 734h1v1h-1zM427 732h1v2h-1zM428 731h1v1h-1zM429 730h1v1h-1zM430 729h1v1h-1zM431 728h1v1h-1zM432 727h1v1h-1zM433 726h1v1h-1zM439 718h1v2h-1zM440 717h1v1h-1zM441 716h1v1h-1zM442 715h1v1h-1zM443 714h1v1h-1zM444 713h1v1h-1zM445 711h1v2h-1zM446 710h1v1h-1zM447 709h1v1h-1zM448 708h1v1h-1zM449 707h1v1h-1zM450 706h1v1h-1zM451 704h1v2h-1zM452 703h1v1h-1zM453 702h1v1h-1zM459 695h1v1h-1zM460 694h1v1h-1zM461 693h1v1h-1zM462 692h1v1h-1zM463 690h1v2h-1zM464 689h1v1h-1zM465 688h1v1h-1zM466 687h1v1h-1zM467 686h1v1h-1zM468 685h1v1h-1zM469 683h1v2h-1zM470 682h1v1h-1zM471 681h1v1h-1zM472 680h1v1h-1zM473 679h1v1h-1zM474 678h1v1h-1zM480 671h1v1h-1zM481 669h1v2h-1zM482 668h1v1h-1zM483 667h1v1h-1zM484 666h1v1h-1zM485 665h1v1h-1zM486 664h1v1h-1zM487 662h1v2h-1zM488 661h1v1h-1zM489 660h1v1h-1zM490 659h1v1h-1zM491 658h1v1h-1zM492 657h1v1h-1zM493 655h1v2h-1zM494 654h1v1h-1zM500 647h1v1h-1zM501 646h1v1h-1zM502 645h1v1h-1zM503 644h1v1h-1zM504 643h1v1h-1zM505 641h1v2h-1zM506 640h1v1h-1zM507 639h1v1h-1zM508 638h1v1h-1zM509 637h1v1h-1zM510 636h1v1h-1zM511 634h1v2h-1zM512 633h1v1h-1zM513 632h1v1h-1zM514 631h1v1h-1zM515 630h1v1h-1zM521 623h1v1h-1zM522 622h1v1h-1zM523 620h1v2h-1zM524 619h1v1h-1zM525 618h1v1h-1zM526 617h1v1h-1zM527 616h1v1h-1zM528 615h1v1h-1zM529 613h1v2h-1zM530 612h1v1h-1zM531 611h1v1h-1zM532 610h1v1h-1zM533 609h1v1h-1zM534 608h1v1h-1zM535 606h1v2h-1zM541 599h1v1h-1zM542 598h1v1h-1zM543 597h1v1h-1zM544 596h1v1h-1zM545 595h1v1h-1zM546 594h1v1h-1zM547 592h1v2h-1zM548 591h1v1h-1zM549 590h1v1h-1zM550 589h1v1h-1zM551 588h1v1h-1zM552 587h1v1h-1zM553 585h1v2h-1zM554 584h1v1h-1zM555 583h1v1h-1zM556 582h1v1h-1zM562 575h1v1h-1zM563 574h1v1h-1zM564 573h1v1h-1zM565 571h1v2h-1zM566 570h1v1h-1zM567 569h1v1h-1zM568 568h1v1h-1zM569 567h1v1h-1zM570 566h1v1h-1zM571 565h1v1h-1zM572 563h1v2h-1zM573 562h1v1h-1zM574 561h1v1h-1zM575 560h1v1h-1zM576 559h1v1h-1zM577 558h1v1h-1zM583 551h1v1h-1zM584 549h1v2h-1zM585 548h1v1h-1zM586 547h1v1h-1zM587 546h1v1h-1zM588 545h1v1h-1zM589 544h1v1h-1zM590 542h1v2h-1zM591 541h1v1h-1zM592 540h1v1h-1zM593 539h1v1h-1zM594 538h1v1h-1zM595 537h1v1h-1zM596 535h1v2h-1zM597 534h1v1h-1zM603 527h1v1h-1zM604 526h1v1h-1zM605 525h1v1h-1zM606 524h1v1h-1zM607 523h1v1h-1zM608 521h1v2h-1zM609 520h1v1h-1zM610 519h1v1h-1zM611 518h1v1h-1zM612 517h1v1h-1zM613 516h1v1h-1zM614 514h1v2h-1zM615 513h1v1h-1zM616 512h1v1h-1zM617 511h1v1h-1zM618 510h1v1h-1zM624 503h1v1h-1zM625 502h1v1h-1zM626 500h1v2h-1zM627 499h1v1h-1zM628 498h1v1h-1zM629 497h1v1h-1zM630 496h1v1h-1zM631 495h1v1h-1zM632 493h1v2h-1zM633 492h1v1h-1zM634 491h1v1h-1zM635 490h1v1h-1zM636 489h1v1h-1zM637 488h1v1h-1zM638 486h1v2h-1zM644 479h1v1h-1zM645 478h1v1h-1zM646 477h1v1h-1zM647 476h1v1h-1zM648 475h1v1h-1zM649 474h1v1h-1zM650 472h1v2h-1zM651 471h1v1h-1zM652 470h1v1h-1zM653 469h1v1h-1zM654 468h1v1h-1zM655 467h1v1h-1zM656 465h1v2h-1zM657 464h1v1h-1zM658 463h1v1h-1zM659 462h1v1h-1zM665 455h1v1h-1zM666 454h1v1h-1zM667 453h1v1h-1zM668 451h1v2h-1zM669 450h1v1h-1zM670 449h1v1h-1zM671 448h1v1h-1zM672 447h1v1h-1zM673 446h1v1h-1zM674 444h1v2h-1zM675 443h1v1h-1zM676 442h1v1h-1zM677 441h1v1h-1zM678 440h1v1h-1zM679 439h1v1h-1zM680 438h1v1h-1zM686 430h1v2h-1zM687 429h1v1h-1zM688 428h1v1h-1zM689 427h1v1h-1zM690 426h1v1h-1zM691 425h1v1h-1zM692 423h1v2h-1zM693 422h1v1h-1zM694 421h1v1h-1zM695 420h1v1h-1zM696 419h1v1h-1zM697 418h1v1h-1zM698 416h1v2h-1zM699 415h1v1h-1zM700 414h1v1h-1zM706 407h1v1h-1zM707 406h1v1h-1zM708 405h1v1h-1zM709 404h1v1h-1zM710 402h1v2h-1zM711 401h1v1h-1zM712 400h1v1h-1zM713 399h1v1h-1zM714 398h1v1h-1zM715 397h1v1h-1zM716 395h1v2h-1zM717 394h1v1h-1zM718 393h1v1h-1zM719 392h1v1h-1zM720 391h1v1h-1zM721 390h1v1h-1zM727 383h1v1h-1zM728 381h1v2h-1zM729 380h1v1h-1zM730 379h1v1h-1zM731 378h1v1h-1zM732 377h1v1h-1zM733 376h1v1h-1zM734 374h1v2h-1zM735 373h1v1h-1zM736 372h1v1h-1zM737 371h1v1h-1zM738 370h1v1h-1zM739 369h1v1h-1zM740 367h1v2h-1zM741 366h1v1h-1zM747 359h1v1h-1zM748 358h1v1h-1zM749 357h1v1h-1zM750 356h1v1h-1zM751 355h1v1h-1zM752 353h1v2h-1zM753 352h1v1h-1zM754 351h1v1h-1zM755 350h1v1h-1zM756 349h1v1h-1zM757 348h1v1h-1zM758 347h1v1h-1zM759 345h1v2h-1zM760 344h1v1h-1zM761 343h1v1h-1zM762 342h1v1h-1zM768 335h1v1h-1zM769 334h1v1h-1zM770 333h1v1h-1zM771 331h1v2h-1zM772 330h1v1h-1zM773 329h1v1h-1zM774 328h1v1h-1zM775 327h1v1h-1zM776 326h1v1h-1zM777 324h1v2h-1zM778 323h1v1h-1zM779 322h1v1h-1zM780 321h1v1h-1zM781 320h1v1h-1zM782 319h1v1h-1zM783 318h1v1h-1zM789 310h1v2h-1zM790 309h1v1h-1zM791 308h1v1h-1zM792 307h1v1h-1zM793 306h1v1h-1zM794 305h1v1h-1zM795 303h1v2h-1zM796 302h1v1h-1zM797 301h1v1h-1zM798 300h1v1h-1zM799 299h1v1h-1zM800 298h1v1h-1zM801 296h1v2h-1zM802 295h1v1h-1zM803 294h1v1h-1zM809 287h1v1h-1zM810 286h1v1h-1zM811 285h1v1h-1zM812 284h1v1h-1zM813 282h1v2h-1zM814 281h1v1h-1zM815 280h1v1h-1zM816 279h1v1h-1zM817 278h1v1h-1zM818 277h1v1h-1zM819 275h1v2h-1zM820 274h1v1h-1zM821 273h1v1h-1zM822 272h1v1h-1zM823 271h1v1h-1zM824 270h1v1h-1zM830 263h1v1h-1zM831 261h1v2h-1zM832 260h1v1h-1zM833 259h1v1h-1zM834 258h1v1h-1zM835 257h1v1h-1zM836 256h1v1h-1zM837 254h1v2h-1zM838 253h1v1h-1zM839 252h1v1h-1zM840 251h1v1h-1zM841 250h1v1h-1zM842 249h1v1h-1zM843 247h1v2h-1zM844 246h1v1h-1z" fill="#d0d000"/>
<path d="M1250 708h1v1h-1zM1251 707h1v1h-1zM1252 706h1v1h-1zM1253 704h1v2h-1zM1254 703h1v1h-1zM1255 702h1v1h-1zM1256 701h1v1h-1zM1257 700h1v1h-1zM1258 699h1v1h-1zM1259 697h1v2h-1zM1260 696h1v1h-1zM1261 695h1v1h-1zM1262 694h1v1h-1zM1263 693h1v1h-1zM1269 686h1v1h-1zM1270 685h1v1h-1zM1271 683h1v2h-1zM1272 682h1v1h-1zM1273 681h1v1h-1zM1274 680h1v1h-1zM1275 679h1v1h-1zM1276 677h1v2h-1zM1277 676h1v1h-1zM1278 675h1v1h-1zM1279 674h1v1h-1zM1280 673h1v1h-1zM1281 672h1v1h-1zM1282 670h1v2h-1zM1283 669h1v1h-1zM1289 662h1v1h-1zM1290 661h1v1h-1zM1291 660h1v1h-1zM1292 659h1v1h-1zM1293 658h1v1h-1zM1294 656h1v2h-1zM1295 655h1v1h-1zM1296 654h1v1h-1zM1297 653h1v1h-1zM1298 652h1v1h-1zM1299 651h1v1h-1zM1300 649h1v2h-1zM1301 648h1v1h-1zM1302 647h1v1h-1zM1303 646h1v1h-1zM1304 645h1v1h-1zM1310 638h1v1h-1zM1311 637h1v1h-1zM1312 635h1v2h-1zM1313 634h1v1h-1zM1314 633h1v1h-1zM1315 632h1v1h-1zM1316 631h1v1h-1zM1317 630h1v1h-1zM1318 628h1v2h-1zM1319 627h1v1h-1zM1320 626h1v1h-1zM1321 625h1v1h-1zM1322 624h1v1h-1zM1323 623h1v1h-1zM1324 621h1v2h-1zM1330 614h1v1h-1zM1331 613h1v1h-1zM1332 612h1v1h-1zM1333 611h1v1h-1zM1334 610h1v1h-1zM1335 608h1v2h-1zM1336 607h1v1h-1zM1337 606h1v1h-1zM1338 605h1v1h-1zM1339 604h1v1h-1zM1340 603h1v1h-1zM1341 601h1v2h-1zM1342 600h1v1h-1zM1343 599h1v1h-1zM1344 598h1v1h-1zM1345 597h1v1h-1zM1351 590h1v1h-1zM1352 589h1v1h-1zM1353 587h1v2h-1zM1354 586h1v1h-1zM1355 585h1v1h-1zM1356 584h1v1h-1zM1357 583h1v1h-1zM1358 582h1v1h-1zM1359 580h1v2h-1zM1360 579h1v1h-1zM1361 578h1v1h-1zM1362 577h1v1h-1zM1363 576h1v1h-1zM1364 575h1v1h-1zM1365 573h1v2h-1zM1371 566h1v1h-1zM1372 565h1v1h-1zM1373 564h1v1h-1zM1374 563h1v1h-1zM1375 562h1v1h-1zM1376 560h1v2h-1zM1377 559h1v1h-1zM1378 558h1v1h-1zM1379 557h1v1h-1zM1380 556h1v1h-1zM1381 555h1v1h-1zM1382 553h1v2h-1zM1383 552h1v1h-1zM1384 551h1v1h-1zM1385 550h1v1h-1zM1386 549h1v1h-1zM1392 542h1v1h-1zM1393 541h1v1h-1zM1394 539h1v2h-1zM1395 538h1v1h-1zM1396 537h1v1h-1zM1397 536h1v1h-1zM1398 535h1v1h-1zM1399 534h1v1h-1zM1400 532h1v2h-1zM1401 531h1v1h-1zM1402 530h1v1h-1zM1403 529h1v1h-1zM1404 528h1v1h-1zM1405 527h1v1h-1zM1406 525h1v2h-1zM1412 518h1v1h-1zM1413 517h1v1h-1zM1414 516h1v1h-1zM1415 515h1v1h-1zM1416 514h1v1h-1zM1417 513h1v1h-1zM1418 511h1v2h-1zM1419 510h1v1h-1zM1420 509h1v1h-1zM1421 508h1v1h-1zM1422 507h1v1h-1zM1423 506h1v1h-1zM1424 504h1v2h-1zM1425 503h1v1h-1zM1426 502h1v1h-1zM1427 501h1v1h-1zM1433 494h1v1h-1zM1434 493h1v1h-1zM1435 491h1v2h-1zM1436 490h1v1h-1zM1437 489h1v1h-1zM1438 488h1v1h-1zM1439 487h1v1h-1zM1440 486h1v1h-1zM1441 484h1v2h-1zM1442 483h1v1h-1zM1443 482h1v1h-1zM1444 481h1v1h-1zM1445 480h1v1h-1zM1446 479h1v1h-1zM1447 477h1v2h-1zM1453 470h1v1h-1zM1454 469h1v1h-1zM1455 468h1v1h-1zM1456 467h1v1h-1zM1457 466h1v1h-1zM1458 465h1v1h-1zM1459 463h1v2h-1zM1460 462h1v1h-1zM1461 461h1v1h-1zM1462 460h1v1h-1zM1463 459h1v1h-1zM1464 458h1v1h-1zM1465 456h1v2h-1zM1466 455h1v1h-1zM1467 454h1v1h-1zM1468 453h1v1h-1zM1474 446h1v1h-1zM1475 445h1v1h-1zM1476 443h1v2h-1zM1477 442h1v1h-1zM1478 441h1v1h-1zM1479 440h1v1h-1zM1480 439h1v1h-1zM1481 438h1v1h-1zM1482 436h1v2h-1zM1483 435h1v1h-1zM1484 434h1v1h-1zM1485 433h1v1h-1zM1486 432h1v1h-1zM1487 431h1v1h-1zM1488 429h1v2h-1zM1494 422h1v1h-1zM1495 421h1v1h-1zM1496 420h1v1h-1zM1497 419h1v1h-1zM1498 418h1v1h-1zM1499 417h1v1h-1zM1500 415h1v2h-1zM1501 414h1v1h-1zM1502 413h1v1h-1zM1503 412h1v1h-1zM1504 411h1v1h-1zM1505 410h1v1h-1zM1506 408h1v2h-1zM1507 407h1v1h-1zM1508 406h1v1h-1zM1509 405h1v1h-1zM1515 398h1v1h-1zM1516 397h1v1h-1zM1517 396h1v1h-1zM1518 394h1v2h-1zM1519 393h1v1h-1zM1520 392h1v1h-1zM1521 391h1v1h-1zM1522 390h1v1h-1zM1523 389h1v1h-1zM1524 387h1v2h-1zM1525 386h1v1h-1zM1526 385h1v1h-1zM1527 384h1v1h-1zM1528 383h1v1h-1zM1529 381h1v2h-1zM1535 374h1v1h-1zM1536 373h1v1h-1zM1537 372h1v1h-1zM1538 371h1v1h-1zM1539 370h1v1h-1zM1540 369h1v1h-1zM1541 367h1v2h-1zM1542 366h1v1h-1zM1543 365h1v1h-1zM1544 364h1v1h-1zM1545 363h1v1h-1zM1546 362h1v1h-1zM1547 360h1v2h-1zM1548 359h1v1h-1zM1549 358h1v1h-1zM1550 357h1v1h-1zM1556 350h1v1h-1zM1557 349h1v1h-1zM1558 348h1v1h-1zM1559 346h1v2h-1zM1560 345h1v1h-1zM1561 344h1v1h-1zM1562 343h1v1h-1zM1563 342h1v1h-1zM1564 341h1v1h-1zM1565 339h1v2h-1zM1566 338h1v1h-1zM1567 337h1v1h-1zM1568 336h1v1h-1zM1569 335h1v1h-1zM1570 334h1v1h-1zM1571 333h1v1h-1zM1576 326h1v1h-1zM1577 325h1v1h-1zM1578 324h1v1h-1zM1579 323h1v1h-1zM1580 322h1v1h-1zM1581 321h1v1h-1zM1582 319h1v2h-1zM1583 318h1v1h-1zM1584 317h1v1h-1zM1585 316h1v1h-1zM1586 315h1v1h-1zM1587 314h1v1h-1zM1588 312h1v2h-1zM1589 311h1v1h-1zM1590 310h1v1h-1zM1591 309h1v1h-1zM1597 302h1v1h-1zM1598 301h1v1h-1zM1599 300h1v1h-1zM1600 298h1v2h-1zM1601 297h1v1h-1zM1602 296h1v1h-1zM1603 295h1v1h-1zM1604 294h1v1h-1zM1605 293h1v1h-1zM1606 291h1v2h-1zM1607 290h1v1h-1zM1608 289h1v1h-1zM1609 288h1v1h-1zM1610 287h1v1h-1zM1611 286h1v1h-1zM1612 285h1v1h-1zM1618 277h1v2h-1zM1619 276h1v1h-1zM1620 275h1v1h-1zM1621 274h1v1h-1zM1622 273h1v1h-1zM1623 271h1v2h-1zM1624 270h1v1h-1zM1625 269h1v1h-1zM1626 268h1v1h-1zM1627 267h1v1h-1zM1628 266h1v1h-1zM1629 264h1v2h-1zM1630 263h1v1h-1zM1631 262h1v1h-1zM1632 261h1v1h-1zM1638 254h1v1h-1zM1639 253h1v1h-1zM1640 252h1v1h-1zM1641 250h1v2h-1zM1642 249h1v1h-1zM1643 248h1v1h-1zM1644 247h1v1h-1zM1645 246h1v1h-1zM1646 245h1v1h-1zM1647 243h1v2h-1zM1648 242h1v1h-1zM1649 241h1v1h-1zM1650 240h1v1h-1zM1651 239h1v1h-1zM1652 238h1v1h-1zM1653 237h1v1h-1zM1659 229h1v2h-1zM1660 228h1v1h-1zM1661 227h1v1h-1zM1662 226h1v1h-1zM1663 225h1v1h-1zM1664 224h1v1h-1zM1665 222h1v2h-1zM1666 221h1v1h-1zM1667 220h1v1h-1zM1668 219h1v1h-1zM1669 218h1v1h-1zM1670 217h1v1h-1zM1671 215h1v2h-1zM1672 214h1v1h-1zM1673 213h1v1h-1zM1679 206h1v1h-1zM1680 205h1v1h-1zM1681 204h1v1h-1zM1682 202h1v2h-1zM1683 201h1v1h-1zM1684 200h1v1h-1zM1685 199h1v1h-1zM1686 198h1v1h-1zM1687 197h1v1h-1zM1688 195h1v2h-1zM1689 194h1v1h-1zM1690 193h1v1h-1zM1691 192h1v1h-1zM1692 191h1v1h-1zM1693 190h1v1h-1zM1694 189h1v1h-1zM1700 181h1v2h-1zM1701 180h1v1h-1zM1702 179h1v1h-1zM1703 178h1v1h-1zM1704 177h1v1h-1zM1705 176h1v1h-1zM1706 174h1v2h-1zM1707 173h1v1h-1zM1708 172h1v1h-1zM1709 171h1v1h-1zM1710 170h1v1h-1zM1711 169h1v1h-1zM1712 167h1v2h-1zM1713 166h1v1h-1zM1714 165h1v1h-1zM1720 158h1v1h-1zM1721 157h1v1h-1zM1722 156h1v1h-1zM1723 154h1v2h-1zM1724 153h1v1h-1zM1725 152h1v1h-1zM1726 151h1v1h-1zM1727 150h1v1h-1zM1728 149h1v1h-1zM1729 147h1v2h-1zM1730 146h1v1h-1zM1731 145h1v1h-1zM1732 144h1v1h-1zM1733 143h1v1h-1zM1734 142h1v1h-1zM1735 141h1v1h-1zM1741 133h1v2h-1zM1742 132h1v1h-1zM1743 131h1v1h-1zM1744 130h1v1h-1zM1745 129h1v1h-1zM1746 128h1v1h-1zM1747 126h1v2h-1zM1748 125h1v1h-1zM1749 124h1v1h-1zM1750 123h1v1h-1zM1751 122h1v1h-1zM1752 121h1v1h-1zM1753 119h1v2h-1zM1754 118h1v1h-1zM1755 117h1v1h-1zM1761 110h1v1h-1zM1762 109h1v1h-1zM1763 108h1v1h-1zM1764 107h1v1h-1zM1765 105h1v2h-1zM1766 104h1v1h-1zM1767 103h1v1h-1zM1768 102h1v1h-1zM1769 101h1v1h-1zM1770 100h1v1h-1zM1771 98h1v2h-1zM1772 97h1v1h-1zM1773 96h1v1h-1zM1774 95h1v1h-1zM1775 94h1v1h-1zM1776 93h1v1h-1zM1782 85h1v2h-1zM1783 84h1v1h-1zM1784 83h1v1h-1zM1785 82h1v1h-1zM1786 81h1v1h-1zM1787 80h1v1h-1zM1788 78h1v2h-1zM1789 77h1v1h-1zM1790 76h1v1h-1zM1791 75h1v1h-1zM1792 74h1v1h-1zM1793 73h1v1h-1zM1794 71h1v2h-1zM1795 70h1v1h-1zM1796 69h1v1h-1z" fill="#d0d000"/>
<path d="M517 841h1v2h-1zM518 839h1v2h-1zM519 837h1v2h-1zM520 835h1v2h-1zM521 834h1v1h-1zM522 832h1v2h-1zM523 830h1v2h-1zM524 828h1v2h-1zM525 826h1v2h-1zM526 825h1v1h-1zM530 817h1v2h-1zM531 815h1v2h-1zM532 814h1v1h-1zM533 812h1v2h-1zM534 810h1v2h-1zM535 808h1v2h-1zM536 806h1v2h-1zM537 804h1v2h-1zM538 803h1v1h-1zM539 801h1v2h-1zM543 794h1v1h-1zM544 792h1v2h-1zM545 790h1v2h-1zM546 788h1v2h-1zM547 786h1v2h-1zM548 784h1v2h-1zM549 783h1v1h-1zM550 781h1v2h-1zM551 779h1v2h-1zM552 777h1v2h-1zM556 770h1v1h-1zM557 768h1v2h-1zM558 766h1v2h-1zM559 764h1v2h-1zM560 763h1v1h-1zM561 761h1v2h-1zM562 759h1v2h-1zM563 757h1v2h-1zM564 755h1v2h-1zM565 754h1v1h-1zM566 753h1v1h-1zM569 746h1v1h-1zM570 744h1v2h-1zM571 743h1v1h-1zM572 741h1v2h-1zM573 739h1v2h-1zM574 737h1v2h-1zM575 735h1v2h-1zM576 734h1v1h-1zM577 732h1v2h-1zM578 730h1v2h-1zM579 729h1v1h-1zM583 721h1v2h-1zM584 719h1v2h-1zM585 717h1v2h-1zM586 715h1v2h-1zM587 714h1v1h-1zM588 712h1v2h-1zM589 710h1v2h-1zM590 708h1v2h-1zM591 706h1v2h-1zM592 705h1v1h-1zM596 697h1v2h-1zM597 695h1v2h-1zM598 694h1v1h-1zM599 692h1v2h-1zM600 690h1v2h-1zM601 688h1v2h-1zM602 686h1v2h-1zM603 684h1v2h-1zM604 683h1v1h-1zM605 681h1v2h-1zM609 674h1v1h-1zM610 672h1v2h-1zM611 670h1v2h-1zM612 668h1v2h-1zM613 666h1v2h-1zM614 664h1v2h-1zM615 663h1v1h-1zM616 661h1v2h-1zM617 659h1v2h-1zM618 657h1v2h-1zM622 650h1v1h-1zM623 648h1v2h-1zM624 646h1v2h-1zM625 644h1v2h-1zM626 643h1v1h-1zM627 641h1v2h-1zM628 639h1v2h-1zM629 637h1v2h-1zM630 635h1v2h-1zM631 634h1v1h-1zM632 633h1v1h-1zM635 626h1v1h-1zM636 624h1v2h-1zM637 623h1v1h-1zM638 621h1v2h-1zM639 619h1v2h-1zM640 617h1v2h-1zM641 615h1v2h-1zM642 614h1v1h-1zM643 612h1v2h-1zM644 610h1v2h-1zM645 609h1v1h-1zM649 601h1v2h-1zM650 599h1v2h-1zM651 597h1v2h-1zM652 595h1v2h-1zM653 594h1v1h-1zM654 592h1v2h-1zM655 590h1v2h-1zM656 588h1v2h-1zM657 586h1v2h-1zM658 585h1v1h-1zM662 577h1v2h-1zM663 575h1v2h-1zM664 574h1v1h-1zM665 572h1v2h-1zM666 570h1v2h-1zM667 568h1v2h-1zM668 566h1v2h-1zM669 564h1v2h-1zM670 563h1v1h-1zM671 561h1v2h-1zM675 554h1v1h-1zM676 552h1v2h-1zM677 550h1v2h-1zM678 548h1v2h-1zM679 546h1v2h-1zM680 545h1v1h-1zM681 543h1v2h-1zM682 541h1v2h-1zM683 539h1v2h-1zM684 537h1v2h-1zM688 530h1v1h-1zM689 528h1v2h-1zM690 526h1v2h-1zM691 525h1v1h-1zM692 523h1v2h-1zM693 521h1v2h-1zM694 519h1v2h-1zM695 517h1v2h-1zM696 515h1v2h-1zM697 514h1v1h-1zM698 513h1v1h-1zM701 506h1v1h-1zM702 505h1v1h-1zM703 503h1v2h-1zM704 501h1v2h-1zM705 499h1v2h-1zM706 497h1v2h-1zM707 495h1v2h-1zM708 494h1v1h-1zM709 492h1v2h-1zM710 490h1v2h-1zM711 489h1v1h-1zM715 481h1v2h-1zM716 479h1v2h-1zM717 477h1v2h-1zM718 475h1v2h-1zM719 474h1v1h-1zM720 472h1v2h-1zM721 470h1v2h-1zM722 468h1v2h-1zM723 466h1v2h-1zM724 465h1v1h-1zM728 457h1v2h-1zM729 455h1v2h-1zM730 454h1v1h-1zM731 452h1v2h-1zM732 450h1v2h-1zM733 448h1v2h-1zM734 446h1v2h-1zM735 445h1v1h-1zM736 443h1v2h-1zM737 441h1v2h-1zM741 434h1v1h-1zM742 432h1v2h-1zM743 430h1v2h-1zM744 428h1v2h-1zM745 426h1v2h-1zM746 425h1v1h-1zM747 423h1v2h-1zM748 421h1v2h-1zM749 419h1v2h-1zM750 417h1v2h-1zM754 410h1v1h-1zM755 408h1v2h-1zM756 406h1v2h-1zM757 405h1v1h-1zM758 403h1v2h-1zM759 401h1v2h-1zM760 399h1v2h-1zM761 397h1v2h-1zM762 395h1v2h-1zM763 394h1v1h-1zM764 393h1v1h-1zM767 386h1v1h-1zM768 385h1v1h-1zM769 383h1v2h-1zM770 381h1v2h-1zM771 379h1v2h-1zM772 377h1v2h-1zM773 375h1v2h-1zM774 374h1v1h-1zM775 372h1v2h-1zM776 370h1v2h-1zM777 369h1v1h-1zM781 361h1v2h-1zM782 359h1v2h-1zM783 357h1v2h-1zM784 355h1v2h-1zM785 354h1v1h-1zM786 352h1v2h-1zM787 350h1v2h-1zM788 348h1v2h-1zM789 346h1v2h-1zM790 345h1v1h-1zM794 337h1v2h-1zM795 335h1v2h-1zM796 334h1v1h-1zM797 332h1v2h-1zM798 330h1v2h-1zM799 328h1v2h-1zM800 326h1v2h-1zM801 325h1v1h-1zM802 323h1v2h-1zM803 321h1v2h-1zM807 314h1v1h-1zM808 312h1v2h-1zM809 310h1v2h-1zM810 308h1v2h-1zM811 306h1v2h-1zM812 305h1v1h-1zM813 303h1v2h-1zM814 301h1v2h-1zM815 299h1v2h-1zM816 297h1v2h-1zM820 290h1v1h-1zM821 288h1v2h-1zM822 286h1v2h-1zM823 285h1v1h-1zM824 283h1v2h-1zM825 281h1v2h-1zM826 279h1v2h-1zM827 277h1v2h-1zM828 275h1v2h-1zM829 274h1v1h-1zM830 273h1v1h-1zM833 266h1v1h-1zM834 265h1v1h-1zM835 263h1v2h-1zM836 261h1v2h-1zM837 259h1v2h-1zM838 257h1v2h-1zM839 255h1v2h-1zM840 254h1v1h-1zM841 252h1v2h-1zM842 250h1v2h-1zM843 249h1v1h-1z" fill="#00ff00"/>
<path d="M1248 707h1v1h-1zM1249 705h1v2h-1zM1250 703h1v2h-1zM1251 701h1v2h-1zM1252 699h1v2h-1zM1253 697h1v2h-1zM1254 696h1v1h-1zM1255 694h1v2h-1zM1256 692h1v2h-1zM1257 690h1v2h-1zM1261 683h1v1h-1zM1262 681h1v2h-1zM1263 679h1v2h-1zM1264 677h1v2h-1zM1265 676h1v1h-1zM1266 674h1v2h-1zM1267 672h1v2h-1zM1268 670h1v2h-1zM1269 668h1v2h-1zM1270 666h1v2h-1zM1274 659h1v1h-1zM1275 657h1v2h-1zM1276 655h1v2h-1zM1277 654h1v1h-1zM1278 652h1v2h-1zM1279 650h1v2h-1zM1280 648h1v2h-1zM1281 646h1v2h-1zM1282 644h1v2h-1zM1283 643h1v1h-1zM1284 642h1v1h-1zM1287 635h1v1h-1zM1288 634h1v1h-1zM1289 632h1v2h-1zM1290 630h1v2h-1zM1291 628h1v2h-1zM1292 626h1v2h-1zM1293 624h1v2h-1zM1294 623h1v1h-1zM1295 621h1v2h-1zM1296 619h1v2h-1zM1297 618h1v1h-1zM1301 610h1v2h-1zM1302 608h1v2h-1zM1303 606h1v2h-1zM1304 604h1v2h-1zM1305 602h1v2h-1zM1306 601h1v1h-1zM1307 599h1v2h-1zM1308 597h1v2h-1zM1309 595h1v2h-1zM1310 594h1v1h-1zM1314 586h1v2h-1zM1315 584h1v2h-1zM1316 582h1v2h-1zM1317 581h1v1h-1zM1318 579h1v2h-1zM1319 577h1v2h-1zM1320 575h1v2h-1zM1321 573h1v2h-1zM1322 571h1v2h-1zM1323 570h1v1h-1zM1327 562h1v2h-1zM1328 560h1v2h-1zM1329 559h1v1h-1zM1330 557h1v2h-1zM1331 555h1v2h-1zM1332 553h1v2h-1zM1333 551h1v2h-1zM1334 549h1v2h-1zM1335 548h1v1h-1zM1336 546h1v2h-1zM1340 539h1v1h-1zM1341 537h1v2h-1zM1342 535h1v2h-1zM1343 533h1v2h-1zM1344 531h1v2h-1zM1345 529h1v2h-1zM1346 528h1v1h-1zM1347 526h1v2h-1zM1348 524h1v2h-1zM1349 522h1v2h-1zM1353 515h1v1h-1zM1354 513h1v2h-1zM1355 511h1v2h-1zM1356 509h1v2h-1zM1357 507h1v2h-1zM1358 506h1v1h-1zM1359 504h1v2h-1zM1360 502h1v2h-1zM1361 500h1v2h-1zM1362 498h1v2h-1zM1366 491h1v1h-1zM1367 489h1v2h-1zM1368 487h1v2h-1zM1369 486h1v1h-1zM1370 484h1v2h-1zM1371 482h1v2h-1zM1372 480h1v2h-1zM1373 478h1v2h-1zM1374 476h1v2h-1zM1375 475h1v1h-1zM1376 474h1v1h-1zM1379 467h1v1h-1zM1380 465h1v2h-1zM1381 464h1v1h-1zM1382 462h1v2h-1zM1383 460h1v2h-1zM1384 458h1v2h-1zM1385 456h1v2h-1zM1386 454h1v2h-1zM1387 453h1v1h-1zM1388 451h1v2h-1zM1389 450h1v1h-1zM1393 442h1v2h-1zM1394 440h1v2h-1zM1395 438h1v2h-1zM1396 436h1v2h-1zM1397 434h1v2h-1zM1398 433h1v1h-1zM1399 431h1v2h-1zM1400 429h1v2h-1zM1401 427h1v2h-1zM1402 426h1v1h-1zM1406 418h1v2h-1zM1407 416h1v2h-1zM1408 414h1v2h-1zM1409 412h1v2h-1zM1410 411h1v1h-1zM1411 409h1v2h-1zM1412 407h1v2h-1zM1413 405h1v2h-1zM1414 403h1v2h-1zM1415 402h1v1h-1zM1419 394h1v2h-1zM1420 392h1v2h-1zM1421 391h1v1h-1zM1422 389h1v2h-1zM1423 387h1v2h-1zM1424 385h1v2h-1zM1425 383h1v2h-1zM1426 381h1v2h-1zM1427 380h1v1h-1zM1428 378h1v2h-1zM1432 370h1v2h-1zM1433 369h1v1h-1zM1434 367h1v2h-1zM1435 365h1v2h-1zM1436 363h1v2h-1zM1437 361h1v2h-1zM1438 360h1v1h-1zM1439 358h1v2h-1zM1440 356h1v2h-1zM1441 354h1v2h-1zM1445 347h1v1h-1zM1446 345h1v2h-1zM1447 343h1v2h-1zM1448 341h1v2h-1zM1449 339h1v2h-1zM1450 338h1v1h-1zM1451 336h1v2h-1zM1452 334h1v2h-1zM1453 332h1v2h-1zM1454 330h1v2h-1zM1458 323h1v1h-1zM1459 321h1v2h-1zM1460 319h1v2h-1zM1461 317h1v2h-1zM1462 316h1v1h-1zM1463 314h1v2h-1zM1464 312h1v2h-1zM1465 310h1v2h-1zM1466 308h1v2h-1zM1467 307h1v1h-1zM1468 306h1v1h-1zM1471 299h1v1h-1zM1472 297h1v2h-1zM1473 296h1v1h-1zM1474 294h1v2h-1zM1475 292h1v2h-1zM1476 290h1v2h-1zM1477 288h1v2h-1zM1478 286h1v2h-1zM1479 285h1v1h-1zM1480 283h1v2h-1zM1481 282h1v1h-1zM1484 275h1v1h-1zM1485 274h1v1h-1zM1486 272h1v2h-1zM1487 270h1v2h-1zM1488 268h1v2h-1zM1489 266h1v2h-1zM1490 265h1v1h-1zM1491 263h1v2h-1zM1492 261h1v2h-1zM1493 259h1v2h-1zM1494 258h1v1h-1zM1498 250h1v2h-1zM1499 248h1v2h-1zM1500 246h1v2h-1zM1501 244h1v2h-1zM1502 243h1v1h-1zM1503 241h1v2h-1zM1504 239h1v2h-1zM1505 237h1v2h-1zM1506 235h1v2h-1zM1507 234h1v1h-1zM1511 226h1v2h-1zM1512 224h1v2h-1zM1513 222h1v2h-1zM1514 221h1v1h-1zM1515 219h1v2h-1zM1516 217h1v2h-1zM1517 215h1v2h-1zM1518 213h1v2h-1zM1519 212h1v1h-1zM1520 210h1v2h-1zM1524 202h1v2h-1zM1525 201h1v1h-1zM1526 199h1v2h-1zM1527 197h1v2h-1zM1528 195h1v2h-1zM1529 193h1v2h-1zM1530 191h1v2h-1zM1531 190h1v1h-1zM1532 188h1v2h-1zM1533 186h1v2h-1zM1537 179h1v1h-1zM1538 177h1v2h-1zM1539 175h1v2h-1zM1540 173h1v2h-1zM1541 171h1v2h-1zM1542 170h1v1h-1zM1543 168h1v2h-1zM1544 166h1v2h-1zM1545 164h1v2h-1zM1546 162h1v2h-1zM1550 155h1v1h-1zM1551 153h1v2h-1zM1552 151h1v2h-1zM1553 149h1v2h-1zM1554 148h1v1h-1zM1555 146h1v2h-1zM1556 144h1v2h-1zM1557 142h1v2h-1zM1558 140h1v2h-1zM1559 138h1v2h-1zM1563 131h1v1h-1zM1564 129h1v2h-1zM1565 128h1v1h-1zM1566 126h1v2h-1zM1567 124h1v2h-1zM1568 122h1v2h-1zM1569 120h1v2h-1zM1570 118h1v2h-1zM1571 117h1v1h-1zM1572 115h1v2h-1zM1573 114h1v1h-1zM1576 107h1v1h-1zM1577 106h1v1h-1z" fill="#00ff00"/>
<path d="M297 245h2v1h-2zM299 244h6v1h-6zM305 243h5v1h-5zM310 242h5v1h-5zM321 241h1v1h-1zM322 240h5v1h-5zM327 239h6v1h-6zM333 238h5v1h-5zM338 237h1v1h-1zM345 236h4v1h-4zM349 235h6v1h-6zM355 234h5v1h-5zM360 233h3v1h-3zM369 232h2v1h-2zM371 231h6v1h-6zM377 230h5v1h-5zM382 229h5v1h-5zM393 228h1v1h-1zM394 227h5v1h-5zM399 226h6v1h-6zM405 225h5v1h-5zM410 224h1v1h-1zM417 223h4v1h-4zM421 222h6v1h-6zM427 221h5v1h-5zM432 220h3v1h-3zM441 219h2v1h-2zM443 218h6v1h-6zM449 217h6v1h-6zM455 216h4v1h-4zM465 215h1v1h-1zM466 214h5v1h-5zM471 213h6v1h-6zM477 212h5v1h-5zM482 211h1v1h-1zM489 210h4v1h-4zM493 209h6v1h-6zM499 208h5v1h-5zM504 207h3v1h-3zM513 206h3v1h-3zM516 205h5v1h-5zM521 204h6v1h-6zM527 203h4v1h-4zM537 202h1v1h-1zM538 201h5v1h-5zM543 200h6v1h-6zM549 199h5v1h-5zM554 198h1v1h-1zM561 197h4v1h-4zM565 196h6v1h-6zM571 195h6v1h-6zM577 194h2v1h-2zM585 193h3v1h-3zM588 192h5v1h-5zM593 191h6v1h-6zM599 190h4v1h-4zM609 189h1v1h-1zM610 188h5v1h-5zM615 187h6v1h-6zM621 186h5v1h-5zM626 185h1v1h-1zM633 184h5v1h-5zM638 183h5v1h-5zM643 182h6v1h-6zM649 181h2v1h-2zM657 180h3v1h-3zM660 179h5v1h-5zM665 178h6v1h-6zM671 177h4v1h-4zM681 176h1v1h-1zM682 175h5v1h-5zM687 174h6v1h-6zM693 173h6v1h-6zM705 171h5v1h-5zM710 170h5v1h-5zM715 169h6v1h-6zM721 168h2v1h-2zM729 167h3v1h-3zM732 166h5v1h-5zM737 165h6v1h-6zM743 164h4v1h-4zM753 163h1v1h-1zM754 162h6v1h-6zM760 161h5v1h-5zM765 160h6v1h-6zM777 158h5v1h-5zM782 157h5v1h-5zM787 156h6v1h-6zM793 155h2v1h-2zM801 154h3v1h-3zM804 153h5v1h-5zM809 152h6v1h-6zM815 151h4v1h-4zM825 150h1v1h-1zM826 149h6v1h-6zM832 148h5v1h-5zM837 147h6v1h-6zM849 145h5v1h-5zM854 144h5v1h-5zM859 143h6v1h-6zM865 142h2v1h-2zM873 141h3v1h-3zM876 140h6v1h-6zM882 139h5v1h-5zM887 138h4v1h-4zM897 137h1v1h-1zM898 136h6v1h-6zM904 135h5v1h-5zM909 134h6v1h-6zM921 132h5v1h-5zM926 131h5v1h-5zM931 130h6v1h-6zM937 129h2v1h-2zM945 128h3v1h-3zM948 127h6v1h-6zM954 126h5v1h-5zM959 125h4v1h-4zM969 124h1v1h-1zM970 123h6v1h-6zM976 122h5v1h-5zM981 121h6v1h-6zM993 119h5v1h-5zM998 118h6v1h-6zM1004 117h5v1h-5zM1009 116h2v1h-2zM1017 115h3v1h-3zM1020 114h6v1h-6zM1026 113h5v1h-5zM1031 112h4v1h-4zM1041 111h1v1h-1zM1042 110h6v1h-6zM1048 109h5v1h-5zM1053 108h6v1h-6zM1065 106h5v1h-5zM1070 105h6v1h-6zM1076 104h5v1h-5zM1081 103h2v1h-2zM1089 102h3v1h-3zM1092 101h6v1h-6zM1098 100h5v1h-5zM1103 99h4v1h-4zM1113 98h1v1h-1zM1114 97h6v1h-6zM1120 96h6v1h-6zM1126 95h5v1h-5zM1137 93h5v1h-5zM1142 92h6v1h-6zM1148 91h5v1h-5zM1153 90h2v1h-2zM1161 89h3v1h-3zM1164 88h6v1h-6zM1170 87h5v1h-5zM1175 86h4v1h-4zM1185 85h2v1h-2zM1187 84h5v1h-5zM1192 83h6v1h-6zM1198 82h5v1h-5zM1209 80h5v1h-5zM1214 79h6v1h-6zM1220 78h5v1h-5zM1225 77h2v1h-2zM1233 76h3v1h-3zM1236 75h2v1h-2z" fill="#c0c0c0"/>
<path d="M847 883h4v1h-4zM851 882h5v1h-5zM856 881h5v1h-5zM861 880h4v1h-4zM871 879h1v1h-1zM872 878h6v1h-6zM878 877h5v1h-5zM883 876h6v1h-6zM895 874h5v1h-5zM900 873h5v1h-5zM905 872h6v1h-6zM911 871h2v1h-2zM919 870h3v1h-3zM922 869h5v1h-5zM927 868h6v1h-6zM933 867h4v1h-4zM943 866h1v1h-1zM944 865h5v1h-5zM949 864h6v1h-6zM955 863h5v1h-5zM960 862h1v1h-1zM967 861h4v1h-4zM971 860h5v1h-5zM976 859h6v1h-6zM982 858h3v1h-3zM991 857h2v1h-2zM993 856h5v1h-5zM998 855h6v1h-6zM1004 854h5v1h-5zM1015 852h5v1h-5zM1020 851h6v1h-6zM1026 850h5v1h-5zM1031 849h2v1h-2zM1039 848h3v1h-3zM1042 847h6v1h-6zM1048 846h5v1h-5zM1053 845h4v1h-4zM1063 844h1v1h-1zM1064 843h5v1h-5zM1069 842h6v1h-6zM1075 841h5v1h-5zM1080 840h1v1h-1zM1087 839h4v1h-4zM1091 838h6v1h-6zM1097 837h5v1h-5zM1102 836h3v1h-3zM1111 835h2v1h-2zM1113 834h6v1h-6zM1119 833h5v1h-5zM1124 832h5v1h-5zM1135 830h6v1h-6zM1141 829h5v1h-5zM1146 828h6v1h-6zM1152 827h1v1h-1zM1159 826h4v1h-4zM1163 825h5v1h-5zM1168 824h5v1h-5zM1173 823h4v1h-4zM1183 822h1v1h-1zM1184 821h6v1h-6zM1190 820h5v1h-5zM1195 819h6v1h-6zM1207 817h5v1h-5zM1212 816h5v1h-5zM1217 815h6v1h-6zM1223 814h2v1h-2zM1231 813h3v1h-3zM1234 812h5v1h-5zM1239 811h6v1h-6zM1245 810h4v1h-4zM1255 809h1v1h-1zM1256 808h5v1h-5zM1261 807h6v1h-6zM1267 806h5v1h-5zM1272 805h1v1h-1zM1279 804h4v1h-4zM1283 803h5v1h-5zM1288 802h6v1h-6zM1294 801h3v1h-3zM1303 800h2v1h-2zM1305 799h5v1h-5zM1310 798h6v1h-6zM1316 797h5v1h-5zM1327 795h5v1h-5zM1332 794h6v1h-6zM1338 793h5v1h-5zM1343 792h2v1h-2zM1351 791h3v1h-3zM1354 790h6v1h-6zM1360 789h5v1h-5zM1365 788h4v1h-4zM1375 787h1v1h-1zM1376 786h5v1h-5zM1381 785h6v1h-6zM1387 784h5v1h-5zM1392 783h1v1h-1zM1399 782h4v1h-4zM1403 781h6v1h-6zM1409 780h5v1h-5zM1414 779h3v1h-3zM1423 778h2v1h-2zM1425 777h6v1h-6zM1431 776h5v1h-5zM1436 775h5v1h-5zM1447 773h6v1h-6zM1453 772h5v1h-5zM1458 771h6v1h-6zM1464 770h1v1h-1zM1471 769h4v1h-4zM1475 768h5v1h-5zM1480 767h5v1h-5zM1485 766h4v1h-4zM1495 765h1v1h-1zM1496 764h6v1h-6zM1502 763h5v1h-5zM1507 762h6v1h-6zM1519 760h5v1h-5zM1524 759h5v1h-5zM1529 758h6v1h-6zM1535 757h2v1h-2zM1543 756h3v1h-3zM1546 755h5v1h-5zM1551 754h6v1h-6zM1557 753h4v1h-4zM1567 752h1v1h-1zM1568 751h5v1h-5zM1573 750h6v1h-6zM1579 749h5v1h-5zM1584 748h1v1h-1zM1591 747h4v1h-4zM1595 746h5v1h-5zM1600 745h6v1h-6zM1606 744h3v1h-3zM1615 743h2v1h-2zM1617 742h5v1h-5zM1622 741h6v1h-6zM1628 740h5v1h-5zM1639 738h5v1h-5zM1644 737h6v1h-6zM1650 736h5v1h-5zM1655 735h2v1h-2zM1663 734h3v1h-3zM1666 733h6v1h-6zM1672 732h5v1h-5zM1677 731h4v1h-4zM1687 730h1v1h-1zM1688 729h5v1h-5zM1693 728h6v1h-6zM1699 727h5v1h-5zM1704 726h1v1h-1zM1711 725h4v1h-4zM1715 724h6v1h-6zM1721 723h5v1h-5zM1726 722h3v1h-3zM1735 721h2v1h-2zM1737 720h6v1h-6zM1743 719h5v1h-5zM1748 718h5v1h-5zM1759 716h6v1h-6zM1765 715h5v1h-5zM1770 714h6v1h-6zM1776 713h1v1h-1zM1783 712h4v1h-4zM1787 711h5v1h-5z" fill="#c0c0c0"/>
<path d="M1244 649h1v1h-1zM1245 650h1v1h-1zM1246 651h1v1h-1zM1247 652h1v1h-1zM1248 653h1v1h-1zM1249 654h1v1h-1zM1250 655h1v1h-1zM1251 656h1v1h-1zM1252 657h1v2h-1zM1253 659h1v1h-1zM1254 660h1v1h-1zM1255 661h1v1h-1zM1256 662h1v1h-1zM1257 663h1v1h-1zM1258 664h1v1h-1zM1259 665h1v1h-1z" fill="#ffffff"/>
<path d="M1007 738h5v1h-5zM1012 737h8v1h-8zM1020 736h8v1h-8zM1028 735h8v1h-8zM1036 734h9v1h-9zM1045 733h8v1h-8zM1053 732h8v1h-8zM1061 731h8v1h-8zM1069 730h9v1h-9zM1078 729h8v1h-8zM1086 728h8v1h-8zM1094 727h8v1h-8zM1102 726h9v1h-9zM1111 725h8v1h-8zM1119 724h8v1h-8zM1127 723h8v1h-8zM1135 722h8v1h-8zM1143 721h9v1h-9zM1152 720h8v1h-8zM1160 719h8v1h-8zM1168 718h8v1h-8zM1176 717h9v1h-9zM1185 716h8v1h-8zM1193 715h8v1h-8zM1201 714h8v1h-8zM1209 713h9v1h-9zM1218 712h8v1h-8zM1226 711h8v1h-8zM1234 710h8v1h-8zM1242 709h9v1h-9zM1251 708h8v1h-8zM1259 707h8v1h-8zM1267 706h8v1h-8zM1275 705h9v1h-9zM1284 704h8v1h-8zM1292 703h8v1h-8zM1300 702h8v1h-8zM1308 701h9v1h-9zM1317 700h8v1h-8zM1325 699h8v1h-8zM1333 698h8v1h-8zM1341 697h8v1h-8zM1349 696h9v1h-9zM1358 695h8v1h-8zM1366 694h8v1h-8zM1374 693h8v1h-8zM1382 692h9v1h-9zM1391 691h8v1h-8zM1399 690h8v1h-8zM1407 689h8v1h-8zM1415 688h9v1h-9zM1424 687h8v1h-8zM1432 686h8v1h-8zM1440 685h8v1h-8zM1448 684h5v1h-5z" fill="#008000"/>
<path d="M1007 527h5v1h-5zM1012 526h8v1h-8zM1020 525h8v1h-8zM1028 524h8v1h-8zM1036 523h8v1h-8zM1044 522h8v1h-8zM1052 521h8v1h-8zM1060 520h8v1h-8zM1068 519h8v1h-8zM1076 518h8v1h-8zM1084 517h8v1h-8zM1092 516h9v1h-9zM1101 515h8v1h-8zM1109 514h8v1h-8zM1117 513h8v1h-8zM1125 512h8v1h-8zM1133 511h8v1h-8zM1141 510h8v1h-8zM1149 509h8v1h-8zM1157 508h8v1h-8zM1165 507h8v1h-8zM1173 506h8v1h-8zM1181 505h9v1h-9zM1190 504h8v1h-8zM1198 503h8v1h-8zM1206 502h8v1h-8zM1214 501h8v1h-8zM1222 500h8v1h-8zM1230 499h8v1h-8zM1238 498h8v1h-8zM1246 497h8v1h-8zM1254 496h8v1h-8zM1262 495h8v1h-8zM1270 494h9v1h-9zM1279 493h8v1h-8zM1287 492h8v1h-8zM1295 491h8v1h-8zM1303 490h8v1h-8zM1311 489h8v1h-8zM1319 488h8v1h-8zM1327 487h8v1h-8zM1335 486h8v1h-8zM1343 485h8v1h-8zM1351 484h8v1h-8zM1359 483h9v1h-9zM1368 482h8v1h-8zM1376 481h8v1h-8zM1384 480h8v1h-8zM1392 479h8v1h-8zM1400 478h8v1h-8zM1408 477h8v1h-8zM1416 476h8v1h-8zM1424 475h8v1h-8zM1432 474h8v1h-8zM1440 473h8v1h-8zM1448 472h5v1h-5z" fill="#008000"/>
<path d="M296 244h551v1h-551zM296 884h551v1h-551zM296 244h1v641h-1zM846 244h1v641h-1z" fill="#80ff80"/>
<path d="M1238 74h556v1h-556zM1238 710h556v1h-556zM1238 74h1v637h-1zM1793 74h1v637h-1z" fill="#80ff80"/>
<path d="M1 394h6v2h-6zM7 393h5v2h-5zM12 392h6v2h-6zM18 391h5v2h-5zM23 390h6v2h-6zM29 389h6v2h-6zM35 388h5v2h-5zM40 387h6v2h-6zM46 386h5v2h-5zM51 385h6v2h-6zM57 384h5v2h-5zM62 383h6v2h-6zM68 382h5v2h-5zM73 381h6v2h-6zM79 380h6v2h-6zM85 379h5v2h-5zM90 378h6v2h-6zM96 377h5v2h-5zM101 376h6v2h-6zM107 375h5v2h-5zM112 374h6v2h-6zM118 373h5v2h-5zM123 372h6v2h-6zM129 371h5v2h-5zM134 370h6v2h-6zM140 369h6v2h-6zM146 368h5v2h-5zM151 367h6v2h-6zM157 366h5v2h-5zM162 365h6v2h-6zM168 364h5v2h-5zM173 363h6v2h-6zM179 362h5v2h-5zM184 361h6v2h-6zM190 360h6v2h-6zM196 359h5v2h-5zM201 358h6v2h-6zM207 357h5v2h-5zM212 356h6v2h-6zM218 355h5v2h-5zM223 354h6v2h-6zM229 353h5v2h-5zM234 352h6v2h-6zM240 351h6v2h-6zM246 350h5v2h-5zM251 349h6v2h-6zM257 348h5v2h-5zM262 347h6v2h-6zM268 346h5v2h-5zM273 345h6v2h-6zM279 344h5v2h-5zM284 343h6v2h-6zM290 342h5v2h-5zM295 341h6v2h-6zM301 340h6v2h-6zM307 339h5v2h-5zM312 338h6v2h-6zM318 337h5v2h-5zM323 336h6v2h-6zM329 335h5v2h-5zM334 334h6v2h-6zM340 333h5v2h-5zM345 332h6v2h-6zM351 331h6v2h-6zM357 330h5v2h-5zM362 329h6v2h-6zM368 328h5v2h-5zM373 327h6v2h-6zM379 326h5v2h-5zM384 325h6v2h-6zM390 324h5v2h-5zM395 323h6v2h-6zM401 322h6v2h-6zM407 321h5v2h-5zM412 320h6v2h-6zM418 319h5v2h-5zM423 318h6v2h-6zM429 317h5v2h-5zM434 316h6v2h-6zM440 315h5v2h-5zM445 314h6v2h-6zM451 313h6v2h-6zM457 312h5v2h-5zM462 311h6v2h-6zM468 310h5v2h-5zM473 309h6v2h-6zM479 308h5v2h-5zM484 307h6v2h-6zM490 306h5v2h-5zM495 305h6v2h-6zM501 304h5v2h-5zM506 303h6v2h-6zM512 302h6v2h-6zM518 301h5v2h-5zM523 300h6v2h-6zM529 299h5v2h-5zM534 298h6v2h-6zM540 297h5v2h-5zM545 296h6v2h-6zM551 295h5v2h-5zM556 294h6v2h-6zM562 293h6v2h-6zM568 292h5v2h-5zM573 291h6v2h-6zM579 290h5v2h-5zM584 289h6v2h-6zM590 288h5v2h-5zM595 287h6v2h-6zM601 286h5v2h-5zM606 285h6v2h-6zM612 284h6v2h-6zM618 283h5v2h-5zM623 282h6v2h-6zM629 281h5v2h-5zM634 280h6v2h-6zM640 279h5v2h-5zM645 278h6v2h-6zM651 277h5v2h-5zM656 276h6v2h-6zM662 275h5v2h-5zM667 274h6v2h-6zM673 273h6v2h-6zM679 272h5v2h-5zM684 271h6v2h-6zM690 270h5v2h-5zM695 269h6v2h-6zM701 268h5v2h-5zM706 267h6v2h-6zM712 266h5v2h-5zM717 265h6v2h-6zM723 264h6v2h-6zM729 263h5v2h-5zM734 262h6v2h-6zM740 261h5v2h-5zM745 260h6v2h-6zM751 259h5v2h-5zM756 258h6v2h-6zM762 257h5v2h-5zM767 256h6v2h-6zM773 255h6v2h-6zM779 254h5v2h-5zM784 253h6v2h-6zM790 252h5v2h-5zM795 251h6v2h-6zM801 250h5v2h-5zM806 249h6v2h-6zM812 248h5v2h-5zM817 247h6v2h-6zM823 246h5v2h-5zM828 245h6v2h-6zM834 244h6v2h-6zM840 243h5v2h-5zM845 242h6v2h-6zM851 241h5v2h-5zM856 240h6v2h-6zM862 239h5v2h-5zM867 238h6v2h-6zM873 237h5v2h-5zM878 236h6v2h-6zM884 235h6v2h-6zM890 234h5v2h-5zM895 233h6v2h-6zM901 232h5v2h-5zM906 231h6v2h-6zM912 230h5v2h-5zM917 229h6v2h-6zM923 228h5v2h-5zM928 227h6v2h-6zM934 226h6v2h-6zM940 225h5v2h-5zM945 224h6v2h-6zM951 223h5v2h-5zM956 222h6v2h-6zM962 221h5v2h-5zM967 220h6v2h-6zM973 219h5v2h-5zM978 218h6v2h-6zM984 217h6v2h-6zM990 216h5v2h-5zM995 215h6v2h-6zM1001 214h5v2h-5zM1006 213h6v2h-6zM1012 212h5v2h-5zM1017 211h6v2h-6zM1023 210h5v2h-5zM1028 209h6v2h-6zM1034 208h5v2h-5zM1039 207h6v2h-6zM1045 206h6v2h-6zM1051 205h5v2h-5zM1056 204h6v2h-6zM1062 203h5v2h-5zM1067 202h6v2h-6zM1073 201h5v2h-5zM1078 200h6v2h-6zM1084 199h5v2h-5zM1089 198h6v2h-6zM1095 197h6v2h-6zM1101 196h5v2h-5zM1106 195h6v2h-6zM1112 194h5v2h-5zM1117 193h6v2h-6zM1123 192h5v2h-5zM1128 191h6v2h-6zM1134 190h5v2h-5zM1139 189h6v2h-6zM1145 188h6v2h-6zM1151 187h5v2h-5zM1156 186h6v2h-6zM1162 185h5v2h-5zM1167 184h6v2h-6zM1173 183h5v2h-5zM1178 182h6v2h-6zM1184 181h5v2h-5zM1189 180h6v2h-6zM1195 179h5v2h-5zM1200 178h6v2h-6zM1206 177h6v2h-6zM1212 176h5v2h-5zM1217 175h6v2h-6zM1223 174h5v2h-5zM1228 173h6v2h-6zM1234 172h5v2h-5zM1239 171h6v2h-6zM1245 170h5v2h-5zM1250 169h6v2h-6zM1256 168h6v2h-6zM1262 167h5v2h-5zM1267 166h6v2h-6zM1273 165h5v2h-5zM1278 164h6v2h-6zM1284 163h5v2h-5zM1289 162h6v2h-6zM1295 161h5v2h-5zM1300 160h6v2h-6zM1306 159h6v2h-6zM1312 158h5v2h-5zM1317 157h6v2h-6zM1323 156h5v2h-5zM1328 155h6v2h-6zM1334 154h5v2h-5zM1339 153h6v2h-6zM1345 152h5v2h-5zM1350 151h6v2h-6zM1356 150h6v2h-6zM1362 149h5v2h-5zM1367 148h6v2h-6zM1373 147h5v2h-5zM1378 146h6v2h-6zM1384 145h5v2h-5zM1389 144h6v2h-6zM1395 143h5v2h-5zM1400 142h6v2h-6zM1406 141h5v2h-5zM1411 140h6v2h-6zM1417 139h6v2h-6zM1423 138h5v2h-5zM1428 137h6v2h-6zM1434 136h5v2h-5zM1439 135h6v2h-6zM1445 134h5v2h-5zM1450 133h6v2h-6zM1456 132h5v2h-5zM1461 131h6v2h-6zM1467 130h6v2h-6zM1473 129h5v2h-5zM1478 128h6v2h-6zM1484 127h5v2h-5zM1489 126h6v2h-6zM1495 125h5v2h-5zM1500 124h6v2h-6zM1506 123h5v2h-5zM1511 122h6v2h-6zM1517 121h6v2h-6zM1523 120h5v2h-5zM1528 119h6v2h-6zM1534 118h5v2h-5zM1539 117h6v2h-6zM1545 116h5v2h-5zM1550 115h6v2h-6zM1556 114h5v2h-5zM1561 113h6v2h-6zM1567 112h5v2h-5zM1572 111h6v2h-6zM1578 110h6v2h-6zM1584 109h5v2h-5zM1589 108h6v2h-6zM1595 107h5v2h-5zM1600 106h6v2h-6zM1606 105h5v2h-5zM1611 104h6v2h-6zM1617 103h5v2h-5zM1622 102h6v2h-6zM1628 101h6v2h-6zM1634 100h5v2h-5zM1639 99h6v2h-6zM1645 98h5v2h-5zM1650 97h6v2h-6zM1656 96h5v2h-5zM1661 95h6v2h-6zM1667 94h5v2h-5zM1672 93h6v2h-6zM1678 92h6v2h-6zM1684 91h5v2h-5zM1689 90h6v2h-6zM1695 89h5v2h-5zM1700 88h6v2h-6zM1706 87h5v2h-5zM1711 86h6v2h-6zM1717 85h5v2h-5zM1722 84h6v2h-6zM1728 83h6v2h-6zM1734 82h5v2h-5zM1739 81h6v2h-6zM1745 80h5v2h-5zM1750 79h6v2h-6zM1756 78h5v2h-5zM1761 77h6v2h-6zM1767 76h5v2h-5zM1772 75h6v2h-6zM1778 74h5v2h-5zM1783 73h6v2h-6zM1789 72h6v2h-6zM1795 71h5v2h-5zM1800 70h6v2h-6zM1806 69h5v2h-5zM1811 68h6v2h-6zM1817 67h5v2h-5zM1822 66h6v2h-6zM1828 65h5v2h-5zM1833 64h6v2h-6zM1839 63h6v2h-6z" fill="#008000"/>
<path d="M26 936h1v2h-1zM27 935h6v2h-6zM33 934h5v2h-5zM38 933h5v2h-5zM43 932h6v2h-6zM49 931h5v2h-5zM54 930h6v2h-6zM60 929h5v2h-5zM65 928h5v2h-5zM70 927h6v2h-6zM76 926h5v2h-5zM81 925h5v2h-5zM86 924h6v2h-6zM92 923h5v2h-5zM97 922h6v2h-6zM103 921h5v2h-5zM108 920h5v2h-5zM113 919h6v2h-6zM119 918h5v2h-5zM124 917h5v2h-5zM129 916h6v2h-6zM135 915h5v2h-5zM140 914h6v2h-6zM146 913h5v2h-5zM151 912h5v2h-5zM156 911h6v2h-6zM162 910h5v2h-5zM167 909h5v2h-5zM172 908h6v2h-6zM178 907h5v2h-5zM183 906h6v2h-6zM189 905h5v2h-5zM194 904h5v2h-5zM199 903h6v2h-6zM205 902h5v2h-5zM210 901h5v2h-5zM215 900h6v2h-6zM221 899h5v2h-5zM226 898h6v2h-6zM232 897h5v2h-5zM237 896h5v2h-5zM242 895h6v2h-6zM248 894h5v2h-5zM253 893h6v2h-6zM259 892h5v2h-5zM264 891h5v2h-5zM269 890h6v2h-6zM275 889h5v2h-5zM280 888h5v2h-5zM285 887h6v2h-6zM291 886h5v2h-5zM296 885h6v2h-6zM302 884h5v2h-5zM307 883h5v2h-5zM312 882h6v2h-6zM318 881h5v2h-5zM323 880h5v2h-5zM328 879h6v2h-6zM334 878h5v2h-5zM339 877h6v2h-6zM345 876h5v2h-5zM350 875h5v2h-5zM355 874h6v2h-6zM361 873h5v2h-5zM366 872h5v2h-5zM371 871h6v2h-6zM377 870h5v2h-5zM382 869h6v2h-6zM388 868h5v2h-5zM393 867h5v2h-5zM398 866h6v2h-6zM404 865h5v2h-5zM409 864h6v2h-6zM415 863h5v2h-5zM420 862h5v2h-5zM425 861h6v2h-6zM431 860h5v2h-5zM436 859h5v2h-5zM441 858h6v2h-6zM447 857h5v2h-5zM452 856h6v2h-6zM458 855h5v2h-5zM463 854h5v2h-5zM468 853h6v2h-6zM474 852h5v2h-5zM479 851h5v2h-5zM484 850h6v2h-6zM490 849h5v2h-5zM495 848h6v2h-6zM501 847h5v2h-5zM506 846h5v2h-5zM511 845h6v2h-6zM517 844h5v2h-5zM522 843h5v2h-5zM527 842h6v2h-6zM533 841h5v2h-5zM538 840h6v2h-6zM544 839h5v2h-5zM549 838h5v2h-5zM554 837h6v2h-6zM560 836h5v2h-5zM565 835h5v2h-5zM570 834h6v2h-6zM576 833h5v2h-5zM581 832h6v2h-6zM587 831h5v2h-5zM592 830h5v2h-5zM597 829h6v2h-6zM603 828h5v2h-5zM608 827h6v2h-6zM614 826h5v2h-5zM619 825h5v2h-5zM624 824h6v2h-6zM630 823h5v2h-5zM635 822h5v2h-5zM640 821h6v2h-6zM646 820h5v2h-5zM651 819h6v2h-6zM657 818h5v2h-5zM662 817h5v2h-5zM667 816h6v2h-6zM673 815h5v2h-5zM678 814h5v2h-5zM683 813h6v2h-6zM689 812h5v2h-5zM694 811h6v2h-6zM700 810h5v2h-5zM705 809h5v2h-5zM710 808h6v2h-6zM716 807h5v2h-5zM721 806h5v2h-5zM726 805h6v2h-6zM732 804h5v2h-5zM737 803h6v2h-6zM743 802h5v2h-5zM748 801h5v2h-5zM753 800h6v2h-6zM759 799h5v2h-5zM764 798h5v2h-5zM769 797h6v2h-6zM775 796h5v2h-5zM780 795h6v2h-6zM786 794h5v2h-5zM791 793h5v2h-5zM796 792h6v2h-6zM802 791h5v2h-5zM807 790h6v2h-6zM813 789h5v2h-5zM818 788h5v2h-5zM823 787h6v2h-6zM829 786h5v2h-5zM834 785h5v2h-5zM839 784h6v2h-6zM845 783h5v2h-5zM850 782h6v2h-6zM856 781h5v2h-5zM861 780h5v2h-5zM866 779h6v2h-6zM872 778h5v2h-5zM877 777h5v2h-5zM882 776h6v2h-6zM888 775h5v2h-5zM893 774h6v2h-6zM899 773h5v2h-5zM904 772h5v2h-5zM909 771h6v2h-6zM915 770h5v2h-5zM920 769h5v2h-5zM925 768h6v2h-6zM931 767h5v2h-5zM936 766h6v2h-6zM942 765h5v2h-5zM947 764h5v2h-5zM952 763h6v2h-6zM958 762h5v2h-5zM963 761h6v2h-6zM969 760h5v2h-5zM974 759h5v2h-5zM979 758h6v2h-6zM985 757h5v2h-5zM990 756h5v2h-5zM995 755h6v2h-6zM1001 754h5v2h-5zM1006 753h6v2h-6zM1012 752h5v2h-5zM1017 751h5v2h-5zM1022 750h6v2h-6zM1028 749h5v2h-5zM1033 748h5v2h-5zM1038 747h6v2h-6zM1044 746h5v2h-5zM1049 745h6v2h-6zM1055 744h5v2h-5zM1060 743h5v2h-5zM1065 742h6v2h-6zM1071 741h5v2h-5zM1076 740h5v2h-5zM1081 739h6v2h-6zM1087 738h5v2h-5zM1092 737h6v2h-6zM1098 736h5v2h-5zM1103 735h5v2h-5zM1108 734h6v2h-6zM1114 733h5v2h-5zM1119 732h5v2h-5zM1124 731h6v2h-6zM1130 730h5v2h-5zM1135 729h6v2h-6zM1141 728h5v2h-5zM1146 727h5v2h-5zM1151 726h6v2h-6zM1157 725h5v2h-5zM1162 724h6v2h-6zM1168 723h5v2h-5zM1173 722h5v2h-5zM1178 721h6v2h-6zM1184 720h5v2h-5zM1189 719h5v2h-5zM1194 718h6v2h-6zM1200 717h5v2h-5zM1205 716h6v2h-6zM1211 715h5v2h-5zM1216 714h5v2h-5zM1221 713h6v2h-6zM1227 712h5v2h-5zM1232 711h5v2h-5zM1237 710h6v2h-6zM1243 709h5v2h-5zM1248 708h6v2h-6zM1254 707h5v2h-5zM1259 706h5v2h-5zM1264 705h6v2h-6zM1270 704h5v2h-5zM1275 703h5v2h-5zM1280 702h6v2h-6zM1286 701h5v2h-5zM1291 700h6v2h-6zM1297 699h5v2h-5zM1302 698h5v2h-5zM1307 697h6v2h-6zM1313 696h5v2h-5zM1318 695h5v2h-5zM1323 694h6v2h-6zM1329 693h5v2h-5zM1334 692h6v2h-6zM1340 691h5v2h-5zM1345 690h5v2h-5zM1350 689h6v2h-6zM1356 688h5v2h-5zM1361 687h6v2h-6zM1367 686h5v2h-5zM1372 685h5v2h-5zM1377 684h6v2h-6zM1383 683h5v2h-5zM1388 682h5v2h-5zM1393 681h6v2h-6zM1399 680h5v2h-5zM1404 679h6v2h-6zM1410 678h5v2h-5zM1415 677h5v2h-5zM1420 676h6v2h-6zM1426 675h5v2h-5zM1431 674h5v2h-5zM1436 673h6v2h-6zM1442 672h5v2h-5zM1447 671h6v2h-6zM1453 670h5v2h-5zM1458 669h5v2h-5zM1463 668h6v2h-6zM1469 667h5v2h-5zM1474 666h5v2h-5zM1479 665h6v2h-6zM1485 664h5v2h-5zM1490 663h6v2h-6zM1496 662h5v2h-5zM1501 661h5v2h-5zM1506 660h6v2h-6zM1512 659h5v2h-5zM1517 658h6v2h-6zM1523 657h5v2h-5zM1528 656h5v2h-5zM1533 655h6v2h-6zM1539 654h5v2h-5zM1544 653h5v2h-5zM1549 652h6v2h-6zM1555 651h5v2h-5zM1560 650h6v2h-6zM1566 649h5v2h-5zM1571 648h5v2h-5zM1576 647h6v2h-6zM1582 646h5v2h-5zM1587 645h5v2h-5zM1592 644h6v2h-6zM1598 643h5v2h-5zM1603 642h6v2h-6zM1609 641h5v2h-5zM1614 640h5v2h-5zM1619 639h6v2h-6zM1625 638h5v2h-5zM1630 637h5v2h-5zM1635 636h6v2h-6zM1641 635h5v2h-5zM1646 634h6v2h-6zM1652 633h5v2h-5zM1657 632h5v2h-5zM1662 631h6v2h-6zM1668 630h5v2h-5zM1673 629h5v2h-5zM1678 628h6v2h-6zM1684 627h5v2h-5zM1689 626h6v2h-6zM1695 625h5v2h-5zM1700 624h5v2h-5zM1705 623h6v2h-6zM1711 622h5v2h-5zM1716 621h6v2h-6zM1722 620h5v2h-5zM1727 619h5v2h-5zM1732 618h6v2h-6zM1738 617h5v2h-5zM1743 616h5v2h-5zM1748 615h6v2h-6zM1754 614h5v2h-5zM1759 613h6v2h-6zM1765 612h5v2h-5zM1770 611h5v2h-5zM1775 610h6v2h-6zM1781 609h5v2h-5zM1786 608h5v2h-5zM1791 607h6v2h-6zM1797 606h5v2h-5zM1802 605h6v2h-6zM1808 604h5v2h-5zM1813 603h5v2h-5zM1818 602h6v2h-6zM1824 601h5v2h-5zM1829 600h5v2h-5zM1834 599h6v2h-6zM1840 598h5v2h-5z" fill="#008000"/>
</g>
<path d="M1846 917h7v1h-7zM1846 880h7v1h-7zM1846 844h7v1h-7zM1846 807h7v1h-7zM1846 770h7v1h-7zM1846 733h7v1h-7zM1846 696h7v1h-7zM1846 659h7v1h-7zM1846 622h7v1h-7zM1846 585h7v1h-7zM1846 548h7v1h-7zM1846 511h7v1h-7zM1846 474h7v1h-7zM1846 438h7v1h-7zM1846 401h7v1h-7zM1846 364h7v1h-7zM1846 327h7v1h-7zM1846 290h7v1h-7zM1846 253h7v1h-7zM1846 216h7v1h-7zM1846 179h7v1h-7zM1846 142h7v1h-7zM1846 105h7v1h-7zM1846 68h7v1h-7z" fill="#c0c0c0"/>
<rect x="1849" y="31" width="1" height="906" fill="#c0c0c0"/>
<rect x="0" y="936" width="1911" height="1" fill="#c0c0c0"/>
<rect x="1834" y="937" width="1" height="14" fill="#c0c0c0"/>
<rect x="1849" y="937" width="1" height="14" fill="#c0c0c0"/>
<rect x="0" y="30" width="1911" height="1" fill="#c0c0c0"/>
<rect x="0" y="15" width="126" height="1" fill="#c0c0c0"/>
<rect x="41" y="1" width="1" height="29" fill="#c0c0c0"/>
<rect x="126" y="1" width="1" height="29" fill="#c0c0c0"/>
<rect x="180" y="1" width="1" height="29" fill="#c0c0c0"/>
<rect x="1674" y="1" width="1" height="29" fill="#c0c0c0"/>
<rect x="1773" y="1" width="1" height="29" fill="#c0c0c0"/>
<rect x="1849" y="1" width="1" height="29" fill="#c0c0c0"/>
<rect x="0" y="0" width="1912" height="1" fill="#000000"/>
<rect x="0" y="951" width="1912" height="1" fill="#000000"/>
<rect x="0" y="0" width="1" height="952" fill="#000000"/>
<rect x="1911" y="0" width="1" height="952" fill="#000000"/>
<rect x="0" y="936" width="1" height="1" fill="#c0c0c0"/>
<rect x="0" y="15" width="1" height="1" fill="#c0c0c0"/>
<rect x="0" y="30" width="1" height="1" fill="#c0c0c0"/>
<rect x="1508.5" y="939.5" width="321" height="9" fill="#b4dafc" stroke="#78aaf0" stroke-width="1"/>
<rect x="140" y="937" width="1" height="14" fill="#c0c0c0"/>
<rect x="251" y="937" width="1" height="14" fill="#c0c0c0"/>
<rect x="356" y="937" width="1" height="14" fill="#c0c0c0"/>
<rect x="471" y="937" width="1" height="14" fill="#c0c0c0"/>
<rect x="576" y="937" width="1" height="14" fill="#c0c0c0"/>
<rect x="686" y="937" width="1" height="14" fill="#c0c0c0"/>
<rect x="797" y="937" width="1" height="14" fill="#c0c0c0"/>
<rect x="897" y="937" width="1" height="14" fill="#c0c0c0"/>
<rect x="1012" y="937" width="1" height="14" fill="#c0c0c0"/>
<rect x="1112" y="937" width="1" height="14" fill="#c0c0c0"/>
<rect x="1223" y="937" width="1" height="14" fill="#c0c0c0"/>
<rect x="1328" y="937" width="1" height="14" fill="#c0c0c0"/>
<rect x="1443" y="937" width="1" height="14" fill="#c0c0c0"/>
<rect x="1548" y="937" width="1" height="14" fill="#c0c0c0"/>
<rect x="1664" y="937" width="1" height="14" fill="#c0c0c0"/>
<rect x="1779" y="937" width="1" height="14" fill="#c0c0c0"/>
<path d="M31 6h7l-3.5 4z" fill="#000"/>
<path d="M31 21h7l-3.5 4z" fill="#000"/>
<path d="M1365 31h7v1h-1v1h-1v1h-1v1h-1v-1h-1v-1h-1v-1h-1z" fill="#22cc22"/>
<path d="M1902 47h9v9h-9zM1903 48v7h7v-7z" fill="#c0c0c0" fill-rule="evenodd"/>
<rect x="1904" y="51" width="5" height="1" fill="#a0a0a0"/>
<rect x="1850" y="637" width="61" height="14" fill="#0000ff"/>
<rect x="1850" y="644" width="3" height="1" fill="#ffffff"/>
<g font-family="'Liberation Sans', Arial, sans-serif" shape-rendering="auto"><text x="4" y="13" font-size="12.4" text-anchor="start" font-weight="normal" fill="#000" textLength="23" lengthAdjust="spacing">273</text><text x="2" y="28" font-size="12.4" text-anchor="start" font-weight="normal" fill="#000" textLength="28" lengthAdjust="spacing">Tage</text><text x="43" y="13" font-size="12.4" text-anchor="start" font-weight="normal" fill="#000" textLength="81.7" lengthAdjust="spacing">Do 20.04.2017</text><text x="43" y="28" font-size="12.4" text-anchor="start" font-weight="normal" fill="#000" textLength="82.1" lengthAdjust="spacing">Mo 14.05.2018</text><text x="153" y="12" font-size="12.4" text-anchor="middle" font-weight="normal" fill="#000">BITCOIN</text><text x="153" y="27" font-size="12.4" text-anchor="middle" font-weight="normal" fill="#000">USD</text><text x="183" y="16" font-size="14" text-anchor="start" font-weight="bold" fill="#000" textLength="82.9" lengthAdjust="spacing">Bitcoin USD</text><text x="1723.5" y="12" font-size="12.4" text-anchor="middle" font-weight="normal" fill="#000" textLength="46.4" lengthAdjust="spacing">Devisen</text><text x="1723.5" y="27" font-size="12.4" text-anchor="middle" font-weight="normal" fill="#000" textLength="94.7" lengthAdjust="spacing">Cryptocurrencies</text><text x="1776" y="12" font-size="12.4" text-anchor="start" font-weight="normal" fill="#000" textLength="66.4" lengthAdjust="spacing">H: 19265.71</text><text x="1776" y="27" font-size="12.4" text-anchor="start" font-weight="normal" fill="#000" textLength="58.7" lengthAdjust="spacing">L: 1204.98</text><text x="1854" y="12" font-size="12.4" text-anchor="start" font-weight="normal" fill="#000" textLength="46.4" lengthAdjust="spacing">8399.09</text><text x="1855.5" y="27" font-size="12.4" text-anchor="start" font-weight="normal" fill="#000" textLength="63.7" lengthAdjust="spacing">164265.7/8</text><text x="5" y="46" font-size="12.4" text-anchor="start" font-weight="normal" fill="#000" textLength="1303.4" lengthAdjust="spacing">Alle Trendkanäle bzw. andere Linien, oder Grafiken hier sind keine Empfehlungen, oder Beratung, sondern die zeigen ausschließlich meine eigene Meinung. Alle Chartdaten sind ohne Gewähr.&#160; www.wikifolio.com/de/de/p/cyberwaehrungen</text><text x="1852" y="44" font-size="12.4" text-anchor="start" font-weight="normal" fill="#000" textLength="56.7" lengthAdjust="spacing">(c)Tai-Pan</text><text x="1855" y="922" font-size="12.4" text-anchor="start" font-weight="normal" fill="#000" textLength="45.4" lengthAdjust="spacing">1000.00</text><text x="1855" y="885" font-size="12.4" text-anchor="start" font-weight="normal" fill="#000" textLength="45.4" lengthAdjust="spacing">2000.00</text><text x="1855" y="849" font-size="12.4" text-anchor="start" font-weight="normal" fill="#000" textLength="45.4" lengthAdjust="spacing">3000.00</text><text x="1855" y="812" font-size="12.4" text-anchor="start" font-weight="normal" fill="#000" textLength="45.4" lengthAdjust="spacing">4000.00</text><text x="1855" y="775" font-size="12.4" text-anchor="start" font-weight="normal" fill="#000" textLength="45.4" lengthAdjust="spacing">5000.00</text><text x="1855" y="738" font-size="12.4" text-anchor="start" font-weight="normal" fill="#000" textLength="45.4" lengthAdjust="spacing">6000.00</text><text x="1855" y="701" font-size="12.4" text-anchor="start" font-weight="normal" fill="#000" textLength="45.4" lengthAdjust="spacing">7000.00</text><text x="1855" y="664" font-size="12.4" text-anchor="start" font-weight="normal" fill="#000" textLength="45.4" lengthAdjust="spacing">8000.00</text><text x="1855" y="627" font-size="12.4" text-anchor="start" font-weight="normal" fill="#000" textLength="45.4" lengthAdjust="spacing">9000.00</text><text x="1855" y="590" font-size="12.4" text-anchor="start" font-weight="normal" fill="#000" textLength="52" lengthAdjust="spacing">10000.00</text><text x="1855" y="553" font-size="12.4" text-anchor="start" font-weight="normal" fill="#000" textLength="52" lengthAdjust="spacing">11000.00</text><text x="1855" y="516" font-size="12.4" text-anchor="start" font-weight="normal" fill="#000" textLength="52" lengthAdjust="spacing">12000.00</text><text x="1855" y="479" font-size="12.4" text-anchor="start" font-weight="normal" fill="#000" textLength="52" lengthAdjust="spacing">13000.00</text><text x="1855" y="443" font-size="12.4" text-anchor="start" font-weight="normal" fill="#000" textLength="52" lengthAdjust="spacing">14000.00</text><text x="1855" y="406" font-size="12.4" text-anchor="start" font-weight="normal" fill="#000" textLength="52" lengthAdjust="spacing">15000.00</text><text x="1855" y="369" font-size="12.4" text-anchor="start" font-weight="normal" fill="#000" textLength="52" lengthAdjust="spacing">16000.00</text><text x="1855" y="332" font-size="12.4" text-anchor="start" font-weight="normal" fill="#000" textLength="52" lengthAdjust="spacing">17000.00</text><text x="1855" y="295" font-size="12.4" text-anchor="start" font-weight="normal" fill="#000" textLength="52" lengthAdjust="spacing">18000.00</text><text x="1855" y="258" font-size="12.4" text-anchor="start" font-weight="normal" fill="#000" textLength="52" lengthAdjust="spacing">19000.00</text><text x="1855" y="221" font-size="12.4" text-anchor="start" font-weight="normal" fill="#000" textLength="52" lengthAdjust="spacing">20000.00</text><text x="1855" y="184" font-size="12.4" text-anchor="start" font-weight="normal" fill="#000" textLength="52" lengthAdjust="spacing">21000.00</text><text x="1855" y="147" font-size="12.4" text-anchor="start" font-weight="normal" fill="#000" textLength="52" lengthAdjust="spacing">22000.00</text><text x="1855" y="110" font-size="12.4" text-anchor="start" font-weight="normal" fill="#000" textLength="52" lengthAdjust="spacing">23000.00</text><text x="1855" y="73" font-size="12.4" text-anchor="start" font-weight="normal" fill="#000" textLength="52" lengthAdjust="spacing">24000.00</text><text x="1855" y="649" font-size="12.4" text-anchor="start" font-weight="normal" fill="#ffffff" textLength="45.4" lengthAdjust="spacing">8399.09</text><text x="140" y="949" font-size="12.4" text-anchor="end" font-weight="normal" fill="#000">06</text><text x="142" y="949" font-size="12.4" text-anchor="start" font-weight="normal" fill="#000">17</text><text x="251" y="949" font-size="12.4" text-anchor="end" font-weight="normal" fill="#000">07</text><text x="253" y="949" font-size="12.4" text-anchor="start" font-weight="normal" fill="#000">17</text><text x="356" y="949" font-size="12.4" text-anchor="end" font-weight="normal" fill="#000">08</text><text x="358" y="949" font-size="12.4" text-anchor="start" font-weight="normal" fill="#000">17</text><text x="471" y="949" font-size="12.4" text-anchor="end" font-weight="normal" fill="#000">09</text><text x="473" y="949" font-size="12.4" text-anchor="start" font-weight="normal" fill="#000">17</text><text x="576" y="949" font-size="12.4" text-anchor="end" font-weight="normal" fill="#000">10</text><text x="578" y="949" font-size="12.4" text-anchor="start" font-weight="normal" fill="#000">17</text><text x="686" y="949" font-size="12.4" text-anchor="end" font-weight="normal" fill="#000">11</text><text x="688" y="949" font-size="12.4" text-anchor="start" font-weight="normal" fill="#000">17</text><text x="797" y="949" font-size="12.4" text-anchor="end" font-weight="normal" fill="#000">12</text><text x="799" y="949" font-size="12.4" text-anchor="start" font-weight="normal" fill="#000">17</text><text x="897" y="949" font-size="12.4" text-anchor="end" font-weight="normal" fill="#000">01</text><text x="899" y="949" font-size="12.4" text-anchor="start" font-weight="normal" fill="#000">18</text><text x="1012" y="949" font-size="12.4" text-anchor="end" font-weight="normal" fill="#000">02</text><text x="1014" y="949" font-size="12.4" text-anchor="start" font-weight="normal" fill="#000">18</text><text x="1112" y="949" font-size="12.4" text-anchor="end" font-weight="normal" fill="#000">03</text><text x="1114" y="949" font-size="12.4" text-anchor="start" font-weight="normal" fill="#000">18</text><text x="1223" y="949" font-size="12.4" text-anchor="end" font-weight="normal" fill="#000">04</text><text x="1225" y="949" font-size="12.4" text-anchor="start" font-weight="normal" fill="#000">18</text><text x="1328" y="949" font-size="12.4" text-anchor="end" font-weight="normal" fill="#000">05</text><text x="1330" y="949" font-size="12.4" text-anchor="start" font-weight="normal" fill="#000">18</text><text x="1443" y="949" font-size="12.4" text-anchor="end" font-weight="normal" fill="#000">06</text><text x="1445" y="949" font-size="12.4" text-anchor="start" font-weight="normal" fill="#000">18</text><text x="1548" y="949" font-size="12.4" text-anchor="end" font-weight="normal" fill="#000">07</text><text x="1550" y="949" font-size="12.4" text-anchor="start" font-weight="normal" fill="#000">18</text><text x="1664" y="949" font-size="12.4" text-anchor="end" font-weight="normal" fill="#000">08</text><text x="1666" y="949" font-size="12.4" text-anchor="start" font-weight="normal" fill="#000">18</text><text x="1779" y="949" font-size="12.4" text-anchor="end" font-weight="normal" fill="#000">09</text><text x="1781" y="949" font-size="12.4" text-anchor="start" font-weight="normal" fill="#000">18</text><text x="1838" y="948" font-size="12.4" text-anchor="start" font-weight="normal" fill="#000">L</text><text x="1855" y="949" font-size="12.4" text-anchor="start" font-weight="normal" fill="#000" textLength="48" lengthAdjust="spacing">14.05.18</text></g>
</svg>
</body></html>
